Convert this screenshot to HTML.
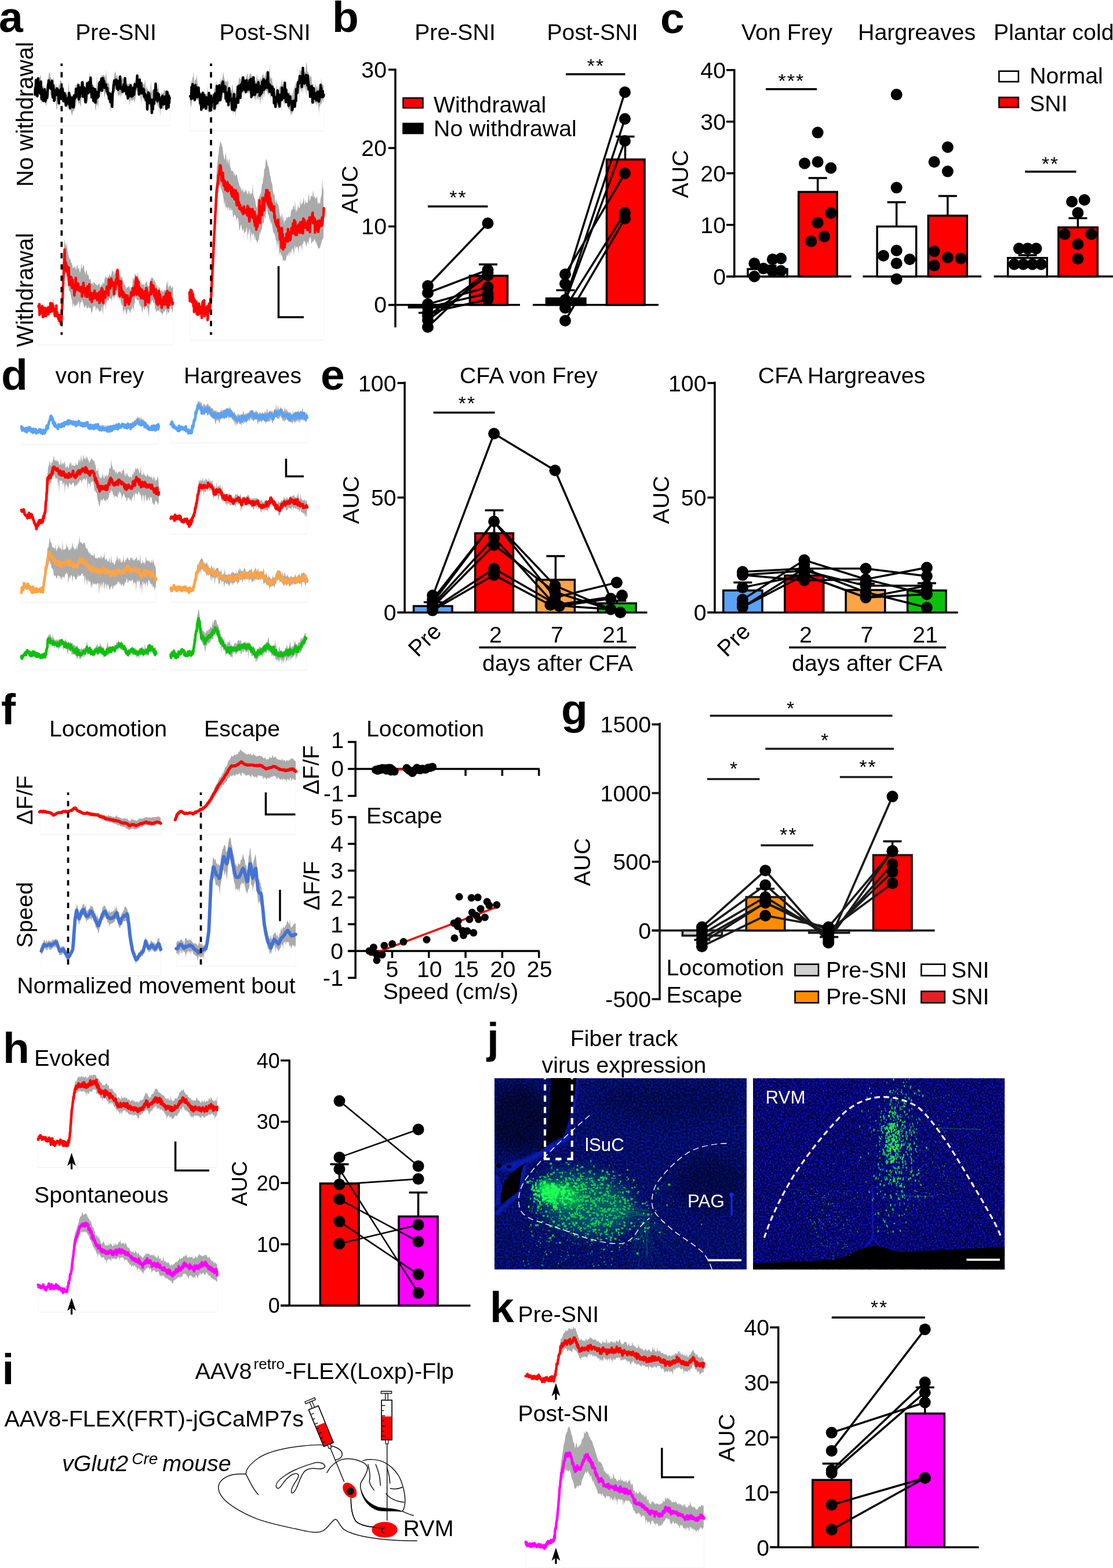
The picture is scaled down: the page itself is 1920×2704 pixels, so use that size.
<!DOCTYPE html><html><head><meta charset="utf-8"><title>Figure</title><style>html,body{margin:0;padding:0;background:#fff}svg text{white-space:pre;stroke:none}</style></head><body><svg width="1920" height="2704" viewBox="0 0 1920 2704" font-family="Liberation Sans, sans-serif" stroke="#000" fill="#000" style="display:block"><defs><filter id="sp1" x="0" y="0" width="1" height="1" color-interpolation-filters="sRGB"><feTurbulence type="fractalNoise" baseFrequency="0.3" numOctaves="3" seed="7"/><feColorMatrix type="matrix" values="0 0 0 0 0.03  0 0 0 0 0.09  0 0 0 0 0.72  0 0 3.0 0 -1.25"/></filter><filter id="sp2" x="0" y="0" width="1" height="1" color-interpolation-filters="sRGB"><feTurbulence type="fractalNoise" baseFrequency="0.36" numOctaves="3" seed="11"/><feColorMatrix type="matrix" values="0 0 0 0 0.07  0 0 0 0 0.07  0 0 0 0 0.92  0 0 4.2 0 -2.02"/></filter><filter id="b6" x="-0.5" y="-0.5" width="2" height="2"><feGaussianBlur stdDeviation="6"/></filter><filter id="b12" x="-0.5" y="-0.5" width="2" height="2"><feGaussianBlur stdDeviation="14"/></filter><filter id="b1" x="-0.1" y="-0.1" width="1.2" height="1.2"><feGaussianBlur stdDeviation="0.7"/></filter><filter id="b2" x="-0.3" y="-0.3" width="1.6" height="1.6"><feGaussianBlur stdDeviation="2.2"/></filter><clipPath id="c1"><rect x="853" y="1859.3" width="435" height="330"/></clipPath><clipPath id="c2"><rect x="1299" y="1859.3" width="434.3" height="330"/></clipPath></defs><g stroke="none"></g><g id="panel_a">
<text x="-2" y="55" font-size="75" font-weight="bold">a</text>
<text x="200" y="69" font-size="39.3" text-anchor="middle">Pre-SNI</text>
<text x="457" y="69" font-size="39.3" text-anchor="middle">Post-SNI</text>
<text x="57" y="197" font-size="39.8" text-anchor="middle" transform="rotate(-90 57 197)">No withdrawal</text>
<text x="57" y="500" font-size="39.8" text-anchor="middle" transform="rotate(-90 57 500)">Withdrawal</text>
<path d="M61 217H293" fill="none" stroke="#ededed" stroke-width="1"/><path d="M61 163V217M293 217V168" fill="none" stroke="#f7f7f7" stroke-width="1"/>
<path d="M60.3 148.5l1-1.2 1-9 1 8.3 1-7.3 1 2.4 1-7.5 1 5.2 1-6 1-2.3 1-2.1 1 17 1-4.5 1 8.1 1 1.2 1-4.6 1 5.2 1 0 1 4.4 1 2.6 1-7.1 1-12.9 1-2.1 1 .1 1-8.7 1-3.9 1 4.9 1 5.6 1-.5 1 4 1 5.8 1 6 1-19 1 12.3 1 7.1 1 2 1-9.6 1 7.8 1-.3 1 .8 1 .4 1-3.1 1-3.5 1 2.4 1-9.4 1 1.9 1-.2 1 9 1 1.5 1 0 1-1 1 11.1 1 1.4 1 3.4 1-6.5 1 .4 1 7.2 1-2 1-23.9 1 20.4 1-3.5 1 4.4 1 .7 1 2.7 1 1.5 1-3.6 1 5.9 1 0 1-6.1 1-6.1 1-7 1-3.4 1 2 1-4 1-2.4 1 7.1 1-3.6 1 7.1 1 2.7 1-3.1 1-4.9 1-7.7 1 2.5 1 .2 1-5.1 1 14.1 1-1.2 1 8.7 1-8.7 1 2.8 1-1.5 1-10.6 1-2.1 1 1.4 1-16.8 1 15.2 1 1.2 1 2.9 1 3.1 1-.4 1 1.8 1 1.9 1-3.2 1 11 1 1 1-3.8 1 3.3 1-30.4 1 28.5 1-4.3 1-7 1-.8 1-3.4 1-6.2 1 3.1 1-8.3 1 4.6 1-2.4 1-1.5 1 1 1 3.7 1-5.2 1 10.3 1-17.7 1 18.4 1 4.4 1-.2 1-1.7 1 4.2 1 9.5 1 4.3 1 1.1 1 5 1-12.2 1-12.8 1-.8 1-4.3 1-7 1-4.1 1-2 1 10.2 1-4.3 1 8.1 1-8.6 1 9.3 1 .7 1-1 1 .8 1-1.2 1 3.9 1-5.3 1-.7 1 .2 1 3.2 1-3.6 1-2.5 1 3.3 1 .7 1 6.3 1 2.1 1 .7 1 1.1 1-2 1 .7 1-2.8 1 7.6 1-8.4 1 10 1-7.7 1 6.8 1-3.5 1-3 1-6.1 1 5.5 1-7.3 1-1.5 1-2.6 1-3.1 1 5.8 1 4.1 1 .3 1-8.1 1 9.6 1-.5 1 2.1 1-.4 1 .5 1 2.6 1 2.2 1-3 1-7.9 1 16.9 1 .6 1-5.7 1 6.9 1-1.6 1 8.2 1-5.9 1 6.5 1-3 1-20.9 1 22.3 1-3.1 1-1.3 1-.8 1 0 1-7.4 1-2.1 1-4.4 1 3.7 1 9.5 1-.4 1-.1 1-10.3 1 16.1 1 3.3 1 3.7 1 .6 1-9.2 1 5.4 1-3.7 1 2 1-1.7 1-8.1 1 6 1-2.9 1 6.6 1-1.9 1-1 1-.6 1-1.2 1 .6 1 3.6 0 20.6-1 6.1-1-4.1-1-.5-1 8.2-1-6.2-1-2.2-1 2-1-4-1 2-1 4.8-1 1-1-.9-1-3.2-1 3.3-1-2.5-1 16.3-1-18.9-1-4.1-1 10.9-1-11.8-1 5.2-1-2.3-1-9.4-1-2.8-1 14-1-8.5-1 7.4-1 6.1-1-4.6-1 7.6-1 5.3-1-5.6-1-4.2-1-2.5-1-3.2-1-1.4-1 6.1-1-1.1-1-4.6-1-6.5-1 1.3-1-3.8-1-3.1-1 7.6-1-2.6-1-6.6-1-2.1-1 19.2-1-24.7-1 19.4-1-19.1-1 .8-1-2.6-1-3-1-2.4-1 8.9-1-4.4-1 8.4-1 7.3-1 7.3-1-7.8-1 1.5-1 1.7-1-2.3-1 1.6-1 .9-1-4.9-1 7.7-1 4.8-1-18.5-1 8.7-1-9.4-1 .6-1 5.1-1-10.1-1 2.4-1 .5-1-3.9-1 1.9-1 2.8-1-.1-1-2.2-1 8.2-1-7.6-1 8.4-1-6.6-1 1.5-1 2-1-.8-1-8.7-1-2.5-1-.8-1-.2-1 5-1-6.2-1 8.3-1 12.1-1-3.7-1 8.9-1 6.6-1 .9-1 8.3-1-18.7-1 9.7-1-12.8-1-2.1-1-3.6-1-4.5-1-.7-1 .2-1 4.1-1 5.2-1-10.6-1-7.8-1 5.4-1-2.3-1 13.8-1-11.8-1 4.1-1 .9-1-.5-1 7.2-1 20.5-1-10-1 2.6-1 .3-1 9.9-1-4.4-1-10.9-1 4.4-1-8.8-1-2.8-1-.6-1 0-1-2.8-1-7-1 6.6-1-2.5-1-.8-1 3.5-1 14.4-1-10.2-1 11.2-1-5.2-1 6.2-1-3.8-1-6.7-1-6.8-1-1.8-1-1-1 3.8-1 6.4-1 12.5-1-2.7-1-4.7-1 1.5-1 2.4-1-7.9-1-3.4-1 1-1 14.7-1-11.5-1 10.4-1 5.5-1 2.6-1-1.5-1 4.6-1 4.3-1-3.2-1-4.5-1-4-1-5.1-1-.3-1 2.2-1 3.8-1-5.4-1 2-1-3.9-1 .8-1 .1-1-2-1-3.4-1-3.5-1-2.5-1 2.8-1-2.4-1-.2-1 1.3-1-.5-1-1.1-1 9.7-1-5.5-1 .1-1 14.2-1 0-1-16.6-1 1.3-1 1.7-1-6.1-1 4-1 .3-1-9.8-1 4.7-1-6.8-1 5.2-1-15.7-1 .4-1-1.8-1 10.7-1 7.9-1 7.6-1 7.7-1-7-1 4.9-1-4.8-1-4-1 8.5-1-12.8-1 8.4-1-6.4-1 10.4-1-18.7-1-3-1-1.6-1 3.6-1 5.7-1-3.9-1 6.7-1-1.9-1-1.2-1 .5-1 4.6z" fill="#aaa" stroke="none"/>
<path d="M60.3 163.1l.6-11.6 .6 3.7 .6-17 .6 12.3 .6 6.3 .6 .3 .6 8.7 .6-20.9 .6-9.7 .6 18.9 .6-8.5 .6 6.5 .6 2.6 .6-.5 .6 7.2 .6 .3 .6-21.1 .6 13.8 .6 16.5 .6-17.2 .6 11.4 .6-6.1 .6-2.3 .6 17.2 .6-3.9 .6-8.6 .6 8.1 .6-15.5 .6 6.9 .6 13.6 .6-5.1 .6-10 .6 8.8 .6-4.7 .6 5.6 .6-5.6 .6-13 .6-5.1 .6-1.5 .6-5.1 .6 8.6 .6 2.5 .6 1.5 .6-6 .6-2.6 .6 10.2 .6-8.2 .6 7.2 .6-12.5 .6 12 .6 16.4 .6-15 .6-5.7 .6 12.7 .6 13.8 .6-.9 .6-14.8 .6 1.3 .6 1.7 .6-5.4 .6 8 .6-.4 .6-10.5 .6 8.7 .6 2.7 .6-5.5 .6-3.4 .6 16.1 .6 7.1 .6-17.3 .6-1.2 .6 6.2 .6-5.7 .6-5.8 .6 15.2 .6-17.1 .6 2.2 .6-.8 .6-.6 .6 6.4 .6 5.9 .6 8.7 .6-2.5 .6-3.4 .6-7.9 .6 9.3 .6-5.7 .6 8.7 .6 8.8 .6-6.8 .6-1 .6-2.9 .6 4.1 .6 .2 .6-6.6 .6 1.3 .6 9.5 .6-19.2 .6 9.9 .6-4.5 .6 20.9 .6-7 .6 1 .6-.2 .6-.7 .6 1.5 .6-12.9 .6 13.6 .6 2.8 .6-16.2 .6 16.5 .6-2.3 .6-18.4 .6 5.6 .6-.3 .6-4.8 .6 3.2 .6-15 .6 5.3 .6 1.1 .6 1.1 .6-2.9 .6-.1 .6 8.6 .6-19.6 .6 24.8 .6-7 .6-5.8 .6 8.4 .6-11.3 .6-4.7 .6 7.9 .6-5.8 .6 7.8 .6-14.7 .6-4.3 .6 4.7 .6 20.1 .6-11.3 .6-3.9 .6-.7 .6 1.2 .6 9.2 .6 6.8 .6 8 .6 .2 .6-8.6 .6-8.4 .6-2.8 .6-12.8 .6 7.5 .6 9.8 .6-7.4 .6 2.7 .6-14 .6 16.4 .6-6.9 .6-3.1 .6 4.9 .6-19.5 .6 13.4 .6-.1 .6 20.6 .6-13.6 .6 0 .6 12.1 .6-14.1 .6 21.5 .6-15.3 .6 6.2 .6-4.8 .6 15.4 .6-21.5 .6 23.1 .6-11.4 .6 3.7 .6-10.6 .6 9.4 .6-1.9 .6 2.3 .6-3.2 .6 1.6 .6-.7 .6-13.5 .6-8.7 .6-2.2 .6 11.4 .6-7.6 .6 9.9 .6-9.7 .6-10.1 .6 13.4 .6 7.3 .6-15.6 .6-6.1 .6 1.9 .6 13.7 .6-10.7 .6 2.1 .6 9.6 .6-4.2 .6 3.2 .6-4.8 .6 1.1 .6 5.6 .6 2.5 .6 3 .6-5.6 .6 8.1 .6 3.1 .6-2.7 .6 4.2 .6 5.8 .6-5.1 .6 1.2 .6-5.2 .6 14.4 .6-3.1 .6 1 .6-4.1 .6 6.5 .6 8 .6-19.4 .6-6.6 .6-.4 .6-11.3 .6 1.4 .6-8.9 .6 .1 .6 5.2 .6-1.5 .6-.8 .6-4.4 .6 8.5 .6-7.8 .6 14.8 .6-7.9 .6 3 .6 6.6 .6-1.6 .6-13.1 .6 7.6 .6 4.7 .6-9.6 .6-10.5 .6 18 .6 .3 .6 3.1 .6-3.5 .6 0 .6 .8 .6 7.5 .6-6.8 .6 0 .6-6 .6 11.2 .6-8.4 .6 7.9 .6-21.4 .6 18.3 .6-2.2 .6-3.2 .6 14.7 .6-5 .6-4.3 .6-2 .6 18.5 .6-8.9 .6 .2 .6-10.6 .6 15.6 .6-5.2 .6-4.7 .6 .9 .6-9.8 .6 16.4 .6-12 .6 15 .6-8.4 .6-2.3 .6 9.4 .6-1.4 .6-12.3 .6 7.2 .6 4.2 .6-8.5 .6-9.4 .6 7.9 .6-6.8 .6 1.4 .6 2.1 .6-2.6 .6-4.4 .6-12.2 .6 15.3 .6-1.8 .6-.8 .6 6 .6 13.8 .6-22.7 .6-2.9 .6 17.9 .6-11.3 .6 16.3 .6-16.9 .6 5.6 .6 10.3 .6 1.8 .6-2.5 .6 .3 .6-5.4 .6-.2 .6 1.9 .6 11.6 .6-2.4 .6-2.5 .6 2 .6 5.4 .6 3.7 .6-8.3 .6 .2 .6 5.8 .6 18 .6-18 .6 7.7 .6-18.9 .6 18.2 .6-16.6 .6 5 .6 4.4 .6 3.5 .6 2 .6 2.4 .6-1.9 .6-4.6 .6 22.8 .6-16.6 .6 1.1 .6 9.3 .6-9.5 .6-5.1 .6-3.8 .6 8.7 .6-23.3 .6-.9 .6 6.5 .6-16.6 .6 11.6 .6 15.3 .6-9.3 .6 7.1 .6 5.4 .6-13.6 .6 10.8 .6-6.3 .6-3 .6 6.8 .6 3.2 .6 .2 .6-1.6 .6 13.1 .6 1.3 .6-5.3 .6-6.3 .6-6.6 .6-.5 .6-1.6 .6 10.2 .6 4.6 .6-1.7 .6-6.4 .6-4.7 .6 4 .6-.5 .6 3.3 .6 5.6 .6-14.1 .6 22.2 .6-29.6 .6 1.2 .6 2.9 .6 1.7 .6 5.1 .6 16.2 .6-20.1 .6 12.5 .6-9.2" fill="none" stroke="#000" stroke-width="4.4" stroke-linejoin="round" stroke-linecap="round"/>
<path d="M328 226H559" fill="none" stroke="#ededed" stroke-width="1"/><path d="M328 166V226M559 226V163" fill="none" stroke="#f7f7f7" stroke-width="1"/>
<path d="M328.1 148l1-1.6 1-8.4 1 5.5 1-10.2 1-.4 1-10.3 1 26.2 1-11.3 1-.5 1 1.2 1-10.8 1 11.1 1 6.2 1 4.3 1 1 1 1.7 1 6.5 1-.2 1 4 1-1.2 1 .4 1-2.2 1-2.8 1 5.5 1-3.7 1 4.8 1-1.4 1 1 1 .4 1-14 1 14.3 1-1.8 1 .2 1-1.3 1 3.1 1 .2 1-1.1 1 3.7 1-5.2 1 1.1 1-3.2 1-14.3 1 12.7 1-20.2 1 19.4 1-20 1 16 1-.9 1-5.1 1-2.3 1 2.6 1-13.1 1 8.3 1-4.5 1-.7 1-3.3 1-10.5 1 8.7 1 4.1 1 3.2 1 2.3 1-.6 1-.8 1 2.2 1-7.2 1 18.5 1-3.3 1 5.4 1 .1 1-1 1 3.1 1-4.7 1-10.7 1 19 1-2.6 1-4.4 1 6.6 1 1 1-.6 1-11.4 1-1.3 1 .5 1-3.3 1-9.3 1-3.9 1 3.7 1 .7 1-1.8 1-6 1 7.4 1-4.1 1-1.2 1 .7 1 3.6 1 5 1-6.2 1-.7 1-7.3 1 1.7 1 10.2 1-3.3 1-3 1-4.9 1-.2 1 1 1 3.6 1-1.2 1 8.7 1-8.2 1 5.9 1 .7 1 .9 1 3.1 1-.8 1-15 1 12.8 1-3.6 1 4.2 1-3.3 1 8.3 1-12.1 1 5.3 1 .4 1-7.1 1-.3 1-3.8 1 6 1 2.7 1-5.1 1-7.2 1 9.6 1-.1 1-1.5 1-6 1 9.2 1-.3 1-24.2 1 27 1-4.9 1 4.9 1-2.4 1 9.9 1 2.6 1 .2 1 5.6 1 1.7 1 7.5 1-1.3 1-17.5 1 10.6 1-.8 1 1.2 1 1.9 1-3.8 1-3.7 1-1.7 1 4.4 1-15.4 1 8.9 1 1.5 1 1.3 1-2.9 1 2.5 1 1.7 1 1.7 1 2.3 1 1.9 1 3.9 1 2.4 1-1.7 1-1.7 1 3.2 1 2.3 1 3.8 1-2.2 1-6.9 1 12.4 1-14 1-.9 1-8.2 1 6.2 1-11.5 1 2.7 1-.5 1-8.9 1 5.9 1-5.9 1-.7 1-13.6 1-.9 1 4.2 1-3.6 1 5.8 1-3 1-5.9 1 6.4 1 .1 1 2.7 1-4 1-11.4 1-3.8 1 15.4 1 2.2 1 .5 1 8.6 1 6.1 1-11.5 1 4.7 1-1.9 1 13.5 1 1 1-1.6 1 4.9 1 3.4 1 4.6 1-15.9 1 10.1 1-3.3 1 8.1 1-10.8 1 8.8 1 1.2 1-2.9 1-3.6 1-1 1-13.4 1 15.5 1-4.9 1 .4 1 3.4 0 28.9-1-3.1-1-3.9-1 7.1-1 3.3-1-4.4-1 8.1-1-1.8-1 12.7-1-14-1-3.7-1-.6-1 6.9-1-10.9-1 7.4-1-4.6-1 1.1-1 3.4-1-4.6-1-6.1-1-4.1-1 18.9-1-21.8-1 6-1-1.4-1-11.2-1-.6-1-3.9-1-2.1-1 .3-1 16.7-1-22-1 12.6-1-11.3-1 10.3-1-11.7-1 19.4-1-16.6-1 13.4-1-5.1-1-2.3-1-1.9-1 18.1-1-11-1 2.8-1 3.8-1 9.1-1-.8-1 7.7-1-7.3-1 12.2-1-4.4-1 8.6-1 5.6-1-2.6-1 6.1-1-4.4-1 4.4-1-10.2-1 .1-1-1.7-1-.2-1-3.2-1-3.7-1-3.3-1-5.4-1-5-1 16.6-1-15.7-1 12.9-1-6.5-1-.5-1-1.4-1 19.1-1-17.6-1 3.1-1 7.8-1 .2-1 4.1-1-10.2-1 5.9-1 1-1 .1-1-4.6-1 .7-1-5.3-1-1.7-1-3.1-1-2.2-1-2.8-1-2.8-1 7.9-1-9.5-1-2-1-1.4-1 5.1-1-.6-1-5-1-1.4-1 0-1-1.6-1 2.6-1 10.6-1-7.5-1 1.4-1 12.8-1-14.2-1 10.1-1-3.9-1 14.2-1-11.3-1-3.9-1 7.8-1-6.6-1 5-1-3.7-1-7.8-1 16.6-1-11.2-1 6.2-1-7.7-1-1.5-1 .7-1-.3-1-3.4-1 3.4-1-1.8-1 1.7-1-5-1 1.2-1 .7-1 .4-1-2.8-1 .2-1 1.1-1 5-1-5.7-1-1.2-1 8.5-1-10-1 5.7-1-3.3-1 14.2-1-7.2-1-3-1-1.8-1 4.6-1 9.2-1-2.2-1 7.1-1 14.4-1-8.4-1 17.8-1-14.8-1 1.3-1-1.1-1 11.1-1-15.2-1 7.4-1-10.1-1 8.2-1-11.1-1-2.6-1 6.1-1-8.6-1 .8-1-2.1-1-3.3-1-1.2-1-5-1 1.5-1-3.1-1-2-1-.7-1 12-1-3.7-1 3.8-1-2.9-1 2.2-1 11.9-1-12.5-1 15-1-7.3-1 9.1-1-12-1 16.3-1-8.4-1 10.6-1-5.9-1-.8-1 7.9-1-8.6-1 7.2-1-2.1-1 2.7-1-8.2-1 9.4-1 .4-1-3.5-1 3.6-1-7.4-1 4.6-1-4-1-2-1-1.9-1 4.3-1-3.3-1-3.5-1 4.8-1-1.7-1 9-1-10-1 9.7-1-12.2-1 1.2-1 .5-1-8.8-1-2.5-1 .9-1-1-1 .8-1-2-1-1.3-1 3.7-1 2.4-1-8.1-1 1.4-1 6.1-1 9.1-1 .8-1-7.4z" fill="#aaa" stroke="none"/>
<path d="M328.1 165.7l.6 0 .6 1.2 .6 3.7 .6-20.2 .6 10.8 .6 7.1 .6-23 .6 13.7 .6 3.5 .6 7.6 .6 .3 .6-11.8 .6 14 .6-23.9 .6-1.9 .6 19.7 .6-3.7 .6-11.7 .6 16.3 .6 0 .6 .1 .6-9.5 .6-5.7 .6-1.2 .6 11.8 .6 1.4 .6-.9 .6 2.5 .6 12.1 .6-15.1 .6 4.1 .6 22.3 .6-21.3 .6 1.6 .6 12.6 .6-22 .6 25.2 .6-21.8 .6 2 .6-2.1 .6 3.8 .6 1.9 .6 13.2 .6-6.1 .6 11 .6-5.1 .6-14.3 .6 9.2 .6-5.4 .6 1.7 .6 4.4 .6 .8 .6 1.5 .6-19.7 .6 14.2 .6-2.9 .6 18.9 .6-16.3 .6 2.8 .6 .9 .6 5.9 .6-15.4 .6 7.7 .6-1.1 .6-.9 .6-2 .6-2.5 .6 4.4 .6-10.5 .6 23.6 .6-12.5 .6-13.5 .6 9.8 .6 8 .6-11.8 .6-.4 .6-18.4 .6 29.1 .6-11.4 .6-16 .6 10.8 .6 12.4 .6-11.1 .6-15.1 .6 7.8 .6 3.9 .6 13.7 .6-15.2 .6 4 .6-9.5 .6 2.2 .6-8.7 .6-2.1 .6-2.3 .6 4.2 .6 12.7 .6-10.2 .6 10.9 .6-2.5 .6-3 .6-3.7 .6 21.1 .6-7.3 .6 1.7 .6 10 .6-5.9 .6-9 .6 2.1 .6 4.7 .6 14.7 .6-23.9 .6-5.2 .6 10.4 .6 3.1 .6-4.2 .6 11.9 .6-.9 .6-2.5 .6 1.2 .6 14.9 .6 3 .6-1.3 .6-16.4 .6 13.4 .6-16.9 .6-5.6 .6 27.8 .6-6 .6-2.6 .6 3.8 .6 0 .6-12 .6-2.5 .6-.1 .6-.2 .6-6.4 .6-14.8 .6 27.7 .6-28.1 .6-1 .6 6.3 .6-5.9 .6 3.8 .6 16.5 .6-8.1 .6-14.8 .6 6.5 .6-3.9 .6 7.8 .6-15 .6-.7 .6-6.9 .6 15.4 .6-.2 .6 3.7 .6 2 .6-15 .6 8.8 .6-5.5 .6 15.9 .6-3.2 .6-17.1 .6 13.1 .6-1.9 .6-.1 .6 4.9 .6-9.9 .6 1.9 .6-4 .6 .4 .6-4.5 .6 16.7 .6-3.5 .6-5.2 .6-10.4 .6 31.6 .6-16.9 .6 1.9 .6 2.4 .6 8.9 .6-15.7 .6-14.7 .6 14.9 .6 3.2 .6-5 .6 17 .6-15.2 .6 5.5 .6-7.8 .6 12.8 .6-11.6 .6 11.8 .6-4.6 .6 .9 .6 .5 .6-13.8 .6 10 .6 5.8 .6-6.2 .6 13.3 .6-3.2 .6-13 .6 13.5 .6-10.9 .6 3.8 .6 4.6 .6-18.8 .6 2 .6 6.6 .6-1.4 .6-11.5 .6 18.3 .6-3.7 .6-.4 .6-.6 .6 1.5 .6-12.3 .6 7.4 .6-7 .6 0 .6-2.6 .6 14.2 .6-26.7 .6 13.5 .6 12 .6-5.3 .6 .4 .6 13 .6-12.2 .6 5 .6 5.8 .6-8.3 .6 .8 .6 5.3 .6 8.6 .6-13.3 .6 14.4 .6-3.9 .6-.8 .6-6.2 .6 24.6 .6-8.3 .6 1.4 .6-3.9 .6 16.9 .6-14.8 .6-1.5 .6 .4 .6 4.8 .6 .7 .6-17.6 .6 15.2 .6-.1 .6 5.9 .6-9.3 .6 11.8 .6 3.9 .6-20.4 .6 2.1 .6 7.6 .6 .2 .6-8.9 .6 8 .6-20.7 .6 18.2 .6-3.5 .6 2.6 .6-2.8 .6 .1 .6-9.8 .6 12.8 .6-26.5 .6 17.7 .6-6.4 .6 22.1 .6-21.3 .6 11.8 .6 0 .6 9.2 .6-5.6 .6-7.2 .6 8.5 .6 10.9 .6-2 .6-11.2 .6-2.4 .6-.4 .6 9.7 .6 .1 .6-.6 .6-1.1 .6 6.8 .6 8.6 .6-1 .6-10.9 .6 7.1 .6-11.1 .6 10.2 .6-5.7 .6-4 .6 9.4 .6-10.9 .6-1.7 .6 3.1 .6-20.6 .6 1.6 .6-1.2 .6 5.9 .6-8.3 .6-9.8 .6 1.6 .6 1 .6-2.1 .6-1.2 .6-10.1 .6 11.4 .6-10.7 .6 6.1 .6-1.8 .6 1.9 .6 11.8 .6-15.8 .6 .5 .6-17.3 .6 11.5 .6 10.4 .6-3 .6 8 .6-8.6 .6 7.4 .6-6.6 .6 5.3 .6-12.1 .6 9.2 .6-6.7 .6 .7 .6 14.8 .6-17.2 .6 5.2 .6 18.9 .6-8.7 .6 4.5 .6 1.3 .6-1.2 .6 16.5 .6-13.9 .6 10.7 .6-11.1 .6-3.9 .6 5.1 .6 2.9 .6 20.1 .6-22.3 .6 10.8 .6-13.1 .6 16.3 .6-2.7 .6 4.3 .6-4.3 .6-4.8 .6 3.9 .6 0 .6 8.3 .6-7.2 .6 .3 .6-8.1 .6 14.2 .6-8.1 .6-5.2 .6 16.1 .6-3.1 .6-6.5 .6 .6 .6-10.5 .6-9.2 .6 18 .6-12.5 .6 15.7 .6-8.9 .6 3.8 .6-5.2 .6 7.4 .6 2 .6-3.4" fill="none" stroke="#000" stroke-width="4.4" stroke-linejoin="round" stroke-linecap="round"/>
<path d="M66.5 595H298.5" fill="none" stroke="#ededed" stroke-width="1"/><path d="M66.5 528V595M298.5 595V522" fill="none" stroke="#f7f7f7" stroke-width="1"/>
<path d="M66.5 529.2l1-4.9 1 3.7 1 .9 1-6.9 1 9.6 1-2.6 1 1.1 1-1.1 1-1.2 1 4.7 1-4.4 1-.7 1 3.5 1-3.5 1-.8 1 7.3 1-3.9 1 1.5 1-6.7 1 4 1-.6 1-1.5 1-1.2 1 4.4 1-15.1 1 4.9 1 13.9 1-1.5 1 3.7 1-1.9 1 3.4 1 2.5 1 2.3 1-1.9 1 2.7 1 2.3 1 2 1-8.3 1 4.2 1-7 1-24.1 1-27 1-34.7 1-24 1-14.2 1 8 1 2.1 1 5.5 1-10.6 1 15.5 1 6.4 1 1.2 1 5 1 3.3 1-3.4 1 6.8 1 1.7 1 1.6 1 7.8 1-2 1 1.1 1-1.4 1-2.6 1 5.9 1 1.8 1-7.8 1-.9 1 4.8 1 2.8 1-3.4 1 8.1 1 .4 1-7.6 1-8.3 1 9.8 1-1.7 1-5.6 1 .7 1 9 1 3.6 1 5 1-9.9 1 2.1 1 5.7 1 2.3 1-1.8 1 7.1 1 2.6 1-2.2 1 1.3 1 7 1 .4 1-2.6 1 5.9 1-6.3 1 .3 1 1.3 1 3.2 1-3 1 4.2 1-1.6 1 2.5 1-3.1 1-.6 1-2.1 1 7.2 1-.4 1-4.2 1 2.2 1-1.2 1-5.2 1 3 1-.5 1-7.2 1-5.3 1 3.9 1-2.6 1 2.9 1-1.9 1-2.1 1 3.2 1-7.3 1 2.9 1 2.2 1-1.4 1-4.3 1-7 1 4.9 1-3.4 1 11.3 1-7.5 1-3.9 1 5.9 1-.2 1-6.3 1 .7 1-1.5 1-2.1 1 11.1 1 1.3 1 .3 1 3.6 1-.5 1-.7 1 4.5 1 4.3 1 1.3 1 4.3 1-2.1 1 4.2 1 4.6 1-3.8 1 1.8 1-1.1 1-.6 1-2.1 1 3.5 1 5 1-6.8 1 1.6 1-.2 1-5.7 1-14.2 1 7 1-2.3 1-9.2 1 2.1 1 .5 1 2.2 1 3.4 1-11.1 1 8.7 1 5.4 1 1.9 1-2.4 1 5.5 1-1.6 1 5.5 1-1.6 1-.1 1 2.2 1-3.5 1 8.1 1-9.1 1 0 1-.5 1-3 1 8.3 1 .8 1 1.9 1-3 1-5.6 1-2.8 1-3.5 1-1.6 1 0 1 1.1 1 1 1 6 1-5.4 1 6 1 .3 1 8.7 1-7.9 1 6.6 1 5.6 1-8.6 1 5.9 1-3 1 5.8 1 2.7 1-2.2 1-2.6 1 4.4 1 .9 1-3.8 1 1.1 1-1.1 1 1.4 1-6.4 1-11.1 1 10.4 1-11.9 1 17 1-5.1 1-1 1-2 1 2.1 1 3.2 1 .4 1-3.9 1 2.9 0 35.1-1 9-1-6.3-1-.9-1-5.5-1 2.3-1 6-1 3.1-1 1.6-1-1.2-1-3.9-1 11.2-1-13.8-1 1.5-1 2.4-1 1.1-1-1.5-1 4.2-1-.3-1 5.6-1-7.2-1 1.1-1-1.2-1-7.4-1 8.3-1-4.6-1 .7-1 .8-1 .8-1 3-1-9.9-1 5.4-1-12.6-1-1.7-1 2.8-1-7.2-1 1.9-1 1.2-1 2.9-1 2.5-1-.1-1 8.4-1 14.5-1-9.9-1-9.9-1 8.9-1-11.8-1 5.2-1 0-1 3.9-1-.5-1-5.7-1 2.9-1 10.1-1-5.9-1-8.8-1 3.9-1-7.6-1 6.3-1-11.8-1 2-1-3.8-1 3.5-1-2.5-1-3.3-1-1.1-1 12.7-1-2.8-1 14.2-1-4.1-1-5.7-1 8-1-1.9-1 5.1-1 3.2-1-5.1-1-1.7-1-.7-1 0-1 3.8-1 5.5-1-.7-1-7.6-1-3.4-1 7.7-1-5.3-1 10.4-1-18.4-1 2.8-1-4-1-2.2-1-8.4-1 5.9-1-10.1-1-1.5-1 1.8-1 5.9-1-13.8-1 8-1-1.9-1 .6-1 3.8-1 4-1-4.7-1-.6-1 2.6-1 7.2-1-7.8-1 3.3-1-1.4-1-1.8-1 5.8-1 .4-1-3.1-1 6-1-2.3-1 16.7-1-14.7-1 4.6-1 .4-1 .6-1 16.4-1-12-1-4-1 9.4-1-1.6-1 .6-1 2.1-1-2.4-1-2.3-1-3.9-1 4.1-1-3.7-1 6.7-1-7.8-1-2.3-1 4.1-1-3.9-1 2.8-1 8.2-1-1.7-1 5.7-1-10.2-1-.9-1 .1-1 .1-1-3.6-1 5.2-1-1.4-1 .8-1-7.2-1 3.5-1 2.1-1 .4-1-4.2-1-4.3-1-1.4-1-5.3-1 5.8-1-1-1 2.3-1 11.1-1-11.6-1-4-1 5.1-1 .2-1 2.9-1-1.3-1 3.9-1-3-1 3.5-1-5.8-1-.1-1 8.3-1-12.1-1-4.4-1-4.7-1-5.4-1-2.6-1-1.3-1-2.9-1-9.3-1-3.3-1-3.9-1-4.9-1-6.2-1 3.7-1-15.2-1 11.9-1 19.4-1 32.1-1 11.7-1 13.6-1 15.8-1-8.7-1-.5-1-3.7-1 .2-1 2.2-1 2-1-8.7-1 .8-1-4.1-1 .2-1 .6-1-4.9-1 7.7-1-9.8-1 3.2-1-4.4-1 2.6-1 .2-1-2.2-1 5.5-1 2-1-6.4-1 10.4-1-4.7-1 7.6-1-14.1-1 1.4-1-.5-1 3.1-1-2.6-1 5.8-1 1-1-6.5-1 .1-1-.6-1 .6-1 .7-1 8.3-1-5.2z" fill="#aaa" stroke="none"/>
<path d="M66.5 527.6l.6 3 .6-6.2 .6 18.5 .6-2 .6-2.5 .6-.1 .6-7.2 .6 .4 .6 7.6 .6-10.9 .6-.3 .6 17 .6 1.8 .6-9.4 .6 2.1 .6-2.2 .6 8.1 .6-14 .6 3.8 .6 2.7 .6 6.9 .6-11.9 .6 3.8 .6-3.7 .6-1.1 .6-.3 .6 5.6 .6 4.7 .6-11.9 .6 .6 .6 1.5 .6 4.9 .6 1.2 .6-15.5 .6 12.2 .6-9.9 .6 12.2 .6-13.6 .6-.1 .6 3.9 .6 5.1 .6-5.5 .6 9 .6-.1 .6 1.1 .6 2.7 .6 5.2 .6-11.6 .6 6.1 .6 .9 .6-13.3 .6 18.5 .6-7.5 .6 2.2 .6 2.2 .6 5.1 .6 2.3 .6 1 .6-7.6 .6 10.6 .6-1.6 .6-3.5 .6 3.4 .6 6.5 .6-6.5 .6-.5 .6-12.9 .6-11 .6-10.9 .6-14.7 .6-16 .6-10.5 .6-16.7 .6-13 .6-15.4 .6 21.7 .6 6.9 .6 1.6 .6-7.3 .6 14.5 .6-9.1 .6 0 .6 7.6 .6 3.4 .6 1.3 .6 5.2 .6-15 .6 30.2 .6-12.6 .6 8.5 .6-10.2 .6 9 .6-.3 .6-7.9 .6 15.5 .6 3.1 .6-9.7 .6-4.2 .6 10.5 .6-2.5 .6 6 .6 .4 .6 12.5 .6-6.7 .6-5.5 .6 3.7 .6-21.7 .6 13.6 .6-3.4 .6 4.3 .6 1.3 .6-.6 .6 5.3 .6-10.8 .6 8.2 .6-1.9 .6 2.4 .6 4.2 .6-5.1 .6 3.6 .6-2.9 .6 5.3 .6-8.1 .6 1.5 .6 15.1 .6-14.7 .6-.8 .6 3.5 .6-11.7 .6 13.9 .6 1.4 .6-2.1 .6 4.9 .6-.3 .6 5.4 .6-13.6 .6 6.3 .6-6.8 .6 15.1 .6-7 .6-11 .6 10 .6-8.5 .6 15.7 .6-7.1 .6-13.6 .6 14.3 .6 11.9 .6-5.3 .6-6.3 .6 11.6 .6-1.8 .6 6 .6-3.9 .6-3.8 .6-7.2 .6 9.3 .6-2.6 .6-1.2 .6 3.1 .6-13.3 .6 12.1 .6-3.1 .6 1.4 .6-3.2 .6-2.4 .6 5.9 .6 5.6 .6-8.1 .6 5.7 .6-7.9 .6 9 .6-2.1 .6-9.6 .6 18 .6-13.1 .6 5.1 .6-10.1 .6-3 .6 17.2 .6-15.7 .6-5.7 .6 11.9 .6-9.5 .6 9.2 .6 13.7 .6-17.7 .6 4.1 .6-.6 .6-1.9 .6-3.2 .6 10.3 .6-11.2 .6 3.2 .6-1 .6-10.3 .6 9.9 .6-3.4 .6 4.2 .6-.7 .6 5.2 .6-27 .6 9.1 .6 .4 .6-2.4 .6 8.1 .6-4 .6 .4 .6-13.4 .6 4.3 .6 7.4 .6-2.5 .6-.8 .6 3 .6-.1 .6-4.3 .6 19.8 .6-18.5 .6 8.5 .6-.9 .6 2.3 .6-12.6 .6-4.4 .6 7.6 .6-2.3 .6-18.8 .6-2.6 .6 15.4 .6 2.2 .6 2.1 .6 8.1 .6-8.4 .6 26.4 .6-8.7 .6 3.4 .6-5.5 .6-15.5 .6 17.7 .6-3.5 .6 9.6 .6-3.7 .6 7.1 .6-9.3 .6 4.5 .6 2.9 .6-4.5 .6 2.5 .6 7.4 .6 10.4 .6-14.2 .6 8.5 .6-11.3 .6 5.2 .6 4.9 .6 1.6 .6-11 .6 11 .6-3.4 .6 7.3 .6-1.3 .6-2.2 .6-6.4 .6 4.8 .6-7 .6 1.2 .6-9.8 .6 1.5 .6-1.3 .6 5.5 .6-.3 .6-12.6 .6 6.2 .6 3.9 .6 1.8 .6-9.8 .6 1.7 .6-6.5 .6 8 .6-17.4 .6 11.6 .6-17.8 .6 29.5 .6-5.3 .6-20.9 .6 11.2 .6-5.2 .6-1.5 .6 10.4 .6-1.9 .6 15.1 .6-9.4 .6-3.4 .6 8.3 .6 5 .6 3.6 .6-1 .6-13.6 .6 2.7 .6 5.8 .6-4 .6 10.9 .6-5.4 .6 1.7 .6-2.8 .6 5 .6-11.5 .6 24.2 .6-19.7 .6-1.9 .6-7.9 .6 13.5 .6-9.1 .6 12.2 .6 6.9 .6-2.7 .6-7.8 .6 11.8 .6-12.4 .6-1.3 .6-.5 .6-3.6 .6 4.1 .6-14.5 .6-6.5 .6 20 .6-15 .6 3.3 .6 5.3 .6-4.2 .6-3.6 .6 8.7 .6-4.2 .6 13.5 .6-5.6 .6 .9 .6 8.7 .6-15.2 .6 4.1 .6 16.4 .6 3.5 .6-7.6 .6-3.3 .6 13.3 .6-5.1 .6 .7 .6-19.6 .6 11.8 .6-6.4 .6 1 .6 13 .6 3 .6-7.3 .6 2.1 .6 11.9 .6-4.6 .6-6.3 .6 4.5 .6-3.1 .6-9.1 .6 4.3 .6 5.5 .6 3 .6-13.5 .6 1.6 .6 1 .6-7.8 .6 18.6 .6-4 .6 5.1 .6-24 .6 10.1 .6 18.4 .6-21.9 .6-4.5 .6 13.3 .6 8.5 .6-8.5 .6-12.2 .6 10.5 .6-2.3 .6 1.1 .6 .2 .6 4.4 .6 3.1 .6 2.6 .6-2.7" fill="none" stroke="#f00" stroke-width="4.4" stroke-linejoin="round" stroke-linecap="round"/>
<path d="M327.5 587H559" fill="none" stroke="#ededed" stroke-width="1"/><path d="M327.5 504V587M559 587V359" fill="none" stroke="#f7f7f7" stroke-width="1"/>
<path d="M327 499.4l1 9.7 1-4 1 .2 1-8.1 1 1.3 1 1.2 1 2.6 1 11.9 1-.7 1 4.1 1 6.4 1-.5 1 5.7 1-14.1 1 11.1 1-3.5 1 5.4 1-4.1 1 5.6 1-5 1 2.7 1-1.5 1-1.9 1-1.5 1 2.5 1 3 1 5.8 1-3.3 1 6.9 1 5.5 1-5.3 1 1.9 1-8.7 1-11.6 1 5.6 1-6.4 1-9.7 1-21.6 1-17.2 1-22.8 1-22.5 1-29.1 1-32.3 1-3.8 1-26 1-22.1 1-20.3 1-10.3 1-9.2 1-5.9 1-11.4 1-2.5 1-10.2 1 6.5 1-1.7 1 7.3 1-.4 1 11.3 1 4.9 1 5.3 1 .4 1-11 1 2.2 1 15.8 1-9.6 1 4.9 1 7.8 1-11.7 1 2.1 1 12.2 1 1.9 1 5.5 1-1 1 1.5 1-1.4 1 3.6 1 6.1 1-8 1 8.3 1-2.1 1-2 1 2.3 1 7 1 3.5 1 2.5 1 4.5 1 2.3 1 .7 1 3.2 1 3.8 1-2.5 1-3.2 1 9.1 1-3.2 1 1.8 1-6.9 1 5.9 1-4 1 7 1 .2 1 .8 1-6.6 1 2 1 4.8 1-2 1 2.9 1-4.4 1 2.8 1-18.2 1 20.2 1 1.8 1 4.3 1 .7 1 8.1 1 4.6 1 3 1-3.8 1-15.2 1 5.7 1-8.1 1 2.8 1-8 1 4.4 1-10 1-9 1-.9 1-9.8 1-2.5 1-15 1 2.6 1-11.4 1-5.8 1 .1 1 4.5 1 7.2 1-1.1 1 4.9 1 7.1 1 6.3 1 1.2 1 8.8 1 1.2 1 5.5 1 9.4 1 7 1-5.9 1 11.2 1 5.1 1 3.6 1-9.7 1 9.1 1 1.9 1 .7 1 4.4 1 8 1 6.2 1 .8 1 5.7 1-12 1 6.3 1 9.3 1-10.9 1 17.5 1-7.5 1-2.2 1 2.9 1-8.1 1 2.6 1-.6 1 .1 1-3.6 1 3.4 1-1.1 1-1.5 1-8 1-2.7 1-.4 1-.8 1-7.8 1 2.9 1 6.9 1-18.3 1 17.7 1 3.8 1-5.9 1 3.9 1-11.8 1 5.4 1-.1 1 2.6 1-19.6 1 14.9 1-6 1 2.9 1-2.6 1-4.2 1-6.5 1 14.5 1-2.4 1-7 1 6.4 1-2 1 1.9 1-1.3 1-10.4 1-4.2 1 12 1-1.5 1-5.3 1-3.2 1 2.3 1 .5 1-12.6 1 11.1 1 3.5 1-4 1 6.1 1-2.5 1 .9 1-5.3 1 16.1 1-2.6 1-2.3 1 3.4 1 .6 1-8.7 1-4.9 1-2.7 1-28.6 1 21 1-5.5 0 85.9-1 4.7-1-.7-1 4.1-1 3.8-1 3.1-1 3.7-1 1.9-1-2.1-1 4.6-1-8.9-1 2.7-1-8.6-1 3.8-1-4.8-1-3.7-1 1.2-1 2.7-1 1.3-1-1.6-1 4.4-1 0-1-11.4-1 1.4-1 .6-1 4.2-1 7.7-1-5.4-1 .4-1 6.2-1 2.1-1-6.3-1-1.9-1-2.5-1 1.2-1 4.3-1-.9-1 14.9-1-11.4-1-.7-1 3.4-1-.1-1-1.9-1 14.2-1-8.8-1-3.6-1-.5-1 1.4-1 4.5-1-8.4-1 4.2-1 14.4-1-8.9-1-2.4-1-2.7-1 5.4-1 6.5-1-7-1 3-1 8.8-1-10.4-1 5.9-1 2.4-1-3-1 5.2-1 4.9-1 .6-1 .6-1-.8-1-1.4-1 2.9-1-8.4-1-3.4-1 3.6-1-7.3-1-.7-1 7.4-1-14.8-1-7.1-1-5.6-1 17.8-1-18.7-1 2.4-1-7.7-1-3.3-1-2.5-1-.5-1-3.7-1-5.5-1-6.2-1-4.6-1 6.1-1-12.8-1 7.6-1-10.2-1-4.7-1 5.6-1-13.2-1-3.1-1 6.4-1 14.9-1-3.4-1-3.5-1 14.1-1-1.3-1 .1-1 7.9-1 4.1-1 3.1-1 5.2-1-6.1-1 13.3-1 .9-1 3.7-1 3.6-1-4.7-1-.8-1-1.3-1-7.9-1 9.4-1-13.5-1 3.2-1-1.4-1 4.6-1-8.7-1 6.6-1 15.5-1-24.7-1-2.4-1 12.5-1-9.7-1 18.7-1-21.7-1-1.8-1 8.2-1-1.4-1 4.4-1-2.7-1-7.2-1 3.7-1 1.6-1-6.2-1-6.1-1 2.5-1 6.6-1 2.5-1-11.2-1-9.6-1-1.9-1 .6-1 6.7-1-8.9-1-2.3-1-1-1 .3-1 2.3-1 2.9-1-14.2-1 .5-1 2.1-1-6.7-1 5.4-1 .4-1-6.2-1-.3-1 6.5-1-6.3-1 1.6-1-2.7-1 2.1-1-12.8-1 10.2-1-10.6-1-5.7-1-7-1-.6-1-7-1 2.1-1-7.3-1-2.3-1 6.5-1 10.5-1-4.2-1 18.5-1-5.9-1 15.3-1 24.7-1 24.1-1 9.4-1 14.1-1 20.8-1 24.7-1 8.2-1 24.3-1 10.5-1 5-1 6.9-1 11-1 12.8-1-7.5-1 4.2-1 5.7-1-10.1-1-3.9-1-2-1-3-1-4.5-1-.9-1 .3-1-2.6-1 5-1 3.7-1-3.6-1 4.1-1 2.3-1-.7-1-7.5-1 6.9-1-2.4-1-2-1-1.7-1-8.3-1 1.8-1-7.3-1-2.5-1-5-1 6-1-3.8-1 .9-1 .5-1 7-1-4.3z" fill="#aaa" stroke="none"/>
<path d="M327 504.1l.6 15.1 .6-1.3 .6-17.9 .6 15.5 .6-14.4 .6 5 .6 15.1 .6-13.4 .6 6.9 .6-7.2 .6 20.7 .6-14 .6 23.8 .6-15.4 .6-4.9 .6 5.5 .6-1.5 .6 15.2 .6-16.6 .6 16.8 .6 5 .6-.5 .6-18 .6 19.2 .6-5 .6 2.1 .6-16.4 .6 9.4 .6 7.7 .6-9.2 .6 2.1 .6-3.7 .6 .3 .6 .9 .6 17.3 .6-20.3 .6-3.8 .6-4.6 .6 10 .6-2 .6-3.2 .6-6.5 .6 27.5 .6-11.3 .6-3.7 .6 9.6 .6-5.8 .6 6.6 .6-10.3 .6 11.6 .6-14.1 .6 23.9 .6-8.6 .6-5.3 .6-.8 .6-13.6 .6 7.6 .6-3.6 .6 4.6 .6-16.4 .6 2.3 .6-6.4 .6-11.5 .6-11.5 .6-11 .6-11.5 .6-12.5 .6-11.7 .6-12.7 .6-13.4 .6-10.2 .6-12.2 .6-11 .6-12.5 .6-8.1 .6-11.8 .6-12.7 .6-9.9 .6-5.1 .6-2.4 .6-5.2 .6 2 .6-15.4 .6 .7 .6-3.9 .6-4.6 .6-8.3 .6 9.2 .6-9.2 .6 3.2 .6 8.2 .6 13.8 .6 1.6 .6-9 .6-4.5 .6-.4 .6 12.9 .6 7.9 .6 1.5 .6-6.9 .6-2.1 .6 9.2 .6 6.7 .6-9.8 .6 4.2 .6-4.4 .6 1 .6 11.1 .6-15.2 .6 15.4 .6-11.8 .6 2.6 .6 6.2 .6-.2 .6-7.1 .6 6.2 .6-.5 .6 1.5 .6 .4 .6 7.7 .6-12 .6 15.1 .6 1.2 .6-12.9 .6 10.4 .6-5.9 .6-3.4 .6 12.7 .6 3.4 .6-6.4 .6 7.2 .6-2.6 .6-13.1 .6 13.4 .6 8.4 .6 3.8 .6-18.8 .6-1.9 .6 16.1 .6-2.6 .6 4.8 .6-2.7 .6 10.8 .6 .6 .6-7.2 .6 4.5 .6 .3 .6 4.1 .6-.4 .6 1 .6 3.1 .6-3 .6-4 .6 10.5 .6-8.1 .6-4.8 .6 3 .6 8.3 .6-5.3 .6-.8 .6 2.9 .6 2.3 .6-5 .6 0 .6 3.7 .6 6.2 .6-16.4 .6 6.6 .6-3.9 .6 2.8 .6 10.9 .6 10.3 .6-15.5 .6-5.7 .6 0 .6 12.7 .6 .4 .6-.2 .6-2 .6-9.2 .6-1.8 .6 7.4 .6 8 .6-8 .6-3 .6 18.3 .6-17.8 .6 23.8 .6-18.5 .6 15.5 .6-6 .6 15.8 .6-11.4 .6 5.4 .6 1 .6-8.2 .6-10.3 .6 2 .6-4.6 .6 5.6 .6-30.1 .6 33.6 .6 5.3 .6-14.7 .6-8.7 .6-.1 .6-2.8 .6-2.7 .6 15.3 .6-29.5 .6 8.1 .6 4 .6-11.1 .6 20.5 .6-17.7 .6 .7 .6-4.5 .6-1.1 .6-5.4 .6 11.9 .6-18.8 .6 .8 .6 12.4 .6-12.7 .6 23.7 .6-16.5 .6 4.3 .6 15.2 .6-22.5 .6 25.3 .6-17.5 .6 1.8 .6 14.4 .6 5.4 .6-12.1 .6 4.2 .6 2 .6 1.5 .6 4.2 .6 2.4 .6-3.2 .6 2.5 .6-7.4 .6 20 .6-4.2 .6 8.2 .6 3.4 .6-1.9 .6 5.5 .6-3.6 .6 6.5 .6-7.3 .6-1.5 .6 11.1 .6-13.4 .6 19.9 .6-8.3 .6 2.1 .6 11.6 .6 8.9 .6-18.1 .6 8.9 .6 10.1 .6 13.4 .6-34 .6 14.4 .6-.6 .6-2.9 .6 26 .6-10.2 .6 .7 .6-4.2 .6 10.4 .6-5.3 .6-8.7 .6-2.8 .6 4.3 .6-2.7 .6-8.6 .6 2.8 .6-3.6 .6 14.4 .6-21.8 .6 16.5 .6-6.5 .6-1.1 .6-2.7 .6 13.5 .6-12.5 .6 11.1 .6-8.1 .6-3.9 .6-7.7 .6 3.4 .6 .6 .6 4.8 .6-16.7 .6 3 .6-1.6 .6 1.5 .6-8.9 .6 19.4 .6 4.4 .6-21.1 .6 23.1 .6-14.5 .6 8.1 .6 6.4 .6-12.9 .6 5.9 .6-8.4 .6 1.6 .6-3.9 .6 5.7 .6 .4 .6 7.2 .6-7.7 .6-9.9 .6 4.3 .6 13.6 .6-16.7 .6 7.8 .6-9.6 .6 9.3 .6 5.5 .6 4.6 .6-25.2 .6 1.2 .6 .1 .6 1.6 .6 3.5 .6 1.4 .6 8.1 .6-3.5 .6-4.3 .6 .6 .6 .9 .6 3.3 .6 6.8 .6-16 .6 8.9 .6-5.2 .6-4.3 .6 3.8 .6-8.9 .6 25.3 .6-16.6 .6-8.6 .6 3.5 .6-4.1 .6 1.4 .6-1.5 .6-4.8 .6-2.9 .6 18 .6-9.7 .6 4.9 .6-4.4 .6 1.9 .6 .1 .6 23.5 .6-9.5 .6-1.4 .6-4.2 .6-3.2 .6 8.1 .6 5.8 .6-15.3 .6 4 .6 14.7 .6-4.4 .6-3 .6-7.8 .6-4.7 .6 3.9 .6-.1 .6 3.5 .6 2.2 .6-2.5 .6 2 .6-13.8 .6 12.3 .6-11.6 .6-1.4 .6-3.4 .6-12.2" fill="none" stroke="#f00" stroke-width="4.4" stroke-linejoin="round" stroke-linecap="round"/>
<line x1="106.3" y1="109.5" x2="106.3" y2="577.5" stroke-width="3.7" stroke-dasharray="9.3 10.2" stroke-dashoffset="4.7"/>
<line x1="364" y1="109.5" x2="364" y2="577.5" stroke-width="3.7" stroke-dasharray="9.3 10.2" stroke-dashoffset="4.7"/>
<path d="M480.5 459V547H524" fill="none" stroke-width="3.5"/>
</g>
<g id="panel_b">
<text x="573" y="55" font-size="75" font-weight="bold">b</text>
<text x="785" y="69" font-size="39.3" text-anchor="middle">Pre-SNI</text>
<text x="1022" y="69" font-size="39.3" text-anchor="middle">Post-SNI</text>
<line x1="682" y1="118.5" x2="682" y2="564.5" stroke-width="3.5"/>
<line x1="670" y1="525.7" x2="682" y2="525.7" stroke-width="3.5"/>
<text x="667" y="539.2" font-size="39.3" text-anchor="end">0</text>
<line x1="670" y1="390.50000000000006" x2="682" y2="390.50000000000006" stroke-width="3.5"/>
<text x="667" y="404.00000000000006" font-size="39.3" text-anchor="end">10</text>
<line x1="670" y1="255.30000000000007" x2="682" y2="255.30000000000007" stroke-width="3.5"/>
<text x="667" y="268.80000000000007" font-size="39.3" text-anchor="end">20</text>
<line x1="670" y1="120.10000000000008" x2="682" y2="120.10000000000008" stroke-width="3.5"/>
<text x="667" y="133.60000000000008" font-size="39.3" text-anchor="end">30</text>
<text x="617" y="327" font-size="39.3" text-anchor="middle" transform="rotate(-90 617 327)">AUC</text>
<line x1="670" y1="525.7" x2="897" y2="525.7" stroke-width="3.5"/>
<line x1="919" y1="525.7" x2="1136" y2="525.7" stroke-width="3.5"/>
<rect x="705.5" y="525.7" width="66.5" height="4.5" fill="#000" stroke="#000" stroke-width="3.5"/>
<line x1="738" y1="529.7" x2="738" y2="539.5" stroke-width="3.5"/>
<line x1="722" y1="539.5" x2="754" y2="539.5" stroke-width="3.5"/>
<rect x="810.5" y="475.5" width="65.0" height="50.2" fill="#f00" stroke="#000" stroke-width="3.5"/>
<line x1="842" y1="475.5" x2="842" y2="456" stroke-width="3.5"/>
<line x1="826" y1="456" x2="858" y2="456" stroke-width="3.5"/>
<rect x="942.5" y="514.6" width="67.5" height="11.1" fill="#000" stroke="#000" stroke-width="3.5"/>
<line x1="975.5" y1="514.6" x2="975.5" y2="500.6" stroke-width="3.5"/>
<line x1="959.5" y1="500.6" x2="991.5" y2="500.6" stroke-width="3.5"/>
<rect x="1046.5" y="275.0" width="65.5" height="250.7" fill="#f00" stroke="#000" stroke-width="3.5"/>
<line x1="1078.5" y1="275" x2="1078.5" y2="235.5" stroke-width="3.5"/>
<line x1="1062.5" y1="235.5" x2="1094.5" y2="235.5" stroke-width="3.5"/>
<line x1="738" y1="493" x2="841.5" y2="385" stroke-width="3.5"/>
<line x1="738" y1="505" x2="841.5" y2="465.5" stroke-width="3.5"/>
<line x1="738" y1="524.6" x2="841.5" y2="495" stroke-width="3.5"/>
<line x1="738" y1="530" x2="841.5" y2="506" stroke-width="3.5"/>
<line x1="738" y1="539.5" x2="841.5" y2="516.5" stroke-width="3.5"/>
<line x1="738" y1="545" x2="841.5" y2="470" stroke-width="3.5"/>
<line x1="738" y1="552" x2="841.5" y2="475" stroke-width="3.5"/>
<line x1="738" y1="564" x2="841.5" y2="465.5" stroke-width="3.5"/>
<circle cx="738.0" cy="493.0" r="10" stroke="none"/>
<circle cx="738.0" cy="505.0" r="10" stroke="none"/>
<circle cx="738.0" cy="524.6" r="10" stroke="none"/>
<circle cx="738.0" cy="530.0" r="10" stroke="none"/>
<circle cx="738.0" cy="539.5" r="10" stroke="none"/>
<circle cx="738.0" cy="545.0" r="10" stroke="none"/>
<circle cx="738.0" cy="552.0" r="10" stroke="none"/>
<circle cx="738.0" cy="564.0" r="10" stroke="none"/>
<circle cx="841.5" cy="385.0" r="10" stroke="none"/>
<circle cx="841.5" cy="465.5" r="10" stroke="none"/>
<circle cx="841.5" cy="475.0" r="10" stroke="none"/>
<circle cx="841.5" cy="495.0" r="10" stroke="none"/>
<circle cx="841.5" cy="506.0" r="10" stroke="none"/>
<circle cx="841.5" cy="516.5" r="10" stroke="none"/>
<circle cx="841.5" cy="470.0" r="10" stroke="none"/>
<circle cx="841.5" cy="512.0" r="10" stroke="none"/>
<line x1="975" y1="473" x2="1078" y2="299" stroke-width="3.5"/>
<line x1="975" y1="489.5" x2="1078" y2="159" stroke-width="3.5"/>
<line x1="975" y1="517" x2="1078" y2="205" stroke-width="3.5"/>
<line x1="975" y1="520" x2="1078" y2="243" stroke-width="3.5"/>
<line x1="975" y1="531" x2="1078" y2="367" stroke-width="3.5"/>
<line x1="975" y1="553" x2="1078" y2="377" stroke-width="3.5"/>
<circle cx="975.0" cy="473.0" r="10" stroke="none"/>
<circle cx="975.0" cy="489.5" r="10" stroke="none"/>
<circle cx="975.0" cy="517.0" r="10" stroke="none"/>
<circle cx="975.0" cy="531.0" r="10" stroke="none"/>
<circle cx="975.0" cy="553.0" r="10" stroke="none"/>
<circle cx="975.0" cy="520.0" r="10" stroke="none"/>
<circle cx="1078.0" cy="159.0" r="10" stroke="none"/>
<circle cx="1078.0" cy="205.0" r="10" stroke="none"/>
<circle cx="1078.0" cy="243.0" r="10" stroke="none"/>
<circle cx="1078.0" cy="299.0" r="10" stroke="none"/>
<circle cx="1078.0" cy="367.0" r="10" stroke="none"/>
<circle cx="1078.0" cy="377.0" r="10" stroke="none"/>
<line x1="738" y1="356" x2="841.5" y2="356" stroke-width="3.5"/>
<text x="790.5" y="351.5" font-size="34" text-anchor="middle" letter-spacing="2">**</text>
<line x1="976" y1="128" x2="1078.5" y2="128" stroke-width="3.5"/>
<text x="1028" y="125" font-size="34" text-anchor="middle" letter-spacing="2">**</text>
<rect x="695.5" y="169.0" width="34.0" height="17.0" fill="#f00" stroke="#000" stroke-width="2.6"/>
<text x="748" y="193.5" font-size="39.3">Withdrawal</text>
<rect x="695.5" y="213.0" width="34.0" height="17.0" fill="#000" stroke="#000" stroke-width="2.6"/>
<text x="748" y="234.5" font-size="39.3">No withdrawal</text>
</g>
<g id="panel_c">
<text x="1139" y="56.5" font-size="75" font-weight="bold">c</text>
<text x="1279" y="69" font-size="39.3">Von Frey</text>
<text x="1480" y="69" font-size="39.3">Hargreaves</text>
<text x="1714" y="69" font-size="39.3">Plantar cold</text>
<line x1="1266.8" y1="119.2" x2="1266.8" y2="478.3" stroke-width="3.5"/>
<line x1="1253" y1="476.8" x2="1266.8" y2="476.8" stroke-width="3.5"/>
<text x="1252" y="490.8" font-size="39.3" text-anchor="end">0</text>
<line x1="1253" y1="387.8" x2="1266.8" y2="387.8" stroke-width="3.5"/>
<text x="1252" y="401.8" font-size="39.3" text-anchor="end">10</text>
<line x1="1253" y1="298.8" x2="1266.8" y2="298.8" stroke-width="3.5"/>
<text x="1252" y="312.8" font-size="39.3" text-anchor="end">20</text>
<line x1="1253" y1="209.8" x2="1266.8" y2="209.8" stroke-width="3.5"/>
<text x="1252" y="223.8" font-size="39.3" text-anchor="end">30</text>
<line x1="1253" y1="120.80000000000001" x2="1266.8" y2="120.80000000000001" stroke-width="3.5"/>
<text x="1252" y="134.8" font-size="39.3" text-anchor="end">40</text>
<text x="1187" y="300" font-size="39.3" text-anchor="middle" transform="rotate(-90 1187 300)">AUC</text>
<line x1="1253" y1="476.8" x2="1468.5" y2="476.8" stroke-width="3.5"/>
<line x1="1488.5" y1="476.8" x2="1693" y2="476.8" stroke-width="3.5"/>
<line x1="1714.5" y1="476.8" x2="1920" y2="476.8" stroke-width="3.5"/>
<rect x="1290.0" y="464.0" width="68.0" height="12.8" fill="#fff" stroke="#000" stroke-width="3.5"/>
<line x1="1323.448275862069" y1="464.03940886699513" x2="1323.448275862069" y2="458.12807881773404" stroke-width="3.5"/>
<line x1="1307.448275862069" y1="458.12807881773404" x2="1339.448275862069" y2="458.12807881773404" stroke-width="3.5"/>
<circle cx="1301.3" cy="454.2" r="10" stroke="none"/>
<circle cx="1301.3" cy="476.8" r="10" stroke="none"/>
<circle cx="1317.0" cy="463.1" r="10" stroke="none"/>
<circle cx="1332.8" cy="447.3" r="10" stroke="none"/>
<circle cx="1332.8" cy="468.0" r="10" stroke="none"/>
<circle cx="1347.1" cy="445.8" r="10" stroke="none"/>
<circle cx="1347.1" cy="467.0" r="10" stroke="none"/>
<rect x="1377.6" y="331.0" width="66.5" height="145.8" fill="#f00" stroke="#000" stroke-width="3.5"/>
<line x1="1410.64039408867" y1="331.0344827586207" x2="1410.64039408867" y2="306.89655172413796" stroke-width="3.5"/>
<line x1="1394.64039408867" y1="306.89655172413796" x2="1426.64039408867" y2="306.89655172413796" stroke-width="3.5"/>
<circle cx="1410.6" cy="228.6" r="10" stroke="none"/>
<circle cx="1388.0" cy="281.8" r="10" stroke="none"/>
<circle cx="1410.6" cy="279.3" r="10" stroke="none"/>
<circle cx="1433.3" cy="289.7" r="10" stroke="none"/>
<circle cx="1433.3" cy="367.5" r="10" stroke="none"/>
<circle cx="1410.6" cy="384.2" r="10" stroke="none"/>
<circle cx="1422.0" cy="407.9" r="10" stroke="none"/>
<circle cx="1399.3" cy="416.3" r="10" stroke="none"/>
<rect x="1513.1" y="390.6" width="67.5" height="86.2" fill="#fff" stroke="#000" stroke-width="3.5"/>
<line x1="1546.6009852216748" y1="390.64039408867" x2="1546.6009852216748" y2="348.768472906404" stroke-width="3.5"/>
<line x1="1530.6009852216748" y1="348.768472906404" x2="1562.6009852216748" y2="348.768472906404" stroke-width="3.5"/>
<circle cx="1546.6" cy="163.1" r="10" stroke="none"/>
<circle cx="1546.6" cy="323.6" r="10" stroke="none"/>
<circle cx="1546.6" cy="432.0" r="10" stroke="none"/>
<circle cx="1523.9" cy="440.9" r="10" stroke="none"/>
<circle cx="1569.3" cy="447.3" r="10" stroke="none"/>
<circle cx="1546.6" cy="454.2" r="10" stroke="none"/>
<circle cx="1546.6" cy="481.3" r="10" stroke="none"/>
<rect x="1601.3" y="371.9" width="67.0" height="104.9" fill="#f00" stroke="#000" stroke-width="3.5"/>
<line x1="1634.7783251231526" y1="371.9211822660099" x2="1634.7783251231526" y2="337.93103448275866" stroke-width="3.5"/>
<line x1="1618.7783251231526" y1="337.93103448275866" x2="1650.7783251231526" y2="337.93103448275866" stroke-width="3.5"/>
<circle cx="1634.8" cy="253.7" r="10" stroke="none"/>
<circle cx="1611.6" cy="279.3" r="10" stroke="none"/>
<circle cx="1634.8" cy="295.6" r="10" stroke="none"/>
<circle cx="1611.6" cy="433.5" r="10" stroke="none"/>
<circle cx="1634.8" cy="444.3" r="10" stroke="none"/>
<circle cx="1657.4" cy="445.8" r="10" stroke="none"/>
<circle cx="1611.6" cy="458.1" r="10" stroke="none"/>
<rect x="1738.7" y="444.8" width="67.5" height="32.0" fill="#fff" stroke="#000" stroke-width="3.5"/>
<line x1="1772.7093596059112" y1="444.82758620689657" x2="1772.7093596059112" y2="439.90147783251234" stroke-width="3.5"/>
<line x1="1756.7093596059112" y1="439.90147783251234" x2="1788.7093596059112" y2="439.90147783251234" stroke-width="3.5"/>
<circle cx="1757.9" cy="428.6" r="10" stroke="none"/>
<circle cx="1772.7" cy="428.6" r="10" stroke="none"/>
<circle cx="1787.5" cy="428.6" r="10" stroke="none"/>
<circle cx="1749.6" cy="455.7" r="10" stroke="none"/>
<circle cx="1765.3" cy="455.7" r="10" stroke="none"/>
<circle cx="1781.1" cy="455.7" r="10" stroke="none"/>
<circle cx="1795.9" cy="455.7" r="10" stroke="none"/>
<rect x="1825.9" y="392.1" width="67.5" height="84.7" fill="#f00" stroke="#000" stroke-width="3.5"/>
<line x1="1859.4088669950738" y1="392.1182266009853" x2="1859.4088669950738" y2="376.35467980295573" stroke-width="3.5"/>
<line x1="1843.4088669950738" y1="376.35467980295573" x2="1875.4088669950738" y2="376.35467980295573" stroke-width="3.5"/>
<circle cx="1849.1" cy="347.8" r="10" stroke="none"/>
<circle cx="1870.7" cy="344.8" r="10" stroke="none"/>
<circle cx="1859.4" cy="367.0" r="10" stroke="none"/>
<circle cx="1836.7" cy="403.9" r="10" stroke="none"/>
<circle cx="1882.6" cy="403.9" r="10" stroke="none"/>
<circle cx="1859.4" cy="421.2" r="10" stroke="none"/>
<circle cx="1859.4" cy="446.3" r="10" stroke="none"/>
<line x1="1320.9852216748768" y1="153.69458128078819" x2="1409.1625615763546" y2="153.69458128078819" stroke-width="3.5"/>
<text x="1365.320197044335" y="151.19458128078819" font-size="34" text-anchor="middle" letter-spacing="2">***</text>
<line x1="1768.2758620689656" y1="296.05911330049264" x2="1856.4532019704434" y2="296.05911330049264" stroke-width="3.5"/>
<text x="1812.1182266009853" y="293.55911330049264" font-size="34" text-anchor="middle" letter-spacing="2">**</text>
<rect x="1723.4" y="122.7" width="33.5" height="18.2" fill="#fff" stroke="#000" stroke-width="2.6"/>
<text x="1776.1576354679805" y="143.84236453201973" font-size="39.3">Normal</text>
<rect x="1723.4" y="168.0" width="33.5" height="17.2" fill="#f00" stroke="#000" stroke-width="2.6"/>
<text x="1776.1576354679805" y="192.11822660098525" font-size="39.3">SNI</text>
</g>
<g id="panel_d">
<text x="2" y="672" font-size="75" font-weight="bold">d</text>
<text x="172" y="660.5" font-size="39.3" text-anchor="middle">von Frey</text>
<text x="418.5" y="660.5" font-size="39.3" text-anchor="middle">Hargreaves</text>
<path d="M37.5 766H273.5" fill="none" stroke="#ededed" stroke-width="1"/><path d="M37.5 735V766M273.5 766V735" fill="none" stroke="#f7f7f7" stroke-width="1"/>
<path d="M80.9 738.4l1-4.7 1-2.6 1-3.1 1-7 1-.5 1-4.3 1-2.6 1 2.5 1 2.5 1 3.4 1 1.8 1 2.3 1 4.5 1 1.4 114 2.6 1-.7 1-2 1 1 1-.1 1-.7 1-1 1 1.2 1 .9 1 1.7 1-4.4 1-.3 1 2.8 1-4.1 1 2.9 1 .4 1-2.4 1-1.1 1 2 1-5.2 1 3.2 1 .1 1-2.2 1-2 1 .1 1-.8 1-2.9 1 2.1 1-5.2 1 1.2 1 .6 1 2 1-1.2 1-1 1 4.7 1-5.2 1 3.7 1 2.3 1-3.6 1 3.3 1 .8 1-.1 1 2.9 1 .9 1 3 1 0 1 3.5 1 1.2 1-1.2 1 1.8 1 0 1-.7 1 .5 1-1.7 1-.7 1-.1 1-.1 1 0 1 .2 1 .7 1-.7 1-.8 1-2.2 1 1.5 1-.1 1 2.6 0 4.2-1-2.5-1 .7-1 0-1 .5-1 1.6-1 2.1-1-2.8-1-.1-1-.3-1 .2-1 .2-1 1.2-1 2.3-1-1.6-1-.2-1-.6-1-1.4-1 1.8-1-1.4-1-.6-1-1.8-1-1-1-2.1-1 .1-1-.4-1-.9-1 0-1 .8-1 1.1-1-3-1 1.3-1 .7-1-.8-1-1.2-1-1.4-1 1.4-1-.6-1 .8-1-.3-1 .2-1 .8-1-.7-1 1-1 2.2-1 .7-1 1-1-.3-1 0-1-1.3-1 1.7-1-.5-1 1.9-1-1-1 .1-1-.5-1 .8-1-.8-1-1.4-1-.1-1-1.3-1 1.5-1-1.2-1-.8-1 1.1-1 .5-114-3.1-1-.7-1-3.3-1-2.6-1-.6-1-2.9-1-2.2-1-1.4-1 3.1-1 2.4-1 3.9-1 3.8-1 1.4-1 2.8-1 3.7z" fill="#aaa" stroke="none"/>
<path d="M36.9 735.3l.5 4.5 .5-2.6 .5 5.2 .5-5 .5 2.6 .5-2.1 .5 3.2 .5-1.6 .5 2.5 .5-.3 .5-1.4 .5 3.1 .5-.7 .5-2.4 .5-2 .5 0 .5 1.9 .5 5.2 .5-5.5 .5-.9 .5 .5 .5-1.6 .5 .4 .5 .9 .5 3.4 .5-3.7 .5-1.5 .5-.7 .5 4.7 .5-.4 .5-2.4 .5 .3 .5 3.3 .5 2.2 .5-.2 .5-.9 .5-3.2 .5 1.7 .5-1.5 .5 6.2 .5-7 .5 1.6 .5 3.5 .5-2.9 .5 3.2 .5-2 .5 .1 .5 0 .5-2.8 .5 1.3 .5 5.9 .5-2.8 .5-.3 .5 1.8 .5-1.4 .5 1.3 .5-3 .5-.1 .5 2.6 .5-2.3 .5-2.7 .5 1.6 .5-1.7 .5 3 .5-2.3 .5-.5 .5 2 .5 4.3 .5-3.1 .5 .9 .5 .6 .5 1.7 .5 .9 .5-.2 .5-6.2 .5 5.5 .5-3.1 .5-1 .5 4.7 .5-5 .5 4.1 .5-2.2 .5-3.8 .5 1.9 .5-.4 .5-2.8 .5-5.2 .5 4.9 .5-1.2 .5-4.1 .5 5.4 .5-6.5 .5-1.3 .5-.1 .5-2.5 .5-2.4 .5-.5 .5-1.1 .5-2.8 .5-.4 .5-4.1 .5 2.3 .5-2.1 .5 2.9 .5-1.9 .5 2.5 .5 3.4 .5-2 .5 7.3 .5-4.2 .5 .9 .5 .3 .5 6.1 .5 1.6 .5-1.1 .5-3.9 .5 3 .5 3.3 .5-1.6 .5-.4 .5 .3 .5 1.6 .5 1.6 .5-3.2 .5 1 .5 4.5 .5-2.2 .5-5.4 .5 2.2 .5-.9 .5-.9 .5 2.1 .5-2 .5 .5 .5 .5 .5 .5 .5 2.4 .5-1.7 .5-4.1 .5 2.4 .5-.8 .5 3 .5-2.3 .5 .9 .5-1.8 .5-2.9 .5 5.6 .5-1.8 .5-1.5 .5-3.2 .5 3.1 .5-2 .5-.1 .5 1.1 .5 .4 .5-2.3 .5-1.2 .5-.6 .5 2 .5 3.2 .5-2.6 .5-4.5 .5 2.5 .5 .6 .5 2.7 .5-.5 .5-2.1 .5 0 .5-2.1 .5 2.5 .5-.5 .5-.2 .5 1.9 .5-2.1 .5 .4 .5 3.6 .5-.3 .5-.1 .5-1.8 .5-2.2 .5 2.9 .5 1.7 .5-3.3 .5 4.2 .5-3.5 .5 1.9 .5-2.1 .5-1.2 .5 7.2 .5-6.6 .5 4.5 .5-2.5 .5 2.1 .5-3.4 .5-.6 .5 2.4 .5 1.6 .5-6.2 .5 2.9 .5 2.1 .5-2.8 .5 4 .5-2.7 .5 2.8 .5 0 .5 1.3 .5-.9 .5-3.6 .5 4.4 .5-3.5 .5 2.4 .5 2.5 .5-1.1 .5-3 .5 3.9 .5-2.3 .5-2.5 .5 2 .5 2.7 .5-2.8 .5-.5 .5-.5 .5-2 .5 2.4 .5 1.7 .5-.5 .5-.6 .5-3.6 .5 7.1 .5-.1 .5 1.7 .5 .9 .5-3.2 .5-.2 .5 2.1 .5 2.6 .5-6.7 .5 3.5 .5-1.1 .5 1.6 .5 2.3 .5-3.2 .5-1.9 .5 2.7 .5-.7 .5-2.2 .5 5.1 .5-2.1 .5 3.1 .5-5.2 .5 4.5 .5-5.7 .5 5 .5-5.5 .5 5.5 .5-3.4 .5-2.7 .5 2.5 .5 1.7 .5-1.8 .5 1.7 .5 2.1 .5-1.6 .5-5 .5 6.2 .5 2 .5-.5 .5 .8 .5-4.6 .5 6.1 .5-3 .5-.5 .5 1.7 .5 0 .5-1.9 .5-.5 .5 4.6 .5-1.5 .5-4.9 .5 .7 .5 3.6 .5 .1 .5-.9 .5 1.6 .5-1.5 .5 2.4 .5-4 .5 1.1 .5 1.1 .5 0 .5-1.1 .5 2.4 .5-3.6 .5 5.1 .5-1.4 .5-3.8 .5 1.7 .5 5 .5-1.4 .5-1.8 .5-4.8 .5 2.8 .5-1.2 .5 .9 .5 5.2 .5-3.4 .5-.5 .5-3.7 .5-1.1 .5 2.4 .5-1.4 .5 6.4 .5-5.7 .5-.1 .5 3.9 .5-3.2 .5-3 .5 5.7 .5-4.2 .5-1.4 .5 3.6 .5-.3 .5-2.2 .5 2 .5 1.5 .5-3.8 .5-2.2 .5-.6 .5 3.6 .5 3.3 .5-1.3 .5 .5 .5 1.2 .5-4 .5 1.4 .5-6.1 .5 5.9 .5 .3 .5-1.6 .5-.6 .5-1.4 .5 1.6 .5 1.7 .5-2.7 .5 1.6 .5-2.9 .5 1.2 .5-3.2 .5 3.7 .5-1.6 .5 1.4 .5-1.8 .5-1.3 .5 1.3 .5 2.2 .5 2.3 .5-3.5 .5 1.7 .5 1 .5-.1 .5-3.7 .5 4.6 .5-3.2 .5 4.2 .5-1.9 .5 .2 .5-5.9 .5 6.3 .5-.3 .5-4.6 .5 4 .5-1 .5 .1 .5-1.6 .5-1.4 .5-.1 .5 7.6 .5-5.5 .5 .3 .5-1.5 .5 .2 .5-.4 .5-.3 .5 3.4 .5-2.3 .5 1.3 .5-4.7 .5 3.4 .5-2.7 .5 1.1 .5-1.1 .5-2.6 .5 4.3 .5-3.2 .5 .3 .5-1.9 .5 2.1 .5-1.4 .5 .1 .5-.4 .5-2.2 .5-1.6 .5 4.3 .5 1.7 .5 .9 .5-3.6 .5 3.4 .5 .3 .5 .1 .5 .4 .5-.6 .5 .8 .5 1.1 .5-4.3 .5-1.9 .5 2.7 .5 1.5 .5-4.4 .5 3 .5 2.4 .5-2.4 .5 1.6 .5-2.5 .5 4.4 .5 2.8 .5-4.9 .5-1 .5-.4 .5 5.3 .5-.1 .5-1.6 .5 4.1 .5 .2 .5-.2 .5-3.9 .5 4.1 .5 1.7 .5-3.3 .5 3.1 .5 1.2 .5-.4 .5-2.4 .5 .7 .5 2.8 .5 .1 .5-.1 .5-.4 .5-2 .5-1 .5-3 .5 4.3 .5 2.4 .5-5.9 .5 0 .5 3.1 .5-1.2 .5-3.6 .5 1.5 .5-.5 .5 6.5 .5-5.5 .5 4.9 .5 1.4 .5-.9 .5-1.9 .5 .6 .5-6.6 .5 1.1 .5-1.1 .5 1.8 .5 5.3 .5-8.6 .5 6.1 .5-2.9" fill="none" stroke="#5aa2f4" stroke-width="4.6" stroke-linejoin="round" stroke-linecap="round"/>
<path d="M295 763.7H529" fill="none" stroke="#ededed" stroke-width="1"/><path d="M295 732V763.7M529 763.7V720" fill="none" stroke="#f7f7f7" stroke-width="1"/>
<path d="M333.5 730.4l1-4.1 1-4.1 1-7.3 1-3.4 1-5.7 1-3.4 1-5.3 1-6.4 1 1.7 1 1.4 1-2 1 2.1 1 .7 1-1.2 1 7.2 1-.9 1 .6 1-5.2 1 3 1-.5 1 3.3 1-3 1 1.7 1-3.1 1-.4 1 1.4 1 3.4 1-.7 1-1.1 1 3.1 1 2.2 1-1 1 .1 1 2.2 1 .8 1 2.7 1-2.3 1 2.5 1-3.1 1 4.9 1-4.4 1 6.1 1-1.3 1-.7 1 1 1-2.9 1 1.3 1-6.7 1 6.1 1-2.2 1-.7 1 .8 1-1.3 1 1.7 1 .5 1-4.4 1 .3 1-1 1 .3 1 0 1 1.7 1-2.6 1-1.1 1 2.6 1 1.2 1 2.9 1-.5 1 2.8 1 2.6 1-3.2 1 .2 1 2.9 1 2 1 1.2 1 1 1-4.7 1 4.2 1-3.9 1 1.9 1 1.3 1-.5 1-2.3 1 3.1 1 0 1-1.4 1-6.3 1 1.7 1 4.6 1-.5 1-1.9 1 .7 1-.2 1-.4 1-1.7 1 1.2 1-1.5 1-1.2 1-2.1 1 .2 1-.5 1 1.5 1-1.8 1 3.2 1-.3 1 1.5 1 .1 1-.3 1-4 1 2.4 1 1.7 1-2.1 1 4.8 1-.3 1-3.2 1 1.9 1-.2 1 1.8 1-.1 1-3 1 .6 1 1.3 1 .2 1-2.3 1-1.5 1 3.5 1-2.2 1-7.2 1 6.2 1 3.3 1-2.6 1-1.3 1-.1 1 .5 1-1.7 1 3.1 1-3.6 1 3.2 1 2.3 1-6.2 1-.3 1-.2 1 0 1-9.5 1 10.5 1-.8 1-7.3 1 5.1 1 3.6 1-2 1-4.2 1 2 1 1.9 1-.7 1 .7 1 3.8 1 1.1 1-4 1-4.7 1 7.6 1-2.2 1-2.4 1 6.3 1-3.5 1 4.6 1-.4 1 .3 1-2 1 2.6 1 .5 1 2.4 1-1.1 1-6.1 1 5.4 1-1.9 1-1.8 1 3.2 1-4.1 1 1.7 1-.1 1-1.9 1 .1 1 2.2 1 .9 1-1 1 0 1-.4 1 1.6 1-10.9 1 6.9 1 4.1 1-.5 1 .5 1 0 1 2.8 1-3 1-.8 0 17.4-1-2.9-1 3.1-1-1.3-1-1.6-1-.6-1-.3-1 .9-1-2.3-1 1.1-1-.2-1-.6-1 4.7-1 1-1-7-1 7.5-1-4.3-1-.9-1 2.9-1-1.1-1 1-1 2.8-1-3.1-1-1.5-1 1.8-1 3.7-1-3.3-1 1.3-1-1.8-1 1.2-1-2.7-1 2.4-1-2.3-1-2.3-1 1.3-1-3.4-1 3.3-1-1.6-1 2.7-1 2.4-1-4.6-1 2.1-1-.4-1-4.8-1 .8-1-3.7-1 .1-1 1.4-1 3.7-1-.7-1-1.5-1 2.6-1-2.4-1-1.6-1-.8-1 3.4-1-1.1-1 1.9-1 1.7-1 6-1-1.6-1-5.9-1 4-1-4.6-1 4.8-1-.3-1 .8-1-.8-1-1-1 3.5-1-4.2-1 6.8-1-5.9-1-.3-1 .2-1-1.3-1 .5-1 .7-1 1.4-1 1-1-2.9-1 1.8-1 1.2-1-2.3-1 3.1-1 3.9-1-8.7-1-1.5-1 .8-1-.9-1 .4-1 1.8-1 1-1 0-1-1.4-1-1-1 .6-1-4.3-1 4.7-1 2.6-1-4.7-1 3.8-1-.5-1 .3-1 4.3-1-2.7-1-.1-1 2.3-1-1.9-1-.7-1 4.7-1-2.3-1-1.7-1 6.1-1-1.8-1-2.5-1 2.5-1-1.9-1-3.2-1 3.6-1-.7-1 4.3-1-3.9-1-2.4-1 8.7-1-10.3-1 .7-1-1.5-1-3.2-1 2.2-1-2.9-1-2.8-1 2.4-1-2-1-1.7-1 7.8-1-9.5-1 1.3-1 2.6-1-.7-1 2.1-1 0-1 .9-1 2.6-1-4.7-1 2.4-1-1.5-1-.4-1 2.6-1 .3-1 .9-1 6.8-1-3.6-1-3.8-1 2.4-1-2.3-1 1.1-1 5-1 .8-1-5.6-1-2.3-1-2.5-1 3.6-1-3.2-1-1.3-1-1.6-1-3-1 1-1 1.5-1-4.9-1 3.9-1-.5-1 2.6-1-8-1 .2-1 .5-1 4.7-1 .8-1-4.1-1-.5-1 4.3-1-3.3-1-2.2-1-.4-1-3.3-1-1.2-1 .5-1-.7-1 .3-1 1.6-1 5-1 2.5-1 3.8-1 4.1-1 3-1 2.7-1 3.6z" fill="#aaa" stroke="none"/>
<path d="M294.5 731.6l.5-.3 .5 .4 .5-3.1 .5-1.3 .5 .3 .5 5.6 .5 3 .5-.8 .5-3.6 .5 1.3 .5 4.3 .5-1.1 .5-1.6 .5 2.5 .5-.8 .5 1.7 .5 .9 .5-.8 .5-.4 .5 1.8 .5-.9 .5-.6 .5 .8 .5 3.8 .5-3.5 .5 1.8 .5 2.1 .5 .3 .5-9.2 .5 5.5 .5 2.4 .5-3.5 .5-.3 .5-2.1 .5 1.8 .5 1.7 .5-3.6 .5 4.2 .5-3.3 .5 1.8 .5-1.9 .5 1.9 .5 1.1 .5-1.7 .5-.5 .5 3.6 .5-.2 .5-2 .5 2.4 .5-3 .5 1.1 .5-4.4 .5 5.4 .5 2.9 .5-2.5 .5 2.2 .5-1.6 .5 .9 .5-.5 .5-.7 .5 6 .5-5.9 .5 .2 .5 3.3 .5 .8 .5-1.2 .5 .4 .5 1.2 .5 .7 .5-.8 .5-4.1 .5 4.6 .5-4.9 .5-7.4 .5 4.7 .5-3.9 .5-.5 .5 1.4 .5-7 .5-2.4 .5-2.5 .5 .9 .5 .4 .5-2.7 .5-3.8 .5-8 .5 3 .5-.1 .5-5.5 .5 .6 .5-3.8 .5 .2 .5-6.1 .5 5.1 .5-4.7 .5 .2 .5-1.9 .5 4.3 .5 .4 .5-3 .5 2.4 .5 .9 .5 3.7 .5-.6 .5 1.4 .5-4.5 .5 10.1 .5-6.7 .5 1.3 .5-.2 .5 2.8 .5-.5 .5 2.9 .5-2.4 .5-3.6 .5-.4 .5-.7 .5-.8 .5 2.5 .5-1.2 .5 4 .5-2.7 .5 1.2 .5-2.6 .5-1.8 .5 5.5 .5-2.7 .5 4.6 .5-1.5 .5-5.8 .5 1.5 .5 .8 .5 1.1 .5 3.1 .5-3.1 .5 2.2 .5-2 .5 1.9 .5 4.4 .5-1 .5 3.8 .5-2.4 .5 .9 .5-.9 .5 .7 .5 3.5 .5-5.8 .5 .3 .5-.9 .5 7.3 .5-3.6 .5 .3 .5 1 .5-3.9 .5 6.4 .5-1.3 .5 .5 .5-.8 .5-.7 .5-.2 .5 .1 .5 .9 .5 1.4 .5-6.7 .5 6.8 .5 0 .5-4.5 .5 3 .5-.4 .5-2.1 .5 4.5 .5-3.9 .5-.4 .5-3.6 .5 6.7 .5-3.5 .5 0 .5-1.1 .5 4.1 .5-5.2 .5 4 .5-1.2 .5 .4 .5-.3 .5 2 .5-4.1 .5-4.3 .5-1.2 .5 8.5 .5-7.9 .5 6.2 .5 3 .5-10.3 .5 4.6 .5-.5 .5-2.6 .5-2.5 .5 3.4 .5 4.3 .5-3.1 .5-.1 .5 .7 .5-.4 .5 1.5 .5 4 .5-6.9 .5-2 .5 6 .5-2.2 .5 1 .5-1.8 .5 3.1 .5 .7 .5 2.6 .5-1.1 .5-1.3 .5 4.6 .5-.2 .5-3.6 .5 2.6 .5 3.3 .5-1.6 .5-.5 .5 2.7 .5-1.8 .5 1 .5 1.8 .5-.7 .5-.3 .5 1.2 .5-.1 .5 1.2 .5-.3 .5-3 .5-.5 .5-1.4 .5 1.8 .5-.8 .5 3 .5 .6 .5-.3 .5-1 .5 1.3 .5 2.6 .5-.6 .5-5.2 .5-4.4 .5 6.6 .5-5.1 .5 3.9 .5-1 .5 1.9 .5-3.3 .5 1 .5-.6 .5 1.3 .5-3.2 .5 3.7 .5-.7 .5 2.6 .5-3.6 .5 .3 .5-.5 .5-.3 .5-3 .5 1.2 .5 1.1 .5-.5 .5 1.2 .5-4.4 .5 1.5 .5 .6 .5-.4 .5-1.1 .5-1 .5-1.9 .5 1 .5-.8 .5-2.1 .5 2.2 .5-4 .5 7.2 .5 .9 .5-1.6 .5 .9 .5 1.1 .5-.4 .5 2.9 .5-3.1 .5 .8 .5-1.7 .5 4.7 .5-8.2 .5 4.7 .5-3.8 .5 1.7 .5 .2 .5 3.8 .5-3.2 .5 1.4 .5 1.8 .5-2 .5-1.1 .5 6.2 .5-5 .5-.2 .5 4.2 .5-2.5 .5 2.7 .5-6.5 .5 3.9 .5 2.6 .5-1.8 .5 .5 .5 1.3 .5-1.3 .5 1.2 .5-2.7 .5-3.5 .5 2.8 .5 2.3 .5-3.7 .5 3.4 .5 0 .5 2.6 .5-7 .5 9 .5-7.1 .5 2.2 .5 4.4 .5-8.7 .5 8 .5-4.7 .5 1.9 .5-.2 .5-1.4 .5-3.7 .5 .5 .5-1.4 .5-.9 .5 2.7 .5-3.5 .5 4.1 .5-2 .5-.8 .5-.5 .5 .2 .5 4.8 .5-3.7 .5 1.1 .5 1.4 .5 2 .5 3.5 .5-.8 .5-3.3 .5-1.5 .5-1.2 .5-2.2 .5-.4 .5-4.1 .5 4.4 .5-2.4 .5 1.9 .5 3.3 .5-2.4 .5 .9 .5 .1 .5-2.8 .5 .2 .5-2.6 .5 1.5 .5 1.8 .5 1.3 .5-.8 .5-1.7 .5-2.7 .5 2.5 .5-.2 .5-4.8 .5 4.2 .5-3.5 .5 2.5 .5 2.2 .5-1.3 .5 1.7 .5 1.3 .5-1.3 .5 3.8 .5 1.3 .5 .3 .5-2.7 .5 .7 .5-1.2 .5 .8 .5 1 .5-2.3 .5 1.5 .5 1.5 .5-2.3 .5 1.7 .5-.7 .5-2.3 .5 2.9 .5 1 .5-.8 .5 5.3 .5-5.6 .5-2.1 .5 2.9 .5-.1 .5 1.6 .5 5.3 .5-4.6 .5 1.7 .5-3.3 .5-.6 .5 1.3 .5 1.5 .5-1 .5 1.3 .5-2.1 .5-1.8 .5 .2 .5 3.3 .5-3.3 .5 3 .5 1.3 .5-5.7 .5 3.5 .5 .6 .5-6.8 .5 6.6 .5 .2 .5-4 .5 4.5 .5-7.2 .5 6.9 .5-1.7 .5-4.1 .5 2.3 .5-3.2 .5 3.9 .5 1.1 .5 2.9 .5-.2 .5-5.4 .5 1.5 .5-1.5 .5-4.6 .5 8.6 .5 .6 .5-2.4 .5 2.3 .5-2.8 .5-3.4 .5 2.7 .5 .1 .5 1.1 .5-1.4 .5-4 .5 2.8 .5 3.5 .5 2.8 .5-3.5 .5-1 .5 2.8 .5 1.5 .5 .1 .5-4.5 .5 3.4 .5 0" fill="none" stroke="#5aa2f4" stroke-width="4.6" stroke-linejoin="round" stroke-linecap="round"/>
<path d="M78.9 867.4l1-27.9 1-4.4 1-16.8 1-11.2 1-4 1-2.4 1-8.2 1 8.1 1 3.9 1-8.5 1 2.7 1-3.4 1-3.5 1-7.2 1 8.3 1 1.3 1-1.1 1 3.3 1-3.8 1 1.9 1 1.9 1-1.4 1 7.9 1-3.5 1 2 1-12.2 1 12.6 1-1.1 1-1.5 1-2.3 1 4.6 1-3.1 1-4 1 12.2 1-.2 1-1.8 1-.1 1-.3 1 3.2 1-1.3 1-8.1 1 3.2 1-4.9 1 3.1 1 5.3 1-3.3 1 1.3 1 .7 1-.6 1 .7 1 .3 1-6 1 2.8 1 1.8 1-.6 1-5 1-6.4 1 7.6 1-7.1 1 7.5 1-14.8 1 7.5 1 5.8 1-5.3 1-8.8 1 8 1 1.2 1-3.6 1 6 1-9.5 1 7 1-5.3 1 7.3 1-.6 1 4.6 1-.9 1-3.7 1 .5 1-4.5 1 3.2 1-.4 1 2.9 1 .6 1-2.1 1 10.8 1-6.2 1 13.6 1-.1 1 1.3 1-9 1 13.1 1 1.8 1 4.4 1 .2 1 2.1 1-1.5 1-2.1 1-5.3 1 3.1 1 4 1 1.7 1-7 1 3.1 1 .3 1-4.9 1 6.9 1-4.1 1-.9 1-5.9 1-5.6 1 1.1 1-1.4 1-16.1 1 13.5 1-1.4 1 6.9 1 .8 1-1.7 1 1.1 1 4.9 1 .6 1-5.2 1 7.5 1-2.4 1-.3 1-2.6 1 .6 1 .3 1-1.2 1 4.3 1 .4 1-6.5 1 2 1-6 1 4.9 1 7.5 1 3 1-7.3 1 7.4 1-7.4 1 2.8 1 3.3 1 .5 1 1.8 1-.3 1-.4 1-2 1 5.4 1-7 1-3.1 1 4.4 1-9.5 1 5.7 1-5.7 1-4.8 1 4.2 1-.6 1-2.5 1 .6 1 2.1 1 3.8 1 3.9 1-4.1 1-10.2 1 13.3 1 4 1-2.9 1 1.6 1-6.1 1 7 1-1.3 1 2.7 1 .1 1 1 1-4.3 1 0 1 4.9 1-4 1 3 1 .6 1 .1 1 2.1 1-5.7 1 6.9 1 2 1-6 1 .3 1 3.5 1 5.8 1-6.3 1 3.3 1-.6 1-6.9 1 3.2 1 8.6 0 34.9-1-.3-1 4.7-1-6.7-1 0-1-3-1 1.8-1 5.9-1 .3-1-.1-1-4.4-1 3.5-1-10.7-1-.9-1 .4-1-2.4-1 8.2-1-2.1-1-5.3-1 5-1 .9-1 2-1-6.1-1-5.1-1 1.3-1 15.4-1-13.3-1-3.8-1 1.5-1 11.5-1-7.7-1-5-1 .2-1-2.9-1-1.7-1-1.6-1 5-1-.4-1 1.3-1-4.4-1 4-1-3.5-1 15.6-1-13.8-1 4.4-1 1.5-1 1.5-1 8.3-1-6.9-1 3.3-1-1.1-1-4.2-1 2.7-1-3.2-1 2.3-1 6.6-1-5.5-1-4.2-1 2.5-1-4.2-1-3.1-1 0-1 6-1-3.9-1 8.9-1-11.9-1 .6-1-3.7-1-.3-1 7.4-1-5-1 7.3-1 .6-1-1.4-1-1-1 1-1-2.3-1 6.1-1-8.6-1 2.6-1-8-1 2.8-1-4.5-1 3.8-1 2.4-1-1.2-1 7-1 1.9-1 4.8-1-2.2-1 .7-1 4.3-1-4.3-1 2.7-1-.9-1-3-1-1.7-1 6.9-1-4-1 .8-1-1.1-1 5.6-1 8.7-1-4.6-1-4-1-4.1-1-4.6-1-8.7-1 1-1-3-1-1.5-1-1-1-8-1-8-1 2-1-.7-1 2.7-1-4.1-1 12-1-6.3-1-.2-1-.7-1-4.8-1 17-1-21.5-1-.5-1 4.3-1-.1-1-3.4-1 2.2-1-2.1-1 2.1-1 1.5-1 6.1-1-7.9-1 2.9-1-2.1-1 2.3-1 5.1-1-4.4-1 4.1-1 2.1-1 .4-1-2.6-1 5.5-1-1.8-1-1.2-1-3.9-1-.4-1-.4-1 3.5-1 .3-1 .4-1-1.4-1-3.3-1 4.3-1 8.5-1-6.7-1 1.6-1-6.1-1 4.1-1-2.6-1 16-1-18.9-1 .2-1 3.9-1-.7-1-6.1-1 0-1-.5-1 .5-1-1.2-1 23.1-1-25.4-1 14.6-1-17.9-1 3.3-1-.1-1 .1-1-3.8-1-4.8-1 4.1-1-.2-1 .7-1 3.1-1 1.9-1 7.9-1-1.6-1-.5-1 1-1 4-1-1.5-1 2.7-1 12.8-1 12-1 10.1z" fill="#aaa" stroke="none"/>
<path d="M36.9 879.3l.5 2.6 .5 .3 .5-2.2 .5 1 .5-.3 .5 1.6 .5-1.4 .5-2.5 .5 4.5 .5 .5 .5 2.6 .5 1.3 .5-.2 .5 1.7 .5-.8 .5 1.3 .5-.6 .5 1.6 .5 .5 .5-.7 .5 3.5 .5-1.4 .5-2 .5-3.2 .5 .7 .5-3.1 .5 8.2 .5-.2 .5-3.3 .5 .4 .5 2.3 .5-.5 .5-4.9 .5 3.1 .5 .4 .5-2.6 .5 5.3 .5 .8 .5-1.8 .5 2.5 .5 1.5 .5 1.3 .5 .6 .5 4.1 .5-.2 .5 .2 .5 1 .5 2.8 .5-.7 .5-.2 .5 3.8 .5 3.9 .5-5.7 .5 .6 .5-2.4 .5 2.4 .5-2.1 .5-4.2 .5 4.3 .5-4.7 .5-3.1 .5-.3 .5 1.5 .5 3.5 .5-4.2 .5-1.2 .5 4.4 .5 .4 .5-3.7 .5 1.6 .5 1.9 .5-3 .5-3 .5 4.4 .5-5.5 .5-4.5 .5 4 .5-1.2 .5-2.4 .5-5.9 .5 .7 .5-2.2 .5-4.9 .5-11.2 .5-2.5 .5-.9 .5-12 .5-3.1 .5-11.2 .5-12.4 .5 4 .5-5.6 .5 2.3 .5-.9 .5-1.8 .5-.5 .5-2.3 .5 .5 .5 0 .5 4.1 .5-5.4 .5 .3 .5-1.6 .5 1.3 .5-4.1 .5-1.3 .5-3 .5 5.4 .5-9.7 .5 2.6 .5-1.7 .5 .3 .5-2.5 .5 .2 .5 3.7 .5 .3 .5-.5 .5 .5 .5 .9 .5-.2 .5 .6 .5 .9 .5-.5 .5-3.4 .5 4.1 .5-2.1 .5 3.5 .5-.2 .5 2.4 .5-.2 .5 2.5 .5 .8 .5-2.5 .5-4.3 .5 3.1 .5 4.2 .5-5.6 .5 1 .5 5.8 .5-1.1 .5-2.2 .5-.3 .5-2.8 .5 6.2 .5-.7 .5-5.5 .5 3.8 .5-.4 .5 .5 .5 .2 .5 5.5 .5-6 .5 5.4 .5-1.5 .5-.7 .5 .5 .5 2.1 .5-3.8 .5-.1 .5 4.9 .5-1 .5-1 .5-4.1 .5-1.9 .5 7.3 .5-1.4 .5-.9 .5 .2 .5-1 .5 1.3 .5 .4 .5-1.7 .5-2.3 .5 1.4 .5-1 .5-.4 .5-2.8 .5-3.1 .5 3.3 .5 4.2 .5-.4 .5 2.8 .5-2.8 .5 .8 .5-.2 .5 4.2 .5-4.3 .5 .7 .5 1.6 .5-.3 .5-6.5 .5 5.5 .5-6.4 .5-.5 .5-.1 .5 2.6 .5-4.6 .5 3.4 .5-1.5 .5-1.7 .5 2 .5 4.2 .5-2 .5-5 .5 2.4 .5-2.2 .5 .6 .5-.7 .5 2.1 .5-3.8 .5-1.6 .5 1.5 .5 .5 .5 1.5 .5 .1 .5-3.4 .5 0 .5 3.8 .5-.1 .5 .9 .5 2.3 .5-9.1 .5 4.1 .5 1.5 .5-3.4 .5 6.2 .5-3.7 .5 2.1 .5-.2 .5 2.4 .5 1.8 .5 .5 .5-3 .5-1 .5 4.4 .5 2.3 .5-2.8 .5-1.7 .5 1.2 .5-1.2 .5-3 .5 1.5 .5-1.2 .5 .6 .5-1.1 .5 1.6 .5-.9 .5 1.6 .5 .4 .5 .8 .5 1.2 .5 4 .5 1.6 .5 3.2 .5 3.3 .5-4.9 .5 2 .5 5.9 .5-2.1 .5 2.5 .5-2.2 .5 5.6 .5-2 .5 6.4 .5-2.8 .5 3.8 .5 .7 .5-2.8 .5 2.3 .5 6.1 .5-7.7 .5 3.6 .5-4.9 .5 5.4 .5-2.4 .5-1.7 .5-1.2 .5 5.2 .5-1.4 .5-3.5 .5 3.9 .5-3.3 .5 0 .5 2.5 .5-.7 .5 2 .5 .4 .5-3.8 .5 2.2 .5-.8 .5-3.8 .5 6.3 .5 1.2 .5-4.3 .5 1.8 .5 2.1 .5-2.8 .5-3.6 .5-1 .5-.8 .5-3.5 .5 .9 .5 2.9 .5-8.2 .5 .6 .5-2.7 .5 4.6 .5-6.8 .5 4.6 .5-.8 .5-1.6 .5 1 .5 .9 .5 4.6 .5-1.1 .5 2.1 .5 1.8 .5-1.7 .5 0 .5-.1 .5 3.4 .5-.7 .5 0 .5-4.1 .5 .8 .5 1.2 .5-1.5 .5-1.9 .5-.3 .5 4.6 .5 .6 .5-1.4 .5 1.3 .5-7 .5-1.1 .5 3.5 .5 .1 .5-3.4 .5 1.9 .5 .8 .5-.3 .5-.7 .5 1.7 .5 1.5 .5 1.9 .5-1.2 .5-1.8 .5-.1 .5 1.1 .5 1.9 .5-1.4 .5 .3 .5 1.7 .5-.1 .5 4.9 .5-1.9 .5 1.3 .5 3.7 .5-7.2 .5 .3 .5 3.2 .5 2.6 .5 2.3 .5-1.7 .5-2.6 .5-2.3 .5 3.6 .5-2.1 .5-2.3 .5-.9 .5 4.6 .5-1.5 .5 1.8 .5-.6 .5-.9 .5 .9 .5-.1 .5 1.7 .5-.9 .5 1.8 .5-4.7 .5 1.1 .5-.9 .5 .8 .5-8.6 .5 7 .5-1.8 .5-2.9 .5-.9 .5-1 .5-2.2 .5 8.4 .5-8.3 .5 1.6 .5-3.8 .5 .8 .5-4.6 .5 5.4 .5-1.4 .5 1.6 .5 .6 .5 1.7 .5-2.6 .5-1.8 .5 2.1 .5 4.4 .5 2.9 .5-8.3 .5 3.2 .5 2 .5 2.9 .5 1.6 .5 2.9 .5-1.6 .5 .6 .5-4.2 .5-.5 .5-2.9 .5 1.9 .5 2.4 .5-1.3 .5 4.3 .5-4.7 .5-1.2 .5 3.1 .5-4.7 .5 7.4 .5-1.7 .5-3.4 .5 5.3 .5-.8 .5 2.6 .5-3.3 .5-.2 .5 1 .5-.6 .5-1.2 .5 4 .5-.3 .5-4.2 .5 .9 .5-.4 .5 .6 .5-.1 .5 1.7 .5 2.1 .5 1.6 .5-4.8 .5 .7 .5-1.9 .5 3.3 .5 3.5 .5-2.2 .5 3.2 .5-.9 .5-.5 .5 2 .5 4.3 .5-1.6 .5-3.4 .5 1 .5 1.1 .5 3.3 .5-7.1 .5 9.5 .5-4.3 .5 .9 .5 .2 .5-7.3 .5 7.1 .5 .4 .5 1.7 .5 2.7 .5-4.1" fill="none" stroke="#f00" stroke-width="4.6" stroke-linejoin="round" stroke-linecap="round"/>
<path d="M295 921.4H529.5" fill="none" stroke="#ededed" stroke-width="1"/><path d="M295 894V921.4M529.5 921.4V875" fill="none" stroke="#f7f7f7" stroke-width="1"/>
<path d="M333.5 889.1l1-4.4 1-4.6 1-9.3 1 0 1-6.3 1-9.3 1-5.9 1-4.2 1-11.2 1-7.2 1 4.6 1-5.3 1 3.8 1-2 1 2.6 1-6.9 1 3.9 1 4.5 1-5.8 1 5 1-7 1 4.4 1-2.2 1 1.1 1 2.7 1-.5 1-6.3 1 6.9 1 .9 1-4.1 1 4.9 1-2.3 1-1.6 1 10.8 1 1 1 .7 1-3.8 1 5.2 1 1.1 1-12 1 9 1 .3 1-2 1-.1 1 .9 1-3.7 1 3.9 1 3.6 1 .3 1-6.8 1 13.2 1-.5 1 1.2 1 .5 1 2.8 1-.1 1-1.8 1 .2 1-.2 1 .7 1-1.2 1-1.4 1 6.9 1-1.8 1-1.6 1-.8 1 4.2 1 .3 1 2.2 1-2.5 1 .8 1-4.3 1-1.2 1 .8 1 1.1 1-3.6 1 3.5 1 1 1 1.9 1-2.2 1-3.4 1 4.5 1 3.9 1-1 1-1.6 1 .4 1-.9 1-.4 1 1.2 1 .8 1-1.8 1-.9 1 .6 1-4.4 1 3.5 1-.9 1 4.8 1-2.7 1 4.6 1-1.3 1 1.6 1-4 1 6.3 1-4.5 1-.7 1 3.1 1-2.8 1 1.6 1-2.3 1 2.6 1-.7 1 1.8 1 .5 1 .6 1 1.8 1-.6 1 0 1-3.3 1 3.6 1 2.3 1-1.3 1 1.7 1-5.9 1 5.9 1-1.3 1-4.6 1 2.8 1-.5 1 1.2 1-1.9 1-5.1 1-.7 1 .6 1-1.8 1-.6 1 1.5 1 3.6 1 3.1 1-1.4 1 0 1 3.1 1 2.7 1-.3 1-4.3 1 5.8 1-.7 1-5.4 1 4.1 1 .3 1-1.6 1-.3 1-3.2 1 .1 1 3.4 1-1.5 1-8 1 2.9 1 1.2 1 1 1-.8 1-1.2 1-1.8 1 2.7 1 1 1-1.4 1-1.4 1-1.2 1-2.5 1 3.3 1-1.9 1-.6 1 .3 1-2.7 1 1.8 1 2.4 1 1 1-.8 1 2.1 1-6 1 3.5 1-8.7 1 8.7 1 3.9 1 .6 1-10.3 1 8.9 1 .9 1 2.2 1-.6 1 .8 1-1 1-2 1 5.8 1-4.4 1 2.9 1-2.8 0 28.2-1 1-1-6.2-1 7.4-1-4.8-1-3.1-1 1.6-1-.7-1-2.9-1 2.6-1-3-1-5.3-1 3.7-1 2.8-1-2.6-1-2.2-1-1.4-1 3-1-5-1 2.9-1-.6-1-2.6-1 1.9-1-1.3-1 5-1-7.1-1 1.6-1 4.2-1-1.2-1-1-1-.8-1 1.3-1-2.2-1 3.3-1 .8-1 .7-1 2.7-1-6.6-1-1.3-1-1.6-1 5.6-1-2.2-1 2.8-1-.7-1 3.9-1 .5-1 2.9-1 2.4-1 2.2-1-2.7-1-5.3-1-.3-1 .1-1-2.9-1 1-1-.6-1-4.5-1-2.6-1 1.6-1-1.7-1-4.6-1 3.2-1-3.3-1 1.8-1 4.2-1 5.1-1-3.2-1 2.4-1 5-1-4.4-1 1.9-1-.7-1-.9-1-.3-1 5.7-1-7.4-1 2-1-.3-1 6.4-1-6.4-1 5.7-1-7.2-1 .3-1-2.6-1 4.8-1-5.7-1-.1-1 3.6-1-4.9-1 1.4-1-1.8-1 4.3-1 3.1-1-3.6-1-.9-1 .4-1-1.7-1-2-1 .2-1-2.1-1-1.5-1 5.4-1-5.4-1 3.7-1 0-1-2.8-1 3.6-1-.8-1-1.2-1 3-1-2.9-1 .5-1 9.2-1-6.8-1 10.6-1-13.9-1 0-1-1.9-1 1.3-1 .3-1-3.6-1 3.6-1-3-1 6.3-1-.7-1-2.6-1 1.1-1 .8-1 0-1-1.7-1-.9-1 2.9-1-3-1 3-1-4.9-1 1.8-1-1.2-1 .2-1 4.8-1-5.5-1 3.8-1-5.8-1-1.5-1-2.1-1 3.1-1-2.9-1 3.9-1-3.7-1-6-1-.8-1-.8-1-.3-1 6.1-1 3.1-1-9-1 .1-1-1.8-1 2.3-1 .3-1 1.7-1-1.6-1 3.5-1-1.7-1-7-1-.8-1-5.4-1-1.8-1 5.4-1-1.8-1-1.2-1-3.2-1 7.2-1-4.4-1-.3-1 4.6-1-.9-1 .4-1-.9-1 7.7-1-9.2-1 1.5-1-1.1-1 4.8-1-4.8-1 4.3-1-5.8-1 4.4-1 9.9-1-1.7-1 3.7-1 8.2-1 4.5-1 4-1 6-1 1.7-1 4.2-1 2.2z" fill="#aaa" stroke="none"/>
<path d="M294.5 894.3l.5-.6 .5-2.7 .5 1.1 .5 .8 .5 .1 .5 .4 .5 .5 .5-.5 .5-2.3 .5 3.2 .5-1.7 .5 .6 .5 4.8 .5-3.1 .5-7.1 .5 1.8 .5 6.2 .5-4.5 .5-1.4 .5 .3 .5 3.9 .5-.7 .5 1.3 .5-2.2 .5-.1 .5-1.1 .5-1.1 .5 2.7 .5 1.2 .5-4.8 .5 1.5 .5 5.4 .5-6.1 .5 1 .5 4.4 .5 1.4 .5-.2 .5 2.9 .5-2.5 .5 .8 .5-.9 .5 1.4 .5-.5 .5 2.8 .5-1.7 .5 1.1 .5-3.3 .5-1.9 .5 .7 .5 .4 .5 1.8 .5-2 .5 1.9 .5 .7 .5-3 .5-.6 .5 6.9 .5-3.1 .5 5.3 .5-4 .5-1.3 .5 .5 .5 .6 .5 8.5 .5-8.8 .5-1.6 .5 1.1 .5 1.6 .5 3.9 .5-3.3 .5-5.2 .5 4.9 .5-2 .5-5.7 .5 .8 .5-1.3 .5-1.3 .5-1.7 .5-1.6 .5 1.7 .5-4.6 .5-.2 .5-1.4 .5-7.4 .5 2.1 .5-4.1 .5-.9 .5-5.1 .5 .4 .5-3 .5-2.5 .5-4.3 .5-6 .5 .3 .5-.6 .5-3 .5-3.9 .5-4.9 .5-1.4 .5-1.8 .5-1.3 .5 1.7 .5 1.6 .5-2.6 .5-.3 .5 1.7 .5 3.6 .5-4 .5-.2 .5 1.7 .5 2.1 .5-1.4 .5-.6 .5-1 .5-1.9 .5 2 .5 2.6 .5-1.2 .5-1.3 .5-.9 .5 1.8 .5 .5 .5 .2 .5-1.2 .5 1.4 .5 .4 .5-2 .5-.2 .5-5.7 .5 5.1 .5-1.3 .5 1.2 .5-1.6 .5 1 .5-1.5 .5 1.8 .5-1.9 .5 4.1 .5-1.5 .5 .8 .5-1.6 .5 2.3 .5-.4 .5 .5 .5 4.3 .5-.5 .5-.2 .5 1.9 .5 6.7 .5-.9 .5-2.4 .5 .9 .5 .7 .5-1.4 .5 3.7 .5-.5 .5-4.1 .5-4 .5 1.1 .5 2.9 .5-2.6 .5 1.7 .5 .1 .5 1.1 .5-.6 .5-2.1 .5-1.5 .5 1.6 .5-.8 .5-.4 .5 3.2 .5 2.1 .5-2 .5 .6 .5 .1 .5 3.6 .5 1.2 .5 1.7 .5 3.8 .5-2.5 .5 1.7 .5-3.4 .5 2.5 .5-2.6 .5 4.7 .5 2.4 .5-5.4 .5 1.8 .5 1.9 .5 .3 .5 1.7 .5-8 .5 5.6 .5 .9 .5-.2 .5-2.3 .5 3.2 .5-1.8 .5-.2 .5 .1 .5 1.6 .5 2.2 .5-3.3 .5-4.6 .5 8.2 .5-6.3 .5 6 .5-.4 .5 1.7 .5-3.1 .5 3.3 .5-1.7 .5 0 .5 .7 .5-1.9 .5 6.6 .5-3.8 .5 .9 .5-1 .5 .6 .5-1 .5-1.6 .5-.2 .5 .3 .5-.5 .5 1.2 .5-3 .5 0 .5 1.4 .5-1.2 .5 2.3 .5 .6 .5-5.2 .5 4 .5-.9 .5-2.1 .5 1.3 .5 .2 .5 5.3 .5 .1 .5-1.1 .5-.1 .5-.5 .5 6.4 .5 .3 .5-3.4 .5-2.6 .5 .9 .5-1.6 .5-2.7 .5-.5 .5-1.3 .5 1.5 .5 1.5 .5-2 .5 3.6 .5 .1 .5 1.9 .5 1.5 .5 .9 .5-2.7 .5-3.8 .5 .6 .5 5 .5-8.5 .5 2.3 .5 2.7 .5-2.2 .5 1.6 .5 2.9 .5-.8 .5-1.5 .5 1.9 .5-.1 .5 1.2 .5-.2 .5-2.2 .5 1.7 .5 1.9 .5-.8 .5-.4 .5 3.3 .5-6.4 .5 4 .5 2.5 .5-1.1 .5-3.8 .5-.2 .5 4.8 .5-2.4 .5-1 .5 .1 .5-.8 .5 1.4 .5-2.7 .5 2 .5-.6 .5 1.1 .5 1.2 .5-5.3 .5 4.2 .5 .3 .5-.2 .5 .5 .5 2.2 .5 2.3 .5-2.3 .5 1.1 .5 1.8 .5-2.2 .5 3.6 .5-3.3 .5 3.4 .5-1.6 .5 2.3 .5 .1 .5-4.9 .5 3.3 .5-1.5 .5-1.2 .5 .1 .5 2.5 .5-2.1 .5 .3 .5-.5 .5 .3 .5-1 .5-1.5 .5 3.6 .5-7.7 .5 6.9 .5-1.4 .5 .1 .5 .4 .5 1.1 .5-.7 .5-3.2 .5-.8 .5-1.7 .5-2.1 .5 4.3 .5-3 .5 .8 .5-6.8 .5-.9 .5 2.6 .5-.3 .5 1.6 .5-1.7 .5 4 .5-1.2 .5 2.2 .5 2.7 .5-2.9 .5 1.5 .5-1.9 .5 5.9 .5-4.7 .5 3.7 .5-.2 .5 4.1 .5 2.6 .5-2.9 .5 4.1 .5-2.4 .5-3.9 .5 2.4 .5-1.3 .5 5.5 .5-.5 .5 .4 .5-2 .5 2 .5-.9 .5 2 .5 2.1 .5-4.2 .5 1.3 .5-3.2 .5-1.3 .5 1.6 .5-5.4 .5 5.7 .5-3.7 .5-3.2 .5 4.4 .5-4.1 .5 2.2 .5-.9 .5-1.5 .5-3.9 .5 .9 .5 3.3 .5-.2 .5-1.1 .5 3.9 .5-1.6 .5-2.9 .5-1.3 .5 .8 .5-1.7 .5 1.2 .5 1.7 .5-2.3 .5 2.9 .5-2.5 .5 2.7 .5-4.6 .5 1.4 .5 1.4 .5 1.3 .5-1.4 .5-7.2 .5 5 .5-2.3 .5 3.2 .5-2.3 .5-1.5 .5 1.3 .5 3 .5-1.5 .5 1.5 .5-1.1 .5-1.5 .5 4.1 .5 1.5 .5-4.3 .5 1.2 .5-4.1 .5 4.2 .5-1.6 .5 4.8 .5-.7 .5-1.3 .5 1.6 .5-1.1 .5-6.3 .5 8.8 .5 .7 .5-2.5 .5 2.9 .5-1 .5-4 .5 .1 .5 5.3 .5-.5 .5 1.8 .5-.6 .5-3.5 .5 2.5 .5-.7 .5 .6 .5 .6 .5-1.1 .5 1.8 .5-3 .5 6.3 .5-2.3 .5-.7 .5 1.5 .5 1.2 .5-.1 .5-1.5 .5 .9 .5-1.1 .5-.3 .5-.7 .5-1.3 .5 3.8 .5-2.1 .5 1.9" fill="none" stroke="#f00" stroke-width="4.6" stroke-linejoin="round" stroke-linecap="round"/>
<path d="M37.5 1038.5H269.5" fill="none" stroke="#ededed" stroke-width="1"/><path d="M37.5 1022V1038.5M269.5 1038.5V1000" fill="none" stroke="#f7f7f7" stroke-width="1"/>
<path d="M75.9 1002l1-6.8 1-11.1 1-7.3 1-5.4 1-6.5 1-19.6 1-.1 1-2.7 1-8 1-9.1 1 9.4 1-.8 1 4.4 1 4 1 1.9 1-.2 1 1.2 1-1 1 3.6 1-8.1 1 9.7 1 0 1-3.8 1-.7 1-2.3 1-1.6 1 6.1 1-4.2 1 4 1-.5 1 3.8 1-18.2 1 15.1 1 1.5 1-.5 1-1.3 1-.6 1-.4 1-10.1 1 10 1-4.5 1 5.4 1 1.7 1 1 1-5.1 1 5.4 1-7.6 1 5 1-12.9 1 7.3 1 2.9 1 1.1 1 3.7 1-3.7 1 2.3 1-8.8 1 10.2 1-5.7 1-7.7 1 4 1-16.8 1 11.9 1-.1 1 .9 1 .6 1 1.5 1 1.2 1-2.7 1-.3 1-.4 1 3.3 1 6.6 1-1.6 1 4.4 1-3.5 1 7 1-1.2 1 4.2 1-2.3 1 2.9 1 2.2 1-.3 1-.2 1 .4 1 .6 1 .7 1-6.3 1 8.9 1 1.7 1-1.3 1 .4 1 1.7 1-2.6 1-.7 1 3.1 1-3.8 1 4.3 1-5.8 1 .8 1 5.7 1-4.2 1 .1 1 .4 1-8.6 1 9.6 1 4.3 1-1.7 1-3 1 3.6 1 3.1 1-.2 1-1.8 1-7.1 1 11.9 1-.8 1-13.6 1 12.5 1 .5 1 .8 1-.1 1 3.1 1-.3 1-3.1 1-5.6 1 2.7 1-10.6 1 9.2 1-5.5 1 8.8 1-6.5 1 .3 1 3.1 1 3.6 1 .5 1-2.7 1 1.4 1-12.2 1 13.4 1-1.9 1 1 1-4.9 1 .9 1-1.7 1-2.9 1 2.2 1 2.3 1 .2 1 2.1 1-6.3 1 1.1 1-1.1 1 4.8 1-5.2 1 7 1-3.7 1 3.4 1-4.2 1 1.4 1-4.9 1 1.7 1 6.4 1-2.3 1-1.4 1 2.3 1 1.6 1-13.6 1 17.5 1-1.7 1 2.6 1-7.9 1 6.8 1-2.2 1 0 1 4 1-4.4 1-11.7 1 11 1-4.1 1 2.7 1 .5 1-.4 1 .9 1 1.7 1 .3 1-1.2 1-2.8 1 6.6 1-8.9 1 4.6 1 4.1 1 2.2 1 2.8 1 2 0 36.5-1-5.4-1 9-1-7.5-1-.8-1 2.9-1-8.9-1 6.6-1-6.1-1 1.7-1-2.5-1-2.7-1-2.9-1 1.2-1 12.1-1-5.3-1-5-1 4.6-1 4.7-1-8.2-1 3.2-1 2.5-1-6.7-1 1.2-1 20.6-1-16.8-1 1.2-1 10.2-1-16.9-1-1.4-1 5.9-1-7.6-1 5.8-1-3.7-1 20-1-17.4-1 4-1-4.3-1 .1-1 6.3-1-10.3-1-.2-1 3.5-1-2-1 2.1-1-2.3-1 .4-1 .5-1 4.3-1-1.1-1-8.5-1 4-1 5.4-1-2.5-1 3.4-1 3.5-1 3.1-1-5.8-1-.8-1 4-1-.6-1-5.2-1 4.2-1-4.4-1-.8-1-.1-1-1-1 6.9-1-2.2-1 0-1 3.4-1 0-1-1.8-1 2-1 5-1-.6-1-6.7-1 4.4-1-1.6-1 6.7-1-2.3-1-2.6-1-4.6-1-1.2-1 3.5-1 5.4-1-9.9-1 .3-1 4.9-1 5.4-1-13.8-1 1.6-1 10.7-1-11.5-1 4.8-1 5.8-1-7.3-1-2.5-1 21.6-1-19.7-1-1.1-1 .6-1 .4-1 3.8-1-5-1 2.6-1-1.3-1 1.6-1-2-1-2.5-1 12.6-1-10.9-1 8.5-1-10.9-1-1.6-1 2.5-1-.3-1-5.6-1 4.3-1 8.2-1-11.5-1 2-1-10.5-1 19.7-1-17.1-1 1-1-4.4-1-.4-1 0-1 1.7-1 2.3-1-1.8-1 2.7-1-.7-1-3.1-1 4.3-1 .9-1 3.1-1 .3-1 .4-1-3.8-1-1.7-1-1.5-1 2.7-1 10.5-1-14.7-1 2.5-1-1.9-1 8.1-1-5.3-1 1.4-1 13.1-1-17.3-1-2.1-1-2.8-1 3.7-1-1.3-1 3.9-1 5-1-2.7-1 .3-1-2.7-1 8-1-3.2-1-4.2-1 6.8-1-7.4-1 1-1-.2-1-2.3-1 3.3-1 3.6-1-1.7-1-3.6-1-1-1 1.9-1-.8-1-10.1-1-1.6-1-1.9-1 1.1-1-9.5-1 3.4-1-8.5-1 3-1 4.2-1 .6-1 9.3-1-3.5-1 9.1-1 .6-1 5.4-1 3.9-1 5.7z" fill="#aaa" stroke="none"/>
<path d="M36.9 1022.2l.5-3.9 .5-5.6 .5 3.7 .5 .4 .5-3.6 .5 4.3 .5-4.4 .5 .1 .5-7.7 .5 7.9 .5-1 .5-5.2 .5 .4 .5 5.7 .5-4.2 .5 3.2 .5-1.4 .5 4.1 .5-3 .5 .7 .5-2.4 .5-3.4 .5 3.8 .5 4 .5-4.2 .5 0 .5 .1 .5 2.3 .5 1.1 .5 2.7 .5-3.1 .5-1.4 .5 4.8 .5-1.9 .5 3.1 .5 3.7 .5-4.6 .5 5 .5-4.2 .5-6.4 .5 4.9 .5 .5 .5 0 .5-1.5 .5 5.4 .5-1.6 .5-1.4 .5-3 .5 2.2 .5 1.1 .5 2.5 .5-6 .5 6.2 .5-.4 .5-2.1 .5 .9 .5-2.7 .5 .1 .5 3.1 .5-1.4 .5 .9 .5-.2 .5-3.3 .5 2.9 .5 .5 .5 1.6 .5-2 .5-4.4 .5 5.5 .5-6.2 .5 6.9 .5-4.2 .5-.8 .5 5.8 .5-5.2 .5-5.1 .5-.8 .5-7.1 .5-1.4 .5-3.8 .5-3.6 .5-3.3 .5-4 .5-8.6 .5 1.5 .5-1.4 .5-4.7 .5 1.1 .5-5.7 .5-4.1 .5 .6 .5-5.4 .5-2.5 .5-1.8 .5-3.4 .5-.6 .5 2.6 .5-2.3 .5 3.6 .5-.7 .5 .8 .5-.2 .5 4.5 .5-1.1 .5 1.2 .5-.1 .5 0 .5 3 .5 .1 .5-1.8 .5 5.5 .5 .9 .5-3.6 .5 3.5 .5-2.8 .5 3.5 .5 3 .5-3.9 .5-.1 .5 2 .5 1.5 .5 1.1 .5-2.7 .5 2.3 .5 2.5 .5-4.9 .5-2.9 .5 3.5 .5-3.1 .5 2.5 .5-.1 .5 4 .5 2.9 .5-.3 .5 0 .5-4.1 .5 5.1 .5-.6 .5-6.3 .5 6.6 .5-3.5 .5-1.5 .5 .7 .5 2.1 .5-4.2 .5 3 .5 1.6 .5-3.4 .5 2.3 .5-2.5 .5-2.3 .5 .7 .5 .4 .5 1.6 .5 .2 .5-3 .5 0 .5 1.1 .5-1.4 .5-2.3 .5 4.7 .5 3.7 .5-4.6 .5 2.9 .5 1 .5-1.6 .5-3.6 .5-1.9 .5 3.8 .5 1.5 .5-2.1 .5 3.4 .5-2.1 .5 .2 .5-.8 .5 4.8 .5-1.1 .5-.6 .5-2.9 .5 7 .5-2.2 .5 1.9 .5-5.2 .5 1.7 .5-.2 .5 .1 .5 1.2 .5-.3 .5 3.5 .5-.6 .5-3.9 .5 4 .5-2.3 .5 2 .5-4.2 .5-.4 .5-4.3 .5 .9 .5 1.9 .5-4.4 .5 1.7 .5-5.9 .5 2 .5 2.1 .5-.4 .5-1.2 .5 2.4 .5-1 .5 2 .5-2 .5 3.6 .5-7 .5 .3 .5 5.2 .5 2.5 .5-1.7 .5 .1 .5-1.5 .5 3.7 .5-1.2 .5-2 .5 5.9 .5-4.7 .5-1.9 .5 7.2 .5-1.4 .5 1 .5-1.6 .5 3.6 .5-.2 .5 .4 .5 4.6 .5-3.2 .5 1.2 .5-3.5 .5 2.5 .5-.7 .5 4.4 .5 .8 .5-1 .5-1.7 .5-3 .5 3.3 .5 5.4 .5-4.5 .5-.7 .5 1.9 .5-4.8 .5 .7 .5 2.2 .5 1.7 .5 .8 .5-1.8 .5-.8 .5 2.3 .5 .1 .5 3.2 .5-5.6 .5 3.2 .5 .2 .5 1.1 .5-1.8 .5 1.6 .5-2 .5-.4 .5 5.3 .5-6.8 .5 5.8 .5-2.4 .5-1.2 .5 3.7 .5-2.7 .5 0 .5 0 .5 3.7 .5-5.3 .5 .8 .5-2 .5 3.3 .5 .4 .5-1.4 .5-2.3 .5-.5 .5-2.1 .5 3.7 .5-1 .5 1.8 .5-2.7 .5 3.3 .5 4.2 .5-4.4 .5 1 .5-2.4 .5-.1 .5 2.2 .5-1.9 .5 1.1 .5 3.8 .5-5.2 .5 6.2 .5-4.2 .5 2.2 .5 2 .5-1.7 .5 3.7 .5-4.1 .5 2 .5 5.4 .5-6.2 .5-1.6 .5 3.5 .5 .4 .5-4.4 .5 1.6 .5-.4 .5 .3 .5 .4 .5-3.2 .5 4.5 .5 .3 .5 2.9 .5-2.6 .5-2.1 .5 2.8 .5 1.5 .5-.1 .5-7.8 .5 6.7 .5-5.5 .5-1.8 .5 4.2 .5-2.3 .5-2.3 .5 2.8 .5-2.2 .5 2.2 .5-2.6 .5 3.7 .5 .6 .5-1.2 .5-.4 .5-1.2 .5 5.6 .5-2.4 .5-3.7 .5 .2 .5 2.6 .5-.3 .5-3.5 .5 1.7 .5-.1 .5 3.2 .5-2.3 .5-1.2 .5-3.1 .5 4.9 .5-1.7 .5-2.6 .5 1.3 .5-2.1 .5 2 .5-1.8 .5 .6 .5-4.3 .5-1.6 .5 3.9 .5-1.2 .5-1 .5-1.4 .5 2.7 .5 3.7 .5-.8 .5 1.9 .5 1.2 .5 1.9 .5-5.6 .5 2.2 .5-.6 .5 .7 .5-1 .5 .7 .5-1.2 .5 2.1 .5-1.4 .5 0 .5 1 .5-.5 .5 1.6 .5-1.1 .5 1.3 .5-2.6 .5-2.9 .5 4.5 .5 .8 .5-1 .5-2.8 .5 .1 .5 1.8 .5-2 .5 5.7 .5-1.1 .5-.4 .5-1.7 .5 2.2 .5 1.2 .5-4.2 .5 1.1 .5 3.3 .5 2.3 .5-1.3 .5 4.9 .5 .8 .5-2.7 .5 5.6 .5-4.6 .5-.5 .5 1 .5-2.5 .5-1.5 .5-1.4 .5 .4 .5-.2 .5-4.1 .5 7.4 .5-2.9 .5 2.8 .5-1.9 .5 2.4 .5-1.9 .5 3.9 .5-6.5 .5 2 .5-5 .5 3.9 .5 1.4 .5-2.5 .5 .9 .5 1.8 .5-1 .5-1.6 .5-.7 .5 3.1 .5 0 .5 1.4 .5-4.6 .5 3.1 .5 5.4 .5-5.3 .5 1.4 .5 1.6 .5-1 .5-4.9 .5 6.1 .5 1.4 .5-2.2 .5 1.8 .5-.9 .5 2.1 .5-.2 .5 1.5 .5 1.4 .5-1 .5 4.7 .5-3.4 .5 2.4" fill="none" stroke="#ffa347" stroke-width="4.6" stroke-linejoin="round" stroke-linecap="round"/>
<path d="M295 1038.5H529.5" fill="none" stroke="#ededed" stroke-width="1"/><path d="M295 1017V1038.5M529.5 1038.5V1001" fill="none" stroke="#f7f7f7" stroke-width="1"/>
<path d="M335.5 1004.3l1-6 1-8.3 1 .1 1-6.5 1-12.1 1 6.7 1-5.4 1-3.3 1-1.3 1-3.2 1-.3 1-3.3 1 2.4 1 .3 1 2.4 1 5 1-2 1 2.6 1 1.5 1-5 1 4.6 1-4.6 1 8.4 1-3.9 1 5.8 1 .2 1-1.2 1 4.1 1-8.1 1 1.5 1 6.4 1-4.1 1 5.8 1-8.8 1 10.2 1-2.7 1-.8 1-1.8 1 0 1-.5 1 .7 1 5.3 1-1.3 1 2.9 1-.1 1-5.7 1 8.7 1 1.8 1-.7 1-1.9 1 1.9 1-9.6 1 6.2 1 5.1 1-2.4 1 1.3 1 1.2 1-3.8 1 2.5 1 0 1-.8 1 2.3 1-5.3 1 2.3 1-5 1 3.6 1-1.1 1-1.7 1 5 1-1.9 1 .7 1-5 1 5.6 1-2 1 .4 1-7.6 1 4.4 1-7.8 1 9 1-5.6 1 3.4 1 2.4 1-3.4 1 2.6 1-3.5 1-4 1 2.5 1 2.8 1 3.1 1-.9 1 0 1 .8 1-2.1 1 .4 1-2.8 1 1.5 1-.2 1-2.8 1 1.5 1 6.4 1-1 1-.9 1-1.1 1-2.3 1-5.7 1 4.6 1 .5 1 4.7 1-5.8 1-.9 1 6.1 1-.4 1-.5 1-1.4 1 1.4 1-1.3 1 2.9 1-.6 1-7.9 1 5.4 1 8 1-2.3 1 1.4 1-4.7 1 5.7 1 5.1 1-1 1-6.2 1 4.7 1 .2 1 2.1 1 2 1-1 1-.4 1-6.2 1 4.4 1 .4 1 1.3 1-2.6 1-4.1 1-3.5 1 .1 1-6.1 1 1.9 1 3.3 1-5.5 1 4 1 .8 1-.9 1 6.6 1 3.8 1-12.2 1 10 1 .8 1-6 1-.5 1 5.2 1 1.7 1-1 1-3 1 2.5 1 2 1 .6 1 1.1 1-.8 1-4 1 3.9 1-2.3 1 2.6 1-1.2 1-.1 1 .6 1-3 1-2.3 1 4.1 1 1.2 1-.5 1-2.3 1-1.2 1 .6 1-3.1 1 4.5 1 .1 1-6.9 1 4.6 1-3.9 1 .9 1-.4 1-.3 1 1 1 3.6 1-3.1 1 5.4 1-4.2 0 15-1-1-1 4.6-1 2.1-1-6.3-1-.1-1-1.4-1 1.6-1-3.1-1 13.4-1-9-1-1.7-1 2.6-1-.8-1 .5-1-2.8-1 2.4-1-.8-1 1-1-.4-1 1.8-1 .6-1-2.6-1 2.9-1-4.5-1 4.6-1-.7-1-.1-1 .8-1 2.9-1-.7-1-.7-1-4.9-1 1.7-1 0-1 2.8-1-2.7-1 1.2-1-2.3-1 5.5-1-2.6-1-.4-1-1.8-1-1.3-1-3.1-1 .9-1-.7-1 2.1-1-6.6-1 2.8-1-2.3-1 4.3-1-3.7-1 8.2-1-3-1 2.5-1 8.5-1-5.7-1 .9-1 .7-1-2.1-1 2.6-1 .3-1-.9-1 1.8-1 3-1-7.3-1 .3-1-.4-1 1.8-1-5.8-1-1.2-1 1.4-1-.4-1 3.3-1-1.4-1-7.3-1 .4-1-2.1-1 .6-1 4.2-1-4.2-1 1.7-1 0-1 .6-1 0-1-1-1-3.2-1 6.6-1-6-1 6.8-1-5.9-1 4.7-1 .8-1-1.6-1 4.5-1-7.1-1-.4-1 2.1-1-1.9-1 6.6-1-8.2-1 2-1-1.3-1-.7-1 .2-1-.5-1 6.6-1-4-1-1.8-1 3-1 4-1-3.5-1-2.9-1 3.3-1-1.6-1-1.6-1 7.7-1-2.7-1 .7-1 5.5-1-7-1 2-1-2.8-1 1.8-1 2.9-1-2.4-1 5.2-1-5.2-1 6.6-1-8.1-1 4.4-1-2.9-1 5.1-1 3.1-1-5.8-1 4-1-5.8-1 2.3-1 .8-1-2-1-1.8-1 3.7-1 6.3-1-11.3-1-.3-1-.1-1 3.4-1-4-1-2.1-1 2.7-1 6.2-1-.9-1-8.7-1-5.9-1 7.4-1-6.2-1 2.4-1 1-1 11.6-1-15.9-1 6.4-1-4.9-1 1.2-1 6.6-1-9.7-1 8.7-1-10.1-1-.2-1-.7-1 2.5-1-1.5-1-1.5-1 5-1-4.9-1-1.8-1-2.9-1 .4-1-2.1-1-3.4-1 2.4-1-2.1-1 1.5-1 7.9-1-8.7-1 6.5-1-3.9-1 4.1-1-.2-1-.3-1 2.5-1 5.7-1 5.5-1 1.5-1 3z" fill="#aaa" stroke="none"/>
<path d="M294.5 1016.5l.5-2.8 .5 3.3 .5 2.3 .5-.3 .5-1.3 .5-2.2 .5-.5 .5-2.1 .5 2 .5-3.1 .5-2.5 .5 5.8 .5-.9 .5-1.4 .5 .1 .5 4.2 .5-1.9 .5 1.3 .5 .1 .5-3 .5 5.4 .5-2.2 .5-4.7 .5 2.3 .5-2.4 .5 2.4 .5 2.4 .5-3.8 .5-1.2 .5 2.3 .5-2.2 .5 2.9 .5 2.9 .5-.6 .5-3.5 .5 .6 .5 3 .5 2.1 .5-5.2 .5 1.1 .5-1.2 .5-1 .5-.8 .5 .7 .5 3 .5 .6 .5 1.2 .5-4.7 .5-1 .5 4.1 .5-4.2 .5 2 .5 4.2 .5 .1 .5 .5 .5-3.1 .5 3.4 .5-1.8 .5-2.6 .5 2.7 .5 2.7 .5-3.8 .5 6 .5-2.9 .5-2.3 .5-3.5 .5 3.3 .5 .6 .5-1.7 .5 3.8 .5-.1 .5-1.9 .5-.9 .5-.2 .5-1.4 .5 .1 .5 3.1 .5-6.3 .5 1.5 .5-2 .5-3.6 .5-.8 .5-4.2 .5-2.5 .5-.7 .5 1 .5-4.9 .5-7.9 .5 2.5 .5-3 .5-.6 .5-1.9 .5 0 .5 2.6 .5-4.7 .5-2.5 .5-4.4 .5 1.7 .5-.3 .5-1 .5-.9 .5-3.6 .5-1.3 .5 .6 .5 3 .5-1.3 .5 2.3 .5 1.7 .5-5 .5 2.4 .5 2.3 .5-4 .5 4.7 .5 1.1 .5 4.7 .5-4.1 .5 2.7 .5 .2 .5-3.4 .5 .3 .5 4.8 .5-2.7 .5 4.7 .5-5 .5-.7 .5 1.2 .5 5.2 .5-2.2 .5 5.4 .5-8.3 .5 1.7 .5 2.5 .5 .7 .5-.6 .5 2.6 .5-3.5 .5 4.5 .5-1.1 .5-2.1 .5 .7 .5-.1 .5 .4 .5-3.8 .5 3.6 .5-1.3 .5-.6 .5 4.8 .5-.5 .5-1.6 .5 .3 .5 5.5 .5-3.1 .5-2.4 .5 1.7 .5 0 .5-1.1 .5 3.2 .5-5.4 .5 .7 .5 .9 .5-.7 .5-.5 .5 2.8 .5 1.8 .5 .4 .5-.2 .5-.1 .5 3.7 .5-2.6 .5 .5 .5-.4 .5 4.8 .5-4.6 .5 5.4 .5-3.9 .5 2.7 .5-.7 .5 2.1 .5-.8 .5-1.8 .5-1.3 .5-1.5 .5 1.6 .5 3.5 .5-.5 .5-.8 .5 0 .5 .7 .5 2.5 .5-1.4 .5-.7 .5 2 .5-2.2 .5 .5 .5 .1 .5-.8 .5-.2 .5 1.2 .5-4 .5 2.5 .5 .2 .5-4.7 .5 6.3 .5-4.2 .5 3.6 .5-.5 .5-1.3 .5-.9 .5 6.9 .5-5.3 .5-1.9 .5 .9 .5 .7 .5-2.2 .5 0 .5 2.8 .5-2.8 .5 4.1 .5 .4 .5 1 .5-1.8 .5-3.4 .5 2.6 .5-1.4 .5 2.1 .5-2 .5 3.1 .5-1.9 .5 .1 .5 2.3 .5-7.5 .5 2.3 .5-3 .5 .5 .5 .4 .5 3.2 .5-3.9 .5 4.5 .5-2.6 .5-.6 .5 3.7 .5-3.6 .5-2.9 .5 1.3 .5 4.2 .5-2.2 .5-1.6 .5 3.5 .5-.3 .5-.8 .5-3.5 .5-2.1 .5-1.5 .5 .7 .5 2.6 .5-2.6 .5 .9 .5 2.2 .5-1.3 .5 2.8 .5-2.9 .5 3.2 .5 4.7 .5-3.8 .5-1.1 .5-2.2 .5 5.3 .5-1.7 .5-.3 .5-2.5 .5 3.1 .5-2.9 .5-.3 .5-4.4 .5 4.4 .5 1.1 .5 2 .5 1 .5-.7 .5 .1 .5-1.8 .5 .7 .5 2.2 .5-5.9 .5 1.7 .5-2.7 .5 .3 .5 2.6 .5-1.1 .5-4.5 .5 1.8 .5-2.9 .5 6.1 .5-.8 .5 3.4 .5-6.3 .5 3.6 .5 5.6 .5-4.8 .5 1.3 .5-3.5 .5 1.5 .5 5.3 .5-4.6 .5 .5 .5 3.6 .5-.2 .5-1.1 .5-6.5 .5 2.8 .5 2.1 .5-4.2 .5 2.1 .5 .1 .5 3.9 .5-5.4 .5-1.8 .5 3.8 .5 .9 .5 .9 .5 2 .5 2 .5-1.8 .5 .4 .5-.3 .5 3.5 .5-1.6 .5-3.3 .5 4.5 .5 .8 .5 .7 .5 5.6 .5-7.3 .5 6.5 .5-1.7 .5 3.8 .5-3 .5-.8 .5 .3 .5-1 .5-.2 .5 6.2 .5-.4 .5-5.2 .5 .4 .5 0 .5 .5 .5-2.2 .5 4.1 .5-2.7 .5-.7 .5-.2 .5-.3 .5-1.1 .5 .7 .5-.9 .5 3.3 .5-.2 .5 1.7 .5-4.9 .5 1.3 .5-5 .5-1.3 .5 2.4 .5-5.4 .5 1 .5-2.6 .5-.2 .5 3.4 .5-4.9 .5 .1 .5 3.6 .5-.9 .5-5.4 .5 4.1 .5 2.3 .5 4.9 .5-4.3 .5-2.5 .5 3.7 .5 4.2 .5-1.9 .5-1.4 .5 3.3 .5 .2 .5 3.7 .5-.3 .5-2.9 .5 5 .5-1.7 .5-2.6 .5 .8 .5-2.4 .5-.2 .5 4.6 .5-.2 .5 1.6 .5-.3 .5-.4 .5 3.1 .5-8.6 .5 3.6 .5 2.7 .5-3.3 .5 0 .5 1.2 .5 1.6 .5-.1 .5 1.4 .5-1.9 .5-1 .5 2.2 .5-1.5 .5 2.9 .5-1.7 .5-6.9 .5-.4 .5 2.4 .5 .5 .5-2.2 .5 3.1 .5-.2 .5-1.3 .5 1.5 .5 0 .5-1.4 .5 2.3 .5-3.5 .5 3 .5-4.2 .5 3.3 .5-1 .5 5.5 .5-2.1 .5 1.1 .5-4.3 .5-.5 .5-2.5 .5 5.5 .5-4.4 .5 2 .5-.1 .5-2.7 .5-2 .5 2.6 .5 7 .5-6.6 .5 1.1 .5-.1 .5-1.8 .5 .7 .5-1.8 .5-.7 .5-1.3 .5 2.1 .5 1.2 .5 .2 .5 2.5 .5-5.4 .5-1 .5 2.3 .5 2.9 .5-6.3 .5 7.4 .5-.2 .5 2 .5-2.9 .5-1.3 .5 .4 .5 5.5 .5-2.2" fill="none" stroke="#ffa347" stroke-width="4.6" stroke-linejoin="round" stroke-linecap="round"/>
<path d="M37.5 1155H269.5" fill="none" stroke="#ededed" stroke-width="1"/><path d="M37.5 1131V1155M269.5 1155V1127" fill="none" stroke="#f7f7f7" stroke-width="1"/>
<path d="M79.9 1122.2l1-8.5 1-8.1 1-11 1 2.7 1-5.8 1 4.7 1-3 1 4.2 1 .6 1 3 1-7.2 1 6.3 1 .3 1 2.5 1 .7 1 .8 1-3.2 1 3.4 1-2.6 1 2.5 1 .3 1-4.1 1 3.1 1-2.4 1 2.4 1-2.9 1 .9 1 1.6 1 2 1 .3 1-2.3 1 2.5 1-5.8 1 5.9 1-.2 1 2.6 1 1.4 1-4.6 1 3 1 .6 1-1 1-1.3 1 3.7 1-1.4 1-.7 1 5.6 1-4.3 1 3.4 1 .3 1-.4 1 2.5 1-.7 1-2.3 1 2.3 1 3.5 1 1 1 1.3 1-1 1 .7 1-.1 1-4.7 1 7 1-1.5 1-2.5 1-.4 1-.5 1 .6 1-1.9 1-1.7 1-9.8 1 7.3 1 5 1 .5 1-.6 1-.6 1 3.3 1-3.9 1 5.5 1 1.3 1-.6 1-2.7 1 4.6 1-5.3 1-1.8 1 .4 1-4.9 1 3 1-5.6 1 5.1 1 2.3 1 .4 1-3.7 1-6.5 1 9.2 1-5.5 1 5.5 1 2 1-4.5 1 3.6 1 4.7 1 .9 1-1.7 1-2.6 1-2.6 1-6.3 1-3.4 1 10.4 1 2.4 1-4.2 1-1.2 1 1.7 1-.1 1 .9 1-4.3 1 4.1 1-.5 1-6 1 5 1-2.3 1 1 1-6.3 1 1.1 1-.5 1-.3 1-4.4 1 6.3 1-.7 1 1.6 1-6.7 1 5.5 1 2.4 1-2.9 1 5.4 1-1.6 1 1.2 1-1.5 1 5.6 1 2.2 1 3.1 1-.5 1-.7 1-2.8 1 1.2 1-.1 1 .1 1-2.4 1 1.1 1-5.7 1 4 1 1.7 1 .3 1 .5 1 1.9 1-5.9 1 4 1 3.6 1-3.8 1 2 1-.6 1 1.3 1-5.6 1 3.8 1-.8 1-3.5 1 .4 1 .6 1-1.5 1 4.4 1-1 1-9.1 1 9.9 1-3 1 2.4 1 .5 1-2 1-3.5 1 2.5 1-.9 1 .1 1 2.1 1-4.1 1-1.2 1 1.7 1-1 1 2.1 1 5.3 1 .3 1-3.8 1-3.8 0 21.9-1-6.4-1-.6-1-1.1-1 0-1 1.5-1-3.1-1-2.2-1 2.4-1 1.8-1-2.6-1-.3-1 6.7-1-1.7-1 1.9-1-2-1-1.6-1 1.4-1 1-1-1.4-1 .5-1 2.3-1 2.2-1-3.9-1-5.2-1 2.8-1 3.6-1-1.3-1-2.6-1 9.1-1-3.4-1-4.5-1 5.1-1 1.6-1-6.2-1-.5-1 .7-1-.7-1 .3-1-.1-1 1.3-1-4-1 1.8-1-1.5-1 3-1-.4-1 .4-1 4.6-1-1.9-1-.5-1-.2-1-3-1 2-1-4.3-1-.3-1-1.5-1-3.5-1-.4-1-.2-1 .6-1 .3-1-1.3-1-2.3-1-1.3-1 .9-1 4.5-1-2.4-1 .4-1 1.8-1 .5-1 1.1-1-.9-1 1-1 .1-1 .3-1-.3-1 1.7-1-.6-1-.1-1-1.4-1 8-1-3.5-1 1.4-1 3.9-1-4.9-1 2-1-.8-1 5.2-1-2.5-1-.8-1 4.5-1-6.2-1-.4-1-4.4-1-.1-1 0-1 .9-1 1.7-1-2-1 1.7-1 4.2-1-4.3-1-1.3-1 3.2-1-3.4-1 1.2-1 4.7-1 4.7-1-5.4-1 .6-1-.5-1-.5-1 0-1 2.5-1-3.8-1-1.4-1-1.5-1 2.4-1 2.1-1-3.6-1-.2-1-1.4-1 .7-1 9.8-1-6.7-1 7.4-1-6.8-1 4.5-1-1.8-1 4-1 .4-1 .2-1 .4-1-5.1-1-.3-1 3-1 4.9-1-7.7-1-.1-1-1.4-1-1.2-1-.5-1-1.2-1 2.9-1-3.2-1 3.4-1-6.6-1 .2-1-1-1-2.7-1-.3-1 2.1-1 7.2-1-5.6-1-5-1 .8-1 .4-1-2.2-1 .7-1-.8-1 5.2-1-10.9-1 1.7-1-3.1-1 4.1-1 .3-1 2.4-1 .2-1 4.4-1-6.2-1 .2-1 3.3-1-3.8-1-1.5-1 1-1 4-1-5.7-1 0-1-.6-1 1.7-1 0-1-2.9-1-1.7-1-1.2-1 .6-1 .8-1-2.2-1 6.4-1 5.1-1 4.9z" fill="#aaa" stroke="none"/>
<path d="M36.9 1131.5l.5 3.7 .5 .7 .5-5.3 .5-.3 .5 3.1 .5-3.3 .5-.2 .5-.1 .5-.4 .5-1.9 .5 2 .5-1.7 .5-1.6 .5-1.4 .5 1.3 .5 3.9 .5-2.8 .5-2.8 .5 .1 .5-3.3 .5 .9 .5 2.5 .5 .1 .5 .7 .5-1.4 .5-.3 .5 3.7 .5 1.4 .5 1.1 .5-5.3 .5 .4 .5 6.4 .5-2.5 .5 2.3 .5-2.3 .5-3.1 .5-.3 .5 1.9 .5 3 .5-6.9 .5 .5 .5 2.2 .5 .3 .5-2.5 .5 1.7 .5-.8 .5 1.3 .5 4.7 .5-1.9 .5 1 .5 2.1 .5-1.3 .5-4.4 .5 6.4 .5-6 .5 2.3 .5 2.6 .5-4 .5 4.5 .5-3.4 .5-.4 .5 2.2 .5 .4 .5-1.5 .5 1.2 .5 3.9 .5-2.6 .5-1.4 .5 2.5 .5-1.2 .5-2.6 .5 2.3 .5-.5 .5 2.9 .5-2.7 .5-1.5 .5-1.9 .5 2.9 .5 .1 .5-.1 .5 .3 .5 2.2 .5-6.3 .5-.8 .5 2.1 .5-6.2 .5-2.4 .5-.3 .5-2.9 .5-1.5 .5-11.5 .5-1.1 .5-1 .5 .6 .5 5.2 .5 0 .5-6.1 .5 5 .5 1.5 .5 1.5 .5-.4 .5-3.5 .5 2.7 .5-2.7 .5 2.4 .5 1.4 .5 .7 .5-2 .5-1.6 .5 5.5 .5-4.9 .5 1.3 .5 3.5 .5-2.5 .5 .6 .5 .9 .5-1.6 .5 .8 .5 .4 .5-.2 .5 .4 .5 .2 .5 3.2 .5-4.7 .5-.5 .5 2.7 .5 3 .5-3.2 .5 2.6 .5-2.6 .5 1.4 .5-2.5 .5-3.7 .5-.6 .5 5.8 .5-5.4 .5 5.1 .5-3 .5-4 .5 5.4 .5-3.7 .5 3.4 .5-1.5 .5-.2 .5 2.7 .5-.7 .5 1.5 .5 0 .5 4.2 .5-5.6 .5 4.3 .5-2 .5-3 .5 5 .5 .7 .5 .2 .5-2.4 .5 4.4 .5-.7 .5-2 .5 1.7 .5-5.6 .5 3.6 .5-.8 .5 .1 .5 3.2 .5-3 .5 .8 .5 5.8 .5-.6 .5-7.3 .5 6 .5-1 .5-.6 .5-.3 .5 .7 .5 1.7 .5 1.8 .5 1.1 .5 1.1 .5-.8 .5 .9 .5 2.7 .5-4.2 .5-1 .5 2.4 .5-1.4 .5 1.6 .5 3.2 .5-7.5 .5 6.8 .5-2.7 .5 .7 .5 6.2 .5-8.2 .5-.4 .5 5.3 .5-.6 .5 1.6 .5 1.4 .5-2.8 .5 2.3 .5 .9 .5-.7 .5 2 .5-1.2 .5-.9 .5 .4 .5-1.7 .5 .2 .5-1.8 .5-1.8 .5-1.1 .5 2 .5-.1 .5 .1 .5-1.6 .5-.2 .5 4.4 .5-4.9 .5 .4 .5-1.4 .5 .3 .5 .1 .5-1.7 .5-4.2 .5 4.2 .5 2 .5-.4 .5-1.1 .5 3.9 .5 1 .5-6.2 .5 2.5 .5 1.9 .5-5.8 .5 5.8 .5 .7 .5 1.8 .5-5.3 .5 7.3 .5-2.7 .5 1.4 .5-3.3 .5 4.2 .5-1.2 .5 2.4 .5-2.5 .5 1.9 .5-4.1 .5 4.5 .5-1.6 .5-3.3 .5-2.6 .5 1.8 .5-1.9 .5 .4 .5 2.3 .5-2.4 .5-1.6 .5 1.3 .5 1.7 .5 1.1 .5 2.7 .5-6.2 .5 .5 .5 .9 .5-2.3 .5-2.1 .5 4.6 .5 .5 .5-4.8 .5 7 .5-2.7 .5-2.8 .5 2.2 .5-1.9 .5 .8 .5 6.6 .5-6.5 .5 7.1 .5-6.7 .5 1.6 .5 5.4 .5-3.6 .5 1.9 .5 4.2 .5-2.5 .5 0 .5-2.7 .5 4 .5-4.8 .5 .8 .5 .8 .5-5.3 .5 4.3 .5-3.8 .5-.9 .5 5.5 .5-4.5 .5-2.3 .5 2 .5-.9 .5 1.7 .5-.2 .5-4.2 .5 4.1 .5 1.3 .5 1.9 .5-2.5 .5-3.9 .5 2.2 .5-.3 .5-2.7 .5 .6 .5-.8 .5 4.3 .5-1.9 .5 1.5 .5-2.1 .5 .3 .5 3.6 .5-4 .5-.4 .5-.1 .5-2.8 .5-.7 .5 1.4 .5 .5 .5 .4 .5-1.7 .5-.3 .5-1.9 .5 1.3 .5 .6 .5-1.8 .5-3.6 .5 2.3 .5-.4 .5 1.8 .5 1.6 .5-2.1 .5 3.2 .5-1.8 .5-4.2 .5 3.8 .5-.6 .5 .6 .5-.3 .5 2.9 .5 1.1 .5 1.6 .5-1.9 .5-1.3 .5-1.2 .5 3.1 .5 .3 .5-.1 .5 1 .5 3.5 .5 1.8 .5 2.2 .5 .4 .5-.4 .5 .1 .5-2.7 .5 5.3 .5-.4 .5-6 .5 3.8 .5 .8 .5-1.3 .5-1.4 .5-1.9 .5-.9 .5 2.8 .5-1.8 .5-2.8 .5 3 .5-3.3 .5 2.6 .5-3.6 .5 4.2 .5-3.9 .5 2.1 .5 4.4 .5-5.6 .5 6.4 .5-4.3 .5 0 .5 2.2 .5 .4 .5 2.6 .5-2.3 .5-2 .5 4.3 .5-.6 .5-.9 .5 1.4 .5 1.5 .5-3 .5 3.2 .5-.2 .5-4.3 .5 1.5 .5 1.3 .5-.9 .5-.6 .5-2.2 .5-2.3 .5 5.3 .5-5.1 .5-1.4 .5 6.5 .5-4.1 .5 1.3 .5-1.8 .5 .4 .5-.8 .5 2 .5 4.8 .5-3.5 .5 1.8 .5-2.7 .5 1.6 .5-.5 .5-1.5 .5 1.6 .5-1.8 .5-.9 .5-1.4 .5 2.1 .5 3.4 .5-.2 .5-4.3 .5 .7 .5 .7 .5-6.6 .5-2.5 .5 2.4 .5 5.1 .5-9 .5 8.4 .5-3.7 .5 2.2 .5 .3 .5-3.6 .5 4.5 .5-.1 .5-5.3 .5 5.3 .5 .5 .5-.9 .5-.6 .5-.6 .5 2.6 .5 1.6 .5-3.5 .5 6.9 .5-3.1 .5 5.8 .5-4.7 .5-1.1 .5 2.6 .5 .7" fill="none" stroke="#0cc10c" stroke-width="4.6" stroke-linejoin="round" stroke-linecap="round"/>
<path d="M295 1155.5H528.5" fill="none" stroke="#ededed" stroke-width="1"/><path d="M295 1129V1155.5M528.5 1155.5V1101" fill="none" stroke="#f7f7f7" stroke-width="1"/>
<path d="M335.5 1105.7l1-8.1 1-9.9 1-9.8 1-7.4 1-10.9 1-1 1-8.9 1 3.5 1 10.1 1 6.1 1-.5 1 10.8 1 5.8 1 2.2 1 .2 1 .6 1 1.2 1 3.7 1-4.1 1 3.3 1-6.3 1 .2 1 3.4 1-5 1 1.2 1-.6 1-5.7 1 1.4 1 2.2 1-2.2 1-10.8 1 8 1-6.2 1-2.1 1-1.8 1 1.2 1-1.6 1 3.8 1 4.6 1 1.4 1 .9 1 3.8 1 4.4 1 6.5 1-1.6 1 5.1 1 1.2 1 .1 1 3.2 1 4 1-7.8 1 12.6 1-3 1 3.5 1-.5 1 3 1-5 1-1.4 1-.1 1 3.7 1-7.8 1 8 1 5.5 1-6.5 1 4.3 1 .5 1 .7 1-3.6 1-1 1-2.6 1 3.2 1-3 1 3.3 1-2.9 1-4.1 1-.2 1-.3 1 3.9 1-4.6 1 1.5 1 4.4 1 .5 1 .5 1-2.2 1 0 1-1.4 1 1.3 1-2 1 5.5 1-4.8 1 3.4 1-2.1 1-1.1 1 3.9 1-3.6 1 2 1 3.2 1 4.2 1-2.3 1 2.3 1-3.1 1 1 1 4.9 1 1.4 1 3.5 1 1.3 1-2 1-1.9 1-2.8 1 .1 1-2.3 1-1.4 1 1.6 1-1.3 1 2.2 1-.6 1-.2 1-1.9 1-1.1 1 .7 1-2.3 1 0 1-3.3 1-1.8 1 3.3 1-5.2 1-4.8 1-1 1 12 1 1.5 1 1.3 1-2.5 1 3.4 1-1.6 1 1.8 1 2.6 1 .3 1-.1 1-15.6 1 12.4 1-5 1 14 1-3 1 1.9 1 .1 1-8.6 1 3 1 5.2 1-.5 1-1 1 1.1 1 2.6 1-3.1 1 1.8 1-1.6 1-.5 1-4.2 1 2 1-6.4 1 .6 1 4.8 1 1.1 1-4.9 1-1.5 1-7.9 1 8.6 1 3.9 1-1.8 1-1.6 1 .3 1 1.2 1-13.4 1 9 1-5.1 1 4.2 1 .3 1 2.3 1-1.5 1-2.9 1-.2 1-.3 1-1.7 1-7.8 1 6.7 1-5.7 1 3.2 1-3 1-.6 1-3.7 1-1.5 1-2.1 1-.3 0 20.9-1-3.8-1 5.4-1-.6-1 2.1-1 2.3-1 .3-1 3.4-1 2.9-1 1.1-1 .8-1-.5-1 .3-1 .2-1 1.7-1 7.1-1-5.1-1 8.6-1-9.3-1-1.6-1 4-1-1.7-1 4-1 .6-1-1.4-1 2.2-1 4.7-1-8.8-1 1.6-1 9.3-1-9.1-1 2.2-1 3.6-1-.2-1 5.2-1-11.6-1 2.1-1 2.8-1 7-1-4.2-1-3.7-1 10.6-1-10.4-1 2.3-1-4.8-1 9.1-1-7.5-1 7.1-1-4-1-2.2-1 3.9-1-4.3-1 3.4-1-8-1-1-1-.7-1 3.4-1-3.9-1 1.3-1 1.2-1-6.1-1 .7-1-3.2-1 1.2-1 3.5-1-7.1-1 1.6-1 1-1 4.7-1-2.7-1-1-1 1.7-1 6-1-6.9-1 9.7-1-4.2-1-2.4-1 2.3-1-1.5-1 4.6-1-1.8-1 .1-1 5.6-1-3-1 7.8-1-6.3-1 7.2-1-7.4-1-1.9-1 3.3-1-6.8-1-.9-1 3.2-1-1-1-1.2-1-5.4-1 1.2-1-6.2-1 .3-1 16.9-1-15.9-1 3.1-1-.7-1 .6-1 1.4-1-6.2-1 2.4-1 2.7-1 .6-1-4.7-1 4.8-1 2.7-1-.4-1-4.4-1-3.1-1 3.9-1-1.4-1 1.9-1-3.2-1 8-1-3.7-1 4.6-1-5.2-1-.6-1 .3-1 1.6-1 1.7-1 8-1-3.2-1-1.5-1 2.8-1-5.4-1-1.1-1 1.7-1-5.1-1 .5-1-.2-1 .3-1 8.4-1-11.2-1 .9-1-3.6-1 3.9-1-4.1-1-5.1-1-.7-1 14.2-1-17.1-1 1.7-1-2.7-1-9.1-1 1.4-1-3-1-4.4-1-.1-1-1.2-1-3.8-1 3.2-1 2.3-1 .5-1 8.5-1-2.4-1 1.2-1 .6-1 2.4-1 3.7-1-2.6-1 3.8-1-.7-1-1.5-1 4.3-1 2.4-1-3.4-1 11.4-1-1.1-1-8.1-1-1.3-1 1.7-1-4.1-1-2.6-1-.3-1-4.1-1-2.5-1-9.7-1-11.7-1-4.7-1 2.7-1 5.7-1 6-1 3.9-1 5.1-1 8.8-1 5.1z" fill="#aaa" stroke="none"/>
<path d="M294.5 1128.6l.5 6 .5-2.2 .5-2.5 .5-4.6 .5 3 .5 2.1 .5-1.1 .5-3 .5 4.2 .5-3.6 .5-4.6 .5 5.4 .5 1.9 .5 2.6 .5 .8 .5-6.3 .5 2.3 .5 5.6 .5-3.7 .5-2.3 .5 1.6 .5 2.4 .5 .6 .5-1.7 .5 1.4 .5-3.3 .5-5.7 .5 2 .5 1.2 .5-3.3 .5 1.7 .5-1.3 .5 1.7 .5 2.3 .5-1 .5-1.5 .5-4.6 .5-1.2 .5-.1 .5 .7 .5 1.2 .5 2.3 .5-1.2 .5-1.3 .5 .1 .5 3.1 .5 5.1 .5-5.8 .5 3.5 .5 1.9 .5-1.4 .5 3.1 .5-2.8 .5-.1 .5-.7 .5 .1 .5 1.3 .5 2.4 .5-6.1 .5-1.6 .5 .2 .5 2.8 .5 2.8 .5-1.8 .5-4.6 .5 4 .5-1.8 .5 1.2 .5 1.9 .5 2.3 .5-5.9 .5 .7 .5 .6 .5-2.4 .5 4.7 .5-.8 .5-5.2 .5 2.5 .5-7 .5-1.1 .5-4.6 .5-1.4 .5-7.3 .5 2.1 .5-8.6 .5-2.6 .5-3.1 .5-3.2 .5-1.3 .5 1.5 .5-8.4 .5-4.7 .5-2.7 .5-3 .5 .1 .5-3.2 .5 4.4 .5 4.1 .5-3 .5 6.9 .5 6.4 .5-2 .5 7.7 .5-.5 .5 8.1 .5 2.9 .5-.4 .5-3.1 .5-.9 .5-.7 .5 3.2 .5 .7 .5 1.5 .5 2.6 .5 1.2 .5-4.5 .5-.8 .5 9.7 .5-1.1 .5-3.2 .5-2.7 .5 .1 .5 .2 .5 .6 .5-3.6 .5 3.2 .5-3.5 .5-2.2 .5 3.1 .5-.7 .5-3.5 .5 1.1 .5-2.1 .5 2.4 .5 1 .5-2.2 .5 .2 .5 1 .5-3.8 .5 .1 .5 1.3 .5-4.2 .5 4.1 .5-2.9 .5-5.2 .5 1.1 .5 1.8 .5-.4 .5 1.4 .5 .5 .5-6 .5 1.2 .5-4.8 .5 2.4 .5 0 .5-.7 .5-.2 .5 .3 .5 2.2 .5 2.5 .5 .2 .5 5.6 .5-4.7 .5-1.1 .5 4.9 .5 4 .5 2.3 .5 .3 .5 5.2 .5-5.3 .5 6.4 .5-1.3 .5 1 .5 3.5 .5-6.3 .5 2.7 .5 2.2 .5-2.1 .5 2.9 .5-1.8 .5 6.8 .5-.4 .5-.4 .5-.8 .5 .4 .5 .1 .5 3.8 .5-.1 .5 1.7 .5-.4 .5-.2 .5 2.2 .5-.9 .5 6 .5-5.7 .5-1.7 .5-.8 .5 2.7 .5 2.1 .5 .8 .5-5.1 .5 4.6 .5-2 .5 6.7 .5-5.8 .5-.4 .5 3.7 .5-7.7 .5 5.8 .5-2.8 .5-.3 .5 2.1 .5-3.7 .5 1.5 .5 .3 .5-1.6 .5 1.9 .5 1.8 .5-2.2 .5-1.3 .5-.7 .5 1.9 .5 1.8 .5-3.4 .5 1 .5-1 .5 1.4 .5 3.2 .5-5.1 .5 .9 .5-.9 .5-.4 .5-2.9 .5 .8 .5 1.1 .5-3.1 .5 4.1 .5 3.3 .5-5.4 .5 1.5 .5-1 .5-1 .5-1 .5 3.7 .5-2.1 .5-1.4 .5 2.3 .5 1.5 .5-4.9 .5-.2 .5 4.4 .5 0 .5-2.8 .5 .5 .5 2.3 .5-5 .5 2.5 .5 4 .5-3 .5 2.1 .5 2.2 .5-1.5 .5-5.5 .5 3.1 .5 0 .5-.2 .5-1.5 .5-1.5 .5 1.5 .5 1.2 .5-2.5 .5 6.5 .5-4.3 .5 2.4 .5 3.4 .5-2 .5-1.8 .5 7.4 .5-3.1 .5 .8 .5 2.5 .5-1.6 .5-2.1 .5 4.5 .5-6.1 .5 4.2 .5-.5 .5 6.1 .5-2.5 .5-.2 .5 .3 .5 1.6 .5 1.5 .5 3.5 .5-1.4 .5-.2 .5-2.8 .5-4.1 .5 4.9 .5-4.1 .5-2.9 .5 1.6 .5-.1 .5 .6 .5 1.7 .5-2.6 .5 2.3 .5-3.3 .5-.1 .5 .3 .5 4.6 .5-5.8 .5-1.2 .5 .6 .5 1.5 .5 1.7 .5-2.2 .5-2.5 .5 .7 .5 .3 .5-4.2 .5 1.3 .5-2.4 .5 3.4 .5-1.5 .5 4.5 .5-8 .5 3.9 .5-2 .5 3.3 .5-5 .5-.9 .5 3.3 .5-5.6 .5 3.8 .5-1.9 .5-1 .5 3.9 .5-1.7 .5 5.9 .5-2.4 .5-2 .5 3.3 .5 .4 .5-3 .5 5.1 .5 0 .5 1.8 .5 .2 .5-2.4 .5 1.6 .5 3.1 .5-2.6 .5-.6 .5-6.6 .5 11.3 .5-1.9 .5-1.8 .5 5.9 .5-3 .5-.2 .5-2 .5-2.4 .5 5.8 .5-1.4 .5 .6 .5 3.8 .5-2.3 .5 2.6 .5 .2 .5-3.5 .5 1 .5 3 .5 .3 .5-3.8 .5 1.6 .5-1.9 .5-1.3 .5 5.1 .5-5.6 .5 3 .5-1.3 .5 .7 .5-.8 .5 2.6 .5 2.1 .5-1.3 .5-1.9 .5-1.1 .5 2.7 .5-.8 .5 .1 .5 .2 .5-4.1 .5-.3 .5 .9 .5 2.1 .5-1.7 .5-5.7 .5 4.8 .5-3.5 .5-.2 .5 3.7 .5-1.3 .5 5.7 .5-1.1 .5-3.5 .5 2.2 .5 1.6 .5-2.3 .5-7.3 .5 3.9 .5-.1 .5 .7 .5 1.8 .5 .1 .5-2.5 .5-1.5 .5 3 .5 .2 .5 3.1 .5-1.2 .5-5.9 .5 1.3 .5 .1 .5-1 .5-2.8 .5 .5 .5 .3 .5-4.8 .5-.4 .5 9.2 .5-1.9 .5-1.8 .5 1.2 .5-1.4 .5 .8 .5 3.7 .5-3.3 .5-2.2 .5-2.3 .5-.8 .5 3.5 .5-1.8 .5 1.1 .5 .7 .5-1.3 .5-2.6 .5 .6 .5-4.3 .5 3.3 .5-3.4 .5-1.9 .5-.9 .5 1.7 .5-1.2 .5-2.8 .5 2.9 .5-1.5 .5-2 .5 2.3 .5-5.4 .5 2 .5-5.4 .5 1.7 .5 1.8 .5-2" fill="none" stroke="#0cc10c" stroke-width="4.6" stroke-linejoin="round" stroke-linecap="round"/>
<path d="M493.5 791V821.5H524" fill="none" stroke-width="3.5"/>
</g>
<g id="panel_e">
<text x="553" y="672" font-size="75" font-weight="bold">e</text>
<text x="912" y="660.5" font-size="39.3" text-anchor="middle">CFA von Frey</text>
<line x1="698.1" y1="658.3" x2="698.1" y2="1057.8" stroke-width="3.5"/>
<line x1="685.6" y1="1056.3" x2="698.1" y2="1056.3" stroke-width="3.5"/>
<text x="683.6" y="1070.3" font-size="39.3" text-anchor="end">0</text>
<line x1="685.6" y1="858" x2="698.1" y2="858" stroke-width="3.5"/>
<text x="683.6" y="872" font-size="39.3" text-anchor="end">50</text>
<line x1="685.6" y1="660.5" x2="698.1" y2="660.5" stroke-width="3.5"/>
<text x="683.6" y="674.5" font-size="39.3" text-anchor="end">100</text>
<text x="618.6" y="862" font-size="39.3" text-anchor="middle" transform="rotate(-90 618.6 862)">AUC</text>
<line x1="685.6" y1="1056.3" x2="1116.5" y2="1056.3" stroke-width="3.5"/>
<rect x="713.6" y="1045.2" width="66.5" height="11.1" fill="#5aa2f4" stroke="#000" stroke-width="3.5"/>
<line x1="746.8965517241379" y1="1045.1970443349753" x2="746.8965517241379" y2="1038.5467980295566" stroke-width="3.5"/>
<line x1="730.8965517241379" y1="1038.5467980295566" x2="762.8965517241379" y2="1038.5467980295566" stroke-width="3.5"/>
<rect x="819.7" y="919.6" width="65.8" height="136.7" fill="#f00" stroke="#000" stroke-width="3.5"/>
<line x1="852.5615763546798" y1="919.5812807881773" x2="852.5615763546798" y2="880.0492610837439" stroke-width="3.5"/>
<line x1="836.5615763546798" y1="880.0492610837439" x2="868.5615763546798" y2="880.0492610837439" stroke-width="3.5"/>
<rect x="925.3" y="999.8" width="66.1" height="56.5" fill="#ffa347" stroke="#000" stroke-width="3.5"/>
<line x1="958.4113300492611" y1="999.7536945812808" x2="958.4113300492611" y2="959.1133004926108" stroke-width="3.5"/>
<line x1="942.4113300492611" y1="959.1133004926108" x2="974.4113300492611" y2="959.1133004926108" stroke-width="3.5"/>
<rect x="1031.4" y="1040.4" width="65.8" height="15.9" fill="#0cc10c" stroke="#000" stroke-width="3.5"/>
<line x1="1064.2610837438424" y1="1040.3940886699506" x2="1064.2610837438424" y2="1035.960591133005" stroke-width="3.5"/>
<line x1="1048.2610837438424" y1="1035.960591133005" x2="1080.2610837438424" y2="1035.960591133005" stroke-width="3.5"/>
<polyline points="746.2,1028.6 852.2,747.8 957.5,811.3 1053.5,1032.3" fill="none" stroke="#000" stroke-width="3.5"/>
<polyline points="746.2,1034.1 852.2,899.3 957.5,1030.4 1063.9,1004.6" fill="none" stroke="#000" stroke-width="3.5"/>
<polyline points="746.2,1039.7 852.2,899.3 957.5,1010.1 1053.5,1050.7" fill="none" stroke="#000" stroke-width="3.5"/>
<polyline points="746.2,1043.3 852.2,927.0 957.5,1043.3 1073.1,1026.7" fill="none" stroke="#000" stroke-width="3.5"/>
<polyline points="746.2,1047.0 852.2,939.9 957.5,1021.2 1070.2,1056.3" fill="none" stroke="#000" stroke-width="3.5"/>
<polyline points="746.2,1050.7 852.2,980.5 964.9,1045.2 1053.5,1032.3" fill="none" stroke="#000" stroke-width="3.5"/>
<polyline points="746.2,1052.6 852.2,991.6 949.4,1043.3 1053.5,1050.7" fill="none" stroke="#000" stroke-width="3.5"/>
<circle cx="746.2" cy="1026.7" r="10" stroke="none"/>
<circle cx="746.2" cy="1034.1" r="10" stroke="none"/>
<circle cx="746.2" cy="1041.5" r="10" stroke="none"/>
<circle cx="746.2" cy="1047.0" r="10" stroke="none"/>
<circle cx="746.2" cy="1052.6" r="10" stroke="none"/>
<circle cx="852.2" cy="747.8" r="10" stroke="none"/>
<circle cx="852.2" cy="899.3" r="10" stroke="none"/>
<circle cx="852.2" cy="927.0" r="10" stroke="none"/>
<circle cx="852.2" cy="939.9" r="10" stroke="none"/>
<circle cx="852.2" cy="980.5" r="10" stroke="none"/>
<circle cx="852.2" cy="991.6" r="10" stroke="none"/>
<circle cx="957.5" cy="811.3" r="10" stroke="none"/>
<circle cx="957.5" cy="1010.1" r="10" stroke="none"/>
<circle cx="957.5" cy="1021.2" r="10" stroke="none"/>
<circle cx="957.5" cy="1030.4" r="10" stroke="none"/>
<circle cx="949.4" cy="1043.3" r="10" stroke="none"/>
<circle cx="964.9" cy="1045.2" r="10" stroke="none"/>
<circle cx="957.5" cy="1037.8" r="10" stroke="none"/>
<circle cx="1063.9" cy="1004.6" r="10" stroke="none"/>
<circle cx="1073.1" cy="1026.7" r="10" stroke="none"/>
<circle cx="1053.5" cy="1032.3" r="10" stroke="none"/>
<circle cx="1053.5" cy="1050.7" r="10" stroke="none"/>
<circle cx="1070.2" cy="1056.3" r="10" stroke="none"/>
<text x="742" y="1113" font-size="39.3" text-anchor="middle" transform="rotate(-45 742 1113)">Pre</text>
<text x="855" y="1107.5" font-size="39.3" text-anchor="middle">2</text>
<text x="961" y="1107.5" font-size="39.3" text-anchor="middle">7</text>
<text x="1061" y="1107.5" font-size="39.3" text-anchor="middle">21</text>
<line x1="826.5" y1="1116.5" x2="1097" y2="1116.5" stroke-width="3.5"/>
<text x="962" y="1156.5" font-size="39.3" text-anchor="middle">days after CFA</text>
<text x="1452" y="660.5" font-size="39.3" text-anchor="middle">CFA Hargreaves</text>
<line x1="1233" y1="658.3" x2="1233" y2="1057.8" stroke-width="3.5"/>
<line x1="1220.5" y1="1056.3" x2="1233" y2="1056.3" stroke-width="3.5"/>
<text x="1218.5" y="1070.3" font-size="39.3" text-anchor="end">0</text>
<line x1="1220.5" y1="858" x2="1233" y2="858" stroke-width="3.5"/>
<text x="1218.5" y="872" font-size="39.3" text-anchor="end">50</text>
<line x1="1220.5" y1="660.5" x2="1233" y2="660.5" stroke-width="3.5"/>
<text x="1218.5" y="674.5" font-size="39.3" text-anchor="end">100</text>
<text x="1153.5" y="862" font-size="39.3" text-anchor="middle" transform="rotate(-90 1153.5 862)">AUC</text>
<line x1="1220.5" y1="1056.3" x2="1652.5" y2="1056.3" stroke-width="3.5"/>
<rect x="1247.8" y="1018.2" width="67.2" height="38.1" fill="#5aa2f4" stroke="#000" stroke-width="3.5"/>
<line x1="1281.4039408866995" y1="1018.2266009852217" x2="1281.4039408866995" y2="1004.5566502463055" stroke-width="3.5"/>
<line x1="1265.4039408866995" y1="1004.5566502463055" x2="1297.4039408866995" y2="1004.5566502463055" stroke-width="3.5"/>
<rect x="1353.8" y="992.4" width="66.9" height="63.9" fill="#f00" stroke="#000" stroke-width="3.5"/>
<line x1="1387.2536945812808" y1="992.3645320197045" x2="1387.2536945812808" y2="984.2364532019704" stroke-width="3.5"/>
<line x1="1371.2536945812808" y1="984.2364532019704" x2="1403.2536945812808" y2="984.2364532019704" stroke-width="3.5"/>
<rect x="1459.1" y="1017.5" width="67.6" height="38.8" fill="#ffa347" stroke="#000" stroke-width="3.5"/>
<line x1="1492.9187192118227" y1="1017.4876847290641" x2="1492.9187192118227" y2="1006.4039408866995" stroke-width="3.5"/>
<line x1="1476.9187192118227" y1="1006.4039408866995" x2="1508.9187192118227" y2="1006.4039408866995" stroke-width="3.5"/>
<rect x="1565.5" y="1018.2" width="66.5" height="38.1" fill="#0cc10c" stroke="#000" stroke-width="3.5"/>
<line x1="1598.768472906404" y1="1018.2266009852217" x2="1598.768472906404" y2="1005.6650246305419" stroke-width="3.5"/>
<line x1="1582.768472906404" y1="1005.6650246305419" x2="1614.768472906404" y2="1005.6650246305419" stroke-width="3.5"/>
<polyline points="1281.0,986.1 1387.4,980.5 1493.5,980.5 1598.8,993.5" fill="none" stroke="#000" stroke-width="3.5"/>
<polyline points="1281.0,991.6 1387.4,1000.9 1493.5,999.0 1598.8,978.7" fill="none" stroke="#000" stroke-width="3.5"/>
<polyline points="1281.0,991.6 1387.4,984.2 1493.5,1010.1 1598.8,1010.1" fill="none" stroke="#000" stroke-width="3.5"/>
<polyline points="1281.0,1013.1 1387.4,991.6 1493.5,1030.4 1598.8,1010.1" fill="none" stroke="#000" stroke-width="3.5"/>
<polyline points="1281.0,1034.1 1387.4,965.8 1493.5,999.0 1598.8,1024.9" fill="none" stroke="#000" stroke-width="3.5"/>
<polyline points="1281.0,1047.0 1387.4,980.5 1493.5,1021.2 1598.8,1047.8" fill="none" stroke="#000" stroke-width="3.5"/>
<polyline points="1281.0,1047.0 1387.4,991.6 1493.5,1030.4 1598.8,1024.9" fill="none" stroke="#000" stroke-width="3.5"/>
<circle cx="1281.0" cy="986.1" r="10" stroke="none"/>
<circle cx="1281.0" cy="991.6" r="10" stroke="none"/>
<circle cx="1281.0" cy="1013.1" r="10" stroke="none"/>
<circle cx="1281.0" cy="1034.1" r="10" stroke="none"/>
<circle cx="1281.0" cy="1047.0" r="10" stroke="none"/>
<circle cx="1281.0" cy="1041.5" r="10" stroke="none"/>
<circle cx="1387.4" cy="965.8" r="10" stroke="none"/>
<circle cx="1387.4" cy="973.2" r="10" stroke="none"/>
<circle cx="1387.4" cy="980.5" r="10" stroke="none"/>
<circle cx="1387.4" cy="991.6" r="10" stroke="none"/>
<circle cx="1387.4" cy="1000.9" r="10" stroke="none"/>
<circle cx="1387.4" cy="986.1" r="10" stroke="none"/>
<circle cx="1493.5" cy="980.5" r="10" stroke="none"/>
<circle cx="1493.5" cy="999.0" r="10" stroke="none"/>
<circle cx="1493.5" cy="1010.1" r="10" stroke="none"/>
<circle cx="1493.5" cy="1021.2" r="10" stroke="none"/>
<circle cx="1493.5" cy="1030.4" r="10" stroke="none"/>
<circle cx="1493.5" cy="1004.6" r="10" stroke="none"/>
<circle cx="1598.8" cy="978.7" r="10" stroke="none"/>
<circle cx="1598.8" cy="993.5" r="10" stroke="none"/>
<circle cx="1598.8" cy="1010.1" r="10" stroke="none"/>
<circle cx="1598.8" cy="1024.9" r="10" stroke="none"/>
<circle cx="1598.8" cy="1047.8" r="10" stroke="none"/>
<circle cx="1598.8" cy="1017.5" r="10" stroke="none"/>
<text x="1275" y="1113" font-size="39.3" text-anchor="middle" transform="rotate(-45 1275 1113)">Pre</text>
<text x="1390" y="1107.5" font-size="39.3" text-anchor="middle">2</text>
<text x="1495.5" y="1107.5" font-size="39.3" text-anchor="middle">7</text>
<text x="1596" y="1107.5" font-size="39.3" text-anchor="middle">21</text>
<line x1="1361.2" y1="1116.5" x2="1632" y2="1116.5" stroke-width="3.5"/>
<text x="1496" y="1156.5" font-size="39.3" text-anchor="middle">days after CFA</text>
<line x1="747.6" y1="711.6" x2="853.5" y2="711.6" stroke-width="3.5"/>
<text x="806" y="707" font-size="34" text-anchor="middle" letter-spacing="2">**</text>
</g>
<g id="panel_f">
<text x="2" y="1248.5" font-size="75" font-weight="bold">f</text>
<text x="186.6" y="1270" font-size="39.3" text-anchor="middle">Locomotion</text>
<text x="417.5" y="1270" font-size="39.3" text-anchor="middle">Escape</text>
<text x="56.2" y="1380" font-size="39.3" text-anchor="middle" transform="rotate(-90 56.2 1380)">ΔF/F</text>
<text x="56.2" y="1577.7" font-size="39.3" text-anchor="middle" transform="rotate(-90 56.2 1577.7)">Speed</text>
<text x="269.5" y="1713" font-size="39.3" text-anchor="middle">Normalized movement bout</text>
<path d="M69 1438.8H277.5" fill="none" stroke="#ededed" stroke-width="1"/><path d="M69 1400V1438.8M277.5 1438.8V1420" fill="none" stroke="#f7f7f7" stroke-width="1"/>
<path d="M150.3 1401.1l1 .6 1 .6 1-.2 1 .6 1-.6 1 .1 1 1.1 1-.4 1-.5 1 .6 1-.6 1 .8 1-1.2 1 .2 1 .5 1 .1 1-.4 1-.2 1 0 1 .5 1 1.2 1 .9 1-.6 1 .4 1-1 1 .8 1 .9 1-.1 1 .2 1 .6 1-.1 1 .8 1 .2 1-.1 1 .6 1 .2 1-4 1 4.2 1-.8 1 .6 1-.5 1 .4 1 1.4 1-.5 1-.1 1 .7 1 .1 1 .3 1-1.7 1-.1 1-2.7 1 3.6 1 .7 1-.1 1-.4 1 1.5 1 .4 1-.9 1 2.1 1-.4 1 .5 1-.7 1-.3 1 .4 1-.4 1 .7 1-.1 1 1.1 1-1.5 1 2.4 1 1 1 .2 1 1.5 1-.5 1-1.3 1-.7 1-3.3 1 3.1 1 .7 1-.9 1 .7 1 .7 1-.1 1-.1 1 1 1 0 1-1.8 1-.6 1 .6 1-3.6 1 1.9 1-.4 1 .6 1-.7 1 0 1 .1 1-.7 1-.7 1 .1 1-.8 1-.1 1-.3 1 0 1 .6 1 .5 1-.1 1-.1 1-1.5 1 2.1 1-.5 1 .5 1-.5 1-1.7 1 1.3 1-.6 1 .2 1 .1 1-.9 1 .8 1-.5 1-1.4 1 2.1 1-2.7 1 1.9 1-.1 1 1.6 1 .2 0 12.8-1-1.1-1 0-1-.6-1 .2-1-.5-1-.8-1 .8-1 .2-1 1.5-1 0-1 1-1-.5-1 .1-1 .2-1 1-1 .1-1-.6-1-.4-1-1.2-1 1-1-.1-1-.4-1 .1-1-.6-1 1.4-1-.7-1-.3-1 .1-1 1.5-1-.4-1 1.3-1 1.3-1-.9-1 .7-1-.9-1 1.1-1 .1-1 1-1 .4-1 .8-1 .6-1 .5-1-.7-1 .6-1 1.9-1-3.2-1 1-1-.7-1-.8-1 1-1 .6-1-.6-1 .9-1 .7-1 .3-1-.6-1-1.1-1-.6-1-.4-1 .4-1-2.6-1-.1-1-.9-1 .9-1-.8-1 .4-1-1-1-.1-1 .9-1-1.7-1-.6-1-.6-1-.5-1 2.9-1-3.9-1 .5-1-.2-1-.6-1-.1-1-.8-1 .2-1-1-1 .1-1 .3-1-1.3-1-.3-1 .3-1-.6-1 .6-1-1.2-1 0-1 .3-1 .4-1-1.7-1-.7-1 .7-1-1.1-1-1-1-.4-1 2.6-1-3.9-1 1-1-1.2-1-.8-1 .6-1-1.9-1-.5-1-1.3-1-.2-1 .9-1-1.2-1-.5-1 .2-1-.5-1 .9-1-1.4-1-.2-1-.8-1 .9-1-.2-1-1.4-1 0-1 .3-1-.8-1-.6-1-1-1-.6z" fill="#aaa" stroke="none"/>
<path d="M68.3 1400.2l1-1 1-.4 1 .5 1 .4 1 .4 1-1.2 1-.1 1 1.2 1 0 1-.4 1 .3 1 .9 1-.5 1 .5 1-.3 1 .6 1 .1 1 .6 1-.2 1 1.1 1 .7 1 .3 1 1.2 1 1 1-.7 1-.3 1-.6 1-.7 1-.2 1-1 1-.4 1-.6 1 .1 1-.4 1 .7 1-.4 1-.6 1 .6 1-.9 1-.8 1-.5 1 .3 1 0 1-.3 1-.4 1 1.3 1-.3 1-.1 1 .3 1-.9 1-.3 1-.1 1-.7 1-.3 1 .2 1-.7 1-1.4 1-1 1-.2 1-1 1-.5 1 .4 1 1.6 1 1.3 1 1.2 1 .6 1 .8 1 .3 1 .3 1 .1 1 .8 1 .7 1 .2 1 .5 1 .8 1 .3 1-.1 1 0 1-.1 1 0 1-.2 1-1.1 1 .8 1 .8 1-.4 1 1.1 1-.7 1 .5 1 1.2 1-.7 1-.3 1 .9 1-.5 1 1.3 1-.8 1 .6 1-.4 1 .6 1 0 1-.3 1 0 1 1.5 1 .5 1 1.2 1-.5 1 .2 1 .3 1 .5 1 .7 1-.1 1-.1 1 .8 1 .9 1 .8 1-.2 1 .3 1 .3 1-.1 1 .2 1 .5 1-.1 1 .7 1-.2 1 .3 1 .5 1 .2 1-.5 1 1.1 1 .2 1-.2 1 .3 1-.2 1 0 1 .9 1 0 1 0 1 .4 1 .5 1 .8 1 .2 1 .8 1 .1 1 .3 1 .6 1 .1 1-.4 1-.5 1 .8 1 .1 1 .5 1 .2 1 .4 1 1.6 1 .9 1 .5 1 .4 1-1.6 1 0 1-.5 1-.3 1 .4 1-.3 1 .3 1 .8 1 .1 1 .8 1-.5 1 0 1-.8 1-.1 1-.6 1-.3 1-.7 1-.5 1-.4 1 .3 1-.1 1-.6 1-.4 1-.3 1-.8 1-.1 1 .2 1-.8 1 .5 1 .8 1-.1 1 .9 1 .1 1-.9 1 .9 1 .5 1-.8 1 .7 1 0 1-.4 1 .6 1-1 1-.6 1 .1 1-.7 1-.6 1 .3 1-.1 1 .4 1 .1 1 .5 1 .9 1 .4" fill="none" stroke="#f00" stroke-width="5.2" stroke-linejoin="round" stroke-linecap="round"/>
<path d="M303 1438.8H510.3" fill="none" stroke="#ededed" stroke-width="1"/><path d="M303 1414V1438.8M510.3 1438.8V1331" fill="none" stroke="#f7f7f7" stroke-width="1"/>
<path d="M352.2 1392l1-1.3 1-1.5 1-.8 1-4 1-3.4 1 .9 1 .3 1-2.8 1-1.4 1-2.1 1-4.7 1 1.4 1-1.5 1-4.9 1 .3 1-2.5 1-1 1-5.2 1-1 1-2.8 1-2.1 1 .3 1-2.6 1-1.8 1-3.6 1-1.5 1-3.1 1 2 1-3.2 1-.2 1-4.1 1-.3 1-.7 1-3.7 1-1.8 1-4.1 1 .1 1-1.4 1-1.9 1-1.9 1-4 1-3.1 1-.1 1-.9 1-2.6 1-1.3 1-3.1 1 .3 1 1.7 1-1.8 1 0 1-2.8 1 1.1 1 .4 1-.8 1-1.1 1 .4 1-.2 1-3.7 1-.8 1 1.9 1-5.9 1 1.6 1 .5 1 1 1 .8 1 .6 1 .8 1 .3 1 1.2 1 1.1 1-.6 1 1.1 1 1.2 1-.3 1-1.3 1-.4 1 2.6 1-1.5 1-3.2 1 4.3 1 1.3 1-.8 1 .1 1-3.8 1 2.9 1 .4 1 .4 1 1.8 1 .3 1-1 1 .5 1 0 1 .1 1-.5 1-1.6 1 2.8 1-.9 1-.1 1 1.4 1 .6 1 2.1 1-.5 1-.3 1-1.2 1 2.6 1 .6 1 1.4 1-2.6 1 1.9 1-.5 1-1.4 1-4.3 1 4.3 1-1.6 1 1.1 1-.8 1-4.8 1 1.7 1 3.3 1-.1 1-1.2 1 .1 1-.2 1 3.2 1 .6 1 0 1 .8 1 .9 1-1.5 1 .9 1 1.6 1-1.9 1-.3 1-1.8 1 4.8 1-1.4 1-.5 1 .5 1 2.2 1-.5 1-1.1 1-1.2 1 1.4 1-.7 1 .6 1-1 1-2.6 1 1.6 1-1 1-1.8 1 2 1-1.7 1 1.8 1 1.6 1 .8 1 .2 1 1.7 0 32.8-1-1.9-1 .3-1 .2-1-3.2-1 3-1-3.2-1 6.8-1-4.2-1-2.6-1-.3-1 4.8-1-.6-1-1.7-1-.5-1 .3-1 5.8-1-4.3-1-1.2-1 0-1 .1-1-.6-1-.4-1 3.4-1-3-1-.7-1 3.3-1-2.5-1 .1-1-2.1-1-.3-1-1.3-1 5.7-1-2.9-1-2.4-1-1.8-1 .4-1-.2-1-1.1-1 2.8-1-2.2-1 2.3-1-1.7-1 2-1-.8-1 2.5-1-1.4-1 2.7-1-3-1 .3-1 4.2-1-1.9-1-2-1 1.1-1-2.2-1 .7-1 3.4-1-4.3-1-2.3-1 .7-1-1-1 1.8-1-2.1-1 .2-1-.4-1-.1-1 3.2-1 2.9-1-3.7-1-.5-1 2.2-1-.8-1-1.6-1 1.2-1-1.7-1-1.8-1-.4-1 5.8-1-3.2-1 .4-1-1.5-1-1.7-1 1.4-1-.4-1 .2-1 1.5-1-2.3-1 2.1-1-3.4-1-.6-1 1-1-2.1-1-.6-1 .4-1 5.7-1-.3-1-4.5-1-.4-1 .3-1 1.5-1 .3-1 .5-1-1.2-1 .6-1 1.5-1 2.8-1-3.7-1 1.5-1-.7-1-.3-1 3.9-1-2.6-1-.2-1 .6-1 1.6-1 3-1-2.6-1 2.8-1 1.2-1 3.5-1 1.4-1-.6-1 1.4-1 1.3-1 3.6-1-1.8-1 .4-1 2.7-1 1.5-1 .2-1 3.2-1-1.4-1 3.8-1 .6-1-.6-1 1.7-1 2.6-1 .3-1 2.8-1 1.6-1 1.4-1 .9-1 .6-1 4.5-1 0-1 1.4-1 2.8-1-1.3-1 1.4-1 3.2-1 .5-1 .1-1 .1-1 2.5-1-.3-1 1.6-1 .9-1-.1-1 .5z" fill="#aaa" stroke="none"/>
<path d="M302.2 1413.9l1-2.7 1-2.4 1-3.6 1-1.6 1-.2 1-1.6 1-.9 1-.5 1-1.3 1 .5 1-.3 1 .9 1 .6 1 .7 1 .3 1 1.3 1-.4 1 .1 1-.9 1 .9 1 .3 1-.8 1 0 1-.3 1-.2 1 .1 1 .1 1 .4 1-.3 1 .9 1 1 1-1.5 1-.5 1-.7 1-1.1 1 .9 1-.7 1-1.1 1-.5 1-.2 1-.5 1-.7 1-1.4 1-.3 1 .4 1-1 1 .2 1-1.6 1-.7 1-.3 1-1 1-.9 1-.5 1-1.8 1-1 1-2 1-1 1-.2 1-2.4 1-2 1-.7 1-2 1-1.2 1-2.1 1-2.6 1-2 1-1 1-1.4 1-2.1 1-2.1 1-1.9 1-1 1-2.5 1-1.7 1-1.7 1-1.5 1-1.1 1-1.3 1-1.8 1-.8 1-2 1-1.6 1-1 1-1 1-2.4 1-1.2 1-2.4 1-.4 1-2 1-1.3 1-2.5 1-1.9 1-1.5 1-1.3 1-1.4 1-1.4 1-1.5 1 .2 1 .5 1-.4 1-.3 1 .4 1-.4 1 .2 1-.8 1-.8 1-.4 1 .1 1-1.3 1-.6 1-1 1-.8 1-.4 1-1.2 1 .4 1 1.4 1 .6 1 .6 1 .7 1 .8 1 .1 1 .8 1-.1 1 .1 1 .4 1 .2 1-.6 1 0 1 .6 1-.5 1-.1 1 0 1 0 1 .7 1-.4 1 .8 1 .1 1 .3 1-.4 1 .2 1-.4 1 .8 1-.2 1-.6 1-.6 1 .2 1 .8 1-.3 1 .4 1 .2 1 2.1 1 .3 1 .2 1 .6 1 1.1 1 .4 1 .7 1-.7 1-.4 1-.1 1 .3 1-.8 1-.4 1-.2 1-.3 1 0 1-.4 1-.2 1-1.1 1 .2 1 .1 1-.3 1 .6 1 1.3 1 .1 1 .5 1 .3 1 1.1 1 .7 1-.2 1 1.1 1-.2 1 0 1 .6 1 .1 1 .3 1 .1 1-.9 1 1.2 1 .3 1 .7 1-.9 1-.7 1-.2 1 .7 1-.4 1-.5 1-1.1 1-.2 1 1.2 1-.9 1-.6 1 .1 1 .3 1 1.9 1 1.3 1-.3 1 1.4" fill="none" stroke="#f00" stroke-width="5.2" stroke-linejoin="round" stroke-linecap="round"/>
<path d="M71.3 1683H277.5" fill="none" stroke="#ededed" stroke-width="1"/><path d="M71.3 1640V1683M277.5 1683V1637" fill="none" stroke="#f7f7f7" stroke-width="1"/>
<path d="M71.3 1632l1-3.2 1-3.7 1 1.3 1-5.3 1-.2 1 1.1 1 3 1-.9 1-4.6 1 5.1 1-.3 1-1.8 1-1.9 1 2.6 1 .2 1-.1 1-2.4 1 3.2 1-4.4 1 1.1 1-1.4 1 2.2 1-1.2 1 0 1-2.7 1 2.1 1 2.1 1-2.4 1 2.1 1 4.7 1 3.8 1 4.1 1 .3 1-4.1 1 2.8 1-.4 1-1.4 1 .7 1-1.4 1 3.7 1-1.7 1 5.6 1-.5 1 1.3 1 3.5 1 .4 1 3.3 1-1.6 1-1.4 1-3.2 1 .6 1-3.2 1-.4 1-2.3 1-8.7 1-17.9 1-11.9 1-13.6 1-10.3 1-5.3 1-9.1 1 4.4 1 4.2 1 5.5 1 2.7 1-3.8 1-2.2 1-.8 1-2.1 1-2.5 1-1.6 1-3.8 1 1.5 1-.1 1 5.7 1-2.3 1-1.4 1 9.3 1 .4 1-1.7 1-.5 1-2.1 1 .1 1-1.8 1-4 1 1.6 1-.3 1 1.5 1-.4 1 5.2 1 .8 1 4.6 1 1.4 1 .5 1 5.1 1-.9 1-4.2 1 8 1 .5 1-.6 1-3.2 1-4.2 1-2.1 1-1.2 1-4 1-7.7 1 4 1-4.6 1 1.1 1 .3 1 3 1 2.3 1 0 1 3.4 1 1.3 1 1.1 1-6.2 1 7.6 1-1.6 1 0 1-.6 1-1.5 1 2.2 1-3 1-.4 1 2.1 1-9.3 1 5.4 1-.6 1-7.1 1 9 1 2.8 1 .8 1 .2 1 9.2 1-1.6 1-.4 1-3.6 1-1.5 1-2.1 1-2.3 1 .2 1-4.8 1-2.6 1 .4 1-.4 1 2 1 2 1 2.9 1 8.7 1 9 1 7.4 1 11.2 1-1.1 1 12.3 1 3.3 1 13.3 1 4.1 1-1.4 1 5.8 1 3.3 1 2.5 1 2.6 1-2.8 1-1.8 1 .9 1-5.7 1 .6 1 1 1-2.6 1-3.4 1-.1 1-1.2 1 1 1-.8 1-3.1 1-5.8 1-2.5 1-6.1 1-3.5 1 4.7 1 2.5 1 2 1 .3 1 2.4 1 2.4 1-2.4 1-2.6 1-3.6 1 1.1 1 1.1 1 1.1 1 .4 1 2.6 1-4.1 1 4.9 1-1.4 1 .3 1-.8 1-4.2 1-3.9 1-.3 1-2.4 1 9.2 1 2.7 1 .8 0 15.3-1-3.2-1 1-1-5.2-1-1.7-1 4.5-1-1-1 2.2-1 .6-1 .2-1 .8-1-.8-1-.2-1-1.8-1 0-1-1.6-1-.2-1 4.3-1-3.1-1 2.5-1 1.4-1-1.3-1-2.7-1 .4-1-5.8-1-3-1-2.1-1 4.8-1 6.4-1 .7-1 5.8-1 3.7-1-1.2-1-.2-1 1.7-1-.2-1 2.4-1 1.3-1 3.5-1-2.4-1 1.8-1 2.4-1 .6-1 3.9-1-5.4-1-1.4-1-6-1-2.3-1-2.8-1 .9-1-3-1-8.9-1-1.5-1-11.1-1-9.1-1-8.9-1-3.7-1-12.5-1-1.3-1 2.2-1 .1-1 .4-1-1-1 1.7-1-1.6-1 1.8-1 4-1 .4-1 1.4-1 1.2-1 3.3-1 .2-1-1.4-1-2.1-1-5.8-1-3-1-3.7-1 2.1-1-1.6-1 3.4-1 2.2-1-.5-1 1.8-1 1.3-1-1-1 .4-1 1.8-1 .6-1-1.4-1 6-1-8.9-1 1.2-1-1.1-1-5.1-1-.4-1-1.5-1-3.2-1 2.9-1-1.3-1 3.8-1 .3-1 .5-1 3.8-1 4-1-.5-1 5.1-1 4.3-1 5.3-1 .8-1-6-1-.8-1-3.1-1 1.5-1-6.1-1-2.2-1-3.7-1-.7-1-2.8-1-3.1-1 2-1 3.6-1-4.2-1-.1-1 1.7-1 .2-1 .4-1 .8-1 .4-1 3.2-1-4.2-1-2.1-1-1-1-2.2-1-3.3-1 1.3-1-1.5-1 4-1 .6-1 6.3-1-1.3-1 4.2-1 4.4-1-6.2-1-1.2-1-4.2-1-2.8-1 3.6-1 1.8-1 11-1 8-1 20-1 8.5-1 7.6-1 .4-1 4.6-1 2.9-1 0-1 3.8-1 2.4-1 1.6-1-1.8-1-1.2-1 2.2-1-5.4-1 1.9-1-3.7-1-2.8-1 .4-1-2.7-1-.4-1 2.2-1 .7-1-.7-1 1.1-1 .3-1-.4-1-5.3-1 .2-1-2.1-1-6-1-2.1-1 .3-1 2.1-1-1-1 1.1-1-1.7-1 2.5-1 .9-1-.5-1 2.6-1 0-1-.7-1 .2-1-1.3-1-1.6-1 1.2-1 3.9-1-.7-1-1.8-1-.4-1-1.9-1 1-1 4.2-1 .6-1 4-1 .7-1 2.8z" fill="#aaa" stroke="none"/>
<path d="M71.3 1639.9l1-3.1 1-1.9 1-2.3 1-2.1 1-1.4 1 .5 1 .5 1 .4 1 .4 1-.9 1-.4 1-.4 1-.5 1-.6 1 .8 1 1.6 1 .5 1-1.6 1-.8 1-.4 1-1 1-.7 1 .1 1-1 1-1.5 1 .5 1 3 1 2.3 1 3.2 1 2.5 1 2.2 1 2.5 1-.1 1-1.5 1-.1 1-.3 1-1.4 1 .9 1 1.3 1 2.1 1 1.9 1 .9 1 2 1 1.1 1 1.8 1 1.7 1-.3 1-1.2 1-1.2 1-2.6 1-1.4 1-1.8 1-2.4 1-1.5 1-9.6 1-14 1-13.2 1-13.5 1-7.2 1-6.5 1-4.5 1 3.3 1 4.4 1 4.5 1 2.1 1-1.3 1-3.4 1-1.2 1-3.4 1-2.9 1-1.1 1-.7 1-1.5 1 3.3 1 2.5 1 2.8 1 1.6 1 1.5 1-.4 1-.1 1-2.2 1-.2 1-1.4 1-1.3 1-3 1-.3 1 1.4 1 1.2 1 2.7 1 2 1 2.3 1 1.5 1 3.8 1 2.2 1 1 1 2.2 1 3.2 1 1.4 1 .1 1-3.8 1-2.6 1-3.1 1-2.8 1-2.5 1-2.3 1-2.8 1-.9 1-2.2 1-1.4 1-.3 1 2.3 1 2.6 1 1 1 1.4 1 2.6 1 1 1 .9 1 .3 1 .3 1-.9 1 .5 1 .1 1-.6 1-1.4 1 .1 1-1.6 1-1.1 1-2.4 1-.7 1-2.1 1 3.9 1 2.6 1 4.6 1 3.3 1 2.6 1 1.4 1-3.6 1-2.3 1-2.7 1-1.2 1-1.2 1-1.1 1-1.5 1 .3 1 .4 1-1.1 1-1.1 1-1.4 1 3.9 1 8.3 1 7.5 1 8.7 1 9.6 1 6.6 1 6 1 5.3 1 6.2 1 3.7 1 2.1 1 2.1 1 4 1 1.5 1 3.6 1 0 1-.6 1-2.6 1-.5 1-2.6 1-.6 1-2.2 1-1.2 1-.3 1-1.9 1 .2 1-.7 1-2 1-4.8 1-3.2 1-4.6 1-4.4 1 2.6 1 3 1 1.9 1 2.9 1 1.9 1-.1 1-.6 1-2.2 1-.8 1-.7 1-1.5 1 1.1 1 2.5 1 1.1 1 .5 1 1.6 1-.4 1-2.3 1-.6 1-2.2 1-1.3 1-2.2 1 1 1 3.3 1 2.6 1 3.1" fill="none" stroke="#4472d6" stroke-width="5.8" stroke-linejoin="round" stroke-linecap="round"/>
<path d="M304.5 1666H510.3" fill="none" stroke="#ededed" stroke-width="1"/><path d="M304.5 1636V1666M510.3 1666V1611" fill="none" stroke="#f7f7f7" stroke-width="1"/>
<path d="M304.1 1623.2l1 3.9 1-5.4 1 1.8 1-1.1 1 1.6 1-1.7 1-2.2 1 .8 1-1.4 1 1.2 1 4.1 1-4.5 1 7.1 1 .6 1-9.3 1-.1 1-1.7 1 2.9 1 1.9 1-1.2 1 2.5 1-3.3 1-.3 1 3 1-1.8 1-.1 1 4.3 1-.5 1 2 1 .8 1-1.2 1 2.1 1-2.1 1 2.3 1-1.5 1 3.9 1-1.8 1 3.8 1-9.9 1 4.4 1-.5 1 .4 1 3.6 1-4.4 1 1.7 1 4.6 1-3.1 1 1.3 1-2.1 1 2.6 1-.4 1-2.9 1-6.2 1-9.1 1-5.4 1-8.7 1-17.7 1-29.8 1-17.8 1-26.7 1-2.9 1-6.4 1-17 1-2.2 1 3.3 1 2.7 1-2.9 1 1.5 1 6 1 1.1 1-.8 1 4.9 1-5.6 1 3.9 1-.3 1-.5 1-13 1-5.7 1-3.5 1-5.5 1-.1 1-4.5 1-2 1 .4 1 3.6 1 8.6 1-1.6 1 .1 1-8.9 1-6.1 1-6 1-3.1 1 .7 1 1.4 1 9.9 1 1.8 1 7.2 1 6.8 1 2.1 1 4.8 1 6.6 1 8 1-5.7 1 5.9 1 1.4 1-2.7 1-4.4 1 1.3 1 1.6 1 .4 1-7.6 1-1.3 1 .3 1-4.3 1-6 1 3.7 1 4.4 1 2.9 1 7.2 1 1.7 1 .9 1 7 1-.5 1-10.3 1-15.2 1 2.7 1-14.8 1 1.9 1 11.4 1 7.7 1 5.5 1 4.8 1-7.9 1-2.4 1-4.1 1-2.8 1-4 1 12.2 1 7.6 1 4.2 1 19.2 1 .7 1 .4 1 7.2 1-2.3 1 7.1 1 2.3 1 8.7 1 15.2 1 13.3 1 7.8 1 6.2 1 8 1 9.9 1 .7 1 4.1 1 1.5 1 3.2 1 5.1 1 2.3 1 2.6 1-.1 1-7.5 1 4.5 1 5.3 1-4 1-6.5 1 1.5 1-3.6 1 .7 1-2.6 1 4.9 1 1.3 1 2.7 1-5.5 1 6.6 1-.7 1-6.9 1 1.2 1-5.3 1-6.3 1 6.4 1-3.9 1-1.2 1-4 1 3.1 1 1 1-3.1 1-3.6 1 1.4 1-6.4 1-1 1 3.7 1-.4 1 4.6 1-10.5 1 13.1 1 .8 1 .6 1-2.6 1 .8 1-4 1 .6 1-1.5 1-.6 1 .5 0 36.2-1 3.5-1 .4-1-3.6-1 3.3-1-4.2-1 2.4-1 2.4-1 3.6-1-7.7-1 3.3-1-.2-1-7.3-1-.1-1 .3-1 .8-1-3.3-1 8.1-1-7.6-1 2.1-1 1-1-.6-1 11.6-1-7.4-1-2-1 2.6-1 3.7-1 .9-1 2-1 4.2-1-2.4-1 .3-1-4-1 .2-1-2.2-1 11.6-1-13.6-1-.3-1-.6-1 3.2-1 2.3-1 2.4-1 7.6-1-3.4-1-.1-1 5.8-1-12.4-1 1.1-1 1.5-1-8.7-1-5.9-1-3.4-1-5.6-1-6.1-1-.6-1-14.4-1-8.9-1-9.2-1-10-1-3-1-6.9-1 5.1-1-6.4-1 1.1-1 3-1-4.2-1-10.8-1-7.4-1-3.6-1-12.1-1-1.9-1 5.9-1 1.4-1 3.8-1 9.5-1-9.6-1-3.8-1 .8-1-18-1 4.8-1 17.3-1 2.7-1 .7-1 6.2-1 .6-1-3.4-1 0-1-7-1-2-1-7.8-1 5.1-1-2.1-1 .7-1-3.5-1 4.7-1 .4-1 4.5-1 10.4-1-9.4-1 2.7-1 2.1-1-2.6-1-1.6-1 2.9-1-2.7-1-7.6-1-1.9-1-5.5-1-7.9-1-1.9-1-10.8-1-5.3-1-6.2-1-2.5-1-1.5-1 5-1 4.6-1 8.7-1 11.6-1 6-1-10.1-1-5-1 7.1-1-.1-1-8-1-.3-1 4.3-1 6.7-1 5-1 7.4-1 4.4-1 16.1-1-14-1-3.3-1 3.5-1-4.9-1 .6-1 2-1-2.5-1-6.1-1-4.2-1-1.3-1 .8-1 1.2-1 5.9-1 9.7-1-1.4-1 25.8-1 16.2-1 29.4-1 15.3-1 5.5-1 5.4-1 1.9-1 8.2-1 6-1-2.6-1 .3-1 4.6-1 8.1-1-8.6-1 5.1-1 .6-1-2.6-1 3.4-1-2.8-1 .1-1-2.1-1 5.2-1 4.5-1-7.5-1-1-1 .5-1-.6-1-3.2-1 2-1-2.6-1 .3-1-5.7-1 1.9-1-1.4-1 7.8-1-9.5-1 6-1-2.3-1-2.1-1-.4-1 4-1-1.1-1 3.6-1 6-1-11.6-1 2.4-1-.7-1-2.1-1-.5-1 5.6-1-2.1-1-6.8-1 9.2-1-7.7-1 12.6-1-8.8-1 6.7-1-4.6-1 1.4-1-2.4z" fill="#aaa" stroke="none"/>
<path d="M304.1 1635.9l1-.1 1 .2 1-1.5 1-2.7 1-1 1-1.8 1-.3 1 .1 1 .3 1 1.6 1 1.5 1 1.1 1 1.7 1 .2 1-1.9 1-1.6 1 1.3 1-.2 1-1 1 0 1-.5 1-1.2 1 .6 1-.9 1 .6 1 1.2 1 .6 1-.3 1 2.2 1 1.5 1 .3 1 1.7 1 .6 1 0 1 .6 1 1.5 1 .4 1 2.4 1-2.8 1 1.3 1-1.1 1-.2 1-.8 1-.2 1-1.5 1 .4 1-.4 1-1.8 1 .6 1-.1 1-.5 1-4.4 1-4.8 1-6.4 1-7.1 1-6.5 1-20.3 1-22.1 1-22.4 1-21.7 1-5.6 1-7 1-6.1 1-6.5 1 .5 1 4 1 2.5 1 2.2 1 4.2 1 1 1 .6 1 .4 1 1.9 1 2.6 1-1.1 1-4.8 1-6.3 1-5.7 1-5.9 1-6 1-4.2 1-3.7 1 2.2 1 2.9 1 2.9 1 2.4 1 2.1 1-2.1 1-5.8 1-6 1-6.4 1-5.9 1 .8 1 5 1 6 1 4.6 1 6.3 1 5.3 1 4.6 1 5.5 1 4.1 1 4.8 1 1.7 1 .1 1 .6 1 .3 1-1.1 1 .2 1-.8 1-2.8 1-2 1-2.4 1-3.1 1-1.8 1-2.1 1 1.1 1 2.1 1 4.5 1 3.9 1 3.1 1 3.7 1 4.6 1-.8 1-7.2 1-8.1 1-6.8 1-7.9 1 .1 1 6.6 1 6.4 1 6.5 1 5.1 1-4.3 1-3.9 1-4.2 1-4 1-.2 1 8.7 1 9.6 1 8.7 1 10.3 1 2.3 1 1.8 1 1.3 1-.1 1 .3 1 5.2 1 9.7 1 8.8 1 10.2 1 10.6 1 9.9 1 5.4 1 6 1 5.4 1 4.1 1 4.8 1 3.3 1 2.2 1 1.8 1 1.3 1 2.3 1 3.5 1-2.4 1-3.2 1-3.1 1-2.3 1-2 1-2.5 1 1.8 1 .7 1 .7 1 2.1 1-.3 1 .8 1 2.7 1-1.4 1-2.4 1-2.5 1-1.6 1-2 1-1.4 1-.4 1-.9 1-2 1-.8 1-.8 1-2.8 1-.7 1-1.9 1 0 1-1.7 1 .3 1 1.8 1 1.9 1 1.3 1 1.6 1 1.6 1 .5 1 .3 1-1.3 1-.6 1 .8 1-.5 1-1.3 1 .1" fill="none" stroke="#4472d6" stroke-width="5.8" stroke-linejoin="round" stroke-linecap="round"/>
<line x1="117.5" y1="1366.5" x2="117.5" y2="1668.5" stroke-width="3.7" stroke-dasharray="9.3 10.2" stroke-dashoffset="4.7"/>
<line x1="346.5" y1="1366.5" x2="346.5" y2="1668.5" stroke-width="3.7" stroke-dasharray="9.3 10.2" stroke-dashoffset="4.7"/>
<path d="M458.5 1366.5V1404.6H509.5" fill="none" stroke-width="3.5"/>
<line x1="483" y1="1534.5" x2="483" y2="1588.5" stroke-width="3.5"/>
<text x="632" y="1270" font-size="39.3">Locomotion</text>
<text x="632" y="1420" font-size="39.3">Escape</text>
<path d="M600 1279.5H613.2V1372.5H600" fill="none" stroke-width="3.5"/>
<line x1="600" y1="1326" x2="930.8" y2="1326" stroke-width="3.5"/>
<line x1="803.1" y1="1326" x2="803.1" y2="1338" stroke-width="3.5"/>
<line x1="866.4000000000001" y1="1326" x2="866.4000000000001" y2="1338" stroke-width="3.5"/>
<line x1="929.7" y1="1326" x2="929.7" y2="1338" stroke-width="3.5"/>
<text x="593" y="1289.5" font-size="39.3" text-anchor="end">1</text>
<text x="593" y="1339" font-size="39.3" text-anchor="end">0</text>
<text x="593" y="1381.5" font-size="39.3" text-anchor="end">-1</text>
<text x="550.5" y="1327.8" font-size="39.3" text-anchor="middle" transform="rotate(-90 550.5 1327.8)">ΔF/F</text>
<line x1="648" y1="1327" x2="748" y2="1327" stroke-width="3.5" stroke="#f00"/>
<circle cx="648.2" cy="1327.7" r="7.2" stroke="none"/>
<circle cx="650.7" cy="1328.7" r="7.2" stroke="none"/>
<circle cx="652.7" cy="1328.6" r="7.2" stroke="none"/>
<circle cx="653.4" cy="1326.3" r="7.2" stroke="none"/>
<circle cx="657.3" cy="1327.2" r="7.2" stroke="none"/>
<circle cx="659.3" cy="1324.6" r="7.2" stroke="none"/>
<circle cx="660.5" cy="1325.2" r="7.2" stroke="none"/>
<circle cx="662.8" cy="1326.9" r="7.2" stroke="none"/>
<circle cx="663.8" cy="1325.1" r="7.2" stroke="none"/>
<circle cx="666.5" cy="1328.6" r="7.2" stroke="none"/>
<circle cx="669.5" cy="1324.8" r="7.2" stroke="none"/>
<circle cx="671.7" cy="1324.7" r="7.2" stroke="none"/>
<circle cx="673.4" cy="1324.6" r="7.2" stroke="none"/>
<circle cx="674.3" cy="1330.4" r="7.2" stroke="none"/>
<circle cx="676.8" cy="1327.1" r="7.2" stroke="none"/>
<circle cx="680.5" cy="1330.4" r="7.2" stroke="none"/>
<circle cx="701.6" cy="1324.8" r="7.2" stroke="none"/>
<circle cx="705.1" cy="1328.1" r="7.2" stroke="none"/>
<circle cx="707.4" cy="1329.6" r="7.2" stroke="none"/>
<circle cx="711.4" cy="1332.8" r="7.2" stroke="none"/>
<circle cx="714.8" cy="1328.8" r="7.2" stroke="none"/>
<circle cx="716.7" cy="1328.0" r="7.2" stroke="none"/>
<circle cx="719.3" cy="1324.4" r="7.2" stroke="none"/>
<circle cx="722.6" cy="1327.6" r="7.2" stroke="none"/>
<circle cx="725.0" cy="1328.1" r="7.2" stroke="none"/>
<circle cx="728.7" cy="1325.9" r="7.2" stroke="none"/>
<circle cx="732.6" cy="1326.9" r="7.2" stroke="none"/>
<circle cx="734.6" cy="1326.9" r="7.2" stroke="none"/>
<circle cx="738.4" cy="1324.3" r="7.2" stroke="none"/>
<circle cx="742.0" cy="1324.1" r="7.2" stroke="none"/>
<circle cx="744.5" cy="1323.1" r="7.2" stroke="none"/>
<circle cx="746.0" cy="1322.7" r="7.2" stroke="none"/>
<path d="M600 1409.0H613.2V1686.2H600" fill="none" stroke-width="3.5"/>
<line x1="600" y1="1640" x2="930.8" y2="1640" stroke-width="3.5"/>
<line x1="676.5" y1="1640" x2="676.5" y2="1652" stroke-width="3.5"/>
<text x="676.5" y="1684.5" font-size="39.3" text-anchor="middle">5</text>
<line x1="739.8000000000001" y1="1640" x2="739.8000000000001" y2="1652" stroke-width="3.5"/>
<text x="740.8000000000001" y="1684.5" font-size="39.3" text-anchor="middle">10</text>
<line x1="803.1" y1="1640" x2="803.1" y2="1652" stroke-width="3.5"/>
<text x="804.1" y="1684.5" font-size="39.3" text-anchor="middle">15</text>
<line x1="866.4000000000001" y1="1640" x2="866.4000000000001" y2="1652" stroke-width="3.5"/>
<text x="867.4000000000001" y="1684.5" font-size="39.3" text-anchor="middle">20</text>
<line x1="929.7" y1="1640" x2="929.7" y2="1652" stroke-width="3.5"/>
<text x="930.7" y="1684.5" font-size="39.3" text-anchor="middle">25</text>
<text x="592" y="1700.2" font-size="39.3" text-anchor="end">-1</text>
<line x1="600" y1="1640.0" x2="613.2" y2="1640.0" stroke-width="3.5"/>
<text x="592" y="1654.0" font-size="39.3" text-anchor="end">0</text>
<line x1="600" y1="1593.8" x2="613.2" y2="1593.8" stroke-width="3.5"/>
<text x="592" y="1607.8" font-size="39.3" text-anchor="end">1</text>
<line x1="600" y1="1547.6" x2="613.2" y2="1547.6" stroke-width="3.5"/>
<text x="592" y="1561.6" font-size="39.3" text-anchor="end">2</text>
<line x1="600" y1="1501.4" x2="613.2" y2="1501.4" stroke-width="3.5"/>
<text x="592" y="1515.4" font-size="39.3" text-anchor="end">3</text>
<line x1="600" y1="1455.2" x2="613.2" y2="1455.2" stroke-width="3.5"/>
<text x="592" y="1469.2" font-size="39.3" text-anchor="end">4</text>
<text x="592" y="1423.0" font-size="39.3" text-anchor="end">5</text>
<text x="550.5" y="1527.5" font-size="39.3" text-anchor="middle" transform="rotate(-90 550.5 1527.5)">ΔF/F</text>
<text x="777.5" y="1723" font-size="39.3" text-anchor="middle">Speed (cm/s)</text>
<line x1="637" y1="1647.4" x2="857" y2="1564.2" stroke-width="3.5" stroke="#f00"/>
<circle cx="637.0" cy="1640.0" r="6.5" stroke="none"/>
<circle cx="644.4" cy="1633.7" r="6.5" stroke="none"/>
<circle cx="642.6" cy="1641.8" r="6.5" stroke="none"/>
<circle cx="650.0" cy="1646.3" r="6.5" stroke="none"/>
<circle cx="650.0" cy="1655.9" r="6.5" stroke="none"/>
<circle cx="659.2" cy="1646.3" r="6.5" stroke="none"/>
<circle cx="662.9" cy="1630.7" r="6.5" stroke="none"/>
<circle cx="676.6" cy="1627.8" r="6.5" stroke="none"/>
<circle cx="696.1" cy="1624.1" r="6.5" stroke="none"/>
<circle cx="736.0" cy="1620.4" r="6.5" stroke="none"/>
<circle cx="784.1" cy="1617.8" r="6.5" stroke="none"/>
<circle cx="783.0" cy="1591.9" r="6.5" stroke="none"/>
<circle cx="790.3" cy="1588.3" r="6.5" stroke="none"/>
<circle cx="789.6" cy="1597.5" r="6.5" stroke="none"/>
<circle cx="792.2" cy="1546.5" r="6.5" stroke="none"/>
<circle cx="797.7" cy="1604.9" r="6.5" stroke="none"/>
<circle cx="799.6" cy="1613.0" r="6.5" stroke="none"/>
<circle cx="805.9" cy="1605.6" r="6.5" stroke="none"/>
<circle cx="809.9" cy="1585.3" r="6.5" stroke="none"/>
<circle cx="814.4" cy="1573.5" r="6.5" stroke="none"/>
<circle cx="816.9" cy="1608.6" r="6.5" stroke="none"/>
<circle cx="813.3" cy="1548.3" r="6.5" stroke="none"/>
<circle cx="824.3" cy="1547.6" r="6.5" stroke="none"/>
<circle cx="821.7" cy="1579.0" r="6.5" stroke="none"/>
<circle cx="825.4" cy="1585.3" r="6.5" stroke="none"/>
<circle cx="829.1" cy="1567.2" r="6.5" stroke="none"/>
<circle cx="836.5" cy="1582.0" r="6.5" stroke="none"/>
<circle cx="840.2" cy="1555.0" r="6.5" stroke="none"/>
<circle cx="843.9" cy="1561.3" r="6.5" stroke="none"/>
<circle cx="856.8" cy="1560.5" r="6.5" stroke="none"/>
</g>
<g id="panel_g">
<text x="968" y="1249" font-size="75" font-weight="bold">g</text>
<line x1="1138" y1="1246.4802955665025" x2="1138" y2="1724.8497536945813" stroke-width="3.7" stroke="#1a1a1a"/>
<line x1="1124.5" y1="1249.2" x2="1138" y2="1249.2" stroke-width="3.7" stroke="#1a1a1a"/>
<text x="1123" y="1263.2" font-size="39.3" text-anchor="end">1500</text>
<line x1="1124.5" y1="1367.65" x2="1138" y2="1367.65" stroke-width="3.7" stroke="#1a1a1a"/>
<text x="1123" y="1381.65" font-size="39.3" text-anchor="end">1000</text>
<line x1="1124.5" y1="1486.1000000000001" x2="1138" y2="1486.1000000000001" stroke-width="3.7" stroke="#1a1a1a"/>
<text x="1123" y="1500.1000000000001" font-size="39.3" text-anchor="end">500</text>
<line x1="1124.5" y1="1604.5500000000002" x2="1138" y2="1604.5500000000002" stroke-width="3.7" stroke="#1a1a1a"/>
<text x="1123" y="1618.5500000000002" font-size="39.3" text-anchor="end">0</text>
<line x1="1124.5" y1="1723.0" x2="1138" y2="1723.0" stroke-width="3.7" stroke="#1a1a1a"/>
<text x="1123" y="1737.0" font-size="39.3" text-anchor="end">-500</text>
<text x="1017.8" y="1486.5" font-size="39.3" text-anchor="middle" transform="rotate(-90 1017.8 1486.5)">AUC</text>
<line x1="1124.5" y1="1604.6" x2="1612.5" y2="1604.6" stroke-width="3.7" stroke="#1a1a1a"/>
<rect x="1177.4" y="1604.6" width="68.0" height="8.9" fill="#d0d0d0" stroke="#1a1a1a" stroke-width="3.7"/>
<line x1="1211.4285714285716" y1="1613.497536945813" x2="1211.4285714285716" y2="1620.8866995073893" stroke-width="3.7" stroke="#1a1a1a"/>
<line x1="1197.4285714285716" y1="1620.8866995073893" x2="1225.4285714285716" y2="1620.8866995073893" stroke-width="3.7" stroke="#1a1a1a"/>
<rect x="1287.3" y="1547.0" width="66.5" height="57.6" fill="#ff8c00" stroke="#1a1a1a" stroke-width="3.7"/>
<line x1="1320.295566502463" y1="1546.9950738916257" x2="1320.295566502463" y2="1532.7093596059112" stroke-width="3.7" stroke="#1a1a1a"/>
<line x1="1304.295566502463" y1="1532.7093596059112" x2="1336.295566502463" y2="1532.7093596059112" stroke-width="3.7" stroke="#1a1a1a"/>
<rect x="1395.7" y="1604.6" width="69.0" height="4.0" fill="#fff" stroke="#1a1a1a" stroke-width="3.7"/>
<line x1="1430.1477832512317" y1="1608.5714285714287" x2="1430.1477832512317" y2="1615.960591133005" stroke-width="3.7" stroke="#1a1a1a"/>
<line x1="1414.1477832512317" y1="1615.960591133005" x2="1446.1477832512317" y2="1615.960591133005" stroke-width="3.7" stroke="#1a1a1a"/>
<rect x="1506.5" y="1474.6" width="66.5" height="130.0" fill="#f00" stroke="#1a1a1a" stroke-width="3.7"/>
<line x1="1539.5073891625616" y1="1474.5812807881773" x2="1539.5073891625616" y2="1450.9359605911332" stroke-width="3.7" stroke="#1a1a1a"/>
<line x1="1523.5073891625616" y1="1450.9359605911332" x2="1555.5073891625616" y2="1450.9359605911332" stroke-width="3.7" stroke="#1a1a1a"/>
<polyline points="1210.9,1598.7 1320.3,1501.2 1429.2,1625.8 1539.5,1373.6" fill="none" stroke="#1a1a1a" stroke-width="3.7"/>
<polyline points="1210.9,1604.6 1320.3,1526.3 1429.2,1620.9 1539.5,1467.2" fill="none" stroke="#1a1a1a" stroke-width="3.7"/>
<polyline points="1210.9,1611.0 1320.3,1547.0 1429.2,1614.5 1539.5,1490.3" fill="none" stroke="#1a1a1a" stroke-width="3.7"/>
<polyline points="1210.9,1618.4 1320.3,1556.8 1429.2,1609.6 1539.5,1503.6" fill="none" stroke="#1a1a1a" stroke-width="3.7"/>
<polyline points="1210.9,1625.8 1320.3,1556.8 1429.2,1604.6 1539.5,1523.3" fill="none" stroke="#1a1a1a" stroke-width="3.7"/>
<polyline points="1210.9,1632.2 1320.3,1579.0 1429.2,1598.7 1539.5,1468.2" fill="none" stroke="#1a1a1a" stroke-width="3.7"/>
<circle cx="1210.9" cy="1598.7" r="10" stroke="none"/>
<circle cx="1210.9" cy="1604.6" r="10" stroke="none"/>
<circle cx="1210.9" cy="1611.0" r="10" stroke="none"/>
<circle cx="1210.9" cy="1618.4" r="10" stroke="none"/>
<circle cx="1210.9" cy="1625.8" r="10" stroke="none"/>
<circle cx="1210.9" cy="1632.2" r="10" stroke="none"/>
<circle cx="1320.3" cy="1501.2" r="10" stroke="none"/>
<circle cx="1320.3" cy="1526.3" r="10" stroke="none"/>
<circle cx="1320.3" cy="1547.0" r="10" stroke="none"/>
<circle cx="1320.3" cy="1556.8" r="10" stroke="none"/>
<circle cx="1320.3" cy="1556.8" r="10" stroke="none"/>
<circle cx="1320.3" cy="1579.0" r="10" stroke="none"/>
<circle cx="1429.2" cy="1598.7" r="10" stroke="none"/>
<circle cx="1429.2" cy="1604.6" r="10" stroke="none"/>
<circle cx="1429.2" cy="1609.6" r="10" stroke="none"/>
<circle cx="1429.2" cy="1614.5" r="10" stroke="none"/>
<circle cx="1429.2" cy="1620.9" r="10" stroke="none"/>
<circle cx="1429.2" cy="1625.8" r="10" stroke="none"/>
<circle cx="1539.5" cy="1373.6" r="10" stroke="none"/>
<circle cx="1539.5" cy="1467.2" r="10" stroke="none"/>
<circle cx="1539.5" cy="1490.3" r="10" stroke="none"/>
<circle cx="1539.5" cy="1503.6" r="10" stroke="none"/>
<circle cx="1539.5" cy="1523.3" r="10" stroke="none"/>
<circle cx="1539.5" cy="1468.2" r="10" stroke="none"/>
<line x1="1224.729064039409" y1="1234.1871921182267" x2="1539.5073891625616" y2="1234.1871921182267" stroke-width="3.5" stroke="#1a1a1a"/>
<text x="1363.7" y="1232.6" font-size="34" text-anchor="middle">*</text>
<line x1="1320.295566502463" y1="1291.3300492610838" x2="1541.9704433497536" y2="1291.3300492610838" stroke-width="3.5" stroke="#1a1a1a"/>
<text x="1422.6" y="1287.5" font-size="34" text-anchor="middle">*</text>
<line x1="1219.8029556650247" y1="1343.5467980295566" x2="1310.4433497536947" y2="1343.5467980295566" stroke-width="3.5" stroke="#1a1a1a"/>
<text x="1265.6" y="1336.7" font-size="34" text-anchor="middle">*</text>
<line x1="1448.8669950738918" y1="1340.0985221674878" x2="1539.5073891625616" y2="1340.0985221674878" stroke-width="3.5" stroke="#1a1a1a"/>
<text x="1497.4" y="1334" font-size="34" text-anchor="middle" letter-spacing="2">**</text>
<line x1="1312.4137931034484" y1="1457.8325123152708" x2="1403.0541871921182" y2="1457.8325123152708" stroke-width="3.5" stroke="#1a1a1a"/>
<text x="1360.4" y="1451.4" font-size="34" text-anchor="middle" letter-spacing="2">**</text>
<text x="1149.5" y="1681.5" font-size="39.3">Locomotion</text>
<text x="1149.5" y="1728.5" font-size="39.3">Escape</text>
<rect x="1371.5" y="1662.8" width="40.4" height="19.7" fill="#d0d0d0" stroke="#000" stroke-width="2.6"/>
<text x="1425" y="1685.5" font-size="39.3">Pre-SNI</text>
<rect x="1589.3" y="1662.8" width="40.4" height="19.7" fill="#fff" stroke="#000" stroke-width="2.6"/>
<text x="1641" y="1685.5" font-size="39.3">SNI</text>
<rect x="1371.5" y="1709.6" width="40.4" height="19.7" fill="#ff8c00" stroke="#000" stroke-width="2.6"/>
<text x="1425" y="1732" font-size="39.3">Pre-SNI</text>
<rect x="1589.3" y="1709.6" width="40.4" height="19.7" fill="#e81e25" stroke="#000" stroke-width="2.6"/>
<text x="1641" y="1732" font-size="39.3">SNI</text>
</g>
<g id="panel_h">
<text x="5" y="1832.5" font-size="75" font-weight="bold">h</text>
<text x="59" y="1838" font-size="39.3">Evoked</text>
<text x="59" y="2073.5" font-size="39.3">Spontaneous</text>
<path d="M65.7 2013.5H374.8" fill="none" stroke="#ededed" stroke-width="1"/><path d="M65.7 1964V2013.5M374.8 2013.5V1909" fill="none" stroke="#f7f7f7" stroke-width="1"/>
<path d="M120.7 1953.5l1-14.3 1-13 1-14.5 1-8.7 1-10.3 1-6.3 1-9.9 1-4.8 1-9.3 1 2.5 1 .9 1-3.6 1-3.4 1-2.7 1 2.9 1-3.7 1 2.7 1-.5 1-1.4 1 .2 1 .1 1 .8 1 1.1 1-2.2 1 1.9 1-.3 1-1.1 1 0 1 4.3 1-2.4 1-1.2 1-.1 1-.8 1-3.3 1 1.2 1 1 1-1.4 1-.2 1 1.8 1-2.1 1-.8 1 .9 1 1.2 1-2.1 1 2.1 1 4.1 1 1.8 1-1.8 1 .9 1 2.7 1 1.7 1 .5 1 2.5 1-.2 1 1.7 1 3.3 1-1 1-.4 1 1.6 1-.3 1-1.9 1-2.1 1 1.4 1-1 1 4.2 1-2.1 1 3.2 1 5.5 1-3.1 1 2.2 1 .7 1-2.3 1 1.2 1 2.7 1 1.4 1 .7 1 1.4 1 2.8 1-2.9 1 2.6 1 6.2 1 2.1 1-2.4 1-.6 1 1.2 1 1.2 1 1.7 1-.4 1-7.2 1 5.9 1-1 1 1.7 1-3.2 1 2 1-2.3 1 2.9 1-.4 1-1.8 1 3.5 1 1.8 1-2.1 1 .7 1 2 1 1.2 1 .3 1-1.6 1-1.1 1-.1 1 3.7 1-4 1 2.6 1 1.2 1 .8 1-1.8 1 1.3 1-.3 1-1.7 1 4 1-2.9 1 .4 1-2.1 1-1.9 1 2.3 1-1.4 1-.8 1 1 1-4.2 1-2.4 1-1.5 1-2.7 1-2.4 1 3.3 1-2.5 1 2.5 1 4 1-.6 1 3.9 1-2.5 1 .6 1-3.2 1-2.9 1 1.1 1-1.7 1-.4 1-2 1-1.6 1-5.3 1 2.2 1-2 1 1.7 1 .7 1 1.8 1 3.6 1-1.6 1 1.5 1 .5 1 1 1 1.6 1 1.2 1-.6 1 .9 1 .2 1 .9 1 4.1 1-.4 1 1.6 1-.4 1 .3 1-2 1 1.8 1 1.9 1 .3 1 .6 1-10.1 1 10.1 1-2 1 3.9 1-1.5 1 .7 1-2.1 1-2.6 1 .3 1-1.4 1 1.7 1 .6 1-4.3 1-1.7 1-.9 1-5.4 1 .5 1-1.8 1-2.5 1 1.4 1 1.5 1-5.7 1 3.4 1 1 1 3.4 1 .1 1 2.3 1 1.2 1 0 1-.2 1 3.9 1 .3 1 .9 1 2.4 1-2.6 1 3.5 1 1.1 1 0 1-1.1 1 3.8 1-2.9 1-.6 1 2 1-.3 1-5.1 1-.3 1 4.5 1-1.4 1 2.4 1-.7 1 2 1 1.4 1 .9 1-2.7 1-2.7 1 3.7 1 .4 1-1.1 1-3.2 1 4.5 1-.5 1-1.4 1-.9 1 .5 1 .7 1-2.4 1-2.8 1 .3 1 2.8 1-4.8 1 1.3 1 1.9 1 1.4 1 .8 1 1.4 1 .4 1-1.7 1-2 1 4.2 1-3.3 1-7.1 0 32.8-1 1.1-1 2.2-1-1.2-1 6.8-1-9.4-1 2.1-1-.4-1-4.3-1 3.3-1-2.2-1-.2-1 3.8-1-1.5-1-1.3-1 .8-1 1.3-1 .8-1 .1-1 0-1 .2-1 2.6-1-.1-1 .8-1-3-1 1.1-1-1.8-1 .7-1 3-1 .8-1-2.1-1-2.4-1 2.7-1-3-1 1.1-1-1.6-1 1-1-1-1 2.5-1-3.1-1 2.5-1 .3-1 3.4-1-4.2-1 .9-1 2.4-1-6-1 3.3-1-5.3-1-1.7-1 .1-1-1.3-1-1.8-1 1.8-1-3.5-1 1.4-1-.8-1-2.8-1-1.3-1-2.7-1 2.8-1 6.7-1-5.7-1 2.3-1 1-1 3.1-1 2-1 0-1 3.2-1 .9-1 1-1 .5-1-2-1 .7-1 3.3-1 .5-1 .9-1 .5-1 1.7-1-4.8-1-.6-1 2.2-1-.9-1-4-1 .9-1 1.7-1-.4-1 6.6-1-10.1-1 2.1-1-3.1-1-.8-1-2.2-1-1.8-1 .4-1-.3-1-3.2-1 1-1-.1-1 1.2-1-4.4-1 3-1-2.4-1 .4-1 2.2-1-6.7-1 1.2-1 1-1 0-1 1.5-1 2.5-1-1.4-1 4.7-1-2.2-1 3.2-1-1-1 2-1 4.2-1-2.3-1-4.2-1-.7-1-.2-1-1.8-1 .3-1 3.1-1-1.4-1 2.5-1-.6-1 2.6-1 .9-1-1.3-1 3.4-1 .2-1 .6-1-1.3-1 6.5-1-.9-1 1.8-1-5-1-.6-1-1.5-1 .2-1-.6-1 1.4-1 .7-1-1.6-1-1.5-1 4.2-1-2.8-1-1.5-1 1.9-1-1.1-1 0-1-.6-1-1.4-1-1.6-1-1.5-1 4-1-4.7-1-1.2-1 .5-1-.4-1 .7-1 .7-1 3.4-1 2.6-1-6.6-1 3.3-1 3.3-1-4.5-1-.5-1-2.3-1-1-1 3.1-1-4.6-1 .1-1-5-1 2.5-1-2.1-1-1.6-1-2.7-1-1.3-1-2.1-1 5.5-1-5.4-1 4-1-3.6-1 5.5-1-7.1-1 0-1-.3-1-2.2-1-2.2-1-.3-1 .7-1 .8-1-2.1-1 .8-1 5.7-1-7.1-1 .5-1 .8-1-2.6-1-2.9-1-1.2-1 1.3-1-5-1 3.3-1-.1-1-7.4-1 .2-1-.9-1-1.7-1 2.6-1-1-1 1.4-1 3-1-1.1-1 .8-1-1-1-.4-1 4.9-1-2.2-1 4.5-1-5.1-1 .9-1 6.9-1-8.9-1 1.8-1-1-1-3.2-1 2.5-1-1.1-1 .7-1 .9-1-1.8-1 1.6-1-3.2-1 3.7-1-2.8-1 2-1 2.2-1-.7-1 .9-1 .4-1 2.5-1 3-1 5.4-1 8.3-1 6.1-1 3.9-1 10.4-1 7.3-1 12.4-1 11z" fill="#aaa" stroke="none"/>
<path d="M65.7 1963.9l.5 1.7 .5-2.5 .5-2.1 .5-1.3 .5-.5 .5 2.9 .5-4.1 .5 1.7 .5-1.7 .5 1.8 .5-.1 .5 .7 .5 5 .5-2.1 .5-.4 .5-2 .5 3.6 .5-2.2 .5-.2 .5-1 .5 2.9 .5-.7 .5 1.7 .5-1.1 .5-.7 .5-2 .5 5.4 .5-.6 .5 1.8 .5-3.4 .5 1 .5 3 .5-3.9 .5 3.2 .5-1.9 .5 .4 .5-4.3 .5 5.8 .5-.1 .5-4 .5 4.9 .5-5 .5 3.9 .5 6.6 .5-3.1 .5-3.2 .5 3.9 .5-.3 .5-8.2 .5 7.7 .5-1.1 .5 4 .5-2.6 .5-3.1 .5 1.6 .5 5.2 .5-3.9 .5 4.8 .5-2.5 .5-3.1 .5 2.6 .5-2.8 .5 1.2 .5-1.1 .5-2.4 .5 3.1 .5-2.6 .5 .4 .5 .8 .5-.8 .5 1.6 .5-.9 .5-1.4 .5 6.3 .5-3.4 .5-1.6 .5-3.6 .5 5.8 .5-1.4 .5 .6 .5-1.9 .5 1.7 .5-2.7 .5 2.3 .5 4.6 .5 1.3 .5-5 .5-3 .5 3.9 .5 .9 .5-4 .5 .3 .5 7 .5-5.3 .5-.5 .5 3.6 .5-3.6 .5 .8 .5 1.6 .5 3.9 .5-.8 .5-2.7 .5 2.4 .5-8 .5-1.1 .5 4.4 .5-3 .5-3.8 .5-2.9 .5-7.8 .5-.6 .5-11.7 .5-2.9 .5-8.4 .5-6.5 .5-7.9 .5-2.9 .5-2.5 .5-5 .5-4.7 .5-3.7 .5-4.5 .5 2.5 .5-6.9 .5-3.6 .5-.1 .5-5.3 .5-.8 .5 .8 .5-2 .5-3.6 .5 4.9 .5-2.1 .5-1.8 .5-1.6 .5 2.6 .5-2.5 .5 2.9 .5-6.4 .5-.4 .5 3 .5 .5 .5-1.4 .5 2.2 .5-1.8 .5 3.5 .5-3.6 .5 1.1 .5 .7 .5-3.5 .5 4.7 .5-4.6 .5 4.1 .5-3.7 .5-2.6 .5 5.1 .5-4 .5 6.5 .5-7.8 .5 1.1 .5 5.5 .5-.6 .5-3 .5 4.7 .5 1 .5-5 .5 2.6 .5 .7 .5 1.4 .5-2.3 .5 1.7 .5-4.3 .5 1.8 .5-3.3 .5 2.8 .5 1 .5-4.5 .5 3.4 .5-4.7 .5-3.5 .5 4.3 .5 1.5 .5 2.2 .5-.9 .5-3.8 .5 .9 .5 2.8 .5-.9 .5-3.5 .5-1.3 .5 3.7 .5-2.2 .5 .8 .5-2.4 .5 .1 .5 1.2 .5-.3 .5 4.9 .5-.5 .5-.8 .5-6.9 .5 7 .5 5.1 .5-1.3 .5 2.9 .5-6.5 .5 2.1 .5 4.2 .5-2.1 .5 9.7 .5-5.1 .5 2.1 .5 3.5 .5-5.2 .5 4.1 .5-2 .5 5.6 .5-5.5 .5 .2 .5 2.1 .5-1 .5 2.9 .5-3.4 .5 1 .5 0 .5 .1 .5-.9 .5 .5 .5 8.7 .5-7.5 .5-1.5 .5-1.9 .5 1.5 .5 4.1 .5-1.3 .5 3.2 .5-5.6 .5 1.6 .5 2.4 .5 1.6 .5-3.1 .5 4.5 .5-2.3 .5 1.2 .5-.8 .5 4.6 .5 2.1 .5-5.3 .5-3 .5 .5 .5 4.5 .5 .6 .5-.8 .5 1.3 .5-1.8 .5 3.3 .5 .4 .5-2.5 .5 1.8 .5 3 .5 1.6 .5-2.2 .5 3.2 .5-1.5 .5-2.1 .5 2.1 .5 1.5 .5-3.6 .5 6.5 .5 .5 .5 3 .5-.1 .5-3.3 .5 3.1 .5 4.5 .5-2.7 .5 .1 .5-.3 .5 2.9 .5-3.1 .5 .2 .5-.5 .5-.5 .5-3.1 .5 .4 .5 5.3 .5 1.2 .5-3.9 .5 .8 .5 .7 .5-1.6 .5 1.9 .5 .1 .5-2.6 .5-2.1 .5 4.7 .5-3.5 .5 2.9 .5-2.4 .5 3.3 .5 1.8 .5-6 .5 3.7 .5 0 .5-1.2 .5-1.2 .5 2.1 .5-3.9 .5 8.4 .5-1.3 .5-.1 .5 2.4 .5-3.2 .5 1.8 .5 .6 .5-4.3 .5 1.4 .5-.2 .5 1.3 .5 1.3 .5 3.3 .5-4.9 .5 1.7 .5-.4 .5 3.1 .5-2.6 .5 2.4 .5-.5 .5-2.8 .5 5.1 .5-1.4 .5 .2 .5-4 .5 2.1 .5-.8 .5 2.4 .5-2.4 .5 3.5 .5-4 .5 4.2 .5 0 .5-2.5 .5 3 .5 2.2 .5-1.4 .5 .8 .5-2.5 .5-2 .5 2.2 .5-3.7 .5 .4 .5-.1 .5 1.2 .5 2.5 .5-.8 .5-2.3 .5-.5 .5 .6 .5-2.5 .5 .1 .5 1.6 .5 2.2 .5-3.7 .5-2.4 .5 1.9 .5-4.6 .5 4.8 .5-3.9 .5-2.6 .5 .1 .5-.7 .5 .6 .5-4.8 .5 2.5 .5 4.1 .5-4.1 .5-1.3 .5 7.1 .5 .7 .5 2.1 .5-.5 .5-1.8 .5 .1 .5-2.2 .5 1.1 .5-2.2 .5 .8 .5-1.7 .5 1.1 .5 .1 .5-1.1 .5 1.7 .5-3.5 .5 .3 .5-.2 .5-2.5 .5 3.3 .5-4 .5 1 .5-3 .5 2.9 .5 1.1 .5-3.8 .5-2.6 .5-.8 .5 4.4 .5 1.1 .5-.6 .5-1.4 .5-2.7 .5 7.7 .5-3.2 .5 3.1 .5-1.3 .5-2 .5 1.4 .5-.6 .5-3.4 .5-1.8 .5 6.7 .5-.8 .5-1.2 .5 5.6 .5-8.1 .5 4.8 .5-.8 .5-.6 .5 3 .5-1.2 .5 4.9 .5-1.9 .5 .1 .5 1.3 .5-1.1 .5 3.5 .5 1.1 .5-2 .5-.6 .5 2.2 .5-.3 .5 5.1 .5-3.8 .5 1.8 .5-3.5 .5 .6 .5-.6 .5-.3 .5 4.1 .5-2.2 .5-1.6 .5 3 .5 .1 .5-1.6 .5-1 .5 4.8 .5 0 .5 2.3 .5-4.3 .5 1.4 .5-3.3 .5 4.7 .5 2.1 .5-6 .5 6.1 .5-2 .5-.9 .5 .3 .5-.8 .5-1.8 .5 3.3 .5-2.6 .5-4.7 .5 5 .5-.6 .5-2.8 .5 .4 .5 .2 .5 1.6 .5-2.1 .5 1 .5 .5 .5-3.5 .5 0 .5-2.9 .5 2.3 .5-1.3 .5-1.1 .5-3.2 .5-1.1 .5 3.4 .5-1.5 .5-2.7 .5 1.3 .5-.6 .5 1.8 .5-2.9 .5-.3 .5-4.1 .5-.6 .5 1.6 .5-1.6 .5 5.2 .5-1.4 .5-.2 .5-.1 .5 4.8 .5-5.2 .5 2.9 .5 2 .5-.9 .5-4.1 .5 6.4 .5-.2 .5-.4 .5-.7 .5 2.3 .5-2 .5 4.6 .5-1 .5-1.8 .5 .6 .5 1.1 .5 3.6 .5 1.3 .5-1.5 .5 .5 .5-1.6 .5 4.6 .5 2.5 .5-5.9 .5 3.3 .5-.1 .5-2.5 .5 1.6 .5 3.4 .5 2.5 .5-3.2 .5 .8 .5 .4 .5-5.2 .5 1.3 .5-1.5 .5-1.1 .5 5.1 .5-3.1 .5 2.1 .5-1.2 .5 1.2 .5 1.2 .5-2.2 .5-.6 .5 .7 .5-.7 .5-.6 .5 2.2 .5 2.9 .5-5.3 .5 3.4 .5 1 .5 1.3 .5-1.8 .5 2.2 .5 .7 .5-5.1 .5-.1 .5 2 .5-1.2 .5-2.7 .5 4 .5-2.4 .5 1.6 .5 2 .5-2.8 .5 5.2 .5-3.2 .5 .4 .5-1.2 .5-1.7 .5 1.3 .5-4.5 .5 7.4 .5-4.6 .5 5.3 .5-4.2 .5 1.3 .5-1.6 .5-.8 .5-.7 .5 1.1 .5-4.8 .5 1.6 .5 .5 .5 1.5 .5 .7 .5-2.1 .5-2.2 .5-2.4 .5 2.4 .5 4.5 .5-1.1 .5-1.5 .5 2.7 .5-4.1 .5 8.2 .5-5.9 .5 5.6 .5-5.4 .5 3.2 .5-.7 .5-3.2 .5 2.9 .5 .3 .5-.2 .5 .6 .5 .3 .5 1.5 .5 0 .5-5.4" fill="none" stroke="#f00" stroke-width="4.4" stroke-linejoin="round" stroke-linecap="round"/>
<path d="M66.5 2263H375.5" fill="none" stroke="#ededed" stroke-width="1"/><path d="M66.5 2216V2263M375.5 2263V2199" fill="none" stroke="#f7f7f7" stroke-width="1"/>
<path d="M120.7 2202.2l1-6.1 1-9.1 1-10.8 1-5 1-9.6 1-6.7 1-14.3 1-10.3 1-4.4 1-3 1-2.4 1-3.6 1-3.1 1-3.1 1-2.6 1-6.2 1-.7 1-4.3 1 1.2 1-2 1-6.7 1 2.6 1 3.7 1-1 1-1.3 1-.2 1-.4 1 1.7 1-2.2 1 5.3 1 1.9 1 1.1 1 1.4 1 2.2 1 3.4 1-4.3 1 7.5 1 2.9 1 3.4 1-2.1 1 4.6 1 4 1-.6 1 6.3 1 2.8 1-4 1 5.6 1-4.3 1 7 1-4.7 1 4.8 1 1.9 1 3.7 1 2.9 1 .6 1-2.6 1-.3 1-3.4 1 4.2 1 2.8 1 1.9 1-1.7 1 1.7 1-1.1 1 1.9 1-5.5 1 4.2 1-1 1-2.7 1 .2 1 2.6 1-1.2 1 2.7 1 .8 1 0 1-6.4 1 4.7 1 .3 1-4.9 1 4.2 1-.2 1-.9 1-1.4 1-2.3 1-2.3 1 4.1 1-6.5 1 5.9 1 2.7 1-2.4 1-.2 1-.6 1 1.4 1 3.2 1-6.5 1 5.1 1-2.5 1 5.7 1 .3 1 2.8 1-1.5 1 1.6 1 .9 1 3.2 1 1.4 1 .3 1 .2 1 .9 1-2.6 1 3.4 1 .4 1-.3 1-5.3 1 3.8 1 .9 1 4.3 1-3.5 1 .1 1 1.9 1 1.7 1 1.1 1-.4 1 2.2 1 0 1 2.5 1-.7 1-1.5 1-2.3 1 1.1 1-5.7 1 4.1 1-2.1 1-2.3 1 2.5 1-.9 1 .2 1 .5 1 2.1 1 .4 1-2 1 1.8 1-.1 1-1.1 1 2.2 1-3.3 1 4.7 1-1.4 1 2.5 1 0 1 1 1-.3 1-5.8 1 2.9 1 4.7 1 .1 1-1.8 1 5.3 1-.4 1 .5 1-.9 1-7.7 1 7.7 1 2.1 1-2.5 1 3.3 1 .2 1-.2 1 1.7 1-.7 1-.9 1 2.1 1 2.5 1 .8 1 1.4 1-4.4 1 1.9 1 2 1-3.1 1 .4 1 0 1-2.7 1-.9 1 .7 1-2.3 1 1.8 1-2 1-.7 1-1.3 1-3.5 1 2.5 1-.7 1-2.6 1 1.6 1 0 1-2.5 1-2.3 1 2.7 1-2.1 1-.5 1-1.1 1-.7 1 4.5 1 .3 1 .2 1 1 1-3.8 1 3.1 1-2 1 1.5 1-.3 1-2.4 1 5.1 1-.8 1 .7 1-1.8 1-1.6 1-2 1 2.4 1 2.5 1-3 1-2 1-.3 1-3.4 1 2.7 1-.3 1 1.8 1-.1 1-.7 1 2 1-1.4 1 .3 1-1.5 1-.1 1 .2 1-1.1 1 2 1 2.6 1 .9 1-.1 1-1.2 1 .5 1 3 1 1.4 1 .9 1 2.3 1-.7 1-1.2 1 3.9 1 1.5 1-4.6 1 4.4 1-.6 1 1.1 1 1.9 0 29.9-1-1.5-1-.2-1-2.6-1 1-1-2.2-1 .9-1-1.1-1-.6-1-.9-1-.4-1 0-1-4.3-1 .5-1 2-1-3.1-1-1.7-1-.6-1-1.6-1-1.6-1 4.7-1 1.2-1-1.7-1-.2-1-3.7-1 2.8-1 .4-1 0-1 2.9-1-4.7-1 .7-1 5-1-3.3-1 7.3-1-1-1-3-1-1.3-1-.6-1 4.9-1-1.3-1-.1-1 1.7-1-.9-1-1.4-1-.2-1-2.7-1 .9-1 .2-1-.8-1 7-1-2.6-1-1.9-1-1.8-1 .4-1-3.9-1 1.9-1-3.2-1 3.9-1-3-1 1.2-1 4-1 1-1-.7-1 3.3-1-4.3-1 2.5-1 1.7-1-3.1-1 1.4-1 2.4-1-1.4-1 3.8-1-2.5-1 3.4-1-1-1 .4-1 3.9-1 .4-1 2.1-1-5.2-1 .4-1-.9-1-2.2-1 2.1-1-1.6-1-2.2-1 .5-1-1.5-1-.2-1 2.5-1-3.7-1 .1-1-2.5-1-.8-1 1.4-1-1.4-1 4.2-1-5-1 3.3-1-2.6-1-1-1-5.5-1 .5-1 .2-1 .3-1 .8-1-.4-1-1.3-1-2-1-.3-1 1.4-1-1.1-1 1.7-1 3.8-1-6.4-1-2.5-1 .1-1 2.9-1-4.3-1 .5-1-.8-1 3.1-1-1.6-1 .6-1 1.5-1 1.7-1 1.2-1 2.3-1 3.4-1-4.7-1-.8-1-.7-1-1.5-1-.4-1-.8-1-1.9-1 .9-1-.2-1 4.4-1-6.9-1 .1-1 0-1-3.3-1 .3-1 1.2-1 1-1-2.6-1 .5-1 3.8-1-5.3-1-1.3-1 3.4-1-5.4-1 .1-1-1.2-1-2-1-2.5-1 1-1 0-1-1.2-1 4-1-4.5-1-2.4-1-1.1-1 .9-1 .4-1-.9-1 1.9-1-1.6-1 6.7-1-7.5-1 0-1 1.8-1 .8-1 1.6-1 .2-1-1-1-1-1-.4-1 1.4-1 .7-1-1.7-1-1-1 7.3-1-5.3-1 2-1-1.5-1-.4-1-.4-1 3.1-1-1.4-1 7.3-1-8.1-1 .8-1 .5-1-3.7-1-2.1-1 1.6-1 .1-1-.2-1 0-1-2.6-1-.1-1-4.3-1 2.2-1-2.9-1 7.5-1-6.5-1 .1-1-4.7-1-.3-1-4.1-1 1.9-1-5.5-1 2.7-1-5.1-1-4.5-1 .2-1-4.7-1 1.6-1-3.7-1-3.4-1-2.5-1 .1-1-3-1-1.7-1 .1-1-.8-1-1.4-1 1.6-1-.7-1 .5-1-.7-1 2.8-1-2.8-1 0-1 3.6-1 .3-1 1.9-1 6-1 3-1 4-1-.1-1 4-1 1.7-1 4.9-1 7.2-1 5.6-1 8.8-1 11.5-1-.4-1 4.9-1 6.3-1 4.3-1 3z" fill="#aaa" stroke="none"/>
<path d="M65.7 2215.5l.5 .2 .5 4.2 .5-3.6 .5 .6 .5 3.1 .5-1.6 .5-.5 .5 .8 .5-1.2 .5 3.8 .5-2.2 .5 .1 .5-1 .5 2.2 .5-1.2 .5-1.6 .5 2.8 .5-5.3 .5 5.7 .5-.9 .5 0 .5-.3 .5 3.9 .5-2.4 .5-1.1 .5 1.3 .5 0 .5 3.8 .5-4.5 .5-.6 .5 .6 .5-1 .5-1.9 .5 2.7 .5-1.6 .5-.6 .5-4.8 .5 4.1 .5 1.9 .5-.2 .5-2.3 .5 6.1 .5-1.9 .5-2 .5-2.6 .5-1.8 .5 6.1 .5 0 .5-5.1 .5 5.6 .5 1.3 .5-2.8 .5 .3 .5-.5 .5-1.9 .5 4.9 .5-4.6 .5-.1 .5 2.2 .5 1.7 .5-3.7 .5-3.3 .5 4.3 .5-.7 .5-1.8 .5 4.8 .5-1.3 .5-1.6 .5-.9 .5 5.7 .5-3.1 .5-1 .5 .7 .5 3.5 .5-2.5 .5 2.8 .5-1.3 .5 .6 .5-.3 .5-.6 .5 4.4 .5-2 .5-2.1 .5-.3 .5 4 .5 3.5 .5-2.8 .5-2.8 .5-1.1 .5-.5 .5 2.1 .5 .6 .5-.2 .5 2.4 .5-1.4 .5 1.3 .5 .2 .5-.4 .5 1.2 .5-3.1 .5-.8 .5-5.5 .5-.4 .5-1.4 .5-5.3 .5 1.9 .5-4.5 .5-.7 .5-2.3 .5-6.3 .5-2.9 .5 1 .5-1.9 .5-1.1 .5-4.2 .5-1.1 .5-7.5 .5-5.1 .5-2.8 .5-5.3 .5-.7 .5-5.3 .5-5.1 .5-3.5 .5-5.1 .5-4.5 .5-3.3 .5-2.3 .5-2.2 .5 1.5 .5-4.7 .5 .7 .5-3.2 .5 0 .5 .8 .5-4 .5-1.6 .5 1.5 .5-4.6 .5-1 .5-2.3 .5-1.9 .5-2.6 .5 .4 .5-.7 .5 .7 .5-.9 .5-1.5 .5-1.1 .5-.8 .5 1.1 .5-2 .5-.2 .5 1.5 .5 2.3 .5-4.2 .5 4.7 .5-4.6 .5 1.6 .5-1.6 .5 .4 .5 4.4 .5-6.1 .5 1.7 .5-1.3 .5 3.2 .5-2.1 .5-1 .5 2.9 .5 1.3 .5-2.4 .5 2.1 .5-1.8 .5 9.3 .5-2.9 .5 1.7 .5-1.6 .5 3.6 .5-2.7 .5 6.6 .5-2.6 .5-.4 .5 3.8 .5-2.9 .5 5.2 .5 6.8 .5-.3 .5-3.3 .5 1.1 .5-2.6 .5 7.7 .5-3.1 .5 1.3 .5 3.5 .5 1.3 .5-2.7 .5 6 .5-1.9 .5 3.9 .5-2.5 .5 5.1 .5-2.5 .5 0 .5 2.6 .5-1.7 .5 1 .5 4.7 .5-4.1 .5 2.8 .5-4 .5 4 .5-3.9 .5 4.3 .5 .6 .5 1.5 .5 3.1 .5-.9 .5 .7 .5-2 .5-.9 .5 5.7 .5-4.1 .5 1.9 .5-2.8 .5 .4 .5 2.1 .5-.8 .5 0 .5-.3 .5 4.6 .5-.6 .5-2.5 .5 .1 .5 0 .5 4.7 .5-4.4 .5 1 .5 .6 .5-.4 .5-1.7 .5 2 .5-1.5 .5 4.1 .5-4 .5-.3 .5 1.5 .5-1.2 .5 1.3 .5-3.5 .5 3.9 .5-.2 .5-.6 .5-.9 .5-.9 .5 6.2 .5-3.9 .5 .6 .5 3.9 .5-5.6 .5 5.7 .5-3.9 .5 0 .5-2.2 .5-.7 .5-.3 .5 3.1 .5-1.2 .5-4.1 .5 1.6 .5 2.2 .5 5.2 .5-2.8 .5-3.7 .5 .9 .5-1.9 .5 .9 .5-1.9 .5 1.1 .5-2.6 .5 0 .5 6.3 .5-5.7 .5 .3 .5 3 .5 2.3 .5 1.1 .5-2.8 .5-2.5 .5 1 .5-2.2 .5 2.1 .5 .4 .5-.8 .5 4 .5-2.6 .5 2.3 .5-2.3 .5-.5 .5 2.3 .5 1.7 .5 2.4 .5-3.1 .5-1.1 .5 .6 .5 1.8 .5-.5 .5 2 .5 .6 .5 0 .5-4.5 .5 5.2 .5-.4 .5 .2 .5-1.7 .5 2.6 .5 .5 .5 .1 .5 .8 .5-1.6 .5 3.3 .5 .8 .5-3.1 .5 5.5 .5-1.9 .5 1 .5 1.6 .5-2.5 .5-.8 .5 3.6 .5 .7 .5-2.4 .5 .3 .5-1.2 .5 .6 .5-.6 .5 5.1 .5-.7 .5-3.1 .5 2.5 .5 2 .5 .2 .5-1 .5-1.5 .5 1.3 .5 1.1 .5-2.2 .5 4.4 .5-7.6 .5 7.2 .5-.4 .5 1.4 .5-3.7 .5 5 .5-2.8 .5 .7 .5 1.2 .5 .6 .5 1.3 .5-2 .5 1.6 .5 4.9 .5-7.2 .5-.4 .5 1.6 .5 .3 .5-3.3 .5-.2 .5 1.1 .5 1.5 .5-4.8 .5 2.3 .5-.4 .5-2.7 .5 4.7 .5-.6 .5-7.4 .5 3.8 .5 2.5 .5-1 .5 2.3 .5-3.6 .5 .8 .5-1 .5 1 .5 2.5 .5-4.4 .5 5.6 .5-1.5 .5-2.1 .5 1.6 .5 3.1 .5-.2 .5 4.7 .5-1.3 .5-2.6 .5-.5 .5-1.2 .5 2.7 .5-2.8 .5 3.9 .5-2 .5-2.7 .5 1.5 .5 1.4 .5-1.6 .5 2.8 .5 3 .5-1.4 .5 1.4 .5-3.7 .5 1.4 .5 2.2 .5-6.6 .5 1.7 .5 3.8 .5-2 .5-.4 .5 1.8 .5 2.4 .5 1 .5-5.2 .5 4.8 .5-1.3 .5 .8 .5 .3 .5 .6 .5-.3 .5 4 .5-3.7 .5 1.2 .5 1.8 .5-2.8 .5 1.3 .5 1.8 .5 1.1 .5-5.4 .5 2.6 .5 .9 .5 .8 .5 1.5 .5-1.7 .5 .5 .5 1.3 .5 3.6 .5 .2 .5-2.2 .5 1.4 .5 2.2 .5-6.4 .5-1 .5 4 .5 3 .5-2.6 .5-3.4 .5 3.8 .5 1.4 .5 2.6 .5-.4 .5-2.2 .5 .6 .5 .8 .5-.3 .5 4.1 .5-.1 .5-1.3 .5-.9 .5-4.3 .5 3.9 .5-.5 .5-3.4 .5 3.8 .5-3.6 .5-1.9 .5-.9 .5-.2 .5-2.1 .5 1.1 .5-1.3 .5 1.7 .5 3.8 .5-2.2 .5-3.6 .5 3.8 .5-.3 .5-8.3 .5 3 .5 2.5 .5-1 .5-1.3 .5-.8 .5 2.1 .5 2.5 .5-1.4 .5-3.1 .5 .7 .5-1.7 .5 1 .5-3.4 .5 4 .5-.2 .5-7 .5 3.4 .5 .8 .5-1.4 .5-5.2 .5 5.6 .5-1.4 .5 1 .5 .5 .5-.6 .5-2.6 .5 3.8 .5-1.2 .5 .5 .5 .9 .5 .9 .5 .6 .5-1.6 .5 2 .5 .9 .5-.6 .5 2.6 .5-8.1 .5 4.2 .5-2 .5 2.6 .5 1.1 .5-3.1 .5 1 .5 2.1 .5 .6 .5-.5 .5 .5 .5-1 .5 3 .5-3.4 .5 2 .5 4.6 .5-5.8 .5-3.9 .5 6.6 .5-.8 .5-3.1 .5 1.4 .5 .3 .5-1.7 .5-1 .5-1.7 .5 3.9 .5-.7 .5-2.4 .5 4.6 .5-3.3 .5 3.8 .5-4.9 .5 1.3 .5-3.2 .5-.7 .5 1.8 .5-1.3 .5 4 .5-6.3 .5 2.6 .5-.1 .5-5 .5 5.3 .5 .7 .5-.4 .5 .5 .5 .6 .5-4 .5 .5 .5 2 .5-2.8 .5-1.5 .5-.9 .5 5 .5-5.3 .5 4.8 .5 1.6 .5-3.7 .5 2.5 .5 2.3 .5-2.1 .5 1.7 .5 2.8 .5 .4 .5 1.7 .5-4.8 .5 3 .5-2 .5-.1 .5 5.2 .5-4 .5 2.5 .5-.5 .5 1.1 .5-3.2 .5 6.7 .5-2.6 .5-2.2 .5 3.2 .5-1.4 .5 1.9 .5 1.7 .5-2.6 .5 3.5 .5-1 .5 2.7 .5-6.4 .5 5.1 .5-3.7 .5-1.3 .5 5.7 .5-6.3 .5 2.4 .5 2.8 .5 5.7" fill="none" stroke="#f0f" stroke-width="4.4" stroke-linejoin="round" stroke-linecap="round"/>
<path d="M123.5 2016.5V2000" stroke-width="3.2" fill="none"/>
<path d="M123.5 1988L130.9 2010.5L123.5 2005L116.1 2010.5Z" stroke="none" fill="#000"/>
<path d="M123.5 2267V2250" stroke-width="3.2" fill="none"/>
<path d="M123.5 2238L130.9 2260.5L123.5 2255L116.1 2260.5Z" stroke="none" fill="#000"/>
<path d="M302.6 1968.4V2018.6H361.0" fill="none" stroke-width="3.5"/>
<line x1="499.2" y1="1827.3000000000002" x2="499.2" y2="2252.9" stroke-width="3.5"/>
<line x1="484.2" y1="2251.4" x2="499.2" y2="2251.4" stroke-width="3.5"/>
<text x="482.7" y="2264.4" font-size="36" text-anchor="end">0</text>
<line x1="484.2" y1="2145.75" x2="499.2" y2="2145.75" stroke-width="3.5"/>
<text x="482.7" y="2158.75" font-size="36" text-anchor="end">10</text>
<line x1="484.2" y1="2040.1000000000001" x2="499.2" y2="2040.1000000000001" stroke-width="3.5"/>
<text x="482.7" y="2053.1000000000004" font-size="36" text-anchor="end">20</text>
<line x1="484.2" y1="1934.45" x2="499.2" y2="1934.45" stroke-width="3.5"/>
<text x="482.7" y="1947.45" font-size="36" text-anchor="end">30</text>
<line x1="484.2" y1="1828.8000000000002" x2="499.2" y2="1828.8000000000002" stroke-width="3.5"/>
<text x="482.7" y="1841.8000000000002" font-size="36" text-anchor="end">40</text>
<text x="425.5" y="2041" font-size="37" text-anchor="middle" transform="rotate(-90 425.5 2041)">AUC</text>
<line x1="484.2" y1="2251.4" x2="811.5" y2="2251.4" stroke-width="3.5"/>
<rect x="552.4" y="2040.9" width="66.7" height="210.5" fill="#f00" stroke="#000" stroke-width="3.5"/>
<line x1="585.5172413793103" y1="2040.8620689655172" x2="585.5172413793103" y2="2007.7586206896551" stroke-width="3.5"/>
<line x1="569.5172413793103" y1="2007.7586206896551" x2="601.5172413793103" y2="2007.7586206896551" stroke-width="3.5"/>
<rect x="687.9" y="2097.8" width="67.2" height="153.6" fill="#f0f" stroke="#000" stroke-width="3.5"/>
<line x1="721.551724137931" y1="2097.7586206896553" x2="721.551724137931" y2="2056.3793103448274" stroke-width="3.5"/>
<line x1="705.551724137931" y1="2056.3793103448274" x2="737.551724137931" y2="2056.3793103448274" stroke-width="3.5"/>
<line x1="585.5172413793103" y1="1898.6206896551723" x2="721.551724137931" y2="2010.8620689655172" stroke-width="2.6"/>
<line x1="585.5172413793103" y1="1995.8620689655172" x2="721.551724137931" y2="1947.7586206896551" stroke-width="2.6"/>
<line x1="585.5172413793103" y1="2042.4137931034484" x2="721.551724137931" y2="2033.103448275862" stroke-width="2.6"/>
<line x1="585.5172413793103" y1="2016.0344827586207" x2="721.551724137931" y2="2229.655172413793" stroke-width="2.6"/>
<line x1="585.5172413793103" y1="2068.2758620689656" x2="721.551724137931" y2="2141.206896551724" stroke-width="2.6"/>
<line x1="585.5172413793103" y1="2106.551724137931" x2="721.551724137931" y2="2197.5862068965516" stroke-width="2.6"/>
<line x1="585.5172413793103" y1="2144.8275862068967" x2="721.551724137931" y2="2112.2413793103447" stroke-width="2.6"/>
<circle cx="585.5" cy="1898.6" r="10" stroke="none"/>
<circle cx="721.6" cy="2010.9" r="10" stroke="none"/>
<circle cx="585.5" cy="1995.9" r="10" stroke="none"/>
<circle cx="721.6" cy="1947.8" r="10" stroke="none"/>
<circle cx="585.5" cy="2042.4" r="10" stroke="none"/>
<circle cx="721.6" cy="2033.1" r="10" stroke="none"/>
<circle cx="585.5" cy="2016.0" r="10" stroke="none"/>
<circle cx="721.6" cy="2229.7" r="10" stroke="none"/>
<circle cx="585.5" cy="2068.3" r="10" stroke="none"/>
<circle cx="721.6" cy="2141.2" r="10" stroke="none"/>
<circle cx="585.5" cy="2106.6" r="10" stroke="none"/>
<circle cx="721.6" cy="2197.6" r="10" stroke="none"/>
<circle cx="585.5" cy="2144.8" r="10" stroke="none"/>
<circle cx="721.6" cy="2112.2" r="10" stroke="none"/>
</g>
<g id="panel_i">
<text x="3.5" y="2386.5" font-size="75" font-weight="bold">i</text>
<text x="336.5" y="2377.7" font-size="39.5">AAV8<tspan dy="-17" font-size="26" dx="3">retro</tspan><tspan dy="17" font-size="39.5">-FLEX(Loxp)-Flp</tspan></text>
<text x="7.5" y="2459.6" font-size="39.5">AAV8-FLEX(FRT)-jGCaMP7s</text>
<text x="107" y="2536.5" font-size="39.5" font-style="italic">vGlut2<tspan dy="-12" font-size="28" dx="6">Cre</tspan><tspan dy="12" font-size="39.5" dx="-3"> mouse</tspan></text>
<text x="695.5" y="2649" font-size="39.5">RVM</text>
<g transform="translate(360 2380) scale(0.29557)" fill="none" stroke="#111" stroke-width="5" stroke-linecap="round" stroke-linejoin="round">
<path d="M215 548C170 545 110 550 75 585C45 615 55 655 85 690C130 740 200 775 270 805C350 838 450 855 540 875C590 886 635 895 665 880C700 862 720 815 740 812C755 812 760 845 790 872C840 905 920 918 1000 927C1080 935 1150 938 1215 938"/>
<path d="M290 668C260 640 240 590 218 550C215 520 240 490 290 455C350 415 450 395 540 385C600 378 660 372 715 383C755 392 785 415 778 440C772 458 755 462 740 466"/>
<path d="M690 540C705 510 735 478 775 464C815 452 860 462 900 480C915 488 925 500 928 512"/>
<path d="M397 628C385 610 405 585 440 560C490 525 560 500 610 485C640 476 670 482 678 500C682 514 660 520 635 517C605 512 580 515 562 530C540 550 530 590 512 630C500 655 488 665 483 655C478 640 495 610 512 585C525 565 530 550 515 546C490 542 455 570 435 600C420 622 408 640 397 628Z"/>
<path d="M900 470C930 460 975 460 1015 475C1060 495 1100 535 1120 580C1135 620 1150 680 1145 720C1142 745 1135 760 1130 765C1150 775 1175 785 1195 790"/>
<path d="M928 512C925 545 905 570 890 595C880 615 888 650 905 680"/>
<path d="M930 492C940 530 945 560 938 590C940 612 955 628 965 642"/>
<path d="M975 492C990 530 1000 560 1000 590L1003 615"/>
<path d="M1040 510C1052 545 1058 575 1058 602"/>
<path d="M1060 632C1085 638 1110 634 1130 625"/>
<path d="M1035 662C1055 690 1095 710 1140 712"/>
<path d="M890 645C905 690 940 725 990 742C1035 752 1085 745 1128 766C1085 760 1040 768 990 760C940 745 900 700 890 645Z" fill="#000" stroke="#000" stroke-width="4"/>
<path d="M830 690C830 740 835 790 860 825C890 850 940 856 1012 864"/>
<ellipse cx="823" cy="643" rx="34" ry="50" transform="rotate(-38 823 643)" fill="#f00" stroke="none"/>
<circle cx="826" cy="648" r="22" fill="#111" stroke="none"/>
<path d="M830 690C830 740 835 790 860 825C890 850 940 856 960 858"/>
<ellipse cx="1027" cy="873" rx="75" ry="46" fill="#f00" stroke="none"/>
<path d="M955 857C980 860 1000 862 1012 866M1025 862C1005 870 1005 885 1022 893"/>
<path d="M1041 372V818" stroke-width="5"/>
<rect x="1009" y="117" width="61" height="232" fill="#fff"/>
<rect x="1011.5" y="212" width="56" height="134.5" fill="#f00" stroke="none"/>
<rect x="1009" y="117" width="61" height="232"/>
<rect x="1006" y="65" width="62" height="13" fill="#ddd" stroke-width="4.5"/>
<rect x="1031" y="78" width="15" height="39" fill="#fff" stroke-width="4.5"/>
<rect x="1033" y="349" width="15" height="23" fill="#fff" stroke-width="4.5"/>
<path d="M1010 148h18M1010 178h12M1010 208h18M1010 238h12M1010 268h18M1010 298h12M1010 326h18" stroke-width="4.5"/>
<g transform="translate(790 592) rotate(-22.3) translate(-1041 -583)">
<path d="M1041 372V583" stroke-width="5"/>
<rect x="1009" y="117" width="61" height="232" fill="#fff"/>
<rect x="1011.5" y="222" width="56" height="124.5" fill="#f00" stroke="none"/>
<rect x="1009" y="117" width="61" height="232"/>
<rect x="1006" y="65" width="62" height="13" fill="#ddd" stroke-width="4.5"/>
<rect x="1031" y="78" width="15" height="39" fill="#fff" stroke-width="4.5"/>
<rect x="1033" y="349" width="15" height="23" fill="#fff" stroke-width="4.5"/>
<path d="M1010 148h18M1010 178h12M1010 208h18M1010 238h12M1010 268h18M1010 298h12M1010 326h18" stroke-width="4.5"/>
</g>
</g>
</g>
<g id="panel_j">
<text x="840" y="1815.5" font-size="75" font-weight="bold">j</text>
<text x="1076.5" y="1803.5" font-size="39.3" text-anchor="middle">Fiber track</text>
<text x="1076.5" y="1850" font-size="39.3" text-anchor="middle">virus expression</text>
<g clip-path="url(#c1)" stroke="none">
<rect x="853" y="1859.3" width="435" height="330" fill="#010945"/><rect x="853" y="1859.3" width="435" height="330" filter="url(#sp1)"/>
<ellipse cx="895" cy="1930" rx="55" ry="60" fill="#000" opacity="0.5" filter="url(#b12)"/>
<ellipse cx="1225" cy="2040" rx="60" ry="50" fill="#000" opacity="0.3" filter="url(#b12)"/>
<ellipse cx="1150" cy="1900" rx="120" ry="30" fill="#000" opacity="0.2" filter="url(#b12)"/>
<g filter="url(#b2)" fill="none" stroke="#0a20c8" stroke-linecap="round" opacity="0.8">
<path d="M996 1860C994 1890 988 1925 978 1955" stroke-width="5" opacity="0.8"/>
<path d="M978 1962C960 1972 940 1984 920 1996C905 2003 890 2008 872 2012" stroke-width="10"/>
<path d="M905 2012C900 2030 898 2045 894 2058C885 2068 872 2078 858 2092" stroke-width="7"/>
<path d="M856 2010C865 2015 880 2018 892 2015M856 2030C862 2045 862 2060 858 2075" stroke-width="9" opacity="0.8"/>
</g>
<path d="M994.3 1859.1L992.2 1882.1L988.2 1902.4L983.4 1922.7L978.7 1939.0L974.6 1952.5L971.9 1960.7L965.1 1963.4L955.7 1967.4L944.8 1974.2L936.7 1981.0L931.3 1985.0L925.9 1987.1L931.3 1979.6L936.7 1970.1L943.5 1949.8L947.5 1922.7L949.6 1895.6L950.2 1859.1Z" fill="#000"/>
<path d="M909.6 2003.9L902.8 2010.6L898.8 2024.2L896.7 2040.4L894.7 2054.0L887.9 2059.4L877.1 2067.5L864.9 2077.0L863.5 2064.8L866.3 2051.3L870.3 2037.7L881.2 2024.2L894.7 2013.3Z" fill="#000"/>
<ellipse cx="860.5" cy="2010" rx="5" ry="4" fill="#000"/><ellipse cx="878" cy="2012" rx="4" ry="3" fill="#000"/>
<ellipse cx="1010" cy="2075" rx="85" ry="50" fill="#00b070" opacity="0.42" filter="url(#b12)" transform="rotate(14 1010 2075)"/>
<ellipse cx="945" cy="2054" rx="19" ry="13" fill="#10ff48" opacity="0.95" filter="url(#b6)" transform="rotate(35 945 2054)"/>
<ellipse cx="975" cy="2062" rx="32" ry="17" fill="#10f048" opacity="0.5" filter="url(#b6)" transform="rotate(20 975 2062)"/>
<path d="M976.9 2052.5h4.1v4.0h-4.1zM924.6 2058.0h2.1v2.1h-2.1zM972.0 2107.7h2.1v4.1h-2.1zM1034.4 2086.6h1.7v3.6h-1.7zM956.9 2083.4h2.4v3.2h-2.4zM971.3 2073.1h2.7v2.3h-2.7zM1071.4 2124.9h3.3v3.3h-3.3zM1050.8 2061.2h2.5v2.6h-2.5zM931.5 2076.6h1.5v2.8h-1.5zM958.4 2051.3h1.6v3.4h-1.6zM1073.6 2090.7h1.9v1.6h-1.9zM1010.4 2081.9h1.9v3.3h-1.9zM1006.3 2041.0h3.3v2.8h-3.3zM947.6 2113.1h3.4v3.3h-3.4zM1027.4 2076.5h1.6v2.4h-1.6zM1114.7 2078.0h3.8v1.8h-3.8zM994.1 2015.3h3.7v3.6h-3.7zM1022.2 2089.7h3.6v3.5h-3.6zM1056.7 2062.5h3.9v1.9h-3.9zM1117.7 2082.8h2.4v1.7h-2.4zM930.5 2035.9h2.4v1.7h-2.4zM970.8 2118.1h1.7v4.0h-1.7zM999.0 2089.5h1.8v4.1h-1.8zM1047.9 2065.5h1.8v3.3h-1.8zM1012.3 2068.8h3.2v3.8h-3.2zM934.5 2061.6h3.7v2.1h-3.7zM980.7 2108.9h3.0v2.9h-3.0zM923.1 2111.5h2.3v3.3h-2.3zM1053.4 2063.4h1.6v2.1h-1.6zM1030.9 2084.0h1.8v2.4h-1.8zM957.9 2082.2h3.3v3.3h-3.3zM993.1 2039.4h3.3v3.0h-3.3zM1044.1 2108.6h2.4v3.3h-2.4zM1007.7 2047.7h2.7v2.7h-2.7zM998.1 2076.7h1.6v4.2h-1.6zM1010.8 2038.1h3.3v2.2h-3.3zM1023.5 2040.4h4.2v4.0h-4.2zM1053.5 2094.4h2.7v2.2h-2.7zM986.0 2053.3h3.5v3.8h-3.5zM1076.4 2107.1h2.2v3.2h-2.2zM1027.2 2048.8h3.5v1.9h-3.5zM1001.3 2037.4h2.2v2.1h-2.2zM1009.5 2125.6h1.8v2.1h-1.8zM1011.4 2088.8h3.5v3.1h-3.5zM962.3 2001.0h2.7v1.6h-2.7zM1019.3 2108.7h3.4v4.0h-3.4zM966.9 2058.3h3.1v4.0h-3.1zM925.3 2111.3h3.9v3.1h-3.9zM976.4 2064.3h1.8v1.6h-1.8zM948.9 2023.3h4.2v3.1h-4.2zM1060.0 2083.4h1.9v1.7h-1.9zM978.7 2100.3h4.2v2.3h-4.2zM998.9 2118.2h2.5v3.0h-2.5zM1052.2 2132.3h4.0v3.5h-4.0zM1052.6 2071.7h1.6v2.3h-1.6zM1059.5 2063.5h2.0v1.9h-2.0zM1026.6 2104.5h4.0v3.9h-4.0zM1024.2 2022.8h2.0v3.6h-2.0zM1005.1 2107.6h1.6v3.9h-1.6zM1046.3 2111.2h3.3v3.2h-3.3zM991.4 2039.1h3.6v4.0h-3.6zM1018.1 2065.0h3.3v1.7h-3.3zM984.8 2039.1h3.8v1.6h-3.8zM1021.0 2071.2h1.7v1.5h-1.7zM1097.7 2159.4h3.8v4.0h-3.8zM1024.6 2119.0h3.6v3.5h-3.6zM964.1 2141.4h3.5v3.3h-3.5zM984.7 2095.2h3.5v2.9h-3.5zM1065.2 2097.1h3.4v1.5h-3.4zM997.2 2043.8h3.2v3.2h-3.2zM1073.5 2144.8h2.2v1.9h-2.2zM985.6 2068.8h1.8v3.6h-1.8zM1053.6 2105.3h3.9v2.7h-3.9zM1060.2 2030.7h1.9v1.7h-1.9zM1045.3 2019.6h3.8v3.4h-3.8zM1014.1 2019.6h4.0v1.6h-4.0zM1012.7 2030.8h1.5v2.2h-1.5zM1001.6 2031.7h3.0v2.3h-3.0zM1074.1 2083.4h3.5v1.7h-3.5zM1040.1 2110.2h3.7v1.8h-3.7zM1034.8 2107.3h2.3v1.9h-2.3zM1028.0 2103.6h3.6v2.0h-3.6zM1015.6 2061.3h2.2v3.3h-2.2zM1052.1 2083.8h1.9v2.1h-1.9zM1032.4 2065.3h3.4v4.0h-3.4zM990.1 2128.1h2.4v3.6h-2.4zM965.3 2045.3h3.9v3.4h-3.9zM965.0 2096.3h2.3v2.3h-2.3zM1149.8 2076.5h1.9v4.0h-1.9zM1004.5 2065.3h1.8v2.7h-1.8zM1099.9 2054.0h2.2v2.7h-2.2zM1040.7 2069.8h1.8v2.6h-1.8zM975.1 2004.6h3.9v1.5h-3.9zM1013.6 2086.9h3.1v2.6h-3.1zM1076.5 2068.8h3.2v3.4h-3.2zM1019.0 2137.3h3.8v3.7h-3.8zM1017.0 2054.4h1.6v2.5h-1.6zM1003.3 2049.1h3.8v3.8h-3.8zM994.2 2033.2h1.9v3.7h-1.9zM1025.3 2107.7h3.5v3.2h-3.5zM996.7 2131.6h2.4v2.6h-2.4zM922.3 2066.3h1.6v3.2h-1.6zM949.8 2085.6h4.1v1.7h-4.1zM1030.4 2042.9h2.3v2.2h-2.3zM1009.3 2130.0h2.0v4.1h-2.0zM961.9 2055.9h3.6v3.1h-3.6zM1030.7 2065.3h3.4v1.6h-3.4zM1019.2 2103.3h2.3v2.3h-2.3zM930.3 2028.3h2.6v2.9h-2.6zM1018.9 2051.8h4.2v1.6h-4.2zM923.8 2090.6h2.1v2.4h-2.1zM1053.5 2157.1h3.9v1.7h-3.9zM976.2 2058.0h1.5v2.1h-1.5zM996.0 2031.0h2.3v3.1h-2.3zM1043.8 2094.5h1.8v3.7h-1.8zM932.4 2083.9h2.4v2.6h-2.4zM971.0 2049.9h3.0v3.6h-3.0zM1034.4 2087.1h1.6v2.8h-1.6zM1048.4 2105.7h1.9v2.9h-1.9zM972.8 2112.2h3.7v4.1h-3.7zM1042.6 2058.5h4.1v4.1h-4.1zM1042.1 2123.4h3.4v3.2h-3.4zM1001.4 2044.6h3.8v3.4h-3.8zM1040.9 2153.6h3.5v1.7h-3.5zM1036.0 2082.1h3.3v3.5h-3.3zM1114.0 2071.9h2.1v2.0h-2.1zM1046.6 2096.9h2.6v2.5h-2.6zM1048.0 2042.7h3.7v3.8h-3.7zM1021.7 2037.2h2.6v2.9h-2.6zM924.2 2060.0h3.8v3.3h-3.8zM991.7 2106.7h2.7v1.8h-2.7zM1045.5 2101.8h4.0v3.4h-4.0zM1110.9 2122.1h3.5v3.1h-3.5zM1051.1 2083.3h2.4v2.8h-2.4zM1050.8 2112.8h3.2v3.2h-3.2zM935.9 2053.0h1.8v3.7h-1.8zM1088.8 2047.4h3.6v2.2h-3.6zM997.5 2077.7h3.6v3.8h-3.6zM1076.8 2072.7h3.7v3.8h-3.7zM1017.4 2081.4h3.9v4.1h-3.9zM1001.2 2026.6h2.6v3.8h-2.6zM998.2 2078.4h3.7v1.7h-3.7zM1001.0 2024.8h1.8v2.7h-1.8zM975.5 2118.2h3.6v2.4h-3.6zM1026.3 2099.2h2.7v3.1h-2.7zM1052.3 2073.8h1.9v3.2h-1.9zM919.5 2070.4h3.3v3.0h-3.3zM1024.6 2056.4h3.6v2.0h-3.6zM935.6 2056.6h3.0v1.8h-3.0zM960.9 2064.7h2.2v2.6h-2.2zM970.5 2071.8h3.4v4.0h-3.4zM1038.9 2072.7h2.1v2.6h-2.1zM944.1 2026.9h3.1v2.8h-3.1zM1142.4 2105.9h3.7v2.2h-3.7zM1009.0 2062.7h4.1v3.4h-4.1zM1059.6 2069.7h3.4v2.2h-3.4zM1037.6 2069.8h1.5v2.3h-1.5zM980.2 2030.1h3.7v3.3h-3.7zM1050.2 2008.9h1.7v1.8h-1.7zM993.5 2083.2h3.0v3.4h-3.0zM1021.9 2107.7h2.2v1.5h-2.2zM994.2 2091.5h3.4v4.1h-3.4zM1057.8 2098.9h2.8v3.2h-2.8zM1067.5 2149.3h2.2v3.1h-2.2zM940.8 2074.8h3.9v3.2h-3.9zM914.8 2110.7h2.0v4.1h-2.0zM992.2 2045.9h4.2v3.8h-4.2zM1036.9 2092.4h2.8v4.0h-2.8zM936.7 2027.9h3.6v1.9h-3.6zM1073.8 2067.9h1.8v1.9h-1.8zM1036.8 2040.3h4.0v3.8h-4.0zM954.4 2046.6h3.6v4.1h-3.6zM972.3 2096.7h1.8v1.6h-1.8zM1050.1 2093.3h3.2v3.8h-3.2zM984.3 2125.6h2.4v2.5h-2.4zM986.1 2067.4h2.5v3.0h-2.5zM997.0 2051.4h2.3v1.9h-2.3zM952.1 2053.4h2.4v2.9h-2.4zM1018.8 2030.5h3.5v2.6h-3.5zM1031.0 2070.0h1.7v1.8h-1.7zM956.7 2060.5h2.0v1.5h-2.0zM1012.3 2061.4h3.2v4.1h-3.2zM992.3 2108.2h3.9v2.7h-3.9zM1018.7 2069.6h3.0v3.6h-3.0zM1109.0 2090.7h2.8v3.4h-2.8zM1065.8 2054.7h1.6v2.1h-1.6zM987.3 2055.4h1.9v4.1h-1.9zM1067.3 2040.1h2.6v2.1h-2.6zM1037.3 2087.5h2.8v3.1h-2.8zM1032.0 2105.1h2.5v3.9h-2.5zM958.2 2114.3h3.2v4.0h-3.2zM990.2 2090.5h2.8v2.2h-2.8zM971.6 2057.0h1.6v3.2h-1.6zM997.6 2069.4h2.5v3.7h-2.5zM976.6 2042.3h4.1v4.2h-4.1zM1042.1 2083.6h3.1v2.4h-3.1zM1012.3 2126.6h3.9v2.8h-3.9zM1076.3 2079.9h3.2v2.9h-3.2zM1056.1 2019.2h2.9v2.8h-2.9zM1049.2 2024.1h3.3v1.9h-3.3zM1034.2 2099.3h1.6v2.5h-1.6zM983.6 2076.6h1.9v3.2h-1.9zM1038.3 2064.9h3.5v2.6h-3.5zM1128.4 2107.7h1.8v2.8h-1.8zM1047.9 2084.2h2.5v2.5h-2.5zM966.6 2037.5h3.7v2.7h-3.7zM995.9 2035.3h3.5v1.8h-3.5zM1031.7 2119.8h3.5v2.5h-3.5zM1073.5 2099.2h1.8v2.5h-1.8zM1054.2 2030.7h3.7v1.8h-3.7zM1005.7 2062.5h4.2v3.5h-4.2zM1037.6 2017.6h3.7v3.6h-3.7zM1024.3 2070.3h1.7v3.4h-1.7zM1065.8 2124.2h2.6v3.5h-2.6zM1051.8 2106.7h3.4v3.5h-3.4zM1016.0 2093.9h3.8v3.6h-3.8zM994.6 2066.9h3.4v3.5h-3.4zM950.7 2012.9h2.2v2.3h-2.2zM1209.4 2109.7h1.8v3.2h-1.8zM987.2 2025.9h2.5v2.5h-2.5zM1033.3 2069.5h1.7v3.5h-1.7zM1057.1 2086.6h3.0v3.3h-3.0zM989.1 2110.1h3.3v3.7h-3.3zM927.1 2079.5h2.3v3.2h-2.3zM1008.2 2059.7h3.6v1.7h-3.6zM1017.2 2056.4h2.1v2.4h-2.1zM987.1 2107.8h2.4v3.7h-2.4zM926.5 2086.1h2.4v2.9h-2.4zM966.6 2044.6h3.6v3.2h-3.6zM934.6 2035.9h2.1v2.4h-2.1zM1073.2 2054.4h2.8v4.2h-2.8zM1089.1 2075.3h1.8v2.6h-1.8zM943.9 2078.5h2.3v2.8h-2.3zM1027.5 2066.1h1.7v2.9h-1.7zM1055.0 2086.4h2.2v3.6h-2.2zM1021.5 2109.2h3.8v3.3h-3.8zM974.3 2074.5h4.1v3.6h-4.1zM995.8 2045.3h2.1v3.9h-2.1zM1069.3 2035.7h2.3v3.4h-2.3zM1067.5 2025.7h3.4v1.7h-3.4zM1044.1 2088.7h3.7v2.4h-3.7zM1059.5 2095.3h1.9v2.6h-1.9zM998.0 2032.6h3.0v2.9h-3.0zM1129.9 2086.7h2.9v1.8h-2.9zM999.7 2052.1h1.5v1.8h-1.5zM923.0 2038.6h2.9v3.5h-2.9zM973.2 2081.0h3.6v3.6h-3.6zM1038.6 2033.7h3.6v3.1h-3.6zM973.9 2020.7h2.6v1.6h-2.6zM1093.9 2045.9h2.4v2.7h-2.4zM1087.3 2138.9h1.7v2.7h-1.7zM1107.7 2107.3h3.4v3.6h-3.4zM938.5 2030.3h3.9v1.7h-3.9zM997.4 2083.2h2.8v1.7h-2.8zM966.5 2027.4h3.4v3.7h-3.4zM1018.0 2077.0h2.7v2.9h-2.7zM1001.1 2041.6h4.0v2.9h-4.0zM923.3 2051.6h4.0v3.5h-4.0zM1034.9 2065.4h1.8v1.6h-1.8zM943.2 2024.0h2.0v3.1h-2.0zM1012.3 2112.3h4.1v3.9h-4.1zM998.7 2079.2h2.2v2.9h-2.2zM965.6 2088.1h2.9v4.0h-2.9zM964.4 2084.5h2.4v3.0h-2.4zM1031.2 2108.5h2.9v3.7h-2.9zM964.8 2089.7h2.4v1.5h-2.4zM1004.7 2022.2h4.1v1.6h-4.1zM1075.3 2047.2h3.9v1.9h-3.9zM983.9 2115.1h3.3v1.8h-3.3zM1136.5 2124.0h3.4v2.5h-3.4zM972.2 2064.8h2.3v4.1h-2.3zM1099.3 2135.5h3.6v2.5h-3.6zM1019.8 2034.8h3.2v3.0h-3.2zM1019.0 2042.2h3.0v2.3h-3.0zM1029.5 2094.8h3.8v2.1h-3.8zM1000.8 2077.5h4.1v2.2h-4.1zM1023.6 2120.7h1.8v3.7h-1.8zM1004.5 2061.2h3.6v2.1h-3.6zM1071.3 2116.7h4.0v2.5h-4.0zM979.2 2098.8h3.6v4.1h-3.6zM990.0 2038.4h2.8v3.8h-2.8zM990.2 2096.2h2.0v4.2h-2.0zM1020.9 2051.9h3.6v4.1h-3.6zM981.4 2090.0h2.3v3.8h-2.3zM926.3 2081.8h4.1v2.8h-4.1zM1034.7 2136.4h4.1v2.6h-4.1zM1152.2 2040.9h4.1v3.9h-4.1zM956.9 2065.0h2.1v2.2h-2.1zM994.8 2085.5h1.5v2.4h-1.5zM1062.2 2120.1h2.6v4.2h-2.6zM994.9 2045.9h3.4v3.1h-3.4zM1091.0 2084.3h2.2v2.0h-2.2zM959.1 2070.9h2.1v3.6h-2.1zM973.9 2097.4h2.5v3.2h-2.5zM1020.3 2100.5h2.2v3.1h-2.2zM1003.2 2067.1h3.5v3.8h-3.5zM1042.5 2069.9h3.1v2.0h-3.1zM953.4 2020.7h3.8v2.9h-3.8zM966.3 2049.6h1.8v2.6h-1.8zM1027.1 2119.0h2.1v2.5h-2.1zM1050.5 2084.2h3.8v1.8h-3.8zM917.2 2044.8h4.0v3.2h-4.0zM1087.3 2107.3h3.8v3.8h-3.8zM1039.5 2031.1h3.5v2.7h-3.5zM1038.0 2086.5h2.8v2.9h-2.8zM1056.6 2082.7h2.7v3.6h-2.7zM983.3 2093.6h2.0v2.8h-2.0zM1040.3 2113.6h2.7v2.0h-2.7zM987.4 2106.8h2.4v4.1h-2.4zM1059.3 2078.1h3.4v2.2h-3.4zM1034.9 2126.2h4.0v2.2h-4.0zM967.4 2101.2h1.9v2.1h-1.9zM946.9 2056.4h2.2v2.8h-2.2zM986.3 2096.3h3.6v3.1h-3.6zM946.2 2067.2h4.1v4.1h-4.1zM1079.6 2053.2h2.7v2.9h-2.7zM1080.6 2145.8h2.0v1.7h-2.0zM989.9 2055.5h3.5v2.3h-3.5zM1011.2 2032.4h1.9v2.9h-1.9zM1003.7 2067.8h1.9v2.5h-1.9zM963.8 2041.7h2.6v3.3h-2.6zM999.9 2094.8h2.8v4.0h-2.8zM985.8 2071.8h2.1v2.9h-2.1zM1083.4 2084.0h2.9v2.1h-2.9zM933.4 2105.6h4.2v2.5h-4.2zM964.3 2021.3h3.5v2.3h-3.5zM1000.9 2098.7h2.8v2.1h-2.8zM1118.5 2115.5h2.5v2.8h-2.5zM952.3 2128.8h3.3v3.8h-3.3zM1000.9 2121.5h2.7v2.2h-2.7zM992.9 2055.4h4.1v1.9h-4.1zM1034.1 2046.3h1.9v3.6h-1.9zM1084.9 2119.0h2.1v2.2h-2.1zM1025.6 2078.1h3.8v3.6h-3.8zM985.2 2097.1h2.6v2.5h-2.6zM944.8 2049.7h3.4v3.6h-3.4zM958.0 2080.9h3.0v1.9h-3.0zM1018.2 2077.4h3.6v1.9h-3.6zM1065.9 2118.7h3.3v2.7h-3.3zM1067.4 2137.4h2.1v1.8h-2.1zM1008.3 2048.4h4.1v3.9h-4.1zM914.1 2065.5h1.9v3.3h-1.9zM984.3 2082.5h3.4v4.0h-3.4zM918.8 2031.6h2.5v2.5h-2.5zM996.3 2022.9h1.5v2.1h-1.5zM986.7 2031.9h1.9v2.5h-1.9zM1031.9 2070.0h1.5v1.7h-1.5zM1075.0 2079.3h1.9v1.8h-1.9zM1082.7 2053.2h3.2v4.1h-3.2zM925.5 2033.9h2.6v1.5h-2.6zM1059.6 2064.6h1.6v3.7h-1.6zM1029.4 2094.2h3.7v3.3h-3.7zM1111.6 2073.9h2.4v2.5h-2.4zM1044.4 2127.3h3.8v2.7h-3.8zM975.3 2033.1h3.3v3.0h-3.3zM956.0 2085.0h3.8v2.2h-3.8zM1108.7 2139.0h2.0v2.0h-2.0zM947.7 2133.3h3.0v3.7h-3.0zM1000.3 2012.7h1.5v1.8h-1.5zM959.7 2016.1h3.6v2.5h-3.6zM1022.5 2046.7h3.4v1.7h-3.4zM1018.8 2048.4h1.9v3.1h-1.9zM938.6 2041.9h2.1v3.8h-2.1zM999.8 2062.8h4.1v2.2h-4.1zM1067.4 2109.9h3.1v1.8h-3.1zM1008.5 2100.5h3.8v2.0h-3.8zM1006.0 2076.2h2.5v1.7h-2.5zM945.4 2063.3h2.1v2.5h-2.1zM929.9 2034.5h4.0v1.8h-4.0zM1055.1 2062.7h1.9v2.4h-1.9zM989.4 2127.2h1.5v2.1h-1.5zM970.0 2055.2h3.8v1.7h-3.8zM1081.6 2068.9h3.8v2.8h-3.8zM1092.8 2112.4h2.5v3.0h-2.5zM1009.4 2054.6h2.1v2.4h-2.1zM1044.4 2134.5h3.3v2.4h-3.3zM1016.7 2020.2h2.3v3.5h-2.3zM1017.1 2018.4h3.7v1.6h-3.7zM952.9 2074.5h2.7v4.1h-2.7zM953.7 2074.6h2.3v3.2h-2.3zM1053.3 2038.0h1.6v2.4h-1.6zM1048.8 2082.8h2.1v2.1h-2.1zM1022.9 2090.7h4.0v1.6h-4.0zM1047.4 2023.9h3.7v1.9h-3.7zM1133.2 2047.7h3.7v4.0h-3.7zM954.2 2107.6h2.7v1.6h-2.7zM981.6 2058.5h3.9v3.5h-3.9zM1046.4 2069.7h3.1v3.6h-3.1zM1040.1 2085.6h4.1v2.7h-4.1zM1067.7 2069.9h3.9v4.0h-3.9zM1002.5 2011.0h3.8v3.0h-3.8zM953.1 2104.5h4.0v3.8h-4.0zM972.9 2045.3h3.5v1.9h-3.5zM1046.0 2120.0h2.2v3.6h-2.2zM1008.0 2044.3h4.2v2.1h-4.2zM922.4 2066.4h1.6v2.8h-1.6zM1037.9 2068.3h2.2v2.4h-2.2zM1003.9 2080.8h3.1v3.4h-3.1zM1116.0 2116.4h3.2v3.4h-3.2zM1029.0 2046.2h3.0v3.9h-3.0zM991.8 2059.3h1.6v3.8h-1.6zM997.7 2034.2h3.0v2.7h-3.0zM1075.1 2106.1h1.7v2.1h-1.7zM949.1 2060.1h3.2v3.7h-3.2zM940.0 2065.1h3.0v3.4h-3.0zM1003.8 2097.8h3.8v2.5h-3.8zM958.3 2061.7h2.8v2.7h-2.8zM1045.7 2053.8h2.4v1.7h-2.4zM1085.5 2118.1h2.8v3.3h-2.8zM1075.4 2085.0h3.8v2.7h-3.8zM1015.5 2122.4h2.6v1.9h-2.6zM1082.7 2031.5h2.1v3.4h-2.1zM1004.6 2039.2h2.6v3.9h-2.6zM1043.5 2087.9h2.9v2.1h-2.9zM1081.2 2016.3h2.6v2.8h-2.6zM1082.6 2082.4h3.2v2.7h-3.2zM974.8 2037.7h3.6v1.8h-3.6zM1071.9 2063.6h4.1v2.8h-4.1zM1019.6 2043.1h4.1v1.9h-4.1zM977.9 2137.4h1.9v1.9h-1.9zM1057.4 2026.8h3.4v2.2h-3.4zM996.3 2115.4h4.0v1.8h-4.0zM991.1 2069.9h4.1v1.7h-4.1zM1058.8 2044.5h2.0v2.7h-2.0zM1025.5 2042.7h1.6v3.6h-1.6zM986.0 2074.1h1.5v3.0h-1.5zM974.1 2045.3h3.7v3.3h-3.7zM974.8 2042.6h4.1v3.8h-4.1zM961.2 2058.3h3.6v3.4h-3.6zM1034.8 2128.2h1.7v3.1h-1.7zM979.1 2006.6h3.6v2.6h-3.6zM978.7 2053.6h2.9v2.1h-2.9zM1005.2 2054.5h1.7v3.8h-1.7zM995.8 2080.3h1.7v3.5h-1.7zM1057.4 2072.3h3.4v3.9h-3.4zM1051.9 2108.0h3.9v3.7h-3.9zM999.7 2100.5h2.2v3.1h-2.2zM945.3 2121.5h3.5v1.6h-3.5zM945.9 2032.0h3.4v2.7h-3.4zM1049.1 2057.6h2.5v1.6h-2.5zM1068.1 2089.3h3.1v3.0h-3.1zM1026.6 2066.3h2.5v2.5h-2.5zM1065.4 2060.9h1.7v3.3h-1.7zM1005.0 2085.2h4.1v2.2h-4.1zM1066.7 2128.5h2.4v2.8h-2.4zM1037.3 2028.4h4.0v4.0h-4.0zM1036.4 2062.0h3.4v1.7h-3.4zM1003.3 2099.6h3.6v1.5h-3.6zM1030.8 2134.3h1.6v3.4h-1.6zM1051.9 2136.4h3.0v3.7h-3.0zM1024.9 2112.3h4.0v2.3h-4.0zM1023.5 2009.3h1.9v4.1h-1.9zM983.5 2049.9h3.8v2.4h-3.8zM1068.8 2084.3h2.3v2.4h-2.3zM924.3 2067.3h4.1v2.5h-4.1zM997.5 2095.3h3.7v2.0h-3.7zM987.4 2069.4h3.4v3.3h-3.4zM1000.9 2051.1h2.6v2.0h-2.6zM1084.2 2077.7h3.8v3.9h-3.8zM1100.6 2102.0h2.3v1.6h-2.3zM1018.3 2000.3h1.8v3.9h-1.8zM1028.3 2067.0h2.3v3.0h-2.3zM982.3 2047.8h2.4v1.5h-2.4zM1003.7 2046.0h2.3v3.6h-2.3zM983.3 2073.5h1.9v2.5h-1.9zM933.0 2076.8h2.7v1.6h-2.7zM935.8 2095.2h3.8v2.9h-3.8zM1018.1 2066.1h2.1v3.4h-2.1zM1020.9 2051.1h1.8v2.2h-1.8zM1046.9 2085.3h3.0v2.1h-3.0zM945.6 2072.4h3.1v1.6h-3.1zM1000.6 2116.1h3.3v3.1h-3.3zM1015.0 2089.8h1.8v2.3h-1.8zM1021.9 2072.8h2.2v3.5h-2.2zM973.0 2077.1h2.1v2.5h-2.1zM1031.0 2033.1h4.0v3.7h-4.0zM1009.1 2069.3h3.7v4.0h-3.7zM1001.6 2083.0h2.6v2.0h-2.6zM1095.8 2135.0h3.9v1.8h-3.9zM975.9 2102.2h2.3v2.9h-2.3zM995.8 2056.4h1.6v2.4h-1.6zM1021.9 2068.9h4.0v3.7h-4.0zM1001.0 2067.7h2.5v2.2h-2.5zM979.6 2072.1h3.2v2.4h-3.2zM985.9 2093.1h3.9v2.7h-3.9zM1006.5 2047.7h1.6v3.6h-1.6zM981.2 2032.1h4.0v2.5h-4.0zM943.3 2095.6h2.7v3.7h-2.7zM969.8 2058.2h3.8v4.0h-3.8zM997.8 2045.4h2.2v1.7h-2.2zM956.2 2046.8h1.6v2.9h-1.6zM967.7 2100.0h3.2v3.3h-3.2zM954.1 2045.4h3.9v2.5h-3.9zM1040.8 2088.7h3.2v2.0h-3.2zM1107.1 2073.9h3.4v3.4h-3.4zM986.4 2059.5h3.3v2.5h-3.3zM993.7 2087.3h2.3v3.7h-2.3zM1072.8 2091.6h2.3v2.7h-2.3zM969.8 2059.1h2.3v3.9h-2.3zM1005.7 2027.9h1.8v1.5h-1.8zM957.1 2058.7h2.3v3.7h-2.3zM982.7 2021.6h2.6v3.7h-2.6zM961.6 2110.8h1.9v4.2h-1.9zM962.4 2112.4h4.0v2.2h-4.0zM975.3 2030.6h2.3v3.6h-2.3zM1000.4 2027.3h3.2v3.2h-3.2zM1061.7 2118.5h3.9v2.2h-3.9zM955.0 2039.1h2.1v4.0h-2.1zM1088.0 2065.9h2.4v4.0h-2.4zM992.2 2098.5h3.4v1.8h-3.4zM1044.4 2030.4h3.1v4.0h-3.1zM1040.4 2059.2h2.4v2.5h-2.4zM1045.8 2054.6h3.4v1.7h-3.4zM1003.4 2069.1h2.3v3.5h-2.3zM1059.4 2059.8h3.3v2.2h-3.3zM985.8 2050.8h1.6v4.0h-1.6zM1047.4 2053.5h2.4v4.2h-2.4zM981.2 2079.8h2.8v2.1h-2.8zM988.9 2112.4h3.5v1.8h-3.5zM928.1 2079.5h4.0v1.8h-4.0zM1031.6 2068.4h3.5v2.4h-3.5zM1009.9 2075.4h2.7v2.1h-2.7zM1035.2 2029.0h1.9v1.7h-1.9zM1024.7 2058.2h2.2v3.5h-2.2zM940.3 2058.9h2.1v2.4h-2.1zM948.3 2004.9h3.9v3.6h-3.9zM1071.0 2090.6h4.1v3.9h-4.1zM1001.9 2094.5h2.0v3.5h-2.0zM1038.1 2100.3h2.5v3.2h-2.5zM1116.3 2092.5h3.9v3.7h-3.9zM1048.4 2059.9h2.3v3.9h-2.3zM1022.5 2100.1h1.8v2.3h-1.8zM1024.3 2073.7h3.3v3.4h-3.3zM1003.6 2027.9h3.8v1.7h-3.8zM968.8 2041.2h2.4v2.2h-2.4zM1034.9 2042.0h2.7v2.1h-2.7zM991.2 2092.6h3.2v3.0h-3.2zM949.3 2032.7h1.7v2.4h-1.7zM983.8 2033.7h1.9v2.0h-1.9zM912.7 2035.5h3.7v2.6h-3.7zM1045.8 2052.8h2.5v3.7h-2.5zM956.8 2064.0h1.9v2.4h-1.9zM948.0 2074.2h2.4v3.2h-2.4zM994.7 2008.9h2.9v2.5h-2.9zM1075.8 2066.5h3.6v3.0h-3.6zM940.3 2087.8h3.8v3.0h-3.8zM968.9 2108.9h3.3v3.6h-3.3zM1036.5 2093.1h1.9v2.5h-1.9zM964.8 2095.0h1.9v3.6h-1.9zM1111.4 2116.0h3.1v3.5h-3.1zM1017.8 2083.0h3.1v1.6h-3.1zM992.0 2107.1h4.1v1.7h-4.1zM1092.0 2033.2h2.8v3.5h-2.8zM969.2 2067.6h3.3v1.9h-3.3zM1021.9 2119.2h2.4v2.4h-2.4zM937.4 2049.7h2.3v2.7h-2.3zM988.3 2054.0h2.1v4.0h-2.1zM941.2 2046.4h1.5v3.6h-1.5zM1054.6 2125.5h2.5v3.3h-2.5zM987.9 2069.8h4.1v3.7h-4.1zM938.0 2071.8h1.5v3.1h-1.5zM1024.7 2075.6h3.2v1.9h-3.2zM977.8 2047.3h4.0v1.9h-4.0zM1063.2 2083.5h3.5v3.9h-3.5zM1044.8 2122.6h1.9v3.3h-1.9zM1046.2 2049.1h2.6v2.1h-2.6zM968.9 2020.2h2.4v3.7h-2.4zM1045.7 2048.3h3.3v2.6h-3.3zM1094.8 2071.7h1.8v3.0h-1.8zM1054.3 2088.4h3.1v1.7h-3.1zM942.2 2050.0h3.8v1.9h-3.8zM950.9 2112.4h2.4v3.9h-2.4zM917.0 2036.9h2.1v2.2h-2.1zM1028.6 2091.6h3.0v3.6h-3.0zM1037.2 2102.3h2.5v3.4h-2.5zM1018.4 2084.3h3.3v2.3h-3.3zM968.0 2075.4h3.1v1.6h-3.1zM922.8 2060.0h1.8v1.9h-1.8zM1075.1 2093.1h3.6v2.0h-3.6zM1076.0 2111.8h2.9v3.5h-2.9zM956.6 2076.4h2.0v4.1h-2.0zM1067.1 2094.9h1.5v2.0h-1.5zM1051.7 2051.7h1.7v2.9h-1.7zM917.7 2042.8h2.7v3.1h-2.7zM1015.6 2030.9h1.8v2.6h-1.8zM1014.3 2048.4h3.2v2.3h-3.2zM1034.8 2029.9h2.9v2.8h-2.9zM1048.5 2084.7h3.6v3.9h-3.6zM1059.4 2134.5h4.1v3.3h-4.1zM1122.9 2092.8h2.2v2.7h-2.2zM1087.8 2066.3h4.1v2.2h-4.1zM1061.4 2097.6h2.8v4.2h-2.8zM968.2 2028.2h1.9v2.1h-1.9zM1033.2 2055.0h4.2v3.8h-4.2zM956.8 2084.4h3.0v2.8h-3.0zM1016.9 2031.9h1.6v4.2h-1.6zM1042.1 2029.2h3.5v2.0h-3.5zM925.6 2034.4h1.8v3.2h-1.8z" fill="#14e84a" opacity="0.85" filter="url(#b1)"/>
<path d="M1002.8 2070.2h2.0v1.6h-2.0zM1066.0 2026.1h1.2v1.1h-1.2zM918.6 2079.8h2.0v2.3h-2.0zM1053.2 2134.4h2.0v1.4h-2.0zM1004.8 2059.6h2.1v1.6h-2.1zM1009.3 2071.6h2.0v2.2h-2.0zM964.6 2082.0h1.7v1.6h-1.7zM997.0 2055.0h2.2v2.0h-2.2zM1072.0 2043.4h1.9v1.6h-1.9zM1020.3 2068.4h2.2v1.3h-2.2zM1004.4 2041.1h1.6v1.6h-1.6zM1002.2 2075.2h1.2v2.0h-1.2zM959.6 2085.6h1.6v1.9h-1.6zM995.1 2055.1h1.5v2.1h-1.5zM967.3 2078.4h1.1v1.1h-1.1zM1003.2 2067.6h2.0v1.4h-2.0zM1018.1 2106.0h1.3v1.1h-1.3zM1106.6 2131.0h1.6v2.1h-1.6zM958.2 2068.8h1.5v2.4h-1.5zM1016.5 2072.3h2.1v1.6h-2.1zM1032.4 2112.0h1.7v2.3h-1.7zM947.1 2068.2h2.2v2.0h-2.2zM1012.1 2085.1h1.4v1.1h-1.4zM990.0 2053.7h1.0v1.9h-1.0zM919.3 2070.2h2.1v1.9h-2.1zM1001.6 2080.8h1.7v1.7h-1.7zM1098.9 2072.2h1.2v1.4h-1.2zM971.9 2117.6h1.2v1.6h-1.2zM1080.4 2028.5h2.4v2.4h-2.4zM967.3 2068.5h2.2v1.1h-2.2zM974.5 2035.7h2.1v2.3h-2.1zM961.6 2076.8h2.0v1.5h-2.0zM1018.0 2068.5h1.7v1.4h-1.7zM973.8 2043.1h1.9v1.3h-1.9zM962.7 2044.0h1.5v1.6h-1.5zM1040.3 2090.4h2.1v2.2h-2.1zM1001.2 2041.8h2.3v1.6h-2.3zM1054.0 2074.5h2.0v2.4h-2.0zM1037.3 2055.6h1.3v1.5h-1.3zM1029.3 2095.5h1.4v2.0h-1.4zM1025.8 2069.4h2.0v2.0h-2.0zM912.9 2087.8h1.5v2.1h-1.5zM1010.7 2069.3h1.8v1.7h-1.8zM975.8 2046.9h2.2v1.3h-2.2zM944.6 2050.6h1.6v1.3h-1.6zM1021.8 2081.7h1.7v2.1h-1.7zM1080.5 2118.8h1.9v2.0h-1.9zM1057.6 2124.4h1.1v2.1h-1.1zM1030.4 2105.1h2.1v1.0h-2.1zM1001.7 2052.9h1.5v1.2h-1.5zM995.5 2067.6h1.0v1.2h-1.0zM928.8 2077.6h2.0v1.2h-2.0zM1061.3 2078.3h2.2v2.3h-2.2zM1018.3 2036.6h1.6v1.9h-1.6zM1013.2 2122.3h2.2v2.0h-2.2zM928.1 2070.7h1.3v2.1h-1.3zM1039.1 2111.0h1.8v1.5h-1.8zM994.9 2034.1h2.0v2.3h-2.0zM1079.9 2095.5h2.3v2.3h-2.3zM991.5 2114.5h1.2v1.4h-1.2zM1003.8 2052.2h1.2v1.5h-1.2zM1016.4 2086.2h1.9v1.0h-1.9zM1031.1 2062.9h1.8v1.3h-1.8zM990.2 2080.7h1.6v2.2h-1.6zM1091.4 2036.7h1.3v2.1h-1.3zM977.4 2099.4h1.5v1.3h-1.5zM948.5 2091.7h2.0v1.1h-2.0zM1063.0 2106.1h1.3v2.3h-1.3zM950.2 2012.1h1.1v1.2h-1.1zM1113.6 2107.2h2.4v1.6h-2.4zM1140.8 2043.7h1.6v2.1h-1.6zM1034.2 2033.0h1.3v1.5h-1.3zM1053.6 2076.2h1.5v1.6h-1.5zM926.7 2081.1h1.5v1.8h-1.5zM1024.4 2111.7h1.7v1.7h-1.7zM996.5 2035.4h1.2v2.2h-1.2zM1007.3 2118.8h2.1v1.5h-2.1zM931.7 2091.2h2.0v1.5h-2.0zM995.9 2017.1h2.0v1.2h-2.0zM958.7 2071.0h1.9v1.9h-1.9zM956.2 2069.1h1.4v2.3h-1.4zM999.6 2087.3h2.0v1.4h-2.0zM946.7 2062.1h1.1v1.1h-1.1zM1027.7 2126.4h1.7v1.7h-1.7zM940.1 2028.8h2.4v1.7h-2.4zM1011.4 2077.5h1.9v1.4h-1.9zM1098.3 2056.6h2.2v2.3h-2.2zM947.6 2107.5h2.2v1.9h-2.2zM1016.0 2092.1h1.2v1.0h-1.2zM952.5 2097.9h2.1v2.1h-2.1zM1033.7 2108.0h2.0v2.3h-2.0zM1028.4 2076.6h1.8v1.6h-1.8zM1108.6 2045.6h1.3v2.3h-1.3zM952.8 2068.1h1.6v1.3h-1.6zM918.5 2062.5h1.2v1.1h-1.2zM983.0 2067.4h1.9v1.9h-1.9zM1067.6 2084.0h1.3v1.4h-1.3zM1007.8 2044.4h1.1v1.8h-1.1zM1010.5 2071.5h2.1v1.5h-2.1zM965.5 2046.9h1.4v1.2h-1.4zM1005.9 2063.7h1.9v1.2h-1.9zM950.7 2102.5h1.5v1.9h-1.5zM962.9 2089.5h2.1v1.4h-2.1zM973.9 2114.8h2.4v1.0h-2.4zM1040.2 2038.3h1.9v1.1h-1.9zM953.2 2024.0h1.2v1.2h-1.2zM1068.4 2097.1h2.3v1.5h-2.3zM999.6 2093.7h1.5v2.0h-1.5zM968.2 2079.0h2.1v1.8h-2.1zM1097.3 2042.4h1.6v2.2h-1.6zM941.5 2033.0h1.9v1.6h-1.9zM1038.9 2082.6h1.1v1.2h-1.1zM1004.5 2043.5h1.7v1.0h-1.7zM1031.0 2103.4h1.6v1.7h-1.6zM1080.3 2088.0h2.2v1.3h-2.2zM1056.7 2090.9h1.3v1.7h-1.3zM1040.7 2061.6h1.9v1.8h-1.9zM980.8 2053.7h1.4v1.0h-1.4zM1057.4 2031.6h1.3v2.1h-1.3zM1018.3 2102.4h1.4v1.5h-1.4zM978.9 2039.5h1.4v1.1h-1.4zM970.2 2101.9h2.3v1.4h-2.3zM980.4 2062.0h1.4v2.1h-1.4zM984.5 2083.6h1.4v1.3h-1.4zM1016.0 2063.9h1.2v2.1h-1.2zM1084.6 2074.9h1.6v1.2h-1.6zM1055.1 2065.7h2.1v2.2h-2.1zM986.6 2017.6h1.5v1.9h-1.5zM1049.0 2054.8h1.9v2.3h-1.9zM975.8 2103.0h2.3v2.0h-2.3zM1024.6 2050.7h1.7v2.4h-1.7zM986.8 2046.5h2.3v2.1h-2.3zM958.5 2027.5h1.3v1.5h-1.3zM1013.2 2087.3h2.1v1.8h-2.1zM1027.2 2052.9h1.6v1.2h-1.6zM1050.2 2099.4h1.4v1.3h-1.4zM1034.7 2039.0h2.2v1.7h-2.2zM1087.6 2109.2h1.9v2.2h-1.9zM1089.4 2114.6h2.0v2.0h-2.0zM957.7 2046.8h2.3v1.8h-2.3zM961.3 2043.1h1.9v1.8h-1.9zM987.3 2058.9h1.0v2.1h-1.0zM1130.8 2056.3h1.8v2.1h-1.8zM1080.5 2035.1h2.2v1.7h-2.2zM989.8 2095.4h1.3v2.0h-1.3zM947.9 2042.2h1.4v2.2h-1.4zM971.7 2078.1h1.0v2.2h-1.0zM988.7 2062.0h1.4v2.3h-1.4zM1055.0 2035.0h1.4v1.0h-1.4zM983.9 2018.0h1.2v1.9h-1.2zM970.4 2068.8h1.7v2.1h-1.7zM951.0 2131.8h2.3v1.5h-2.3zM1068.2 2064.3h2.1v2.0h-2.1zM1068.7 2090.0h1.6v1.6h-1.6zM988.5 2032.1h1.8v1.8h-1.8zM979.3 2084.0h2.0v1.7h-2.0zM1059.5 2081.3h1.5v1.9h-1.5zM924.1 2037.7h1.4v1.7h-1.4zM996.5 2070.3h1.8v2.1h-1.8zM1002.4 2060.1h1.5v1.2h-1.5zM993.7 2064.8h1.4v2.2h-1.4zM995.3 2054.3h1.2v1.2h-1.2zM995.5 2042.8h1.1v1.7h-1.1zM1093.9 2076.7h1.7v1.1h-1.7zM917.6 2083.4h1.9v2.0h-1.9zM943.6 2024.8h1.0v1.9h-1.0zM1061.4 2088.4h2.3v2.1h-2.3zM951.9 2009.7h1.2v2.1h-1.2zM971.4 2049.5h2.3v1.2h-2.3zM986.3 2096.6h1.6v1.9h-1.6zM997.4 2043.5h2.0v1.3h-2.0zM1033.2 2081.6h2.0v1.7h-2.0zM956.0 2058.2h2.3v1.9h-2.3zM960.7 2085.0h2.2v1.4h-2.2zM1051.2 2065.5h1.4v1.8h-1.4zM928.0 2080.6h1.2v2.3h-1.2zM1002.1 2100.8h1.9v2.3h-1.9zM1051.2 2072.2h1.4v1.9h-1.4zM953.1 2039.0h2.4v2.1h-2.4zM1044.7 2068.1h1.0v1.2h-1.0zM998.2 2066.1h2.4v1.1h-2.4zM978.3 2036.1h1.2v2.2h-1.2zM992.7 2077.7h1.5v1.3h-1.5zM975.0 2019.0h1.2v1.0h-1.2zM1024.0 2063.9h2.4v1.8h-2.4zM1037.9 2085.8h1.4v2.3h-1.4zM1136.3 2133.9h2.1v1.2h-2.1zM985.4 2059.6h1.2v1.2h-1.2zM1016.4 2062.1h1.7v1.1h-1.7zM1000.3 2076.2h2.3v1.2h-2.3zM977.8 2042.3h2.3v2.4h-2.3zM1035.2 2048.4h1.9v1.7h-1.9zM926.1 2103.4h1.1v1.7h-1.1zM950.8 2013.7h1.3v1.8h-1.3zM1036.0 2043.2h1.5v1.2h-1.5zM973.4 2053.0h2.2v2.2h-2.2zM919.5 2053.0h1.8v1.7h-1.8zM979.4 2090.9h1.3v2.1h-1.3zM1024.5 2085.1h1.8v2.1h-1.8zM965.6 2046.1h1.7v1.1h-1.7zM998.9 2031.3h2.2v1.5h-2.2zM1026.0 2058.0h1.1v1.5h-1.1zM1011.6 2055.6h1.7v1.3h-1.7zM934.5 2090.5h2.1v1.4h-2.1zM953.6 2083.3h1.8v1.2h-1.8zM1017.6 2109.2h2.0v2.1h-2.0zM949.1 2072.7h2.3v2.3h-2.3zM993.8 2068.8h1.4v1.1h-1.4zM929.5 2083.3h1.0v2.1h-1.0zM1000.9 2070.2h2.2v1.6h-2.2zM1010.6 2050.9h1.2v1.8h-1.2zM925.3 2063.3h1.1v2.3h-1.1zM967.4 2101.2h1.5v1.1h-1.5zM998.0 2083.5h2.0v1.1h-2.0zM942.2 2052.6h1.7v2.3h-1.7zM1040.0 2016.0h1.1v1.2h-1.1zM1097.7 2090.3h1.6v2.1h-1.6zM1045.4 2070.4h1.4v1.5h-1.4zM1004.3 2071.1h1.2v1.3h-1.2zM987.4 2062.8h1.1v1.5h-1.1zM984.4 2094.2h2.0v2.3h-2.0zM1014.5 2112.3h2.4v1.1h-2.4zM971.1 2115.0h2.2v1.3h-2.2zM1055.0 2094.5h1.2v1.0h-1.2zM1028.1 2086.2h1.6v1.6h-1.6zM956.0 2018.4h1.1v1.9h-1.1zM1052.2 2061.2h2.3v1.1h-2.3zM1020.5 2077.8h2.1v1.5h-2.1zM1028.0 2066.1h1.6v2.1h-1.6zM991.2 2050.9h1.0v2.0h-1.0zM942.6 2074.0h2.2v2.2h-2.2zM981.8 2055.8h2.3v1.1h-2.3zM946.1 2134.3h1.7v1.3h-1.7zM1115.1 2138.0h1.1v1.5h-1.1zM1067.3 2154.0h2.0v1.7h-2.0zM991.7 2089.7h2.1v1.7h-2.1zM1045.5 2042.8h2.3v1.8h-2.3zM1069.6 2055.4h2.2v2.0h-2.2zM983.9 2047.2h1.5v2.0h-1.5zM1009.8 2116.3h2.2v1.2h-2.2zM913.0 2033.9h1.1v2.3h-1.1zM1016.0 2103.9h1.3v1.6h-1.3zM1010.5 2082.3h1.8v1.2h-1.8zM996.3 2117.0h1.9v2.3h-1.9zM1090.8 2066.2h1.0v2.2h-1.0zM1015.9 2080.4h2.0v1.3h-2.0zM1128.2 2035.1h1.5v1.4h-1.5zM1066.0 2049.4h1.1v1.0h-1.1zM927.8 2078.1h1.8v1.6h-1.8zM951.5 2054.5h2.1v2.1h-2.1zM1026.2 2074.2h1.5v1.1h-1.5zM1053.8 2046.6h1.3v2.1h-1.3zM1065.2 2062.3h2.0v2.3h-2.0zM933.2 2028.0h2.2v1.6h-2.2zM964.5 2065.7h1.5v1.6h-1.5zM1072.6 2050.3h1.1v1.8h-1.1zM966.8 2067.2h1.8v1.5h-1.8zM1021.9 2113.3h1.5v1.2h-1.5zM971.9 2052.0h1.8v2.0h-1.8zM992.6 2063.4h1.9v1.9h-1.9zM963.9 2104.2h1.8v2.4h-1.8zM1011.7 2098.3h1.5v2.0h-1.5zM1056.2 2102.0h2.2v1.1h-2.2zM978.7 2055.4h1.8v1.3h-1.8zM1055.0 2104.5h2.0v1.1h-2.0zM1023.1 2067.1h2.2v1.1h-2.2zM970.1 2066.6h1.1v1.4h-1.1zM959.1 2051.1h1.6v1.3h-1.6zM966.5 2064.9h1.0v1.3h-1.0zM1010.8 2077.3h1.5v1.2h-1.5zM959.4 2096.9h1.2v2.1h-1.2zM1087.5 2065.4h1.8v1.5h-1.8zM992.2 2080.0h1.6v2.0h-1.6zM925.3 2020.4h2.4v1.3h-2.4zM994.4 2058.5h1.3v2.0h-1.3zM1045.8 2021.4h1.2v2.2h-1.2zM986.2 2085.2h1.5v1.9h-1.5zM946.9 2090.5h1.8v1.6h-1.8zM1063.9 2049.2h2.1v1.5h-2.1zM970.5 2034.8h2.2v1.9h-2.2zM1091.8 2085.5h1.6v1.7h-1.6zM963.3 2065.3h1.7v1.6h-1.7zM925.8 2076.0h2.0v2.3h-2.0zM930.9 2041.5h1.6v2.1h-1.6zM1025.1 2036.3h2.2v1.1h-2.2zM952.7 2041.2h1.0v2.2h-1.0zM916.4 2086.9h2.1v2.3h-2.1zM995.6 2079.1h1.5v1.5h-1.5zM1022.1 2069.4h1.8v1.6h-1.8zM1018.6 2007.7h1.0v2.0h-1.0zM983.0 2058.8h2.1v1.6h-2.1zM993.4 2072.7h1.0v1.7h-1.0zM988.1 2014.1h2.2v1.3h-2.2zM959.9 2041.4h2.0v1.5h-2.0zM1034.1 2065.7h1.6v2.2h-1.6zM1004.5 2040.7h2.4v1.5h-2.4zM1069.9 2077.3h2.2v1.9h-2.2zM1056.3 2127.7h1.5v1.4h-1.5zM1023.6 2114.4h2.3v2.3h-2.3zM988.0 2066.5h1.6v2.2h-1.6zM989.1 2028.7h2.3v2.0h-2.3zM928.4 2059.0h1.2v1.4h-1.2zM997.6 2022.3h2.1v1.9h-2.1zM946.0 2021.3h1.1v2.3h-1.1zM971.4 2035.6h1.6v1.4h-1.6zM987.1 2072.4h1.0v1.5h-1.0zM993.6 2037.0h1.4v1.0h-1.4zM1043.2 2057.3h1.8v1.7h-1.8zM933.9 2052.0h1.9v1.4h-1.9zM1107.1 2011.7h1.1v1.6h-1.1zM1063.9 2097.3h1.3v1.4h-1.3zM1061.1 2086.5h1.9v1.9h-1.9zM1062.6 2064.7h2.1v2.2h-2.1zM970.5 2084.8h2.2v1.8h-2.2zM1104.1 2133.4h1.8v1.3h-1.8zM1053.8 2044.0h1.7v2.2h-1.7zM1049.7 2131.5h1.9v2.4h-1.9zM1060.4 2079.7h2.1v1.8h-2.1zM1008.3 2033.1h1.7v2.2h-1.7zM914.6 2039.4h1.7v1.5h-1.7zM1057.2 2036.1h2.0v1.4h-2.0zM984.2 2080.8h1.4v1.2h-1.4zM988.2 2066.0h1.7v1.2h-1.7zM958.4 2070.5h2.2v1.7h-2.2zM1011.9 2064.9h2.2v1.3h-2.2zM1034.2 2072.5h1.5v2.2h-1.5zM1052.9 2089.8h1.8v1.9h-1.8zM1156.8 2062.8h2.0v1.5h-2.0zM1035.6 2158.4h1.5v1.5h-1.5zM1030.6 2082.5h2.1v1.5h-2.1zM981.9 2122.7h1.9v1.3h-1.9zM918.0 2042.3h1.5v2.2h-1.5zM940.9 2028.9h2.4v1.4h-2.4zM1031.7 2047.7h1.0v1.7h-1.0zM944.5 2074.3h2.4v2.0h-2.4zM1042.5 2111.7h1.8v1.6h-1.8zM1083.8 2122.4h1.0v1.7h-1.0zM950.0 2016.6h1.4v1.2h-1.4zM1038.1 2098.7h2.1v1.3h-2.1zM1037.5 2048.6h2.1v1.4h-2.1zM1044.1 2101.6h1.5v1.8h-1.5zM1000.3 2084.3h1.7v1.6h-1.7zM1068.0 2054.1h2.0v1.7h-2.0zM999.3 2062.1h1.4v2.2h-1.4zM987.4 2092.5h1.9v2.2h-1.9zM954.0 2088.2h1.3v2.1h-1.3zM974.1 2044.0h1.7v1.4h-1.7zM1040.2 2046.7h1.5v2.3h-1.5zM1016.2 2054.3h1.3v2.2h-1.3zM1028.3 2089.0h1.4v2.2h-1.4zM1084.6 2100.4h1.0v1.1h-1.0zM1008.9 2040.0h1.8v1.3h-1.8zM1023.7 2084.2h2.0v2.2h-2.0zM990.7 2046.8h2.4v1.8h-2.4zM915.0 2031.1h1.3v1.9h-1.3zM1094.5 2062.5h1.6v1.4h-1.6zM1055.6 2130.2h1.9v1.3h-1.9zM969.8 2129.8h1.4v2.1h-1.4zM1004.3 2038.3h2.3v2.4h-2.3zM1135.9 2098.2h1.5v1.3h-1.5zM976.7 2078.2h1.6v2.3h-1.6zM1001.2 2083.3h2.0v1.3h-2.0zM964.3 2064.6h1.4v2.1h-1.4zM972.3 2089.6h2.2v1.4h-2.2zM925.1 2092.0h1.8v1.2h-1.8zM1135.5 2078.0h1.2v1.8h-1.2zM964.5 2035.8h1.8v1.6h-1.8zM1028.4 2068.6h1.1v1.6h-1.1zM1065.3 2087.9h1.9v1.0h-1.9zM965.4 2082.7h1.9v1.0h-1.9zM1078.9 2049.2h1.6v1.8h-1.6zM1069.7 2044.2h1.2v1.8h-1.2zM1088.9 2129.4h1.1v1.7h-1.1zM1041.8 2169.2h1.5v1.0h-1.5zM1043.0 2066.5h1.1v1.5h-1.1zM1077.5 2092.0h1.7v2.3h-1.7zM1023.6 2040.8h2.2v2.0h-2.2zM1006.8 2069.7h1.3v2.2h-1.3zM983.3 2082.7h1.5v2.1h-1.5zM977.5 2082.2h2.0v2.0h-2.0zM1017.6 2030.4h1.1v1.0h-1.1zM1082.8 2073.8h2.1v1.8h-2.1zM1038.1 2057.0h1.1v1.6h-1.1zM1010.5 2061.2h1.7v1.9h-1.7zM1019.2 2032.1h2.2v1.0h-2.2zM954.5 2039.3h2.0v1.3h-2.0zM1064.3 2109.4h1.7v1.8h-1.7zM969.2 2070.5h2.1v2.0h-2.1zM950.9 2078.9h1.1v1.7h-1.1zM964.9 2093.6h1.7v1.2h-1.7zM1066.8 2060.4h1.2v1.3h-1.2zM1023.2 2030.3h1.5v1.6h-1.5zM993.7 2089.5h1.8v1.5h-1.8zM1048.3 2046.3h1.9v1.7h-1.9zM929.2 2076.8h2.1v1.4h-2.1zM1012.2 2044.5h1.2v1.9h-1.2zM974.0 2030.2h2.4v2.0h-2.4zM1025.5 2068.4h1.3v1.7h-1.3zM1006.3 2083.2h2.0v1.4h-2.0zM949.7 2100.2h2.2v2.0h-2.2zM999.0 2064.5h1.7v1.4h-1.7zM956.9 2060.7h2.3v2.0h-2.3zM1081.0 2154.4h1.4v2.3h-1.4zM1005.5 2077.4h2.2v1.5h-2.2zM995.7 2083.9h2.4v1.0h-2.4zM1097.4 2072.1h2.3v2.0h-2.3zM1047.7 2055.4h2.1v1.5h-2.1zM1000.7 2090.3h1.1v1.8h-1.1zM937.7 2068.8h1.2v1.7h-1.2zM965.6 2119.3h1.7v1.1h-1.7zM1031.3 2079.5h2.3v1.7h-2.3zM933.5 2034.1h1.9v1.3h-1.9zM1009.8 2037.7h2.3v2.2h-2.3zM1029.9 2064.6h2.1v2.3h-2.1zM949.7 2044.0h1.6v1.2h-1.6zM931.6 2091.8h1.4v1.4h-1.4zM953.6 2087.8h1.8v1.3h-1.8zM1068.6 2088.7h1.1v2.2h-1.1zM971.0 2106.9h1.9v1.1h-1.9zM973.1 2066.9h2.4v1.2h-2.4zM1081.5 2077.8h1.2v1.2h-1.2zM951.8 2062.5h2.0v1.5h-2.0zM1017.8 2090.0h2.0v1.4h-2.0zM1054.8 2076.0h2.3v2.1h-2.3zM951.9 2105.9h1.1v1.2h-1.1zM1042.1 2109.0h2.2v1.8h-2.2zM1000.5 2049.9h1.9v1.9h-1.9zM957.1 2041.6h2.3v2.3h-2.3zM939.1 2045.4h1.2v2.3h-1.2zM1102.9 2078.8h1.0v1.6h-1.0zM938.6 2047.6h1.8v2.0h-1.8zM1014.4 2058.4h1.2v2.2h-1.2zM1021.5 2073.0h2.3v1.9h-2.3zM971.1 2094.2h2.2v2.0h-2.2zM967.4 2048.6h1.9v1.7h-1.9zM1134.4 2109.6h1.0v1.2h-1.0zM969.7 2024.8h1.3v2.3h-1.3zM1081.6 2074.5h1.2v1.1h-1.2zM1052.9 2063.1h1.5v1.1h-1.5zM956.4 2064.6h2.1v1.2h-2.1zM1030.4 2072.7h1.5v2.3h-1.5zM1038.8 2093.0h2.1v2.0h-2.1zM1074.8 2112.3h1.0v2.2h-1.0zM987.0 2065.8h2.2v1.3h-2.2zM983.8 2038.7h2.0v1.6h-2.0zM945.8 2054.9h1.2v1.7h-1.2zM1021.3 2133.6h1.1v1.2h-1.1zM963.2 2104.5h2.0v2.3h-2.0zM1093.0 2136.9h1.7v1.9h-1.7zM940.3 2035.3h2.1v1.9h-2.1zM1049.0 2048.3h2.1v1.1h-2.1zM1081.1 2071.5h1.8v1.2h-1.8zM1160.9 2071.0h1.4v1.7h-1.4zM1048.4 2128.4h1.9v1.9h-1.9zM924.9 2061.7h2.2v1.3h-2.2zM1182.2 2089.7h1.5v1.7h-1.5zM1047.0 2041.2h1.2v1.3h-1.2zM1084.2 2056.2h1.5v1.9h-1.5zM1015.3 2061.1h1.2v2.2h-1.2zM1046.0 2064.0h1.5v1.4h-1.5zM996.3 2112.2h1.9v2.0h-1.9zM999.9 2023.4h1.4v1.9h-1.4zM1043.1 2025.5h1.7v2.0h-1.7zM1020.0 2143.2h1.7v2.2h-1.7zM955.5 2056.3h1.0v1.2h-1.0zM983.9 2071.6h2.2v1.2h-2.2z" fill="#10c858" opacity="0.7"/>
<path d="M958.5 2050.2h3.4v3.2h-3.4zM944.1 2053.0h2.4v2.4h-2.4zM935.9 2056.0h2.4v4.1h-2.4zM972.9 2054.3h2.2v3.5h-2.2zM962.4 2050.3h3.4v2.2h-3.4zM951.1 2066.4h2.4v2.6h-2.4zM911.0 2079.1h2.1v3.8h-2.1zM927.5 2060.0h4.0v2.5h-4.0zM959.2 2050.7h2.2v3.7h-2.2zM949.3 2053.3h3.6v4.4h-3.6zM948.3 2059.9h2.7v2.6h-2.7zM926.8 2069.6h3.0v2.2h-3.0zM980.3 2066.1h4.2v3.1h-4.2zM982.6 2059.9h2.8v2.4h-2.8zM958.0 2056.8h4.4v2.0h-4.4zM942.2 2047.2h2.1v4.0h-2.1zM964.1 2049.2h2.3v2.7h-2.3zM951.1 2056.1h2.5v3.8h-2.5zM971.9 2051.0h3.0v4.2h-3.0zM916.4 2048.9h2.7v4.2h-2.7zM958.3 2049.3h2.0v4.1h-2.0zM953.2 2054.7h3.6v2.4h-3.6zM959.1 2073.4h4.5v3.6h-4.5zM923.6 2046.5h3.2v3.8h-3.2zM931.8 2047.9h2.5v2.2h-2.5zM939.7 2058.9h3.3v2.0h-3.3zM978.2 2039.4h3.7v4.3h-3.7zM975.0 2063.7h2.0v4.2h-2.0zM937.7 2036.0h3.4v2.5h-3.4zM949.2 2070.2h3.9v2.5h-3.9zM949.6 2049.7h4.4v4.1h-4.4zM993.5 2050.6h3.9v2.4h-3.9zM926.4 2052.0h4.4v3.7h-4.4zM954.4 2045.4h3.9v2.2h-3.9zM971.1 2054.1h2.9v2.1h-2.9zM952.6 2060.2h2.1v3.7h-2.1zM952.1 2059.3h3.4v3.6h-3.4zM973.6 2054.0h2.7v3.9h-2.7zM965.1 2065.4h2.4v2.6h-2.4zM951.6 2046.0h2.5v3.3h-2.5zM954.0 2080.8h4.2v2.9h-4.2zM943.1 2051.2h4.2v3.4h-4.2zM939.7 2064.4h3.9v4.0h-3.9zM970.6 2046.1h3.2v4.0h-3.2zM955.8 2048.2h3.7v3.3h-3.7zM922.5 2056.8h2.5v4.4h-2.5zM930.2 2072.4h2.6v4.2h-2.6zM935.4 2050.2h4.1v4.1h-4.1zM977.5 2061.3h3.4v3.7h-3.4zM935.6 2065.1h3.3v4.4h-3.3zM948.1 2054.9h3.0v2.7h-3.0zM944.7 2059.5h2.2v3.2h-2.2zM970.4 2048.5h2.5v3.7h-2.5zM941.5 2047.2h3.5v3.8h-3.5zM952.5 2067.9h3.4v4.2h-3.4zM975.1 2064.4h3.4v3.5h-3.4zM908.2 2036.7h4.2v4.1h-4.2zM972.3 2075.2h4.0v3.2h-4.0zM936.3 2053.7h3.4v3.6h-3.4zM935.4 2061.9h2.7v4.1h-2.7zM959.4 2048.8h3.4v2.0h-3.4zM935.9 2068.3h3.4v2.1h-3.4zM980.6 2066.4h3.6v3.0h-3.6zM949.4 2064.2h4.2v3.9h-4.2zM956.0 2049.2h3.5v2.9h-3.5zM941.6 2056.2h4.2v3.1h-4.2zM973.5 2045.0h2.5v4.5h-2.5zM926.9 2051.6h3.1v2.5h-3.1zM963.4 2052.4h2.3v2.9h-2.3zM939.4 2044.5h2.1v2.4h-2.1zM937.2 2064.0h3.9v4.4h-3.9zM950.7 2039.7h3.6v3.6h-3.6zM928.9 2061.1h2.9v4.2h-2.9zM966.2 2053.0h3.7v3.1h-3.7zM983.8 2066.8h3.5v4.2h-3.5zM968.4 2063.9h2.9v4.5h-2.9zM945.6 2064.5h3.5v2.2h-3.5zM974.3 2051.7h2.1v2.3h-2.1zM945.6 2055.5h3.4v2.6h-3.4zM947.4 2061.0h2.4v3.7h-2.4zM942.6 2050.1h2.7v3.8h-2.7zM969.9 2053.6h4.0v3.2h-4.0zM930.2 2070.9h2.5v2.5h-2.5zM943.2 2050.2h3.5v3.8h-3.5zM957.5 2047.4h4.3v4.2h-4.3zM955.0 2052.6h3.5v3.2h-3.5zM922.8 2041.6h2.8v4.2h-2.8zM956.7 2048.6h2.2v3.6h-2.2zM945.8 2054.8h2.9v3.3h-2.9zM966.9 2046.3h3.2v2.1h-3.2zM970.4 2061.4h3.7v2.3h-3.7zM953.9 2050.7h3.1v3.7h-3.1zM958.4 2082.0h4.1v2.3h-4.1zM943.3 2042.9h3.6v2.0h-3.6zM959.4 2053.5h4.0v3.9h-4.0zM950.5 2040.0h2.9v3.5h-2.9zM919.7 2050.4h2.9v4.4h-2.9zM968.6 2070.1h3.5v4.2h-3.5zM943.0 2064.7h2.2v2.2h-2.2zM936.2 2056.5h3.9v3.7h-3.9zM953.7 2045.0h4.2v3.8h-4.2zM965.1 2068.7h2.1v3.5h-2.1zM919.8 2058.2h2.5v3.6h-2.5zM969.0 2050.7h4.0v3.4h-4.0zM953.0 2056.0h3.9v3.5h-3.9zM956.0 2059.7h4.4v2.6h-4.4zM942.4 2042.5h4.3v3.2h-4.3zM979.7 2056.0h4.5v4.2h-4.5zM944.0 2044.8h2.9v4.3h-2.9zM934.8 2068.0h2.5v4.3h-2.5zM944.5 2046.1h2.4v4.0h-2.4zM933.8 2060.4h4.4v2.2h-4.4zM938.1 2054.0h2.0v3.0h-2.0zM941.6 2069.8h3.9v2.3h-3.9zM927.8 2051.7h2.5v2.9h-2.5zM931.0 2040.2h2.2v4.0h-2.2zM932.6 2038.5h2.3v3.3h-2.3zM953.3 2063.5h2.5v2.8h-2.5zM949.3 2050.4h3.5v4.2h-3.5zM949.6 2044.1h3.5v2.8h-3.5zM945.5 2047.4h2.2v3.6h-2.2zM957.4 2060.7h2.3v4.2h-2.3zM988.3 2034.6h2.3v2.1h-2.3zM951.4 2041.9h4.2v4.4h-4.2zM986.6 2055.7h3.8v4.2h-3.8zM956.5 2044.2h4.3v3.4h-4.3zM957.6 2077.6h3.0v3.8h-3.0zM957.0 2061.0h4.2v3.6h-4.2zM977.3 2039.6h2.5v3.7h-2.5zM970.0 2046.0h4.1v3.7h-4.1zM988.7 2044.1h3.7v2.8h-3.7zM971.0 2056.4h2.2v3.9h-2.2zM955.7 2078.8h2.4v3.4h-2.4zM933.2 2057.8h3.1v3.3h-3.1zM956.3 2059.0h4.3v2.6h-4.3zM947.0 2068.6h3.8v4.3h-3.8zM975.6 2065.8h4.4v2.8h-4.4zM977.8 2051.4h2.6v2.2h-2.6zM959.6 2033.2h3.6v2.4h-3.6zM954.5 2069.6h4.2v3.5h-4.2zM917.9 2046.3h2.4v3.3h-2.4zM952.9 2043.3h3.8v2.3h-3.8zM937.0 2068.3h3.9v2.2h-3.9zM969.4 2056.9h4.4v3.7h-4.4zM970.7 2055.7h4.2v2.1h-4.2zM920.6 2064.4h2.7v3.9h-2.7zM954.5 2073.2h3.9v3.4h-3.9zM956.7 2064.3h3.2v4.2h-3.2zM958.6 2058.5h3.9v2.1h-3.9zM940.9 2048.4h3.3v3.4h-3.3zM937.0 2038.1h4.5v4.1h-4.5zM951.0 2071.4h2.7v2.5h-2.7zM960.9 2048.9h3.2v3.3h-3.2zM969.0 2056.6h3.9v2.8h-3.9zM967.1 2053.6h3.7v4.4h-3.7zM944.9 2069.2h2.0v4.2h-2.0zM979.8 2051.5h4.1v3.4h-4.1zM939.1 2055.7h2.8v3.9h-2.8zM953.7 2054.1h2.4v3.2h-2.4zM953.3 2078.7h3.6v2.6h-3.6z" fill="#20ff58"/>
<path d="M932.9 2180.8h2.5v1.1h-2.5zM1026.9 2123.9h1.9v2.6h-1.9zM998.0 2165.9h1.2v1.6h-1.2zM941.3 2127.4h1.4v1.6h-1.4zM911.8 2157.3h1.8v2.1h-1.8zM905.6 2100.3h1.1v1.0h-1.1zM961.8 2118.9h1.0v2.1h-1.0zM1046.1 2117.6h1.0v2.1h-1.0zM926.8 2100.6h1.4v1.3h-1.4zM991.1 2143.3h1.3v2.3h-1.3zM941.7 2161.7h2.4v2.6h-2.4zM981.3 2101.1h2.6v1.0h-2.6zM943.4 2131.5h1.2v1.3h-1.2zM996.3 2133.2h1.8v1.5h-1.8zM931.3 2142.2h2.1v2.5h-2.1zM931.2 2150.1h1.1v1.3h-1.1zM1022.3 2122.4h2.4v2.1h-2.4zM900.2 2121.1h2.1v1.5h-2.1zM1045.1 2121.6h1.8v2.6h-1.8zM974.6 2170.6h2.4v1.3h-2.4zM945.4 2134.8h1.4v1.1h-1.4zM1050.8 2120.5h1.7v1.1h-1.7zM963.4 2110.8h2.0v1.5h-2.0zM956.2 2131.7h1.3v1.8h-1.3zM1046.8 2119.6h1.8v2.1h-1.8zM949.2 2158.8h2.4v1.9h-2.4zM902.5 2148.2h1.4v2.6h-1.4zM1044.2 2180.2h2.0v1.2h-2.0zM911.3 2178.3h1.2v2.6h-1.2zM984.4 2105.6h2.4v1.2h-2.4zM1035.4 2167.2h2.2v1.5h-2.2zM1006.5 2116.2h2.0v2.5h-2.0zM982.0 2150.8h1.0v1.6h-1.0zM962.6 2178.0h1.5v2.4h-1.5zM1023.1 2182.5h2.6v2.3h-2.6zM988.8 2164.2h1.5v2.0h-1.5zM1029.1 2133.8h1.9v2.1h-1.9zM942.7 2139.2h2.4v1.4h-2.4zM925.0 2147.2h2.5v1.2h-2.5zM1052.3 2147.4h1.2v1.5h-1.2zM946.0 2140.0h2.5v2.6h-2.5zM1007.8 2118.1h2.3v1.1h-2.3zM1053.5 2179.7h1.9v2.6h-1.9zM918.3 2130.6h1.9v2.3h-1.9zM996.3 2143.2h1.2v1.7h-1.2zM1011.8 2141.5h2.5v1.4h-2.5zM966.9 2165.9h2.1v1.5h-2.1zM909.6 2173.2h1.1v1.9h-1.1zM939.0 2159.1h1.2v1.7h-1.2zM927.9 2140.2h2.5v1.6h-2.5zM1033.4 2140.5h1.3v1.8h-1.3zM968.6 2174.5h1.3v2.0h-1.3zM930.8 2132.6h2.2v1.9h-2.2zM1040.0 2153.8h2.4v2.5h-2.4zM1032.2 2125.4h2.2v1.2h-2.2zM1055.1 2169.6h1.7v2.6h-1.7zM978.2 2117.3h1.4v2.3h-1.4zM1007.0 2106.5h1.0v2.2h-1.0zM1021.1 2179.1h1.8v1.2h-1.8zM936.1 2173.4h1.5v1.2h-1.5zM1026.7 2108.6h1.2v1.2h-1.2zM949.7 2138.1h2.2v1.3h-2.2zM978.3 2158.4h1.6v1.9h-1.6zM935.1 2181.0h1.8v2.4h-1.8zM997.0 2145.4h2.2v1.0h-2.2zM1031.7 2181.2h2.2v1.9h-2.2zM936.8 2169.6h1.4v2.1h-1.4zM969.1 2155.8h1.8v1.1h-1.8zM988.7 2118.6h1.8v1.8h-1.8zM996.1 2132.2h1.3v2.5h-1.3zM904.0 2181.2h1.8v1.5h-1.8zM1028.8 2128.0h2.1v1.3h-2.1zM1037.1 2152.7h1.2v2.3h-1.2zM1037.7 2121.9h1.0v1.0h-1.0zM987.7 2142.5h1.4v1.9h-1.4zM1055.5 2119.4h2.0v1.1h-2.0zM940.6 2157.3h1.8v1.8h-1.8zM979.4 2163.4h2.0v2.4h-2.0zM981.2 2122.7h2.0v2.5h-2.0zM982.9 2138.3h1.1v1.4h-1.1zM935.3 2120.4h1.7v1.0h-1.7zM1052.7 2109.8h2.1v1.5h-2.1zM1055.0 2144.5h1.4v2.1h-1.4zM958.6 2142.5h1.7v2.3h-1.7zM984.7 2120.8h1.2v1.6h-1.2zM964.2 2100.1h2.0v2.0h-2.0zM1047.3 2147.0h1.5v2.0h-1.5zM1048.1 2110.7h2.5v2.1h-2.5zM1018.0 2116.0h1.7v2.6h-1.7zM916.6 2129.3h2.1v2.1h-2.1zM1000.9 2118.8h1.4v1.3h-1.4zM1013.1 2161.5h1.6v1.6h-1.6zM1016.6 2114.5h2.6v2.1h-2.6zM1035.0 2133.7h1.3v1.3h-1.3zM1048.9 2109.5h2.3v2.5h-2.3zM901.8 2173.5h2.4v2.2h-2.4zM1009.5 2118.0h1.7v2.1h-1.7zM915.8 2122.8h2.5v2.3h-2.5zM975.7 2113.3h1.8v2.2h-1.8zM1047.0 2122.3h1.2v1.3h-1.2zM1041.1 2175.0h2.2v2.0h-2.2zM915.7 2110.4h1.2v1.0h-1.2zM989.3 2120.6h1.1v2.4h-1.1zM1008.7 2110.4h2.4v2.0h-2.4zM1017.3 2146.3h1.6v2.0h-1.6zM1020.3 2158.6h1.9v1.7h-1.9zM1020.6 2156.3h1.6v1.3h-1.6zM1021.9 2101.5h2.1v1.1h-2.1zM912.9 2114.7h1.4v2.1h-1.4zM1017.8 2160.5h1.4v2.1h-1.4z" fill="#14e04a" opacity="0.8"/>
<g transform="translate(840 1840) scale(0.28325)">
<path d="M908 901l156 99M942 933l-19 322M990 923l-20 255M934 909l-36 193M974 954l255 198M947 934l211 205M961 908l18 247M930 912l-77 309M902 946l109 237M950 923l63 153M944 920l-61 315M932 930l179 184M927 916l251 131M909 930l83 252M910 923l249 213M977 908l159 107M985 945l-22 247M933 931l150 95M950 902l180 98M957 927l21 209M952 907l66 178M955 926l149 71M922 961l157 264M946 940l8 229M952 925l-23 188M993 904l150 81M922 966l4 310M994 907l-38 151M948 966l142 262M939 919l-59 256M933 962l65 283M916 908l150 77M966 967l-31 297M972 953l7 202M952 932l-47 179M937 937l94 204M966 959l53 276M984 907l136 151M901 949l-0 178M984 966l230 116" stroke="#18b060" stroke-width="3" opacity="0.2" fill="none"/>
<path d="M735 925L1019 888M655 894L1014 933M730 825L979 867M641 830L976 912M737 791L971 877M649 946L991 886M756 921L992 898M783 859L989 906M690 886L987 906M722 877L986 906M635 814L1002 921M788 846L1012 882M745 907L978 866M637 828L1009 881M642 900L983 875M658 792L980 872M746 939L992 884M620 866L981 901M727 827L1001 904M753 801L985 931M688 918L979 866M754 800L975 913M793 846L1009 881M792 854L1026 915M777 878L975 883M648 784L996 930" stroke="#18b060" stroke-width="3" opacity="0.2" fill="none"/>
<path d="M1490 780V900" stroke="#1428f0" stroke-width="11" stroke-linecap="round"/><circle cx="1490" cy="778" r="13" fill="#1428f0"/>
<path d="M625 295C560 350 480 420 400 500C330 570 260 640 220 710C195 760 185 810 200 860C215 905 260 925 340 950C420 975 520 1010 600 1040C680 1062 740 1075 800 1076C850 1078 890 1045 915 1000C940 960 965 940 990 920" fill="none" stroke="#fff" stroke-width="5.2" stroke-dasharray="36 22"/>
<path d="M1460 465C1380 468 1310 480 1240 512C1160 560 1080 640 1030 715C1005 770 998 820 1012 865C1030 905 1080 950 1140 1000C1200 1045 1270 1085 1315 1130C1345 1165 1360 1200 1372 1235" fill="none" stroke="#fff" stroke-width="5.2" stroke-dasharray="36 22"/>
<rect x="1345" y="1170" width="205" height="13" fill="#fff"/>
</g>
<path d="M940.1 1853.5V1998.6M986.8 1853.5V1998.6" fill="none" stroke="#fff" stroke-width="4.1" stroke-dasharray="10.8 8.6" stroke-dashoffset="3"/>
<path d="M938 1998.6H988.9" fill="none" stroke="#fff" stroke-width="4.1" stroke-dasharray="10.4 9.8"/>
</g>
<text x="1009" y="1985" font-size="31.3" fill="#fff" stroke="none">lSuC</text>
<text x="1186" y="2082.3" font-size="31.3" fill="#fff" stroke="none">PAG</text>
<g clip-path="url(#c2)" stroke="none">
<rect x="1299" y="1859.3" width="434.3" height="330" fill="#03034c"/><rect x="1299" y="1859.3" width="434.3" height="330" filter="url(#sp2)"/>
<g transform="translate(1290 1840) scale(0.28325)">
<path d="M760 720V1050M762 1040L715 1095M760 1040L795 1080" stroke="#1020e8" stroke-width="11" fill="none" stroke-linecap="round" opacity="0.55"/>
<path d="M32 1195C150 1192 300 1185 420 1180C500 1175 580 1165 630 1135C680 1110 730 1092 780 1090C820 1095 860 1112 920 1125C1000 1128 1100 1122 1200 1112C1320 1108 1450 1102 1565 1095V1240H32Z" fill="#000"/>
</g>
<path d="M1547.6 1876.9h1.7v2.4h-1.7zM1507.7 2026.0h1.1v3.3h-1.1zM1552.4 2042.9h2.0v4.3h-2.0zM1502.6 1951.4h1.5v2.2h-1.5zM1512.1 1992.9h2.1v1.9h-2.1zM1545.1 2020.2h1.8v4.3h-1.8zM1544.1 1990.1h2.4v4.3h-2.4zM1545.7 1952.1h1.4v2.3h-1.4zM1554.4 1953.2h1.2v2.4h-1.2zM1548.5 1928.4h2.6v2.7h-2.6zM1536.8 1935.9h1.5v4.3h-1.5zM1560.8 1969.6h1.6v2.0h-1.6zM1552.1 2030.6h1.8v3.4h-1.8zM1537.6 2001.3h1.9v2.8h-1.9zM1512.8 2115.2h1.9v1.8h-1.9zM1599.1 1924.4h1.6v4.6h-1.6zM1582.5 2059.8h1.3v4.3h-1.3zM1534.9 2060.1h2.5v2.2h-2.5zM1555.7 2046.6h1.2v2.0h-1.2zM1564.4 1976.2h2.0v3.1h-2.0zM1541.0 1961.1h1.2v3.4h-1.2zM1546.8 1979.0h1.1v3.7h-1.1zM1569.0 1951.3h1.0v2.4h-1.0zM1529.2 1865.3h1.3v3.1h-1.3zM1570.7 1988.7h2.2v3.2h-2.2zM1548.3 1923.9h2.1v3.2h-2.1zM1538.4 1954.9h1.7v3.6h-1.7zM1547.6 2052.7h1.0v3.0h-1.0zM1573.5 1936.3h1.8v4.3h-1.8zM1536.1 1897.4h1.6v4.3h-1.6zM1522.3 1940.7h1.6v2.2h-1.6zM1555.5 2052.7h1.9v4.0h-1.9zM1525.1 1990.5h1.9v2.5h-1.9zM1574.2 1948.2h1.5v3.2h-1.5zM1552.0 1911.9h1.7v3.1h-1.7zM1571.8 1998.3h1.9v4.1h-1.9zM1513.7 2121.6h2.2v3.5h-2.2zM1551.9 2120.7h2.1v3.6h-2.1zM1549.8 2010.9h1.3v4.4h-1.3zM1514.0 2005.8h2.1v4.1h-2.1zM1541.5 2012.7h2.5v2.2h-2.5zM1566.3 1970.2h1.0v2.7h-1.0zM1547.2 1904.2h1.2v2.0h-1.2zM1571.3 1996.2h1.6v3.8h-1.6zM1557.1 2008.2h1.9v2.7h-1.9zM1539.3 1922.7h2.2v3.7h-2.2zM1516.6 2023.4h1.6v4.5h-1.6zM1544.0 1916.9h2.4v3.6h-2.4zM1566.9 1893.0h2.5v3.4h-2.5zM1525.5 2058.3h2.5v3.3h-2.5zM1538.8 1883.5h1.5v2.4h-1.5zM1535.7 1942.8h1.7v4.0h-1.7zM1528.3 2017.5h2.5v3.5h-2.5zM1531.5 1959.5h2.2v2.9h-2.2zM1552.3 1930.2h2.5v3.7h-2.5zM1547.8 1987.6h1.4v3.5h-1.4zM1542.9 1970.9h2.5v2.0h-2.5zM1558.1 1905.5h2.3v4.1h-2.3zM1538.0 1910.5h1.8v2.4h-1.8zM1544.6 1984.1h1.6v4.4h-1.6zM1543.5 1947.3h1.5v3.1h-1.5zM1519.8 1959.2h2.3v2.4h-2.3zM1525.4 1897.6h1.0v2.2h-1.0zM1566.6 2031.3h2.4v4.3h-2.4zM1559.0 1900.5h2.0v3.7h-2.0zM1537.6 2041.8h1.2v2.8h-1.2zM1509.5 2092.3h1.3v3.2h-1.3zM1551.9 1978.8h1.8v3.5h-1.8zM1482.3 1940.8h1.8v3.6h-1.8zM1552.9 1946.3h2.2v2.2h-2.2zM1571.2 1895.4h2.2v4.3h-2.2zM1553.5 1977.8h1.7v2.0h-1.7zM1556.2 1948.8h1.4v3.9h-1.4zM1577.7 2051.7h1.6v3.3h-1.6zM1549.2 1948.6h1.4v2.9h-1.4zM1540.3 1918.0h1.7v2.4h-1.7zM1526.2 1934.3h2.0v1.8h-2.0zM1497.3 1914.2h1.4v2.5h-1.4zM1546.6 1934.0h1.8v3.0h-1.8zM1554.2 2021.2h2.3v3.6h-2.3zM1545.0 2057.4h2.6v2.3h-2.6zM1543.4 1935.6h1.4v2.1h-1.4zM1517.8 1924.4h2.1v3.5h-2.1zM1533.8 1945.1h1.4v2.2h-1.4zM1554.2 1967.1h2.4v2.9h-2.4zM1559.1 1915.6h2.5v3.9h-2.5zM1546.0 1949.9h2.1v1.9h-2.1zM1528.5 1929.6h1.2v3.2h-1.2zM1536.1 2038.8h2.0v2.1h-2.0zM1523.1 1983.5h2.5v4.5h-2.5zM1542.2 2031.6h1.7v2.7h-1.7zM1584.7 1927.2h1.3v4.2h-1.3zM1567.5 1859.9h1.7v1.8h-1.7zM1540.4 1931.0h2.2v2.1h-2.2zM1536.4 1958.5h1.9v2.5h-1.9zM1583.4 2016.1h2.2v3.7h-2.2zM1532.4 2024.2h1.9v2.4h-1.9zM1540.8 1942.0h1.3v2.7h-1.3zM1516.4 1966.7h2.1v3.5h-2.1zM1506.2 2026.5h1.8v3.2h-1.8zM1551.9 2075.7h1.1v4.1h-1.1zM1559.7 1906.7h2.1v2.9h-2.1zM1530.1 2113.2h1.6v3.9h-1.6zM1554.4 1971.7h2.3v3.6h-2.3zM1544.1 1881.2h1.3v3.2h-1.3zM1517.4 1962.0h2.6v3.1h-2.6zM1535.6 1879.5h1.2v4.6h-1.2zM1498.5 2054.2h2.4v2.7h-2.4zM1519.7 1915.1h2.1v2.6h-2.1zM1550.2 2011.2h1.6v4.6h-1.6zM1517.8 2015.7h2.6v2.3h-2.6zM1504.4 2067.6h1.6v4.0h-1.6zM1561.3 2005.5h2.4v2.8h-2.4zM1559.0 2073.9h1.3v3.7h-1.3zM1557.6 1865.3h2.1v2.6h-2.1zM1519.5 1930.0h1.4v4.0h-1.4zM1583.3 1878.7h1.8v3.8h-1.8zM1571.2 1951.4h1.7v2.7h-1.7zM1583.7 2021.7h2.6v3.4h-2.6zM1564.6 1989.3h1.9v3.6h-1.9zM1557.9 2030.1h1.5v2.0h-1.5zM1540.0 1859.9h2.5v3.7h-2.5zM1554.5 1878.8h1.3v2.7h-1.3zM1553.9 2043.6h2.3v3.4h-2.3zM1553.3 1975.4h2.1v3.6h-2.1zM1530.7 1942.5h1.3v3.8h-1.3zM1545.3 2039.8h2.2v2.1h-2.2zM1547.2 1923.9h2.4v4.1h-2.4zM1582.1 1934.0h1.3v4.1h-1.3zM1555.5 1998.0h2.4v2.9h-2.4zM1547.5 1923.8h1.2v1.9h-1.2zM1576.7 1883.8h2.5v3.3h-2.5zM1547.2 1906.8h1.2v2.5h-1.2zM1520.6 1943.9h1.1v3.2h-1.1zM1542.0 1980.9h1.1v2.8h-1.1zM1580.0 1962.4h1.5v3.5h-1.5zM1568.7 1952.1h1.1v4.2h-1.1zM1547.2 1922.1h1.0v2.5h-1.0zM1529.3 1993.7h1.8v2.6h-1.8zM1535.9 1928.8h1.7v2.1h-1.7zM1501.8 1883.9h2.3v2.8h-2.3zM1569.5 1873.6h1.7v4.4h-1.7zM1552.7 1994.1h2.4v2.7h-2.4zM1559.8 2065.3h1.5v2.1h-1.5zM1534.4 2018.7h2.0v2.2h-2.0zM1570.9 1941.9h1.4v3.1h-1.4zM1549.8 1960.6h1.5v2.4h-1.5zM1499.1 1875.3h1.8v3.4h-1.8zM1575.6 2001.1h1.2v2.4h-1.2zM1526.1 1910.4h1.2v2.5h-1.2zM1587.3 2041.7h2.6v3.1h-2.6zM1548.5 1965.9h1.3v4.0h-1.3zM1555.0 1924.4h1.1v2.7h-1.1zM1500.7 1925.4h1.1v2.7h-1.1zM1550.2 2003.1h1.5v4.1h-1.5zM1539.6 1997.7h2.5v1.9h-2.5zM1530.9 1990.4h2.1v2.8h-2.1zM1531.2 1937.0h1.6v3.9h-1.6zM1540.2 1879.1h2.1v2.7h-2.1zM1546.1 2002.3h1.5v3.4h-1.5zM1549.6 1984.4h1.6v2.9h-1.6zM1514.4 2030.8h1.3v3.8h-1.3zM1529.3 1991.4h2.6v3.0h-2.6zM1511.5 1973.7h1.2v3.6h-1.2zM1564.0 1979.4h1.7v3.0h-1.7zM1584.6 2034.9h1.3v3.8h-1.3zM1578.4 2033.9h2.0v2.6h-2.0zM1521.0 2006.7h1.0v3.1h-1.0zM1548.3 2030.4h2.5v2.0h-2.5zM1539.0 1994.0h2.3v3.2h-2.3zM1517.3 2040.0h2.3v4.5h-2.3zM1553.5 1948.9h1.8v3.3h-1.8zM1540.5 1917.7h1.2v3.2h-1.2zM1543.0 1957.5h2.1v3.1h-2.1zM1506.4 1946.3h2.3v4.7h-2.3zM1564.5 1957.0h1.6v4.3h-1.6zM1562.4 1950.6h2.5v3.4h-2.5zM1581.0 2024.1h2.2v3.9h-2.2zM1528.8 1952.3h1.3v2.9h-1.3zM1543.6 2034.9h1.3v3.8h-1.3zM1561.5 1902.8h1.8v1.9h-1.8zM1558.1 1971.6h2.3v4.3h-2.3zM1510.1 2029.3h2.3v4.6h-2.3zM1538.2 1992.7h2.5v2.1h-2.5zM1567.4 1972.0h2.4v4.6h-2.4zM1529.5 1980.8h1.3v4.1h-1.3zM1532.5 1988.3h1.8v2.6h-1.8zM1590.9 1888.1h2.5v3.7h-2.5zM1541.9 1915.8h2.1v2.6h-2.1zM1565.3 2067.4h1.6v3.1h-1.6zM1541.8 2033.8h1.3v3.7h-1.3zM1545.5 1987.6h1.7v2.9h-1.7zM1531.9 2094.1h1.9v3.3h-1.9zM1556.2 2012.5h2.4v2.3h-2.4zM1530.6 1944.1h1.4v3.3h-1.4zM1527.5 1990.0h2.0v2.8h-2.0zM1561.7 1985.4h2.5v2.7h-2.5zM1528.5 2028.8h1.8v4.2h-1.8zM1529.0 1983.1h2.4v2.6h-2.4zM1544.8 1988.6h1.7v2.0h-1.7zM1574.6 1941.5h1.7v2.1h-1.7zM1566.1 1976.4h1.7v2.6h-1.7zM1517.9 2052.8h1.6v3.5h-1.6zM1545.0 1929.3h1.2v3.4h-1.2zM1571.6 1999.0h1.8v3.6h-1.8zM1536.4 1970.3h1.8v3.5h-1.8zM1554.3 2018.7h1.3v3.9h-1.3zM1512.2 2045.9h1.3v2.8h-1.3zM1516.9 1972.4h1.4v3.1h-1.4zM1520.1 2034.5h1.3v4.3h-1.3zM1523.2 2102.5h1.5v3.6h-1.5zM1550.4 2019.6h2.5v4.7h-2.5zM1537.8 1967.1h2.3v3.7h-2.3zM1550.9 1984.4h2.4v1.8h-2.4zM1532.2 2002.4h1.2v1.9h-1.2zM1568.1 1946.9h2.6v4.1h-2.6zM1585.1 1887.2h1.5v2.6h-1.5zM1580.0 1984.8h1.9v1.9h-1.9zM1557.7 1992.1h2.1v4.3h-2.1zM1567.5 1913.1h1.9v3.6h-1.9zM1568.7 1976.0h1.4v3.7h-1.4zM1524.5 1986.8h2.4v4.1h-2.4zM1551.8 1923.8h1.8v3.8h-1.8zM1527.0 2033.8h1.7v2.2h-1.7zM1568.7 1937.4h1.0v4.3h-1.0zM1546.5 2013.9h1.6v2.0h-1.6zM1566.6 1924.8h1.0v3.6h-1.0zM1556.3 1947.9h1.5v2.0h-1.5zM1545.6 1945.6h1.6v3.2h-1.6zM1516.1 1959.2h1.7v3.6h-1.7zM1569.5 2030.2h2.5v3.0h-2.5zM1577.8 2035.0h2.5v2.8h-2.5zM1547.7 1884.5h1.4v3.0h-1.4zM1543.5 1967.2h1.3v2.8h-1.3zM1572.1 1910.7h1.9v2.0h-1.9zM1534.6 2024.7h1.7v3.1h-1.7zM1536.1 1895.4h2.1v3.3h-2.1zM1538.9 1964.9h2.6v4.5h-2.6zM1531.9 2040.2h2.2v2.2h-2.2zM1543.2 2076.0h1.1v3.9h-1.1zM1536.3 2003.2h1.7v3.6h-1.7zM1497.1 1987.4h2.0v3.2h-2.0zM1543.7 1951.5h2.4v4.2h-2.4zM1538.3 1917.0h1.6v3.9h-1.6zM1546.2 2042.5h1.8v3.0h-1.8zM1549.3 1899.3h1.2v4.3h-1.2zM1555.3 1907.1h1.3v3.2h-1.3zM1554.3 2040.1h1.6v3.6h-1.6zM1578.5 2063.1h1.2v2.4h-1.2zM1526.8 1914.5h1.3v2.5h-1.3zM1572.5 2017.0h1.9v3.6h-1.9zM1531.0 1989.4h1.4v3.9h-1.4zM1546.9 1978.9h1.1v3.8h-1.1zM1536.3 2027.6h1.2v3.1h-1.2zM1536.9 1893.8h1.4v4.2h-1.4zM1549.8 1993.5h2.1v1.9h-2.1zM1540.1 1968.0h1.5v3.3h-1.5zM1519.3 1946.5h2.2v4.6h-2.2zM1540.1 1918.6h1.9v2.4h-1.9zM1570.6 1979.6h2.3v4.3h-2.3zM1537.2 1962.7h2.3v2.6h-2.3zM1525.9 1945.4h2.6v3.6h-2.6zM1509.6 1931.7h2.4v2.1h-2.4zM1535.4 1945.1h2.3v1.9h-2.3zM1483.8 1994.2h2.1v3.1h-2.1zM1534.4 2017.0h2.6v2.4h-2.6zM1562.1 2105.9h1.5v4.2h-1.5zM1543.2 2012.9h2.3v3.7h-2.3zM1539.6 2122.3h2.5v3.4h-2.5zM1545.2 1995.4h2.2v4.6h-2.2zM1550.6 1955.2h2.4v4.3h-2.4zM1557.2 1965.1h1.5v3.3h-1.5zM1547.3 1972.2h2.5v2.5h-2.5zM1597.0 1977.5h2.3v4.0h-2.3zM1544.9 1896.4h1.8v2.9h-1.8zM1521.9 1981.0h2.6v2.5h-2.6zM1542.9 1909.9h1.4v2.8h-1.4zM1527.2 2002.1h1.4v2.8h-1.4zM1527.0 1961.3h2.5v3.2h-2.5zM1559.6 2092.5h1.4v2.2h-1.4zM1552.4 1994.9h2.0v3.5h-2.0zM1545.6 1961.2h1.9v3.9h-1.9zM1544.0 1890.4h2.3v1.8h-2.3zM1535.5 1992.0h2.4v3.4h-2.4zM1530.0 1951.0h2.6v4.1h-2.6zM1550.3 2094.3h1.9v3.7h-1.9zM1515.9 2012.1h1.3v4.3h-1.3zM1547.4 2031.6h2.0v2.8h-2.0zM1531.7 1922.8h2.5v1.9h-2.5zM1554.6 1940.8h1.2v4.6h-1.2zM1548.8 2064.5h2.3v4.5h-2.3zM1540.7 2011.1h1.5v2.5h-1.5zM1522.8 2063.3h1.6v3.7h-1.6zM1519.9 1942.5h2.3v4.2h-2.3zM1529.5 2001.7h2.5v4.4h-2.5zM1541.1 2035.2h1.9v2.8h-1.9zM1529.0 1889.3h1.2v4.1h-1.2zM1566.8 1890.9h1.1v2.8h-1.1zM1563.1 2084.3h1.0v2.0h-1.0zM1536.4 2021.1h1.2v3.3h-1.2zM1519.7 1941.3h2.2v3.0h-2.2zM1547.6 2016.1h1.0v3.9h-1.0zM1547.6 1993.0h1.4v3.9h-1.4zM1535.7 1976.2h2.3v1.9h-2.3zM1571.3 2003.4h2.2v4.1h-2.2zM1562.4 1886.2h1.6v3.4h-1.6zM1543.8 1941.0h2.3v3.7h-2.3zM1514.0 2090.4h2.4v4.2h-2.4zM1534.0 1880.6h2.2v4.4h-2.2zM1537.1 1997.6h1.3v4.3h-1.3zM1527.5 2085.7h2.6v2.8h-2.6zM1537.3 1993.7h1.9v2.4h-1.9zM1548.0 1950.6h2.0v2.5h-2.0zM1562.2 1953.5h1.8v2.7h-1.8zM1537.5 1909.1h2.0v2.6h-2.0zM1555.8 2061.2h2.5v4.5h-2.5zM1534.9 1957.2h2.0v4.5h-2.0zM1540.6 2029.1h2.1v4.5h-2.1zM1572.8 1923.2h1.2v4.1h-1.2zM1535.7 2033.0h1.9v2.3h-1.9zM1549.2 2031.3h2.5v2.6h-2.5zM1552.8 1920.5h1.1v2.5h-1.1zM1529.5 2031.6h1.9v3.7h-1.9zM1524.2 1939.8h1.7v3.4h-1.7zM1547.4 2036.8h2.5v3.1h-2.5zM1572.0 2013.3h1.4v2.7h-1.4zM1530.0 1944.7h2.6v4.6h-2.6zM1552.3 1960.3h1.4v2.7h-1.4zM1538.0 1937.8h2.6v3.0h-2.6zM1551.2 2043.4h2.4v3.9h-2.4zM1537.7 1916.6h2.1v3.4h-2.1zM1583.0 2062.7h1.5v3.2h-1.5zM1525.5 1977.5h1.7v2.3h-1.7zM1571.4 1955.0h2.1v4.2h-2.1zM1534.4 1902.5h2.3v4.1h-2.3zM1546.8 1922.4h2.0v4.2h-2.0zM1576.1 1969.2h2.3v4.3h-2.3zM1533.7 1953.0h1.2v4.3h-1.2zM1570.0 1872.2h2.3v2.8h-2.3zM1560.5 1891.0h2.0v3.0h-2.0zM1580.4 1945.7h1.7v3.0h-1.7zM1557.0 2031.8h2.2v3.9h-2.2zM1535.1 2076.0h2.4v4.2h-2.4zM1559.5 1932.5h2.6v3.5h-2.6zM1558.8 2045.0h2.3v3.5h-2.3zM1548.4 2010.7h2.0v4.6h-2.0zM1562.4 2084.4h1.8v2.8h-1.8zM1538.4 2001.1h1.3v2.6h-1.3zM1555.9 2002.0h2.5v4.3h-2.5zM1570.5 2018.8h2.5v4.5h-2.5zM1535.8 1927.2h1.2v2.6h-1.2zM1525.1 2104.4h2.3v4.4h-2.3zM1557.8 1905.7h2.6v3.9h-2.6zM1495.2 1890.4h1.3v4.0h-1.3zM1516.1 1905.7h1.0v4.4h-1.0zM1528.3 2004.1h2.4v4.0h-2.4zM1554.8 1911.8h1.7v2.5h-1.7zM1541.5 2108.6h2.2v2.5h-2.2zM1562.3 2012.0h2.3v3.2h-2.3zM1546.8 1965.7h2.2v3.5h-2.2zM1531.5 1978.4h1.3v3.7h-1.3zM1521.6 1950.5h2.4v4.6h-2.4zM1524.0 1924.2h1.3v4.5h-1.3zM1513.6 1948.3h1.6v2.6h-1.6zM1493.1 2037.0h1.9v2.0h-1.9zM1538.5 2084.2h2.5v2.3h-2.5zM1535.1 1975.1h1.0v3.5h-1.0zM1556.2 1885.5h2.0v1.9h-2.0zM1570.2 1970.9h1.1v3.7h-1.1zM1539.9 1954.7h2.2v4.5h-2.2zM1522.5 1987.8h1.5v4.2h-1.5zM1532.7 1949.9h2.1v3.7h-2.1zM1574.1 2024.5h2.6v4.6h-2.6zM1537.7 2019.6h1.4v2.4h-1.4zM1516.7 1995.9h2.2v2.5h-2.2zM1550.4 2066.7h2.5v2.4h-2.5zM1575.9 1950.6h2.1v4.3h-2.1zM1556.1 1957.0h2.5v4.2h-2.5zM1535.0 1987.5h2.5v3.2h-2.5zM1543.3 1994.6h1.1v4.5h-1.1zM1540.3 1976.5h1.8v2.6h-1.8zM1527.6 1943.2h1.7v3.1h-1.7zM1533.8 2036.6h1.1v4.2h-1.1zM1538.0 1939.3h2.1v4.4h-2.1zM1553.9 1881.8h2.2v3.1h-2.2zM1560.0 1940.5h2.3v4.2h-2.3zM1506.1 2065.6h1.7v2.2h-1.7zM1543.1 1912.4h1.1v2.8h-1.1zM1512.8 2057.6h2.1v2.7h-2.1zM1557.5 1944.6h2.1v2.5h-2.1zM1559.2 2059.6h1.5v3.9h-1.5zM1569.4 1993.4h1.8v3.0h-1.8zM1555.6 1898.7h2.3v1.9h-2.3zM1551.1 2039.4h1.1v2.3h-1.1zM1533.7 1958.1h1.6v3.5h-1.6zM1534.5 2032.7h1.6v3.8h-1.6zM1538.9 2000.7h1.2v3.1h-1.2zM1546.8 1973.0h2.0v4.3h-2.0zM1562.1 1956.4h1.4v4.3h-1.4zM1567.8 1980.5h1.6v4.6h-1.6zM1551.9 1908.0h1.7v4.2h-1.7zM1555.3 2094.7h1.5v2.2h-1.5zM1549.1 1952.8h2.5v3.7h-2.5zM1522.4 2015.3h1.6v3.4h-1.6zM1538.3 1906.6h1.4v2.2h-1.4zM1585.4 1880.0h1.9v3.3h-1.9zM1518.8 1918.7h1.4v2.2h-1.4zM1528.9 1999.7h1.8v3.7h-1.8zM1526.6 2032.5h2.1v3.8h-2.1zM1561.5 1921.1h1.2v3.1h-1.2zM1528.3 2112.0h2.3v2.8h-2.3zM1537.2 1951.2h1.1v2.0h-1.1zM1541.3 1925.5h1.9v3.4h-1.9zM1563.0 1961.4h2.3v4.5h-2.3zM1532.6 2023.9h1.1v3.0h-1.1zM1545.7 1966.2h1.6v2.9h-1.6zM1580.1 1975.4h2.4v2.6h-2.4zM1543.9 2018.5h1.3v4.6h-1.3zM1523.9 2042.3h2.3v3.8h-2.3zM1516.6 1984.6h2.1v2.5h-2.1zM1517.5 1936.2h1.0v4.0h-1.0zM1545.0 1973.3h2.5v3.0h-2.5zM1563.6 1920.5h1.7v2.6h-1.7zM1536.0 2062.6h2.6v4.3h-2.6zM1586.6 1929.4h1.3v3.3h-1.3zM1526.9 1956.7h1.4v4.1h-1.4zM1543.0 1908.0h2.4v3.9h-2.4zM1554.1 2052.4h1.4v3.3h-1.4zM1595.3 2062.6h2.2v3.0h-2.2zM1542.4 1919.6h2.6v3.8h-2.6zM1535.0 1998.1h1.9v1.9h-1.9zM1570.2 1978.0h1.3v4.0h-1.3zM1525.7 2028.5h1.1v4.0h-1.1zM1539.5 2083.8h2.0v4.5h-2.0zM1538.3 1919.2h2.1v3.3h-2.1zM1556.3 1933.4h2.4v3.8h-2.4zM1524.5 1944.0h2.3v2.0h-2.3zM1523.1 1923.3h2.4v3.8h-2.4zM1569.9 1963.8h1.1v3.0h-1.1zM1550.5 1962.9h2.5v3.8h-2.5zM1485.9 1914.0h1.7v4.3h-1.7zM1578.4 1979.8h2.1v4.1h-2.1zM1542.3 1917.7h1.3v3.9h-1.3zM1548.1 2035.2h1.4v2.0h-1.4zM1558.1 1989.8h2.1v2.4h-2.1zM1560.6 2000.9h2.0v3.8h-2.0zM1500.1 1943.2h1.5v3.2h-1.5zM1559.1 1871.1h1.9v3.3h-1.9z" fill="#18e048" opacity="0.9"/>
<path d="M1532.0 1948.0h2.2v4.8h-2.2zM1539.7 1993.2h2.9v4.5h-2.9zM1534.1 1981.9h3.0v4.9h-3.0zM1543.5 1972.9h2.9v3.7h-2.9zM1529.0 1956.1h1.7v3.7h-1.7zM1541.2 1955.6h2.2v2.9h-2.2zM1535.5 1940.9h2.6v4.5h-2.6zM1539.9 1978.7h2.3v3.6h-2.3zM1536.5 1947.5h2.2v3.1h-2.2zM1539.9 1975.8h2.9v3.3h-2.9zM1526.8 1973.3h2.8v4.9h-2.8zM1530.6 1960.5h2.5v4.2h-2.5zM1533.5 1916.0h1.9v4.1h-1.9zM1541.8 1936.6h1.9v4.0h-1.9zM1547.4 1953.3h2.4v3.8h-2.4zM1540.6 1940.2h2.6v3.5h-2.6zM1533.7 1963.4h1.9v4.5h-1.9zM1537.3 1950.7h2.0v2.9h-2.0zM1539.2 1962.2h1.8v4.9h-1.8zM1541.0 1963.8h3.0v4.5h-3.0zM1540.1 1941.5h1.9v5.2h-1.9zM1556.4 1995.0h2.1v3.3h-2.1zM1531.5 1965.3h1.9v4.5h-1.9zM1533.7 1978.6h3.0v4.9h-3.0zM1530.2 1975.5h2.6v4.0h-2.6zM1539.2 1999.9h2.8v5.4h-2.8zM1548.3 1972.9h3.1v4.8h-3.1zM1535.3 1914.6h1.6v3.9h-1.6zM1554.0 1972.6h3.1v4.4h-3.1zM1538.4 1975.5h3.1v5.2h-3.1zM1535.4 1978.8h2.2v4.5h-2.2zM1528.5 1953.2h2.6v2.8h-2.6zM1541.8 1946.6h3.0v3.1h-3.0zM1528.2 1942.2h2.4v4.9h-2.4zM1540.4 1937.0h2.5v5.1h-2.5zM1537.2 1975.7h2.1v2.8h-2.1zM1555.5 1938.3h2.5v3.0h-2.5zM1548.4 1980.2h2.0v4.5h-2.0zM1545.5 1976.8h2.9v5.0h-2.9zM1540.3 2034.1h3.2v4.4h-3.2zM1540.7 1958.8h2.0v4.8h-2.0zM1538.5 1976.3h2.1v3.2h-2.1zM1542.2 1981.3h3.1v5.0h-3.1zM1536.1 1995.1h2.3v3.7h-2.3zM1532.6 1971.6h2.3v3.6h-2.3zM1535.7 2001.2h3.1v4.9h-3.1zM1534.6 1972.4h2.9v3.2h-2.9zM1524.3 1927.0h1.7v3.4h-1.7zM1533.6 1936.5h2.7v4.8h-2.7zM1536.9 1936.5h3.0v3.7h-3.0zM1544.8 1958.8h2.6v4.4h-2.6zM1536.1 1970.6h2.9v4.2h-2.9zM1527.8 1966.0h3.0v4.9h-3.0zM1532.0 1922.5h3.1v3.9h-3.1zM1540.2 1979.9h2.1v3.7h-2.1zM1544.4 1967.9h2.8v3.4h-2.8zM1532.5 1950.1h2.8v3.2h-2.8zM1549.8 1948.9h2.2v4.5h-2.2zM1535.9 1942.8h1.6v3.3h-1.6zM1548.3 1989.4h1.6v3.6h-1.6zM1537.0 1943.9h2.7v3.4h-2.7zM1546.7 1937.7h2.7v5.3h-2.7zM1541.4 1997.3h2.3v3.9h-2.3zM1544.4 1977.9h1.6v4.6h-1.6zM1531.4 1982.9h2.3v3.9h-2.3zM1537.0 1947.1h2.2v4.6h-2.2zM1537.9 1962.8h2.5v3.8h-2.5zM1540.5 1949.2h1.8v3.2h-1.8zM1533.8 1942.6h3.0v5.2h-3.0zM1532.8 1997.2h1.8v3.4h-1.8z" fill="#20f050"/>
<path d="M1620.4 2020.1h1.2v0.9h-1.2zM1554.2 2043.7h1.2v1.6h-1.2zM1634.5 1982.8h1.3v0.8h-1.3zM1630.9 1949.5h1.3v1.7h-1.3zM1582.6 2079.5h1.4v1.2h-1.4zM1579.7 2084.8h1.3v1.4h-1.3zM1573.3 2095.6h1.1v1.2h-1.1zM1618.6 1938.7h1.7v1.9h-1.7zM1580.0 1994.9h1.4v1.1h-1.4zM1628.2 2049.7h1.4v1.2h-1.4zM1585.7 2068.6h1.7v2.0h-1.7zM1548.8 1956.0h0.9v1.0h-0.9zM1548.9 2030.7h1.4v1.3h-1.4zM1540.6 2090.5h1.6v1.7h-1.6zM1626.8 2058.9h1.7v1.9h-1.7zM1640.1 1971.1h1.2v1.9h-1.2zM1559.9 1926.7h1.4v0.9h-1.4zM1629.3 1957.6h1.8v0.8h-1.8zM1648.6 2048.9h1.6v1.0h-1.6zM1598.0 1901.8h0.8v1.4h-0.8zM1628.6 2027.0h1.9v1.1h-1.9zM1566.1 2077.4h0.9v1.8h-0.9zM1568.3 2063.7h1.7v1.3h-1.7zM1641.6 2024.1h0.9v0.9h-0.9zM1626.3 2087.0h1.5v2.0h-1.5zM1575.2 2077.0h1.4v1.5h-1.4zM1590.1 1967.2h1.3v1.0h-1.3zM1622.9 1955.7h1.5v2.0h-1.5zM1565.2 2079.6h1.5v1.0h-1.5zM1626.6 2018.5h1.3v1.5h-1.3zM1619.4 2013.6h1.6v1.6h-1.6zM1635.5 2036.9h1.9v1.4h-1.9zM1592.6 2047.6h1.2v1.3h-1.2zM1570.5 2041.6h1.8v1.5h-1.8zM1633.1 2084.1h1.7v1.3h-1.7zM1619.9 1945.6h1.5v1.3h-1.5zM1595.6 1983.7h0.9v1.8h-0.9zM1618.9 1931.3h0.9v1.8h-0.9zM1619.7 1958.9h1.9v0.8h-1.9zM1586.4 2030.4h1.6v1.6h-1.6zM1616.1 1931.2h1.3v0.9h-1.3zM1613.1 1969.0h1.9v1.5h-1.9zM1626.0 2024.3h1.6v1.4h-1.6zM1640.0 2019.4h1.2v1.2h-1.2zM1545.2 2030.9h1.8v1.1h-1.8zM1614.4 1893.2h1.3v1.7h-1.3zM1613.9 2041.5h1.8v1.6h-1.8zM1560.5 1945.6h1.5v1.3h-1.5zM1635.2 1899.9h2.0v1.1h-2.0zM1596.8 2021.4h1.7v1.4h-1.7zM1602.0 1968.0h1.1v1.1h-1.1zM1582.1 1911.9h0.9v1.5h-0.9zM1624.6 2009.8h1.9v0.9h-1.9zM1645.4 2006.8h1.8v1.1h-1.8zM1555.2 2058.3h1.3v2.0h-1.3zM1653.5 2015.5h1.6v1.1h-1.6zM1595.5 2006.9h1.8v1.4h-1.8zM1622.4 1976.2h1.2v0.9h-1.2zM1601.9 1933.4h0.9v1.2h-0.9zM1627.6 1949.7h1.5v1.0h-1.5zM1580.4 2053.9h1.9v1.9h-1.9zM1564.6 1919.2h1.0v1.5h-1.0zM1576.1 1945.9h1.6v1.6h-1.6zM1617.8 1996.5h1.0v1.4h-1.0zM1628.5 1951.4h1.7v1.0h-1.7zM1570.4 1944.6h1.7v1.8h-1.7zM1615.8 2045.4h0.8v1.6h-0.8zM1608.2 2002.6h1.2v1.8h-1.2zM1562.7 2029.3h1.2v1.8h-1.2zM1549.3 2029.2h1.7v1.8h-1.7zM1652.2 1912.5h1.1v1.7h-1.1zM1580.3 1928.9h1.4v1.9h-1.4zM1636.1 1984.4h1.5v0.9h-1.5zM1632.5 2032.5h1.7v1.2h-1.7zM1563.3 2017.3h1.8v1.1h-1.8zM1574.6 2076.9h1.0v1.4h-1.0zM1581.6 1952.6h1.0v1.5h-1.0zM1625.3 1932.9h1.7v1.3h-1.7zM1539.9 2017.5h1.2v1.2h-1.2zM1598.8 1973.7h1.0v1.0h-1.0zM1596.3 1992.2h1.9v1.2h-1.9zM1597.6 1916.8h1.8v1.0h-1.8zM1645.9 2045.6h1.0v1.7h-1.0zM1607.5 2061.9h1.7v1.7h-1.7zM1598.1 2017.6h1.5v0.9h-1.5zM1577.1 1959.1h1.7v1.2h-1.7zM1586.2 1982.2h1.8v2.0h-1.8zM1544.5 1902.2h1.1v1.5h-1.1zM1612.7 2132.1h1.5v1.4h-1.5zM1599.9 1913.9h1.5v1.9h-1.5zM1581.4 1986.5h1.8v1.3h-1.8zM1627.1 1892.4h1.9v1.6h-1.9zM1560.5 2007.9h1.9v1.7h-1.9zM1631.4 1915.4h2.0v1.7h-2.0zM1587.4 2076.6h0.9v1.4h-0.9zM1615.9 1925.1h1.3v1.3h-1.3zM1617.7 2011.2h1.5v1.2h-1.5zM1691.5 2012.7h1.7v1.1h-1.7zM1662.6 2001.9h1.2v1.5h-1.2zM1628.5 2009.5h1.8v2.0h-1.8zM1600.2 2009.8h1.1v1.9h-1.1zM1600.7 2113.5h1.2v0.8h-1.2zM1545.8 1879.5h1.2v1.8h-1.2zM1622.1 1969.2h1.4v1.7h-1.4zM1586.8 2014.3h1.5v1.0h-1.5zM1632.9 2016.8h0.9v1.0h-0.9zM1581.3 1940.5h1.0v1.0h-1.0zM1630.3 1934.2h1.0v0.9h-1.0zM1638.3 2056.2h1.4v1.5h-1.4zM1582.1 2067.2h1.3v0.9h-1.3zM1590.8 1968.9h1.5v1.4h-1.5zM1634.3 1926.6h1.6v1.8h-1.6zM1590.1 2011.2h0.9v1.3h-0.9zM1621.5 2028.9h1.7v1.1h-1.7zM1653.5 1983.1h0.8v1.4h-0.8zM1613.9 1984.2h1.0v0.9h-1.0zM1610.8 1989.6h1.0v2.0h-1.0zM1648.7 1984.8h1.4v1.0h-1.4zM1617.7 2071.6h1.3v1.1h-1.3zM1596.6 1948.2h1.3v1.6h-1.3zM1629.2 2093.0h1.6v1.3h-1.6zM1568.7 2024.3h1.7v1.6h-1.7zM1623.7 1890.5h1.1v1.2h-1.1zM1613.2 2012.2h1.6v1.3h-1.6zM1601.4 2051.4h1.0v0.9h-1.0zM1644.4 1915.4h1.5v1.5h-1.5zM1591.3 2001.8h1.8v1.4h-1.8zM1560.9 1860.8h1.4v1.8h-1.4zM1590.6 1997.7h1.2v1.0h-1.2zM1526.1 2032.7h1.4v1.6h-1.4zM1559.4 2042.0h0.8v1.0h-0.8zM1551.0 2073.5h1.9v1.7h-1.9zM1544.9 1943.8h1.3v1.4h-1.3zM1598.3 2108.0h1.2v1.6h-1.2zM1539.2 2038.7h1.1v1.2h-1.1zM1602.2 1997.9h0.9v1.4h-0.9zM1563.1 1865.1h1.5v1.6h-1.5zM1548.2 1969.4h1.0v1.5h-1.0zM1568.6 1985.4h1.0v1.6h-1.0zM1610.1 2081.0h1.8v1.1h-1.8zM1608.1 2004.9h1.8v1.1h-1.8zM1530.7 2124.9h1.9v1.5h-1.9zM1616.1 2059.7h1.8v1.9h-1.8zM1591.3 2026.5h1.0v1.4h-1.0zM1636.2 1887.0h1.7v1.8h-1.7zM1626.9 2021.1h0.8v1.1h-0.8zM1583.0 2013.6h1.0v1.0h-1.0zM1546.2 2023.6h1.2v1.7h-1.2zM1594.8 2066.1h1.1v1.6h-1.1zM1654.9 1935.0h1.4v1.3h-1.4zM1596.7 2055.9h1.9v1.9h-1.9zM1598.0 2008.5h0.9v1.2h-0.9zM1600.4 1982.0h1.8v1.2h-1.8zM1630.5 2006.0h1.9v0.9h-1.9zM1594.5 2049.4h1.0v1.9h-1.0zM1602.8 2057.6h1.8v1.7h-1.8zM1582.8 1991.9h1.4v1.8h-1.4z" fill="#18d048" opacity="0.75"/>
<path d="M1448.0 2056.6h1.9v0.8h-1.9zM1418.4 2064.2h1.7v1.7h-1.7zM1415.0 2106.6h1.9v1.1h-1.9zM1430.1 2105.8h1.8v1.8h-1.8zM1369.5 2057.3h1.6v1.6h-1.6zM1388.4 2026.4h1.2v1.4h-1.2zM1418.7 2118.4h1.3v1.8h-1.3zM1405.2 2116.9h1.2v1.3h-1.2zM1360.8 2111.1h1.3v1.9h-1.3zM1412.4 2103.4h1.9v1.2h-1.9zM1400.5 2074.3h0.9v1.0h-0.9zM1478.1 2056.0h1.6v1.6h-1.6zM1384.9 2160.9h1.3v1.7h-1.3zM1436.4 2170.6h1.7v1.9h-1.7zM1407.8 2124.4h1.4v2.0h-1.4zM1447.1 2097.9h1.6v1.0h-1.6zM1452.0 2152.0h1.5v1.6h-1.5zM1481.7 2000.3h1.7v1.9h-1.7zM1459.0 2145.5h1.6v1.3h-1.6zM1398.4 2086.1h1.7v1.6h-1.7zM1438.2 2006.0h1.5v1.8h-1.5zM1513.5 2089.7h1.1v1.6h-1.1zM1433.4 2134.7h1.0v1.8h-1.0zM1398.8 2049.4h1.8v1.6h-1.8zM1442.4 2103.5h0.9v1.5h-0.9zM1479.2 2125.3h1.5v1.2h-1.5zM1495.2 2090.9h1.0v0.9h-1.0zM1374.3 2108.8h1.1v0.9h-1.1zM1424.9 2094.7h1.8v1.7h-1.8zM1465.1 2107.6h0.9v1.1h-0.9zM1419.4 2109.7h1.4v1.3h-1.4zM1471.7 2101.1h1.0v1.6h-1.0zM1460.9 2148.9h1.7v1.5h-1.7zM1426.2 2102.7h0.8v1.4h-0.8zM1433.9 2111.3h1.6v1.0h-1.6zM1440.2 2108.9h1.8v0.8h-1.8zM1403.5 2115.3h0.9v1.1h-0.9zM1410.9 2130.6h1.6v1.8h-1.6zM1443.9 2052.7h1.4v1.1h-1.4zM1420.3 2111.4h1.3v1.5h-1.3zM1397.0 2102.7h1.9v1.3h-1.9zM1454.3 2151.8h1.8v1.0h-1.8zM1405.4 2135.1h0.9v1.4h-0.9zM1421.5 2065.0h2.0v1.4h-2.0zM1359.3 2118.9h0.8v1.2h-0.8zM1418.3 2146.8h0.9v1.7h-0.9zM1419.9 2168.5h0.8v1.8h-0.8zM1398.7 2126.6h1.0v1.4h-1.0zM1406.1 2118.9h2.0v1.0h-2.0zM1460.2 2102.9h2.0v2.0h-2.0zM1428.9 2074.3h1.5v1.2h-1.5zM1420.8 2102.3h1.2v1.4h-1.2zM1482.2 2093.4h1.2v1.4h-1.2zM1437.2 2164.9h2.0v1.6h-2.0zM1455.2 2056.4h2.0v1.6h-2.0zM1478.1 2123.0h1.8v1.2h-1.8zM1377.5 2052.4h1.8v1.0h-1.8zM1466.2 2070.3h1.9v1.1h-1.9zM1438.2 2089.1h1.3v0.9h-1.3zM1379.3 2095.8h1.3v1.4h-1.3zM1445.7 2054.3h1.2v1.1h-1.2zM1411.6 2088.8h1.3v1.1h-1.3zM1455.3 2040.3h1.8v1.1h-1.8zM1441.5 2089.3h2.0v0.9h-2.0zM1398.1 2060.7h1.7v1.4h-1.7zM1455.3 2018.5h1.9v1.5h-1.9zM1431.0 2054.1h0.9v0.8h-0.9zM1450.5 2103.6h0.8v2.0h-0.8zM1429.5 2095.2h1.2v1.7h-1.2zM1380.5 2055.9h1.5v1.9h-1.5zM1431.9 2144.6h0.9v1.9h-0.9zM1421.7 2077.0h1.2v1.5h-1.2zM1435.2 2074.0h1.7v1.9h-1.7zM1440.8 2110.2h1.2v0.9h-1.2zM1417.7 2068.5h1.0v1.0h-1.0zM1411.0 2090.9h1.1v0.9h-1.1zM1431.4 2052.0h1.0v0.8h-1.0zM1366.1 2132.0h1.3v1.7h-1.3zM1378.2 2161.0h1.0v1.2h-1.0zM1337.9 2081.1h0.9v1.9h-0.9zM1412.1 2101.1h1.3v1.9h-1.3zM1386.7 2074.9h1.9v1.4h-1.9zM1454.3 2117.4h1.7v1.6h-1.7zM1428.1 2075.9h1.9v1.6h-1.9zM1479.1 2080.1h1.9v0.9h-1.9zM1419.6 2147.5h1.5v1.1h-1.5zM1417.4 2116.6h1.6v1.5h-1.6zM1409.5 2058.4h0.9v1.3h-0.9zM1437.7 2078.9h1.9v1.6h-1.9zM1415.3 2133.1h1.5v1.5h-1.5zM1385.7 2022.5h1.2v1.7h-1.2zM1425.6 2148.2h1.9v1.9h-1.9zM1417.9 2085.0h0.9v1.3h-0.9zM1391.5 2099.6h1.5v1.5h-1.5zM1463.5 2111.2h1.0v1.9h-1.0zM1440.0 2101.7h1.4v2.0h-1.4zM1404.0 2070.6h1.4v1.3h-1.4zM1464.1 2126.7h1.4v1.4h-1.4zM1406.9 2152.3h1.1v1.0h-1.1zM1409.5 2052.9h1.1v1.6h-1.1zM1436.5 2060.9h1.6v1.4h-1.6zM1407.9 2051.4h1.1v1.0h-1.1zM1418.3 2086.1h1.6v1.6h-1.6zM1453.6 2110.2h1.0v0.8h-1.0zM1427.0 2025.9h1.1v1.1h-1.1zM1461.4 2053.0h1.2v1.5h-1.2zM1401.6 2149.1h2.0v1.0h-2.0zM1428.1 2058.4h1.7v1.8h-1.7zM1402.0 2110.0h1.3v1.6h-1.3zM1397.8 2097.9h0.9v1.2h-0.9zM1418.4 2086.9h1.0v0.9h-1.0zM1459.1 2058.8h1.7v1.1h-1.7zM1469.5 2153.2h1.0v1.1h-1.0zM1473.0 2065.3h1.4v1.6h-1.4zM1406.1 2057.4h1.8v1.6h-1.8zM1439.7 2114.1h1.3v0.9h-1.3zM1387.0 2061.0h1.1v1.8h-1.1zM1493.3 2065.3h1.9v1.0h-1.9zM1447.2 2089.5h1.5v1.6h-1.5zM1366.8 2028.2h1.2v1.6h-1.2zM1426.7 2142.6h1.9v0.8h-1.9zM1402.6 2108.4h0.9v2.0h-0.9zM1431.7 2100.8h2.0v0.9h-2.0zM1442.9 2078.4h1.5v1.4h-1.5zM1415.4 2143.6h1.8v1.7h-1.8zM1457.3 2149.1h1.7v1.1h-1.7zM1421.4 2137.9h1.4v1.0h-1.4zM1417.1 2111.0h1.4v0.9h-1.4zM1409.0 2131.0h1.1v1.3h-1.1zM1430.9 2094.5h1.5v1.1h-1.5zM1424.3 2122.5h1.0v2.0h-1.0zM1404.0 2106.1h1.8v1.9h-1.8zM1405.7 2109.0h1.4v1.7h-1.4zM1398.2 2105.3h1.3v1.6h-1.3zM1454.3 2111.6h1.7v1.8h-1.7zM1422.9 2040.6h0.9v1.4h-0.9zM1456.8 2144.6h1.1v1.8h-1.1zM1371.1 2072.8h1.5v1.1h-1.5zM1412.3 2113.4h1.5v1.0h-1.5zM1451.9 2065.4h1.7v1.0h-1.7zM1464.7 2164.3h1.1v1.5h-1.1zM1453.7 1987.8h1.4v1.7h-1.4zM1482.2 2111.1h0.9v1.3h-0.9zM1453.1 2089.6h1.8v1.1h-1.8zM1426.6 2139.3h1.5v1.1h-1.5zM1498.1 2052.3h1.1v1.0h-1.1zM1421.1 2061.0h1.9v1.4h-1.9zM1343.1 2096.0h1.6v1.6h-1.6zM1444.9 2097.4h1.6v1.9h-1.6zM1438.6 2151.5h1.0v1.8h-1.0zM1420.1 2090.7h1.3v0.9h-1.3zM1444.0 2141.8h1.5v1.6h-1.5zM1413.2 2104.8h1.0v1.9h-1.0zM1425.9 2043.7h1.2v1.0h-1.2zM1408.6 2124.5h1.2v1.5h-1.2zM1375.2 2093.5h1.3v0.9h-1.3zM1407.0 2155.4h1.8v1.2h-1.8zM1432.7 2075.8h1.3v1.8h-1.3zM1443.3 2112.0h1.7v1.5h-1.7zM1449.6 2119.7h1.1v1.7h-1.1zM1431.1 2149.1h1.1v1.1h-1.1zM1425.7 2128.2h0.9v0.8h-0.9zM1465.6 2120.4h1.3v1.8h-1.3zM1400.6 2110.2h0.8v1.4h-0.8zM1445.0 2133.9h0.9v1.8h-0.9zM1419.2 2073.1h2.0v0.9h-2.0zM1444.9 2143.8h1.5v1.7h-1.5zM1479.0 2063.0h1.8v1.2h-1.8z" fill="#18d048" opacity="0.8"/>
<g transform="translate(1290 1840) scale(0.28325)">
<path d="M1150 370C1240 375 1330 378 1420 380M900 780C980 785 1060 790 1130 785" stroke="#20d060" stroke-width="3.5" opacity="0.5" fill="none"/>
<path d="M100 1040C140 920 200 790 290 645C380 510 470 400 570 295C640 225 720 190 800 183C880 178 960 200 1030 240C1090 285 1150 370 1220 470C1290 580 1360 700 1420 800C1470 890 1515 960 1540 1030" fill="none" stroke="#fff" stroke-width="11" stroke-dasharray="34 22"/>
<rect x="1332" y="1167" width="203" height="13" fill="#fff"/>
</g></g>
<text x="1320.5" y="1903" font-size="31.3" fill="#fff" stroke="none">RVM</text>
</g>
<g id="panel_k">
<text x="845" y="2279.5" font-size="75" font-weight="bold">k</text>
<text x="893.5" y="2279.5" font-size="39.3">Pre-SNI</text>
<text x="893.5" y="2450.5" font-size="39.3">Post-SNI</text>
<path d="M956.8 2372.3l1-5.1 1-6.6 1-6.1 1-7 1-3.5 1-7.8 1-5.8 1-4.6 1-6.4 1-6.7 1-4.1 1-.7 1-1.4 1-3.2 1-3.9 1 0 1-1.8 1-.6 1-2.8 1-.2 1 2.4 1-3.6 1 3 1-6.9 1 3 1-1.4 1 .6 1 2.5 1-3.2 1 2.5 1-1.1 1-1.8 1-2.5 1 3.7 1 .7 1-2.9 1 6.8 1 1.3 1 4.4 1-.2 1 5.4 1 2.5 1 2.2 1 .2 1-2.4 1-1.2 1 3.3 1 1 1-.8 1 .5 1-.1 1 1.2 1-1.7 1-3.5 1 2.1 1 2 1-1.2 1-1.6 1 .3 1-1 1-4.2 1 3.8 1-2.4 1 3.6 1-.7 1 1.7 1 .5 1-.6 1-1.3 1 1.5 1-.4 1 2.1 1 .8 1 .9 1-2.2 1 1 1 3.2 1-1.5 1 1.1 1 2.4 1 .1 1-3.2 1-3.8 1 4.9 1-.8 1-1 1 1.4 1 2.3 1-10.2 1 5 1 5.7 1-4.1 1 1.5 1-.1 1 1.5 1-2.3 1-2.2 1 1 1 .1 1 .1 1 3 1-1.9 1-2.9 1 4.8 1-.8 1-2.8 1-2.1 1 2.2 1 .2 1 2.2 1-5.7 1 0 1 1.4 1 4.2 1 1 1 2.1 1 .3 1-1.9 1 .3 1-4.4 1 2.6 1-1.8 1 .6 1 .5 1 3.9 1 3 1-3 1-3.1 1 3.7 1 2 1 0 1-.8 1-.4 1-6.8 1 7.9 1-3.2 1 4.2 1-1.3 1 1.4 1 1.3 1 1.2 1 .2 1-.8 1-2.5 1-4.3 1 6.5 1 1.3 1-1 1 1.9 1-.9 1 2.7 1-2.8 1 4.5 1-1.1 1 .2 1-.7 1-2.8 1 1.3 1 2.8 1 .9 1-3.1 1 1.2 1-1.7 1 2.4 1 0 1 2.5 1-.2 1-1.7 1-8.3 1 6.7 1 0 1-4 1 6 1 1.1 1-1.4 1 1.9 1-8.1 1 5.4 1 1.5 1 .1 1-2 1 1.6 1 1.6 1 1.9 1-.4 1 0 1-.9 1 3 1 .5 1-.8 1 .6 1 0 1 .8 1-.7 1 4 1-1.5 1-2 1 1.7 1-1 1 1.9 1-.3 1 .3 1-3.3 1 2.8 1-1.6 1-.6 1 .1 1-3 1 0 1 2 1-1.1 1 .3 1-4.5 1 .2 1 .3 1 3.7 1-2.1 1 4.2 1 0 1-1.4 1 .3 1 2.1 1-1.3 1 3.1 1-4.4 1 3.9 1 1.1 1-5.8 1 5.3 1 1.5 1-.9 1-2.2 1-3.1 1 1.9 1-3.6 1-.4 1-1.5 1-1.9 1-1.6 1 2.3 1 2.9 1 .9 1 .6 1 4.2 1-2.8 1-1 1 5.4 1 .9 1-1.4 1 1.7 1 1.2 1-1.5 1-1.6 1-.1 1 3.5 1 .5 1-1.4 0 24.7-1 .7-1-1.2-1 1-1 .2-1 2.9-1-1.3-1 2.7-1-6.8-1 .2-1 1.2-1 1.5-1-5.8-1 .5-1-1.1-1 1.5-1-6.5-1 .9-1-4.7-1 2.6-1 4.8-1 1.5-1-2.2-1 2.7-1 5-1-4.8-1 1.4-1 .7-1 2.3-1-1.3-1-.7-1 1.8-1-1.4-1-1.8-1 7.9-1-7.9-1-2.9-1 .7-1 .2-1 1.6-1-2.5-1-.8-1-2-1 1.8-1-1.6-1 3.8-1-3.1-1 1-1 1.5-1 .4-1 3-1-3.3-1 .3-1 10.7-1-5-1-2.1-1 .9-1 0-1-1.4-1 3.1-1-5.2-1 2.5-1 1.7-1-1.5-1 1.1-1-1.8-1 1.1-1 2.8-1-2.4-1-4.3-1-.4-1-1.4-1 .9-1 1.2-1-2-1-2.1-1-1.2-1-.4-1 .6-1-.4-1-.9-1 3.4-1 .1-1-.5-1-3.1-1 1-1 2.9-1-2.7-1 3.5-1-1.7-1 2.2-1-3.4-1 .6-1-.3-1-2.4-1 9.7-1-6.2-1-1.6-1-.1-1 1.1-1 .6-1-4.1-1 1.9-1-1.7-1 2-1-3.3-1 1.5-1 .4-1 2.7-1-2.7-1-.4-1-2.7-1 2.4-1-2-1 1.3-1-2.1-1 3.7-1-3.3-1-2.3-1 3.2-1-3.9-1-2.6-1 1.4-1 2.1-1-1.7-1 5.5-1-1.1-1-.7-1-4.8-1 1.4-1-.9-1 2.9-1-5.2-1 2-1-.8-1-2.8-1-.3-1 3.1-1-1.5-1-.6-1 2-1-1.9-1 1.7-1 .9-1-5.8-1 1-1-.7-1 .3-1-.7-1 2.2-1-2.8-1 2-1 2.9-1-1.5-1 1.8-1-2.2-1-.4-1 7.3-1-6.4-1 3.6-1-3.8-1-3.1-1 7.2-1-4.2-1 .2-1-.4-1 4.6-1-4.4-1-.1-1 2.5-1-3.3-1-.3-1-2.9-1 6.3-1 2.2-1-5.1-1 4.2-1-2.1-1-1.1-1 4.5-1-7.4-1 3.8-1-3.2-1 .8-1-1.2-1-2.9-1 0-1 .7-1 1-1-3-1 .1-1 3.9-1-4.2-1-.7-1-.5-1-.3-1 4.3-1-5.6-1 .8-1 4.7-1-2.7-1 6.2-1-3.2-1 .4-1-.4-1 .4-1-1.6-1 3.2-1-3.2-1 3.2-1-1.9-1 2.8-1 2.3-1-3.4-1 1.7-1-5-1-1.8-1-2.2-1-1.1-1-3.5-1 1.5-1-2.2-1-.7-1-1.6-1-1.4-1 2-1-1.2-1 6.9-1-1.9-1-1.6-1 .1-1 .6-1-2.6-1-.3-1 3.8-1-.8-1-3.1-1-1.1-1-.4-1-1.3-1 3.4-1-1.5-1 3.8-1 2.6-1 .5-1-2.8-1 .5-1 2.2-1 4.5-1 6-1 9.6-1-.3-1 2.2-1 12.6-1-3.5-1 3.9-1 4.4-1 2.2z" fill="#aaa" stroke="none"/>
<path d="M906.8 2373.2l.5-.4 .5 .5 .5-1.2 .5 .2 .5-1.6 .5-1.3 .5 3.9 .5-.2 .5 1.2 .5-.4 .5-2.4 .5 3.4 .5-3 .5 2.5 .5-1 .5 .5 .5-1.6 .5 1.5 .5 1.9 .5-2.7 .5 4.2 .5 .4 .5-1.4 .5-2.5 .5 3.1 .5-3.3 .5 1.6 .5 2.3 .5-4.5 .5 3.3 .5-2.6 .5 3.4 .5-3.1 .5 1.7 .5 1.8 .5-1.1 .5-.7 .5 2.8 .5-5.1 .5 5 .5 .1 .5-2.9 .5-.7 .5 .1 .5-4.2 .5 2.5 .5 3.6 .5-3.4 .5 1.5 .5 1 .5 1.8 .5-.7 .5-.3 .5 3 .5-1.7 .5 .1 .5 5.1 .5-3.1 .5 1.2 .5-1.6 .5 1.4 .5-4.3 .5 2 .5-.7 .5 4.9 .5-3.9 .5-1.4 .5-.2 .5-1.9 .5 2 .5 2.2 .5-3.8 .5-.8 .5 4.2 .5-.8 .5 1.6 .5-.8 .5 1.9 .5-4 .5 4.1 .5-.1 .5-.8 .5 .6 .5-2.2 .5-4.1 .5 2.8 .5-.2 .5-1.8 .5 5.9 .5-5.4 .5-2.7 .5 4.6 .5 .6 .5-4.1 .5 3.1 .5 3.6 .5 .9 .5-7.6 .5 .5 .5 .7 .5-5.1 .5-.8 .5 2.2 .5-8.9 .5-.4 .5-4.8 .5-6.3 .5 1.4 .5 .1 .5-1.2 .5-4.7 .5-3.1 .5-1.5 .5-5.3 .5-.9 .5-1.2 .5-.5 .5 0 .5-3.4 .5-9 .5-.9 .5 1.7 .5 1.4 .5-1.9 .5 .5 .5-6.5 .5 1.7 .5-.1 .5-.6 .5 3.5 .5-2.5 .5-1.8 .5-1.8 .5-.7 .5 2.1 .5-4.8 .5 4.7 .5-4.6 .5 2 .5-.1 .5 1.7 .5 3.4 .5-6.1 .5 2.7 .5 .4 .5-2.1 .5-1.9 .5-.6 .5 3.2 .5-1.2 .5 1.8 .5-2.9 .5-2.9 .5 9.1 .5-2.1 .5 .4 .5-1.3 .5-.3 .5-1.9 .5 0 .5 2.7 .5-2.1 .5-2.2 .5 1.2 .5-3.6 .5-2.4 .5 4.2 .5-.3 .5-3.7 .5 2.5 .5 2.4 .5 0 .5-2.1 .5 5.9 .5-.8 .5-.2 .5 4.5 .5 2.7 .5-3.3 .5 .2 .5 5.7 .5-1 .5 .2 .5 2.1 .5-.2 .5 5.5 .5-5.1 .5 2.4 .5 1.2 .5-2.5 .5 2.1 .5-.9 .5 1.5 .5-1.8 .5-4 .5 3.5 .5-.2 .5-1.5 .5 .3 .5 1.5 .5-.5 .5-.4 .5-1.3 .5 3.1 .5-4 .5 1.2 .5-.4 .5 0 .5 1.1 .5-.1 .5-2 .5 3.1 .5-4.9 .5 2.4 .5-3.6 .5 8 .5-7.3 .5-.5 .5-.5 .5 .5 .5 1.2 .5-.2 .5 2.2 .5-5.1 .5 3.9 .5 2.5 .5-3.2 .5 4.7 .5-4.7 .5 1.2 .5 .9 .5-.5 .5-.7 .5 0 .5 .5 .5-1.1 .5 1.1 .5-.8 .5 3.7 .5-1.3 .5-.2 .5-.9 .5 2.1 .5-1.3 .5 2.3 .5-.4 .5 2.6 .5-.4 .5-.3 .5-3.9 .5 3.3 .5-.7 .5-2.5 .5 2.2 .5 1.4 .5 1.7 .5 3.5 .5-6.3 .5 3.8 .5 .8 .5 1.9 .5-5.4 .5 3 .5-6.2 .5 2 .5 1.8 .5-5.5 .5 5.4 .5-2.7 .5-.2 .5 .4 .5 1 .5 2.4 .5-3.3 .5 2.3 .5 .4 .5 .6 .5 .3 .5-1 .5 5.9 .5-7.8 .5 2.8 .5-1.1 .5 .6 .5-2.4 .5 0 .5 5.5 .5-2.6 .5-.5 .5 1.8 .5-2.9 .5-.7 .5 3.3 .5-.3 .5 .1 .5 .9 .5-8.1 .5 6.5 .5-4 .5 .5 .5 5 .5-1 .5-.2 .5 2.4 .5-1.9 .5-.2 .5-.1 .5-3.7 .5 4.3 .5 .3 .5-1.8 .5-2.3 .5 1.9 .5-7.3 .5 7.6 .5 0 .5-1.7 .5-1.3 .5 .3 .5-.6 .5 4.9 .5-5.1 .5-1 .5 1.5 .5 1.7 .5-4.2 .5 5.2 .5-1.6 .5 4 .5-2 .5 .5 .5 2.3 .5 2.7 .5 2 .5-2.8 .5-5.5 .5 4.5 .5-.1 .5-.2 .5-5.4 .5 3.6 .5-1.6 .5 .7 .5 1.5 .5 .2 .5-1.4 .5 .3 .5 1.8 .5 1.4 .5-1.3 .5 3.5 .5-2.1 .5 .7 .5-1.1 .5-3.6 .5 3.1 .5-.8 .5-.1 .5 .4 .5-.3 .5 1.4 .5 1.8 .5-4.3 .5 1.7 .5 2.3 .5-1.4 .5 2.1 .5-3.4 .5 2.3 .5-4.7 .5 1 .5 1.9 .5 .1 .5 1.6 .5-1.2 .5 3.7 .5 .5 .5 .7 .5-3.2 .5 .7 .5 3.8 .5-6.9 .5 2.6 .5 6.8 .5-7.5 .5 5.8 .5-2.3 .5-3.9 .5 3.8 .5 0 .5-1.1 .5 2.3 .5-.8 .5 5 .5-4.5 .5 1 .5 1.5 .5-1 .5 0 .5 3.2 .5-2.8 .5 .3 .5 .9 .5-1.8 .5 2.4 .5-1.9 .5 4.5 .5-2.5 .5-3.6 .5-.3 .5 4.2 .5 .7 .5-1 .5-3 .5 1.8 .5 1.2 .5 5.2 .5-5.3 .5 2.4 .5 .1 .5 .5 .5 .3 .5-2.3 .5 .9 .5 3 .5-6.6 .5 1.8 .5 0 .5-.1 .5-.8 .5 2.2 .5 2.3 .5-3.7 .5 4.4 .5-8.6 .5 2.5 .5 .2 .5-.1 .5-3.2 .5 6.6 .5-5.2 .5 6.1 .5-6 .5 4.8 .5 1 .5-3.7 .5-2.6 .5 2 .5 3.8 .5-.4 .5-1 .5 1 .5 .2 .5 .2 .5-1.6 .5-1.3 .5 .2 .5-2.3 .5 .3 .5 2.2 .5 0 .5 2.5 .5-1.9 .5-1 .5 6.3 .5-.3 .5 .6 .5-3.7 .5 3.5 .5-2.6 .5 .9 .5 1.8 .5-2.7 .5 2.4 .5 1.2 .5-5.6 .5 1.3 .5 3.4 .5 1.1 .5-4.4 .5 5.2 .5 4.4 .5-3.2 .5-2.9 .5 2.9 .5-2.1 .5-.8 .5-.2 .5-1.1 .5 3.2 .5-1.2 .5-.4 .5 2.6 .5-1.2 .5 1.3 .5-4 .5 6.8 .5-.8 .5-5.4 .5 2.6 .5-1.2 .5 .6 .5 2.1 .5-.1 .5-5.2 .5 2.4 .5 .4 .5-.2 .5-3.6 .5-.6 .5 2.3 .5 2.1 .5-4 .5 1.6 .5 2.7 .5-2.6 .5-.7 .5 1.4 .5-3.2 .5 1.5 .5-1 .5-6.6 .5 9 .5-2.8 .5 .5 .5-1.2 .5 2.1 .5-2.9 .5-1.8 .5 4.8 .5 .6 .5-2.6 .5 1.7 .5 2.3 .5-2.2 .5 .8 .5 .8 .5 3.4 .5-4.7 .5 2.7 .5-2.7 .5 .5 .5 3.4 .5-3.9 .5 3.3 .5 2.3 .5-3.1 .5 3 .5-.9 .5 1.6 .5 .2 .5-4.7 .5 3.8 .5 .7 .5-3.7 .5 2.5 .5-.6 .5 .7 .5 .8 .5 .9 .5-4.2 .5 .9 .5-.4 .5-.1 .5-.1 .5-3.5 .5 1 .5 1 .5 .7 .5-2.5 .5-2.5 .5 3.3 .5-3.7 .5 1.9 .5-.5 .5-.5 .5-3.5 .5-1.1 .5 1 .5 2.1 .5-1.2 .5 4 .5-.9 .5 1 .5 2.4 .5-.2 .5 4.3 .5-.3 .5 3.4 .5-7.7 .5 .2 .5 1 .5 .2 .5 .9 .5 0 .5 1.5 .5 2.2 .5-2.8 .5 1.8 .5 2.5 .5-4.3 .5 4.2 .5-2.7 .5 2.2 .5-2.1 .5-2 .5 2.4 .5 1.8 .5-.4 .5-3 .5 5.4 .5-7.2 .5 7.7 .5-5 .5-1.6" fill="none" stroke="#f00" stroke-width="4.4" stroke-linejoin="round" stroke-linecap="round"/>
<path d="M907 2704H1214.5" fill="none" stroke="#ededed" stroke-width="1"/><path d="M907 2659V2704M1214.5 2704V2619" fill="none" stroke="#f7f7f7" stroke-width="1"/>
<path d="M959.8 2622.7l1-13.1 1-7.4 1-10.8 1-15.5 1-15.5 1-12.3 1-12.1 1-13.5 1-6.3 1-5.5 1-6.4 1-7 1-7.7 1-2 1-6.6 1-6.9 1-1.6 1-2.6 1-2.2 1-6.4 1 1.2 1-4.1 1 4.3 1 2 1 3.9 1 6.2 1 .5 1 5.4 1 5.7 1 1.3 1 1.7 1 9 1-4.2 1-5.1 1-.5 1 7.2 1-.1 1-.3 1-3.7 1 2.4 1-2.5 1-.7 1-2.5 1-7.2 1 .8 1-2 1-1.2 1-11.7 1 5.3 1-.3 1-4.9 1 2.4 1-.2 1 .2 1 1.8 1 5.5 1 1.2 1 0 1 4.9 1 .7 1 .2 1 3.2 1 2.8 1 3.9 1 1.7 1 2.7 1 4.6 1 3 1 2.6 1 4.1 1 1.9 1 3.6 1 2.8 1 .9 1-2.8 1 3.2 1 .3 1 1.3 1 1.2 1 4.6 1 .6 1 5.9 1 1.3 1-.8 1 3 1 1 1 .2 1 3.1 1-2.7 1 1.1 1 5.4 1-4.3 1 6.9 1 .7 1-5 1 4.1 1 .9 1-8.3 1-1.3 1 9 1-1.6 1 1.8 1-.2 1 2.8 1 1.3 1-.2 1-3.3 1 1.7 1-1.2 1 3 1-8.8 1 7.9 1-.8 1 .3 1-.2 1 2.6 1 .3 1-3 1 3 1-1.1 1-2.5 1 6.4 1-1.8 1-3.4 1 .7 1 0 1-4.1 1 7.6 1 4.4 1-3.6 1 .1 1 3.8 1 7.4 1 2.3 1-4 1 8.4 1-1.6 1-3.1 1 3.1 1 1.9 1-2.4 1 2.2 1-5 1 1.8 1-.7 1 3.8 1-.5 1 1.7 1 1.5 1-1.3 1 .3 1 5.2 1-4.3 1 3.3 1-6 1 7.7 1 5 1-4.4 1 1.4 1 7.4 1-1.8 1 2.8 1 .3 1-3.3 1-2.3 1 .9 1-.4 1 .7 1 3.8 1-2.3 1 1.7 1 1.2 1-3 1 1.6 1-.6 1 1.7 1 .9 1-1.2 1-1.2 1 2.3 1-3.2 1 .1 1 1.2 1-7.7 1 4.9 1-1 1-1.2 1-7.7 1 5.1 1-1.4 1 .2 1-1.7 1 1.9 1 1 1-.5 1 2.6 1-1.6 1 2.3 1 2.2 1 .6 1-1.8 1 1.7 1-1.6 1 1.6 1-.8 1-1.4 1 1.7 1 2 1 1 1 1.7 1-4 1 2 1 1.8 1-1.8 1 1.1 1 1.3 1 1.6 1-.5 1-3.3 1 4.9 1-6.1 1 3.5 1 2.8 1-.2 1 1.8 1-1.8 1 1.1 1-3.8 1 .5 1-.7 1-6.5 1 6.3 1 1.3 1 2.5 1 .2 1-1.2 1 2 1-2.8 1 2.9 1 1.3 1 1.5 1-.1 1 .1 1-.8 1-3.7 1 .7 1-1.2 1 .3 1 .5 1-3.6 1 .6 1-.5 1 3 1-3.7 0 39.5-1 .5-1 3.7-1-1.9-1-1.9-1-.8-1 .4-1 3.2-1-.3-1 5.3-1-5-1 3-1-1.8-1 5.7-1-6.7-1 2.3-1-3.6-1 3.7-1-4.5-1 .9-1 1.3-1-3.9-1 1.4-1-2.7-1 .8-1 8.3-1-5.3-1-1.4-1-1.4-1 4.7-1-5-1 6.5-1-5.3-1 2.2-1-.6-1-.5-1-3.5-1-1.9-1-.1-1 2.3-1-4-1 4.6-1 3.5-1-7.4-1 3.4-1-4.4-1-1.5-1 2.4-1-2.3-1-.5-1 1.1-1 1-1-4.2-1-1-1 4.2-1-.2-1 3.1-1-3.7-1-1.7-1-4.9-1-.7-1 2.6-1-2.9-1-.5-1 .5-1-1.2-1 3.7-1 .3-1 2-1 .2-1 2.9-1 2.7-1-2.9-1 5.5-1-2.3-1 2.7-1-2.8-1 2.8-1-.5-1-4.6-1 1.8-1-2.9-1 2.1-1 3.3-1-6.1-1 3.1-1-1.6-1-4.8-1 1.5-1-1.3-1 .9-1 4.2-1 2.8-1-4.6-1-1.6-1-.7-1 3.7-1-2.2-1-2.7-1-2.4-1 9.4-1-10.7-1-4.9-1 2.4-1-3.2-1 .7-1 1-1 2.2-1-.1-1-4.8-1 1-1-4.4-1 2.4-1-2.7-1 2.2-1-.9-1 3.3-1-3.4-1 .6-1-5-1 .7-1-1.8-1-2.9-1-3.1-1-3.6-1 0-1-3.1-1-.7-1-1.1-1-1.7-1 1-1-.7-1 1.3-1-1.5-1-1.1-1 2-1 2.4-1 2.9-1-8-1 12-1-11.6-1 .4-1-.4-1-1.5-1 3.8-1-3-1-.9-1 1.8-1-1.9-1 12.3-1-12.6-1 4-1-2.3-1-5.9-1 10-1-6.4-1 1.9-1 2.4-1-3.2-1-.2-1-3-1 6.1-1-6.9-1 .1-1-1.2-1 1.1-1 .1-1-2.1-1 2.2-1 2.4-1 .7-1-3.3-1-.5-1-.4-1-4.9-1 2.3-1 1.5-1-2.2-1-.7-1 .9-1-.7-1-1-1 2-1-4.2-1-3.5-1-2.3-1-2.3-1-2.7-1-2.1-1-1.3-1-6.1-1 4.3-1-4.3-1-2.1-1-5.2-1-.5-1 3.6-1-7.4-1 2.2-1-5-1-1.4-1 3.1-1 .9-1-3.2-1 1.9-1 1.3-1 2.9-1 2.7-1 2.3-1 2.5-1 1.7-1 6.9-1 3.1-1-1.3-1-.4-1 .3-1 1.8-1 0-1-.9-1 .8-1 4.4-1-2.3-1 2.8-1-1.1-1-8.8-1-1.4-1-4.4-1-1.4-1-2.9-1-7-1-2.5-1-3.8-1 .9-1 1.3-1 1.3-1-2.9-1-.1-1 .7-1-2.9-1 2.9-1 2.7-1 7.3-1 6.2-1-3.8-1 4.5-1 2.1-1 2.7-1 8-1 11.9-1 7.4-1 13.9-1 10.2-1 9.7-1 4.5-1 7.7z" fill="#aaa" stroke="none"/>
<path d="M906.8 2658.8l.5 2.8 .5 1.6 .5 1.3 .5-4.4 .5 3.7 .5 2.5 .5-3.3 .5 .5 .5 1.8 .5-.3 .5 .8 .5-1.4 .5-.7 .5-2 .5 1.9 .5 3.7 .5-3 .5-.3 .5-.4 .5 3 .5-3.9 .5 4.5 .5-4.2 .5-1.5 .5 2 .5-.4 .5 .7 .5 1.8 .5-3.8 .5 2.7 .5-3.3 .5 5 .5-.1 .5 .2 .5 .1 .5-2 .5 .8 .5 2.5 .5-1.2 .5 .5 .5-3.2 .5 3 .5-1.5 .5-1.2 .5 2.6 .5-3.9 .5 4.4 .5 .5 .5-.9 .5-1.3 .5 .7 .5 2 .5-4.5 .5 3.7 .5 1.1 .5-1.1 .5-1.2 .5 .7 .5 .3 .5 1 .5-2.4 .5-1.1 .5 2.1 .5 1.8 .5 2.1 .5-3.3 .5-1.8 .5 .7 .5-2.5 .5 4.2 .5-3.8 .5-1.6 .5-2.5 .5 .7 .5 2.6 .5-4.2 .5-1.6 .5 4 .5-1.5 .5 .8 .5 .4 .5-1.4 .5-1.9 .5 2.4 .5 .5 .5-2.5 .5-2.6 .5 5.1 .5-3.8 .5 .3 .5-.3 .5 1.8 .5-2.2 .5-1.5 .5 .6 .5 2.2 .5-2 .5-1.6 .5-6.3 .5 5.6 .5-13.5 .5-1.4 .5-3.9 .5 1.6 .5-5.6 .5-6.8 .5-.7 .5-3.2 .5-3.3 .5-5.7 .5-5.4 .5-5.1 .5-5.4 .5-6.9 .5-4.8 .5-8.5 .5-7.4 .5-3.6 .5-1.5 .5-9.1 .5-.8 .5-7.5 .5-5.4 .5-.1 .5-1.1 .5-4.5 .5 4.2 .5-8.3 .5 1 .5 0 .5-5.4 .5-4.6 .5-1.4 .5-.2 .5-.6 .5-4.3 .5-4.9 .5 1.4 .5-2.2 .5-3.2 .5 3.3 .5-1.4 .5 3.5 .5 .8 .5-.2 .5-5.3 .5 .6 .5 1.6 .5 .6 .5-3.8 .5-.3 .5 4.7 .5-4 .5 1 .5 3.8 .5 2.6 .5-1.2 .5 3 .5 .6 .5 3.3 .5 5.9 .5-.2 .5-.2 .5-1.5 .5 3.1 .5 4.8 .5-1.8 .5 5.6 .5-3.6 .5 3.4 .5 3.9 .5-7.5 .5 6.3 .5-6.1 .5 3.2 .5-.4 .5 1.7 .5-8.2 .5 2.5 .5 2.5 .5 1.5 .5-1.7 .5 1.2 .5-2.1 .5 2.7 .5-2.1 .5 2.1 .5 .2 .5 .4 .5-4.9 .5-.1 .5 .4 .5-2 .5-1.5 .5-3.5 .5 2.2 .5-3.6 .5-1.2 .5-3.1 .5 3.4 .5-3.8 .5 1.6 .5-2.3 .5-5.2 .5 .5 .5 3.9 .5-4.4 .5-2.5 .5 2.5 .5 0 .5-.6 .5 1.8 .5 .7 .5-4.4 .5 5.3 .5-1 .5 5.7 .5-4.8 .5-.4 .5 6.5 .5-4.5 .5 2.9 .5 3.9 .5-1.5 .5-2.9 .5 4.3 .5 1.5 .5 4.4 .5-1.1 .5 4.7 .5-8.8 .5 3.8 .5-.1 .5 5 .5 .3 .5 1 .5-1.5 .5 1.5 .5-.5 .5 8.8 .5-1 .5-1 .5 5.2 .5 1 .5 1.2 .5-3.8 .5 2.5 .5 2.4 .5 1.3 .5 2.1 .5-1.9 .5 3 .5 3.8 .5-2.7 .5-.2 .5-.8 .5 1.5 .5 1.6 .5-3.4 .5 1.9 .5-4.2 .5 4.4 .5 1.2 .5-3.4 .5 3.2 .5-2.1 .5 1.6 .5 3.5 .5 5 .5-2.6 .5 2.4 .5-2.4 .5 2 .5-1.7 .5 1 .5 1.9 .5-2 .5 2.9 .5-3.3 .5-.7 .5 3.3 .5-2.7 .5-1.3 .5 5.8 .5-1 .5-5.1 .5 3.9 .5-.6 .5 4.8 .5-4.2 .5 .1 .5-.1 .5-.2 .5 1.4 .5-1.8 .5 1.6 .5-.8 .5 0 .5 .1 .5 2.1 .5-1.5 .5-.4 .5 3.1 .5-.4 .5-.6 .5 .1 .5 3.7 .5-3.9 .5 .7 .5-4.6 .5 4.6 .5-1.9 .5 2.7 .5 1.8 .5-2.9 .5 4.1 .5-2.4 .5 2.5 .5-3.8 .5 2.1 .5-.1 .5 1.4 .5-1.9 .5 5.1 .5-5.5 .5 .6 .5-4.6 .5 8.4 .5-3.7 .5-1 .5 5.1 .5 .3 .5-2.4 .5-2.5 .5 3.3 .5-1.8 .5-.4 .5 4.1 .5-5.9 .5 5.2 .5-.6 .5 4.2 .5-3.7 .5-4.5 .5 2.9 .5 1.4 .5 .3 .5 1.8 .5-5.6 .5 4.1 .5 2.5 .5 1.3 .5 .1 .5-4.7 .5 2.5 .5 1 .5-.9 .5-.7 .5 .6 .5-2.4 .5-1.1 .5 5.5 .5-1.3 .5 2.1 .5-.2 .5 1.1 .5 2.5 .5-2.2 .5 2 .5 1.2 .5 1.9 .5 0 .5 3.8 .5 3.9 .5-3.3 .5 4.4 .5 .1 .5-6.2 .5 4.6 .5 .3 .5 2.9 .5-.2 .5 .6 .5 0 .5-2.1 .5 .7 .5-1.1 .5 1.5 .5-.1 .5 .7 .5-2.4 .5 3.5 .5 .5 .5 0 .5-1.7 .5-.7 .5 1.4 .5 .3 .5-1.8 .5 4.2 .5 1.1 .5 .9 .5-3.4 .5 .4 .5 .1 .5-.1 .5 1.4 .5-1.1 .5 1.1 .5 4.9 .5-3.1 .5 .5 .5 2.6 .5-.4 .5 1.4 .5-.5 .5-1.8 .5 2.4 .5-1.8 .5 3.4 .5-2.5 .5 4.8 .5 .3 .5-.5 .5 1.1 .5 1.4 .5-4.2 .5 2.3 .5 3 .5 1.1 .5-.9 .5-2.6 .5 .7 .5-2.9 .5-1.5 .5 3.3 .5-1.3 .5 2 .5-.7 .5 .3 .5-.6 .5-.5 .5 .4 .5-.7 .5 8.4 .5-7.4 .5 2.6 .5 .3 .5-.5 .5-.2 .5-3.3 .5 2.6 .5-.2 .5 2.5 .5-.6 .5-.7 .5 1.8 .5-.9 .5 4 .5-2.3 .5 .9 .5-3.6 .5 4.4 .5-2.6 .5 2.1 .5-.8 .5-.5 .5-.4 .5-1.5 .5 3.4 .5-1.6 .5-1.9 .5-3.7 .5-1.1 .5 1.6 .5 .4 .5 .4 .5-3.6 .5 3.4 .5-3 .5-4.9 .5 2.5 .5-4.2 .5 2.3 .5-.8 .5-.3 .5 1.8 .5-.4 .5 .5 .5 4.4 .5-.3 .5-4.9 .5 5.1 .5-6 .5 2.6 .5 5 .5-7 .5 6 .5-2.8 .5 2.8 .5 .4 .5 4.2 .5-4 .5 1.5 .5 .6 .5-1.6 .5-2.1 .5 1.4 .5 .4 .5 2.2 .5-3.4 .5 1.2 .5 1.8 .5-.7 .5-.4 .5 .9 .5-1.7 .5 .2 .5 2.1 .5-2.7 .5 4.4 .5-1.2 .5-2 .5 3.7 .5 .2 .5 1.7 .5 0 .5-2.5 .5-.3 .5 .4 .5-1.3 .5 .7 .5 1.5 .5-.2 .5-.6 .5 .2 .5 2.6 .5-1.6 .5-1 .5 2.1 .5-.7 .5-.7 .5 3.4 .5 .7 .5-.7 .5 0 .5 .1 .5 .1 .5 2.9 .5 1.9 .5-3.1 .5 1 .5 .7 .5-3.1 .5-1.8 .5 5.1 .5-6.4 .5 6.8 .5-1.1 .5-1.4 .5-.5 .5 3.2 .5-5.4 .5-.4 .5-.4 .5 1.3 .5-1.5 .5 1.3 .5 .4 .5-1.8 .5 5.3 .5-5.6 .5 1.3 .5 4.6 .5-1.1 .5 .8 .5-1.8 .5-1.2 .5 1.7 .5-.4 .5 2.7 .5-2.6 .5 2.2 .5 .1 .5 1.5 .5-.4 .5 1.1 .5-.1 .5-2.8 .5 1.6 .5-3.2 .5 4.9 .5-1.8 .5 .6 .5 .7 .5-4.8 .5 .2 .5 .8 .5-1.4 .5 1.5 .5-3.2 .5 1.9 .5-3.2 .5-1.5 .5 5.7 .5-4 .5 2.1 .5-1.8 .5-.7 .5 1.7 .5-.3 .5 3 .5-.4 .5-1.2 .5 2.6" fill="none" stroke="#f0f" stroke-width="4.4" stroke-linejoin="round" stroke-linecap="round"/>
<path d="M959 2414V2397" stroke-width="3.2" fill="none"/>
<path d="M959 2385L966.4 2407.5L959 2402L951.6 2407.5Z" stroke="none" fill="#000"/>
<path d="M959 2697V2681" stroke-width="3.2" fill="none"/>
<path d="M959 2669L966.4 2691.5L959 2686L951.6 2691.5Z" stroke="none" fill="#000"/>
<path d="M1141.8 2496.7V2547.6H1197.4" fill="none" stroke-width="3.5"/>
<line x1="1342.7" y1="2287.58" x2="1342.7" y2="2669.7" stroke-width="3.5"/>
<line x1="1328.2" y1="2668.2" x2="1342.7" y2="2668.2" stroke-width="3.5"/>
<text x="1327.2" y="2682.5" font-size="39.3" text-anchor="end">0</text>
<line x1="1328.2" y1="2573.4199999999996" x2="1342.7" y2="2573.4199999999996" stroke-width="3.5"/>
<text x="1327.2" y="2587.72" font-size="39.3" text-anchor="end">10</text>
<line x1="1328.2" y1="2478.64" x2="1342.7" y2="2478.64" stroke-width="3.5"/>
<text x="1327.2" y="2492.94" font-size="39.3" text-anchor="end">20</text>
<line x1="1328.2" y1="2383.8599999999997" x2="1342.7" y2="2383.8599999999997" stroke-width="3.5"/>
<text x="1327.2" y="2398.16" font-size="39.3" text-anchor="end">30</text>
<line x1="1328.2" y1="2289.08" x2="1342.7" y2="2289.08" stroke-width="3.5"/>
<text x="1327.2" y="2303.38" font-size="39.3" text-anchor="end">40</text>
<text x="1267" y="2479.5" font-size="39.3" text-anchor="middle" transform="rotate(-90 1267 2479.5)">AUC</text>
<line x1="1328.2" y1="2668.2" x2="1688.5" y2="2668.2" stroke-width="3.5"/>
<rect x="1401.7" y="2552.2" width="66.6" height="116.0" fill="#f00" stroke="#000" stroke-width="3.5"/>
<line x1="1434.704433497537" y1="2552.2413793103447" x2="1434.704433497537" y2="2523.8793103448274" stroke-width="3.5"/>
<line x1="1418.704433497537" y1="2523.8793103448274" x2="1450.704433497537" y2="2523.8793103448274" stroke-width="3.5"/>
<rect x="1562.6" y="2437.6" width="66.6" height="230.6" fill="#f0f" stroke="#000" stroke-width="3.5"/>
<line x1="1595.615763546798" y1="2437.6354679802957" x2="1595.615763546798" y2="2392.487684729064" stroke-width="3.5"/>
<line x1="1579.615763546798" y1="2392.487684729064" x2="1611.615763546798" y2="2392.487684729064" stroke-width="3.5"/>
<line x1="1434.704433497537" y1="2470.628078817734" x2="1595.615763546798" y2="2418.5344827586205" stroke-width="3.5"/>
<line x1="1434.704433497537" y1="2501.884236453202" x2="1595.615763546798" y2="2292.3522167487686" stroke-width="3.5"/>
<line x1="1434.704433497537" y1="2535.4556650246304" x2="1595.615763546798" y2="2383.805418719212" stroke-width="3.5"/>
<line x1="1434.704433497537" y1="2540.0862068965516" x2="1595.615763546798" y2="2401.169950738916" stroke-width="3.5"/>
<line x1="1434.704433497537" y1="2595.073891625616" x2="1595.615763546798" y2="2548.768472906404" stroke-width="3.5"/>
<line x1="1434.704433497537" y1="2637.906403940887" x2="1595.615763546798" y2="2548.768472906404" stroke-width="3.5"/>
<circle cx="1434.7" cy="2470.6" r="10" stroke="none"/>
<circle cx="1595.6" cy="2418.5" r="10" stroke="none"/>
<circle cx="1434.7" cy="2501.9" r="10" stroke="none"/>
<circle cx="1595.6" cy="2292.4" r="10" stroke="none"/>
<circle cx="1434.7" cy="2535.5" r="10" stroke="none"/>
<circle cx="1595.6" cy="2383.8" r="10" stroke="none"/>
<circle cx="1434.7" cy="2540.1" r="10" stroke="none"/>
<circle cx="1595.6" cy="2401.2" r="10" stroke="none"/>
<circle cx="1434.7" cy="2595.1" r="10" stroke="none"/>
<circle cx="1595.6" cy="2548.8" r="10" stroke="none"/>
<circle cx="1434.7" cy="2637.9" r="10" stroke="none"/>
<circle cx="1595.6" cy="2548.8" r="10" stroke="none"/>
<line x1="1434.704433497537" y1="2272" x2="1595.615763546798" y2="2272" stroke-width="3.5"/>
<text x="1516.896551724138" y="2265.5" font-size="34" text-anchor="middle" letter-spacing="2">**</text>
</g></svg></body></html>
